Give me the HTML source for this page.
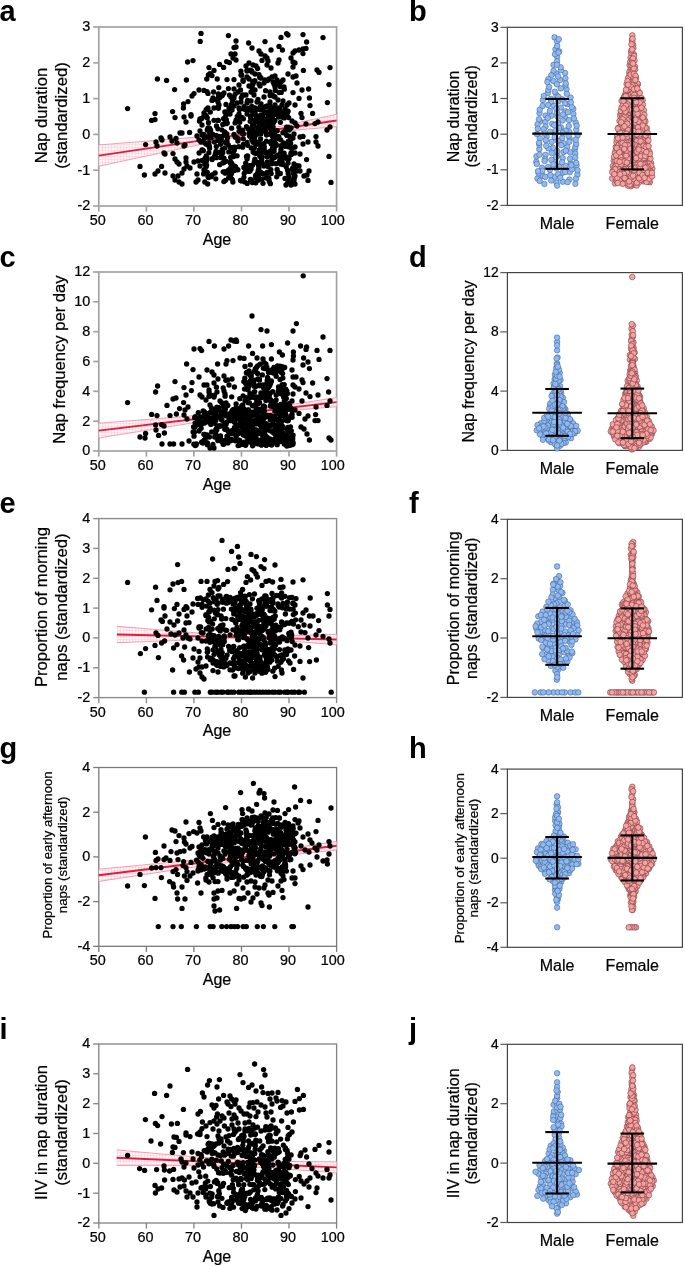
<!DOCTYPE html>
<html><head><meta charset="utf-8"><title>Nap figure</title><style>
html,body{margin:0;padding:0;background:#fff;overflow:hidden}
svg{display:block;will-change:transform}
text{font-family:"Liberation Sans",sans-serif;fill:#000;stroke:#000;stroke-width:.22px}
.lt{stroke:none}
.tk{font-size:14.4px}
.tk2{font-size:13.8px}
.ax{font-size:16px}
.tt{font-size:16.65px}
.tt2{font-size:16px}
.tts{font-size:13.2px}
.tts2{font-size:13.45px}
.lt{font-size:29px;font-weight:bold}
.k circle{r:2.65px;fill:#000}
.m circle{r:2.8px;fill:#8dbaf6;stroke:#3f5878;stroke-width:.5px}
.f circle{r:2.8px;fill:#f7a1a1;stroke:#703535;stroke-width:.55px}
.eb line{stroke:#000;stroke-width:2.1px}
.be{fill:none;stroke:#f27a93;stroke-width:.9px;opacity:.8}
.rl{stroke:#e8183c;stroke-width:1.9px}
</style></head><body>
<svg width="685" height="1266" viewBox="0 0 685 1266">
<defs><pattern id="hatch" width="3" height="3" patternUnits="userSpaceOnUse">
<rect width="3" height="3" fill="#fff5f7"/><path d="M0 0.5H3M0.5 0V3" stroke="#fbd0d9" stroke-width="0.6"/></pattern></defs>
<rect width="685" height="1266" fill="#fff"/>
<rect x="98.8" y="27.0" width="237.8" height="179.0" fill="none" stroke="#a3a3a3" stroke-width="1.7"/>
<line x1="93.2" y1="206.0" x2="98.8" y2="206.0" stroke="#a3a3a3" stroke-width="1.7"/>
<text x="90.2" y="210.4" text-anchor="end" class="tk">-2</text>
<line x1="93.2" y1="170.2" x2="98.8" y2="170.2" stroke="#a3a3a3" stroke-width="1.7"/>
<text x="90.2" y="174.6" text-anchor="end" class="tk">-1</text>
<line x1="93.2" y1="134.4" x2="98.8" y2="134.4" stroke="#a3a3a3" stroke-width="1.7"/>
<text x="90.2" y="138.8" text-anchor="end" class="tk">0</text>
<line x1="93.2" y1="98.6" x2="98.8" y2="98.6" stroke="#a3a3a3" stroke-width="1.7"/>
<text x="90.2" y="103.0" text-anchor="end" class="tk">1</text>
<line x1="93.2" y1="62.8" x2="98.8" y2="62.8" stroke="#a3a3a3" stroke-width="1.7"/>
<text x="90.2" y="67.2" text-anchor="end" class="tk">2</text>
<line x1="93.2" y1="27.0" x2="98.8" y2="27.0" stroke="#a3a3a3" stroke-width="1.7"/>
<text x="90.2" y="31.4" text-anchor="end" class="tk">3</text>
<line x1="98.8" y1="206.0" x2="98.8" y2="211.6" stroke="#a3a3a3" stroke-width="1.7"/>
<text x="97.8" y="224.9" text-anchor="middle" class="tk">50</text>
<line x1="146.4" y1="206.0" x2="146.4" y2="211.6" stroke="#a3a3a3" stroke-width="1.7"/>
<text x="145.4" y="224.9" text-anchor="middle" class="tk">60</text>
<line x1="193.9" y1="206.0" x2="193.9" y2="211.6" stroke="#a3a3a3" stroke-width="1.7"/>
<text x="192.9" y="224.9" text-anchor="middle" class="tk">70</text>
<line x1="241.5" y1="206.0" x2="241.5" y2="211.6" stroke="#a3a3a3" stroke-width="1.7"/>
<text x="240.5" y="224.9" text-anchor="middle" class="tk">80</text>
<line x1="289.0" y1="206.0" x2="289.0" y2="211.6" stroke="#a3a3a3" stroke-width="1.7"/>
<text x="288.0" y="224.9" text-anchor="middle" class="tk">90</text>
<line x1="336.6" y1="206.0" x2="336.6" y2="211.6" stroke="#a3a3a3" stroke-width="1.7"/>
<text x="332.7" y="224.9" text-anchor="middle" class="tk">100</text>
<text x="217" y="244.7" text-anchor="middle" class="ax">Age</text>
<polygon points="98.8,144.9 108.7,144.2 118.6,143.4 128.5,142.6 138.4,141.8 148.3,141.0 158.2,140.2 168.2,139.4 178.1,138.6 188.0,137.8 197.9,136.9 207.8,136.1 217.7,135.2 227.6,134.3 237.5,133.2 247.4,132.0 257.3,130.5 267.2,128.7 277.2,126.8 287.1,124.8 297.0,122.8 306.9,120.7 316.8,118.6 326.7,116.5 336.6,114.3 336.6,126.7 326.7,127.5 316.8,128.3 306.9,129.1 297.0,129.9 287.1,130.8 277.2,131.7 267.2,132.8 257.3,133.9 247.4,135.4 237.5,137.0 227.6,138.9 217.7,140.9 207.8,142.9 197.9,145.0 188.0,147.1 178.1,149.2 168.2,151.3 158.2,153.5 148.3,155.6 138.4,157.7 128.5,159.8 118.6,162.0 108.7,164.1 98.8,166.2" fill="url(#hatch)" stroke="none"/>
<polyline points="98.8,144.9 108.7,144.2 118.6,143.4 128.5,142.6 138.4,141.8 148.3,141.0 158.2,140.2 168.2,139.4 178.1,138.6 188.0,137.8 197.9,136.9 207.8,136.1 217.7,135.2 227.6,134.3 237.5,133.2 247.4,132.0 257.3,130.5 267.2,128.7 277.2,126.8 287.1,124.8 297.0,122.8 306.9,120.7 316.8,118.6 326.7,116.5 336.6,114.3" class="be"/>
<polyline points="98.8,166.2 108.7,164.1 118.6,162.0 128.5,159.8 138.4,157.7 148.3,155.6 158.2,153.5 168.2,151.3 178.1,149.2 188.0,147.1 197.9,145.0 207.8,142.9 217.7,140.9 227.6,138.9 237.5,137.0 247.4,135.4 257.3,133.9 267.2,132.8 277.2,131.7 287.1,130.8 297.0,129.9 306.9,129.1 316.8,128.3 326.7,127.5 336.6,126.7" class="be"/>
<line x1="98.8" y1="155.6" x2="336.6" y2="120.5" class="rl"/>
<g class="k">
<circle cx="255.9" cy="119.2" r="2.65"/>
<circle cx="264.3" cy="147" r="2.65"/>
<circle cx="259.7" cy="77.2" r="2.65"/>
<circle cx="255" cy="114" r="2.65"/>
<circle cx="276.8" cy="108.4" r="2.65"/>
<circle cx="302" cy="117.6" r="2.65"/>
<circle cx="288.3" cy="177.8" r="2.65"/>
<circle cx="219" cy="136.5" r="2.65"/>
<circle cx="217.8" cy="120.3" r="2.65"/>
<circle cx="207" cy="158" r="2.65"/>
<circle cx="216" cy="99.6" r="2.65"/>
<circle cx="280.9" cy="149.6" r="2.65"/>
<circle cx="202.4" cy="150.2" r="2.65"/>
<circle cx="226.6" cy="61.6" r="2.65"/>
<circle cx="262" cy="60.4" r="2.65"/>
<circle cx="261.4" cy="119.5" r="2.65"/>
<circle cx="221.8" cy="154.2" r="2.65"/>
<circle cx="270" cy="102" r="2.65"/>
<circle cx="209.6" cy="148.3" r="2.65"/>
<circle cx="178" cy="176" r="2.65"/>
<circle cx="316" cy="142" r="2.65"/>
<circle cx="222.8" cy="152.4" r="2.65"/>
<circle cx="249" cy="86" r="2.65"/>
<circle cx="262" cy="151.4" r="2.65"/>
<circle cx="312.6" cy="113.4" r="2.65"/>
<circle cx="207.8" cy="137.2" r="2.65"/>
<circle cx="206.6" cy="160.5" r="2.65"/>
<circle cx="252.9" cy="112.5" r="2.65"/>
<circle cx="207.1" cy="143.6" r="2.65"/>
<circle cx="247" cy="71" r="2.65"/>
<circle cx="279.3" cy="162" r="2.65"/>
<circle cx="190" cy="168" r="2.65"/>
<circle cx="236" cy="41" r="2.65"/>
<circle cx="225" cy="132.7" r="2.65"/>
<circle cx="255.8" cy="175.2" r="2.65"/>
<circle cx="186" cy="162" r="2.65"/>
<circle cx="289.1" cy="147.1" r="2.65"/>
<circle cx="282" cy="105" r="2.65"/>
<circle cx="304" cy="176" r="2.65"/>
<circle cx="230.6" cy="161.8" r="2.65"/>
<circle cx="286.8" cy="135.4" r="2.65"/>
<circle cx="244.2" cy="173.5" r="2.65"/>
<circle cx="256.6" cy="178.1" r="2.65"/>
<circle cx="140" cy="166.4" r="2.65"/>
<circle cx="189.6" cy="132.4" r="2.65"/>
<circle cx="242.8" cy="133.8" r="2.65"/>
<circle cx="278.2" cy="174" r="2.65"/>
<circle cx="245.5" cy="170.5" r="2.65"/>
<circle cx="203.6" cy="173.9" r="2.65"/>
<circle cx="199.5" cy="121.2" r="2.65"/>
<circle cx="248.6" cy="43" r="2.65"/>
<circle cx="271" cy="68" r="2.65"/>
<circle cx="262.5" cy="118" r="2.65"/>
<circle cx="222.9" cy="162.8" r="2.65"/>
<circle cx="294" cy="180" r="2.65"/>
<circle cx="318" cy="122" r="2.65"/>
<circle cx="210" cy="73.6" r="2.65"/>
<circle cx="203" cy="141.1" r="2.65"/>
<circle cx="221.1" cy="140.3" r="2.65"/>
<circle cx="261" cy="110" r="2.65"/>
<circle cx="267.1" cy="112.6" r="2.65"/>
<circle cx="216.3" cy="146.6" r="2.65"/>
<circle cx="225.3" cy="173.2" r="2.65"/>
<circle cx="214" cy="70.4" r="2.65"/>
<circle cx="270.2" cy="151.2" r="2.65"/>
<circle cx="276.3" cy="139.1" r="2.65"/>
<circle cx="272.1" cy="144.3" r="2.65"/>
<circle cx="180" cy="133" r="2.65"/>
<circle cx="267.6" cy="121.5" r="2.65"/>
<circle cx="303" cy="49" r="2.65"/>
<circle cx="228.8" cy="151.9" r="2.65"/>
<circle cx="211" cy="138" r="2.65"/>
<circle cx="270.1" cy="134" r="2.65"/>
<circle cx="271.7" cy="163.8" r="2.65"/>
<circle cx="230.2" cy="174.6" r="2.65"/>
<circle cx="209.6" cy="132.5" r="2.65"/>
<circle cx="231.4" cy="173.8" r="2.65"/>
<circle cx="234.3" cy="150.2" r="2.65"/>
<circle cx="250.8" cy="129.5" r="2.65"/>
<circle cx="261.1" cy="172.4" r="2.65"/>
<circle cx="252.3" cy="182.5" r="2.65"/>
<circle cx="252.5" cy="121.4" r="2.65"/>
<circle cx="214.7" cy="156.5" r="2.65"/>
<circle cx="252.4" cy="88.5" r="2.65"/>
<circle cx="206.6" cy="165.1" r="2.65"/>
<circle cx="271.1" cy="119.3" r="2.65"/>
<circle cx="278.8" cy="136.6" r="2.65"/>
<circle cx="250.2" cy="121.3" r="2.65"/>
<circle cx="234.6" cy="166.6" r="2.65"/>
<circle cx="209.5" cy="128.1" r="2.65"/>
<circle cx="255.2" cy="131.9" r="2.65"/>
<circle cx="127.6" cy="108.6" r="2.65"/>
<circle cx="200" cy="131" r="2.65"/>
<circle cx="252.4" cy="165.2" r="2.65"/>
<circle cx="306.6" cy="42" r="2.65"/>
<circle cx="280.4" cy="122.3" r="2.65"/>
<circle cx="274" cy="131.4" r="2.65"/>
<circle cx="299" cy="98.4" r="2.65"/>
<circle cx="231" cy="97" r="2.65"/>
<circle cx="316" cy="136.6" r="2.65"/>
<circle cx="291.9" cy="184" r="2.65"/>
<circle cx="291" cy="185" r="2.65"/>
<circle cx="271.5" cy="126.7" r="2.65"/>
<circle cx="233.1" cy="152.4" r="2.65"/>
<circle cx="272.1" cy="152" r="2.65"/>
<circle cx="182" cy="184" r="2.65"/>
<circle cx="212" cy="100.4" r="2.65"/>
<circle cx="252.4" cy="125.6" r="2.65"/>
<circle cx="293" cy="53" r="2.65"/>
<circle cx="258.9" cy="152.3" r="2.65"/>
<circle cx="212.1" cy="159.5" r="2.65"/>
<circle cx="204.5" cy="137.4" r="2.65"/>
<circle cx="227.3" cy="123.1" r="2.65"/>
<circle cx="275" cy="105" r="2.65"/>
<circle cx="306" cy="124" r="2.65"/>
<circle cx="267" cy="173.2" r="2.65"/>
<circle cx="216" cy="151.3" r="2.65"/>
<circle cx="247.1" cy="159" r="2.65"/>
<circle cx="287.6" cy="183" r="2.65"/>
<circle cx="277" cy="80" r="2.65"/>
<circle cx="289" cy="182" r="2.65"/>
<circle cx="260.2" cy="125.5" r="2.65"/>
<circle cx="200" cy="166" r="2.65"/>
<circle cx="238" cy="92" r="2.65"/>
<circle cx="233.7" cy="169" r="2.65"/>
<circle cx="223.9" cy="181.6" r="2.65"/>
<circle cx="165" cy="154" r="2.65"/>
<circle cx="199" cy="90" r="2.65"/>
<circle cx="219.9" cy="97.6" r="2.65"/>
<circle cx="249.7" cy="136.2" r="2.65"/>
<circle cx="263.9" cy="143.7" r="2.65"/>
<circle cx="234" cy="106" r="2.65"/>
<circle cx="259.8" cy="109.5" r="2.65"/>
<circle cx="223.6" cy="118.7" r="2.65"/>
<circle cx="184" cy="169" r="2.65"/>
<circle cx="308" cy="180.4" r="2.65"/>
<circle cx="225" cy="147.8" r="2.65"/>
<circle cx="268.9" cy="178.5" r="2.65"/>
<circle cx="224" cy="93" r="2.65"/>
<circle cx="299" cy="166" r="2.65"/>
<circle cx="234.9" cy="155.8" r="2.65"/>
<circle cx="225.7" cy="115.9" r="2.65"/>
<circle cx="290.7" cy="138.7" r="2.65"/>
<circle cx="241.8" cy="180.9" r="2.65"/>
<circle cx="259.7" cy="155.7" r="2.65"/>
<circle cx="288.7" cy="158.7" r="2.65"/>
<circle cx="327.4" cy="102.6" r="2.65"/>
<circle cx="285" cy="109" r="2.65"/>
<circle cx="267.5" cy="80.5" r="2.65"/>
<circle cx="257.9" cy="127.4" r="2.65"/>
<circle cx="208" cy="128" r="2.65"/>
<circle cx="249.3" cy="133.2" r="2.65"/>
<circle cx="239" cy="85" r="2.65"/>
<circle cx="288.3" cy="127.3" r="2.65"/>
<circle cx="241" cy="102" r="2.65"/>
<circle cx="263" cy="183.3" r="2.65"/>
<circle cx="232.5" cy="100.5" r="2.65"/>
<circle cx="259.2" cy="142" r="2.65"/>
<circle cx="246" cy="66" r="2.65"/>
<circle cx="263.9" cy="129.3" r="2.65"/>
<circle cx="263.9" cy="166.1" r="2.65"/>
<circle cx="182" cy="173" r="2.65"/>
<circle cx="251.8" cy="139.4" r="2.65"/>
<circle cx="157" cy="146" r="2.65"/>
<circle cx="225.5" cy="180.3" r="2.65"/>
<circle cx="212.6" cy="134.1" r="2.65"/>
<circle cx="300" cy="171" r="2.65"/>
<circle cx="234" cy="89" r="2.65"/>
<circle cx="288.3" cy="157.5" r="2.65"/>
<circle cx="302" cy="90" r="2.65"/>
<circle cx="295" cy="176" r="2.65"/>
<circle cx="218" cy="102" r="2.65"/>
<circle cx="288.2" cy="173.5" r="2.65"/>
<circle cx="246.5" cy="156.4" r="2.65"/>
<circle cx="252.8" cy="125.1" r="2.65"/>
<circle cx="265" cy="80" r="2.65"/>
<circle cx="242.6" cy="147.2" r="2.65"/>
<circle cx="259.1" cy="124.1" r="2.65"/>
<circle cx="233.1" cy="147.4" r="2.65"/>
<circle cx="227" cy="112" r="2.65"/>
<circle cx="290.6" cy="143.2" r="2.65"/>
<circle cx="308.6" cy="89" r="2.65"/>
<circle cx="185" cy="145" r="2.65"/>
<circle cx="247.6" cy="100.3" r="2.65"/>
<circle cx="300" cy="154" r="2.65"/>
<circle cx="243.9" cy="167.4" r="2.65"/>
<circle cx="191" cy="114.6" r="2.65"/>
<circle cx="243" cy="80" r="2.65"/>
<circle cx="177" cy="162" r="2.65"/>
<circle cx="247" cy="142.4" r="2.65"/>
<circle cx="248.7" cy="171.4" r="2.65"/>
<circle cx="255" cy="108" r="2.65"/>
<circle cx="201" cy="142" r="2.65"/>
<circle cx="257.5" cy="163" r="2.65"/>
<circle cx="252.8" cy="110.7" r="2.65"/>
<circle cx="252.7" cy="135.6" r="2.65"/>
<circle cx="292.8" cy="168" r="2.65"/>
<circle cx="246.5" cy="126.6" r="2.65"/>
<circle cx="329" cy="156.4" r="2.65"/>
<circle cx="256" cy="66" r="2.65"/>
<circle cx="164" cy="153" r="2.65"/>
<circle cx="242.5" cy="94.8" r="2.65"/>
<circle cx="261.7" cy="159.5" r="2.65"/>
<circle cx="204.8" cy="164.2" r="2.65"/>
<circle cx="205.7" cy="159.1" r="2.65"/>
<circle cx="276.7" cy="112.1" r="2.65"/>
<circle cx="222.6" cy="136.1" r="2.65"/>
<circle cx="265.8" cy="119.1" r="2.65"/>
<circle cx="282.4" cy="50" r="2.65"/>
<circle cx="229.4" cy="111.3" r="2.65"/>
<circle cx="254.9" cy="136.6" r="2.65"/>
<circle cx="279.9" cy="112.3" r="2.65"/>
<circle cx="275.3" cy="90.4" r="2.65"/>
<circle cx="268.9" cy="123.8" r="2.65"/>
<circle cx="261" cy="54" r="2.65"/>
<circle cx="223.7" cy="162.6" r="2.65"/>
<circle cx="232.2" cy="179.3" r="2.65"/>
<circle cx="272.5" cy="148.5" r="2.65"/>
<circle cx="261" cy="78" r="2.65"/>
<circle cx="288.1" cy="142.5" r="2.65"/>
<circle cx="292.9" cy="183.2" r="2.65"/>
<circle cx="239" cy="114" r="2.65"/>
<circle cx="237.3" cy="116.4" r="2.65"/>
<circle cx="258.7" cy="180.1" r="2.65"/>
<circle cx="291.4" cy="154.1" r="2.65"/>
<circle cx="254.6" cy="153" r="2.65"/>
<circle cx="246" cy="95" r="2.65"/>
<circle cx="162" cy="140" r="2.65"/>
<circle cx="264" cy="83" r="2.65"/>
<circle cx="274.9" cy="120.4" r="2.65"/>
<circle cx="250" cy="171" r="2.65"/>
<circle cx="243.9" cy="177.3" r="2.65"/>
<circle cx="253.9" cy="125.9" r="2.65"/>
<circle cx="182" cy="133" r="2.65"/>
<circle cx="261" cy="104" r="2.65"/>
<circle cx="230" cy="114" r="2.65"/>
<circle cx="259" cy="166.5" r="2.65"/>
<circle cx="286.6" cy="33.6" r="2.65"/>
<circle cx="214" cy="120.3" r="2.65"/>
<circle cx="270" cy="92" r="2.65"/>
<circle cx="192" cy="96" r="2.65"/>
<circle cx="275.9" cy="163.7" r="2.65"/>
<circle cx="236" cy="60" r="2.65"/>
<circle cx="207.3" cy="118" r="2.65"/>
<circle cx="227" cy="79.6" r="2.65"/>
<circle cx="183.4" cy="108" r="2.65"/>
<circle cx="271.2" cy="173.6" r="2.65"/>
<circle cx="297" cy="126" r="2.65"/>
<circle cx="251.2" cy="86.5" r="2.65"/>
<circle cx="231.3" cy="172.2" r="2.65"/>
<circle cx="265.7" cy="152" r="2.65"/>
<circle cx="170" cy="137" r="2.65"/>
<circle cx="277.6" cy="136.3" r="2.65"/>
<circle cx="207.3" cy="130" r="2.65"/>
<circle cx="291.9" cy="148.4" r="2.65"/>
<circle cx="267.8" cy="152.9" r="2.65"/>
<circle cx="290" cy="146" r="2.65"/>
<circle cx="274.2" cy="114.7" r="2.65"/>
<circle cx="218.4" cy="108.3" r="2.65"/>
<circle cx="197" cy="174" r="2.65"/>
<circle cx="286.2" cy="166.8" r="2.65"/>
<circle cx="188" cy="101.6" r="2.65"/>
<circle cx="220.7" cy="157.5" r="2.65"/>
<circle cx="283" cy="112" r="2.65"/>
<circle cx="161" cy="138" r="2.65"/>
<circle cx="244" cy="109" r="2.65"/>
<circle cx="309" cy="171" r="2.65"/>
<circle cx="264" cy="149.4" r="2.65"/>
<circle cx="253.3" cy="138.1" r="2.65"/>
<circle cx="271.1" cy="129.1" r="2.65"/>
<circle cx="237.9" cy="169.8" r="2.65"/>
<circle cx="203.3" cy="150.7" r="2.65"/>
<circle cx="275.6" cy="131" r="2.65"/>
<circle cx="219.7" cy="164.7" r="2.65"/>
<circle cx="291" cy="153" r="2.65"/>
<circle cx="177" cy="143" r="2.65"/>
<circle cx="203.8" cy="134.4" r="2.65"/>
<circle cx="288.1" cy="111.2" r="2.65"/>
<circle cx="279.7" cy="155.5" r="2.65"/>
<circle cx="251.8" cy="85.6" r="2.65"/>
<circle cx="289" cy="103" r="2.65"/>
<circle cx="210.3" cy="112.1" r="2.65"/>
<circle cx="229.4" cy="62.6" r="2.65"/>
<circle cx="198" cy="161" r="2.65"/>
<circle cx="285.2" cy="130.9" r="2.65"/>
<circle cx="191" cy="116" r="2.65"/>
<circle cx="273.6" cy="122.5" r="2.65"/>
<circle cx="208.9" cy="152.7" r="2.65"/>
<circle cx="204.3" cy="135.5" r="2.65"/>
<circle cx="275.4" cy="111.2" r="2.65"/>
<circle cx="277.2" cy="130.7" r="2.65"/>
<circle cx="222.6" cy="94.4" r="2.65"/>
<circle cx="288.7" cy="142.1" r="2.65"/>
<circle cx="255" cy="90" r="2.65"/>
<circle cx="289.2" cy="130.1" r="2.65"/>
<circle cx="231.1" cy="168.8" r="2.65"/>
<circle cx="234" cy="47.6" r="2.65"/>
<circle cx="261.4" cy="120.1" r="2.65"/>
<circle cx="212.1" cy="174.8" r="2.65"/>
<circle cx="273.3" cy="139.3" r="2.65"/>
<circle cx="288.6" cy="117.6" r="2.65"/>
<circle cx="260.8" cy="133.9" r="2.65"/>
<circle cx="275" cy="76" r="2.65"/>
<circle cx="234.9" cy="166.3" r="2.65"/>
<circle cx="218" cy="140.5" r="2.65"/>
<circle cx="218.4" cy="152.3" r="2.65"/>
<circle cx="262.3" cy="173.6" r="2.65"/>
<circle cx="274.1" cy="133.4" r="2.65"/>
<circle cx="199" cy="140" r="2.65"/>
<circle cx="227.5" cy="137.7" r="2.65"/>
<circle cx="239.7" cy="122.3" r="2.65"/>
<circle cx="268.7" cy="124.8" r="2.65"/>
<circle cx="284.3" cy="89.2" r="2.65"/>
<circle cx="204.7" cy="142.8" r="2.65"/>
<circle cx="229.8" cy="174.2" r="2.65"/>
<circle cx="288.8" cy="128.6" r="2.65"/>
<circle cx="202.2" cy="160.5" r="2.65"/>
<circle cx="234" cy="98" r="2.65"/>
<circle cx="265.6" cy="132" r="2.65"/>
<circle cx="292.1" cy="182.6" r="2.65"/>
<circle cx="271" cy="155.9" r="2.65"/>
<circle cx="295" cy="147" r="2.65"/>
<circle cx="281.6" cy="157.4" r="2.65"/>
<circle cx="172.6" cy="111.6" r="2.65"/>
<circle cx="323" cy="37.6" r="2.65"/>
<circle cx="296" cy="76" r="2.65"/>
<circle cx="221.8" cy="129.8" r="2.65"/>
<circle cx="295" cy="184" r="2.65"/>
<circle cx="327" cy="130" r="2.65"/>
<circle cx="278" cy="63" r="2.65"/>
<circle cx="212.2" cy="134.8" r="2.65"/>
<circle cx="246.4" cy="109.8" r="2.65"/>
<circle cx="306" cy="48.4" r="2.65"/>
<circle cx="269.3" cy="181.5" r="2.65"/>
<circle cx="267.2" cy="156.7" r="2.65"/>
<circle cx="204.8" cy="169.9" r="2.65"/>
<circle cx="218.3" cy="120.4" r="2.65"/>
<circle cx="295.3" cy="169.5" r="2.65"/>
<circle cx="251" cy="101" r="2.65"/>
<circle cx="210.6" cy="129.9" r="2.65"/>
<circle cx="243.4" cy="133.9" r="2.65"/>
<circle cx="239" cy="108" r="2.65"/>
<circle cx="220.7" cy="153.6" r="2.65"/>
<circle cx="247.2" cy="183.4" r="2.65"/>
<circle cx="155" cy="174" r="2.65"/>
<circle cx="266.6" cy="135.1" r="2.65"/>
<circle cx="217.9" cy="128.8" r="2.65"/>
<circle cx="260.4" cy="125.1" r="2.65"/>
<circle cx="200.2" cy="41.4" r="2.65"/>
<circle cx="207" cy="91.6" r="2.65"/>
<circle cx="218.8" cy="87.6" r="2.65"/>
<circle cx="260.5" cy="139" r="2.65"/>
<circle cx="268.4" cy="115" r="2.65"/>
<circle cx="274" cy="84" r="2.65"/>
<circle cx="225.4" cy="142.5" r="2.65"/>
<circle cx="306.6" cy="159.6" r="2.65"/>
<circle cx="242.9" cy="130.1" r="2.65"/>
<circle cx="175" cy="117.6" r="2.65"/>
<circle cx="280.1" cy="158.7" r="2.65"/>
<circle cx="247" cy="114" r="2.65"/>
<circle cx="212" cy="75.6" r="2.65"/>
<circle cx="256.3" cy="108.9" r="2.65"/>
<circle cx="273.2" cy="96" r="2.65"/>
<circle cx="243.8" cy="95.1" r="2.65"/>
<circle cx="278" cy="84" r="2.65"/>
<circle cx="286.6" cy="127.1" r="2.65"/>
<circle cx="293" cy="67" r="2.65"/>
<circle cx="294.3" cy="177.7" r="2.65"/>
<circle cx="268.1" cy="178" r="2.65"/>
<circle cx="240.5" cy="89.9" r="2.65"/>
<circle cx="274.4" cy="141" r="2.65"/>
<circle cx="253.9" cy="134.6" r="2.65"/>
<circle cx="297" cy="83" r="2.65"/>
<circle cx="253" cy="121.7" r="2.65"/>
<circle cx="221" cy="138.5" r="2.65"/>
<circle cx="293" cy="77" r="2.65"/>
<circle cx="161.6" cy="166.4" r="2.65"/>
<circle cx="287" cy="105" r="2.65"/>
<circle cx="258.6" cy="165.6" r="2.65"/>
<circle cx="252.6" cy="110.4" r="2.65"/>
<circle cx="288.9" cy="143.3" r="2.65"/>
<circle cx="214" cy="108" r="2.65"/>
<circle cx="253.1" cy="142.3" r="2.65"/>
<circle cx="256.2" cy="153.4" r="2.65"/>
<circle cx="266.1" cy="165.1" r="2.65"/>
<circle cx="235.6" cy="166.9" r="2.65"/>
<circle cx="252.8" cy="140.9" r="2.65"/>
<circle cx="329" cy="84.6" r="2.65"/>
<circle cx="289" cy="176.6" r="2.65"/>
<circle cx="319" cy="72.4" r="2.65"/>
<circle cx="267" cy="65" r="2.65"/>
<circle cx="226" cy="104.4" r="2.65"/>
<circle cx="218.3" cy="138.2" r="2.65"/>
<circle cx="270.4" cy="183.7" r="2.65"/>
<circle cx="274.5" cy="157.6" r="2.65"/>
<circle cx="279.2" cy="92.5" r="2.65"/>
<circle cx="270.8" cy="169.7" r="2.65"/>
<circle cx="245.7" cy="163.2" r="2.65"/>
<circle cx="256.6" cy="131.9" r="2.65"/>
<circle cx="274" cy="108.3" r="2.65"/>
<circle cx="277" cy="114" r="2.65"/>
<circle cx="229.5" cy="95.1" r="2.65"/>
<circle cx="283" cy="101" r="2.65"/>
<circle cx="246.2" cy="108.7" r="2.65"/>
<circle cx="254" cy="81.7" r="2.65"/>
<circle cx="155" cy="113.6" r="2.65"/>
<circle cx="259" cy="84" r="2.65"/>
<circle cx="280.7" cy="139.8" r="2.65"/>
<circle cx="215.1" cy="173" r="2.65"/>
<circle cx="270" cy="109.6" r="2.65"/>
<circle cx="253.8" cy="110.2" r="2.65"/>
<circle cx="259" cy="74.6" r="2.65"/>
<circle cx="249" cy="110" r="2.65"/>
<circle cx="303.4" cy="70.4" r="2.65"/>
<circle cx="303" cy="53.6" r="2.65"/>
<circle cx="194" cy="93.6" r="2.65"/>
<circle cx="206.5" cy="160.7" r="2.65"/>
<circle cx="251.8" cy="106.3" r="2.65"/>
<circle cx="235.3" cy="136.6" r="2.65"/>
<circle cx="265.5" cy="127.4" r="2.65"/>
<circle cx="274.2" cy="148.5" r="2.65"/>
<circle cx="249" cy="108.4" r="2.65"/>
<circle cx="261.3" cy="118" r="2.65"/>
<circle cx="229.2" cy="172.4" r="2.65"/>
<circle cx="281.4" cy="116.2" r="2.65"/>
<circle cx="187.6" cy="62" r="2.65"/>
<circle cx="287.5" cy="170.1" r="2.65"/>
<circle cx="230.4" cy="176.3" r="2.65"/>
<circle cx="257.3" cy="179.8" r="2.65"/>
<circle cx="259" cy="143.9" r="2.65"/>
<circle cx="280.3" cy="173.5" r="2.65"/>
<circle cx="175" cy="180" r="2.65"/>
<circle cx="202" cy="125" r="2.65"/>
<circle cx="283" cy="80" r="2.65"/>
<circle cx="268.5" cy="115.3" r="2.65"/>
<circle cx="211.1" cy="176.7" r="2.65"/>
<circle cx="240.5" cy="180.5" r="2.65"/>
<circle cx="172" cy="141" r="2.65"/>
<circle cx="252.5" cy="120.7" r="2.65"/>
<circle cx="184" cy="146" r="2.65"/>
<circle cx="202" cy="135" r="2.65"/>
<circle cx="272.1" cy="130.2" r="2.65"/>
<circle cx="280.4" cy="159.2" r="2.65"/>
<circle cx="206.2" cy="156" r="2.65"/>
<circle cx="175" cy="159" r="2.65"/>
<circle cx="234" cy="79.6" r="2.65"/>
<circle cx="232.9" cy="106.1" r="2.65"/>
<circle cx="210" cy="135" r="2.65"/>
<circle cx="292" cy="121" r="2.65"/>
<circle cx="267.1" cy="172.4" r="2.65"/>
<circle cx="251.4" cy="128.9" r="2.65"/>
<circle cx="202" cy="150" r="2.65"/>
<circle cx="174.6" cy="89.6" r="2.65"/>
<circle cx="224" cy="158.1" r="2.65"/>
<circle cx="260" cy="85.9" r="2.65"/>
<circle cx="273.9" cy="108.4" r="2.65"/>
<circle cx="222.8" cy="124.4" r="2.65"/>
<circle cx="207.3" cy="172.3" r="2.65"/>
<circle cx="218.4" cy="94" r="2.65"/>
<circle cx="286.2" cy="110.9" r="2.65"/>
<circle cx="224.6" cy="132" r="2.65"/>
<circle cx="243.4" cy="118.8" r="2.65"/>
<circle cx="234" cy="134.4" r="2.65"/>
<circle cx="254.9" cy="80.7" r="2.65"/>
<circle cx="208.5" cy="122.7" r="2.65"/>
<circle cx="157.4" cy="79" r="2.65"/>
<circle cx="237" cy="103" r="2.65"/>
<circle cx="274" cy="151.3" r="2.65"/>
<circle cx="158" cy="171" r="2.65"/>
<circle cx="243.9" cy="106.7" r="2.65"/>
<circle cx="272.5" cy="113.1" r="2.65"/>
<circle cx="289" cy="158" r="2.65"/>
<circle cx="251" cy="92" r="2.65"/>
<circle cx="293" cy="138" r="2.65"/>
<circle cx="250.2" cy="70.1" r="2.65"/>
<circle cx="204" cy="113" r="2.65"/>
<circle cx="226.8" cy="134" r="2.65"/>
<circle cx="268" cy="61" r="2.65"/>
<circle cx="259.2" cy="149.8" r="2.65"/>
<circle cx="204" cy="170" r="2.65"/>
<circle cx="254.3" cy="147.8" r="2.65"/>
<circle cx="252" cy="48" r="2.65"/>
<circle cx="303" cy="144" r="2.65"/>
<circle cx="291" cy="58" r="2.65"/>
<circle cx="282.9" cy="132.7" r="2.65"/>
<circle cx="237.5" cy="119" r="2.65"/>
<circle cx="219.6" cy="64.4" r="2.65"/>
<circle cx="271.9" cy="123.5" r="2.65"/>
<circle cx="247.9" cy="166.2" r="2.65"/>
<circle cx="270.6" cy="133.6" r="2.65"/>
<circle cx="241.9" cy="117.3" r="2.65"/>
<circle cx="206.2" cy="166.5" r="2.65"/>
<circle cx="282.1" cy="161.9" r="2.65"/>
<circle cx="293" cy="169" r="2.65"/>
<circle cx="252.5" cy="110.2" r="2.65"/>
<circle cx="278" cy="100" r="2.65"/>
<circle cx="231.8" cy="163.5" r="2.65"/>
<circle cx="330" cy="127" r="2.65"/>
<circle cx="201.8" cy="118.5" r="2.65"/>
<circle cx="288" cy="74" r="2.65"/>
<circle cx="280.6" cy="164" r="2.65"/>
<circle cx="268.3" cy="127.3" r="2.65"/>
<circle cx="255.8" cy="144.6" r="2.65"/>
<circle cx="280.7" cy="152.7" r="2.65"/>
<circle cx="222.2" cy="149.5" r="2.65"/>
<circle cx="247" cy="103" r="2.65"/>
<circle cx="252.7" cy="81.3" r="2.65"/>
<circle cx="239.1" cy="131.3" r="2.65"/>
<circle cx="296.8" cy="165.6" r="2.65"/>
<circle cx="288" cy="163" r="2.65"/>
<circle cx="209.4" cy="146.4" r="2.65"/>
<circle cx="280.1" cy="86.5" r="2.65"/>
<circle cx="295" cy="123" r="2.65"/>
<circle cx="232" cy="110" r="2.65"/>
<circle cx="243.3" cy="144.3" r="2.65"/>
<circle cx="253.1" cy="152.1" r="2.65"/>
<circle cx="277.5" cy="155.2" r="2.65"/>
<circle cx="307" cy="175" r="2.65"/>
<circle cx="226.2" cy="161.3" r="2.65"/>
<circle cx="289.4" cy="136.1" r="2.65"/>
<circle cx="251.2" cy="147.9" r="2.65"/>
<circle cx="200" cy="119" r="2.65"/>
<circle cx="279" cy="46.4" r="2.65"/>
<circle cx="266.4" cy="141.2" r="2.65"/>
<circle cx="257.6" cy="68.5" r="2.65"/>
<circle cx="267" cy="112" r="2.65"/>
<circle cx="284.1" cy="153.1" r="2.65"/>
<circle cx="248.4" cy="129" r="2.65"/>
<circle cx="251.6" cy="70.9" r="2.65"/>
<circle cx="259.9" cy="143.8" r="2.65"/>
<circle cx="261" cy="146.7" r="2.65"/>
<circle cx="236.1" cy="120.1" r="2.65"/>
<circle cx="245.8" cy="109.5" r="2.65"/>
<circle cx="310" cy="105.6" r="2.65"/>
<circle cx="276.2" cy="144.5" r="2.65"/>
<circle cx="250.6" cy="117.4" r="2.65"/>
<circle cx="206.1" cy="109.7" r="2.65"/>
<circle cx="206.8" cy="79" r="2.65"/>
<circle cx="187" cy="166" r="2.65"/>
<circle cx="317" cy="70" r="2.65"/>
<circle cx="270.1" cy="95.5" r="2.65"/>
<circle cx="222.1" cy="95.7" r="2.65"/>
<circle cx="285.6" cy="156.7" r="2.65"/>
<circle cx="166.6" cy="80.4" r="2.65"/>
<circle cx="303" cy="136.4" r="2.65"/>
<circle cx="295" cy="63" r="2.65"/>
<circle cx="277.1" cy="169.5" r="2.65"/>
<circle cx="309.4" cy="98" r="2.65"/>
<circle cx="269.1" cy="121" r="2.65"/>
<circle cx="212.2" cy="158.7" r="2.65"/>
<circle cx="280.4" cy="116.6" r="2.65"/>
<circle cx="241.3" cy="97.7" r="2.65"/>
<circle cx="226.2" cy="123.7" r="2.65"/>
<circle cx="318" cy="146" r="2.65"/>
<circle cx="223.4" cy="162.6" r="2.65"/>
<circle cx="259.3" cy="120.6" r="2.65"/>
<circle cx="288.4" cy="141.1" r="2.65"/>
<circle cx="255.9" cy="162" r="2.65"/>
<circle cx="264.2" cy="152.2" r="2.65"/>
<circle cx="224.9" cy="112" r="2.65"/>
<circle cx="247.7" cy="145.3" r="2.65"/>
<circle cx="303" cy="34.6" r="2.65"/>
<circle cx="276.2" cy="145.3" r="2.65"/>
<circle cx="206" cy="144" r="2.65"/>
<circle cx="260" cy="115.6" r="2.65"/>
<circle cx="205" cy="158.5" r="2.65"/>
<circle cx="151.6" cy="120.4" r="2.65"/>
<circle cx="165" cy="173" r="2.65"/>
<circle cx="216.5" cy="125.9" r="2.65"/>
<circle cx="265.3" cy="106.7" r="2.65"/>
<circle cx="209" cy="67.6" r="2.65"/>
<circle cx="235.3" cy="137.2" r="2.65"/>
<circle cx="293.6" cy="173.5" r="2.65"/>
<circle cx="197" cy="136" r="2.65"/>
<circle cx="271.8" cy="113" r="2.65"/>
<circle cx="272.4" cy="116.2" r="2.65"/>
<circle cx="243.2" cy="81.3" r="2.65"/>
<circle cx="228.4" cy="88.6" r="2.65"/>
<circle cx="186" cy="158" r="2.65"/>
<circle cx="271.1" cy="141.6" r="2.65"/>
<circle cx="275.5" cy="156.6" r="2.65"/>
<circle cx="232.9" cy="182" r="2.65"/>
<circle cx="279" cy="108" r="2.65"/>
<circle cx="145.6" cy="144.6" r="2.65"/>
<circle cx="183.6" cy="104" r="2.65"/>
<circle cx="271.8" cy="160.2" r="2.65"/>
<circle cx="269" cy="79" r="2.65"/>
<circle cx="301" cy="113.4" r="2.65"/>
<circle cx="215.4" cy="153.8" r="2.65"/>
<circle cx="272" cy="95" r="2.65"/>
<circle cx="233.8" cy="165.8" r="2.65"/>
<circle cx="258.8" cy="131.8" r="2.65"/>
<circle cx="258.2" cy="170.4" r="2.65"/>
<circle cx="217.2" cy="79" r="2.65"/>
<circle cx="265" cy="41.6" r="2.65"/>
<circle cx="257" cy="102" r="2.65"/>
<circle cx="176" cy="138.4" r="2.65"/>
<circle cx="230.3" cy="168.5" r="2.65"/>
<circle cx="281" cy="37.4" r="2.65"/>
<circle cx="227" cy="141.2" r="2.65"/>
<circle cx="295" cy="105" r="2.65"/>
<circle cx="243.3" cy="138.8" r="2.65"/>
<circle cx="235.1" cy="94.3" r="2.65"/>
<circle cx="262.9" cy="108.4" r="2.65"/>
<circle cx="258" cy="99.4" r="2.65"/>
<circle cx="284.2" cy="117.9" r="2.65"/>
<circle cx="179" cy="164" r="2.65"/>
<circle cx="204" cy="116" r="2.65"/>
<circle cx="273" cy="111" r="2.65"/>
<circle cx="287.5" cy="111.8" r="2.65"/>
<circle cx="258.4" cy="176.4" r="2.65"/>
<circle cx="234.8" cy="147.2" r="2.65"/>
<circle cx="235.1" cy="122.9" r="2.65"/>
<circle cx="255.8" cy="182.8" r="2.65"/>
<circle cx="295" cy="153" r="2.65"/>
<circle cx="254.3" cy="161.8" r="2.65"/>
<circle cx="264" cy="97" r="2.65"/>
<circle cx="260.4" cy="77.7" r="2.65"/>
<circle cx="236.5" cy="120.3" r="2.65"/>
<circle cx="228.7" cy="177.8" r="2.65"/>
<circle cx="225.1" cy="171.7" r="2.65"/>
<circle cx="206.2" cy="115.7" r="2.65"/>
<circle cx="263.2" cy="122.4" r="2.65"/>
<circle cx="273.1" cy="126.8" r="2.65"/>
<circle cx="238.8" cy="146.7" r="2.65"/>
<circle cx="247.6" cy="155.9" r="2.65"/>
<circle cx="230.6" cy="147.7" r="2.65"/>
<circle cx="247.2" cy="70.2" r="2.65"/>
<circle cx="279.1" cy="112.7" r="2.65"/>
<circle cx="241.7" cy="74.9" r="2.65"/>
<circle cx="265" cy="125.9" r="2.65"/>
<circle cx="213.6" cy="92" r="2.65"/>
<circle cx="291" cy="128" r="2.65"/>
<circle cx="271.8" cy="115" r="2.65"/>
<circle cx="198" cy="180" r="2.65"/>
<circle cx="293" cy="92.6" r="2.65"/>
<circle cx="265.9" cy="152.7" r="2.65"/>
<circle cx="300" cy="137" r="2.65"/>
<circle cx="260.9" cy="157.4" r="2.65"/>
<circle cx="231.6" cy="128.2" r="2.65"/>
<circle cx="258.3" cy="116.5" r="2.65"/>
<circle cx="207.7" cy="184" r="2.65"/>
<circle cx="265.6" cy="90.7" r="2.65"/>
<circle cx="291.2" cy="154.4" r="2.65"/>
<circle cx="251.4" cy="131.5" r="2.65"/>
<circle cx="173" cy="176" r="2.65"/>
<circle cx="199.1" cy="153" r="2.65"/>
<circle cx="285" cy="178.4" r="2.65"/>
<circle cx="155" cy="119.6" r="2.65"/>
<circle cx="230.6" cy="157.4" r="2.65"/>
<circle cx="260.1" cy="106.9" r="2.65"/>
<circle cx="241" cy="75" r="2.65"/>
<circle cx="196" cy="182" r="2.65"/>
<circle cx="294" cy="164" r="2.65"/>
<circle cx="270.7" cy="134.1" r="2.65"/>
<circle cx="267" cy="58" r="2.65"/>
<circle cx="247" cy="77" r="2.65"/>
<circle cx="274.7" cy="134.9" r="2.65"/>
<circle cx="255.3" cy="110.8" r="2.65"/>
<circle cx="237.2" cy="169.5" r="2.65"/>
<circle cx="238.9" cy="127.3" r="2.65"/>
<circle cx="231" cy="54" r="2.65"/>
<circle cx="293.1" cy="179.3" r="2.65"/>
<circle cx="228.4" cy="35.6" r="2.65"/>
<circle cx="233" cy="58" r="2.65"/>
<circle cx="292.1" cy="169.4" r="2.65"/>
<circle cx="253" cy="65" r="2.65"/>
<circle cx="173" cy="153.6" r="2.65"/>
<circle cx="261.6" cy="162.8" r="2.65"/>
<circle cx="237.9" cy="141" r="2.65"/>
<circle cx="207.9" cy="107.9" r="2.65"/>
<circle cx="208.4" cy="75" r="2.65"/>
<circle cx="186" cy="122" r="2.65"/>
<circle cx="218.6" cy="96.8" r="2.65"/>
<circle cx="267.9" cy="166.6" r="2.65"/>
<circle cx="208" cy="93.4" r="2.65"/>
<circle cx="255" cy="74" r="2.65"/>
<circle cx="262.3" cy="163.1" r="2.65"/>
<circle cx="256.6" cy="178.6" r="2.65"/>
<circle cx="250.4" cy="179.4" r="2.65"/>
<circle cx="214.9" cy="156.3" r="2.65"/>
<circle cx="233" cy="156" r="2.65"/>
<circle cx="267" cy="106" r="2.65"/>
<circle cx="254.9" cy="162.6" r="2.65"/>
<circle cx="267.3" cy="162" r="2.65"/>
<circle cx="208.5" cy="177.6" r="2.65"/>
<circle cx="275" cy="97" r="2.65"/>
<circle cx="204.8" cy="182" r="2.65"/>
<circle cx="252" cy="72" r="2.65"/>
<circle cx="279" cy="60" r="2.65"/>
<circle cx="208.6" cy="145.5" r="2.65"/>
<circle cx="263.5" cy="174" r="2.65"/>
<circle cx="251.5" cy="179.9" r="2.65"/>
<circle cx="144.4" cy="175" r="2.65"/>
<circle cx="295" cy="51" r="2.65"/>
<circle cx="262.2" cy="156.8" r="2.65"/>
<circle cx="226.4" cy="120" r="2.65"/>
<circle cx="193" cy="60.6" r="2.65"/>
<circle cx="213" cy="98" r="2.65"/>
<circle cx="265" cy="56" r="2.65"/>
<circle cx="280.9" cy="146" r="2.65"/>
<circle cx="290.3" cy="143.2" r="2.65"/>
<circle cx="253.9" cy="136.6" r="2.65"/>
<circle cx="273.1" cy="82" r="2.65"/>
<circle cx="216.1" cy="135.5" r="2.65"/>
<circle cx="179" cy="182" r="2.65"/>
<circle cx="238.2" cy="138.7" r="2.65"/>
<circle cx="249" cy="63" r="2.65"/>
<circle cx="201" cy="33.4" r="2.65"/>
<circle cx="296.6" cy="171" r="2.65"/>
<circle cx="237.1" cy="155.8" r="2.65"/>
<circle cx="272.5" cy="136.4" r="2.65"/>
<circle cx="208.9" cy="142.6" r="2.65"/>
<circle cx="214.4" cy="142.1" r="2.65"/>
<circle cx="285.7" cy="130.4" r="2.65"/>
<circle cx="260.5" cy="129.1" r="2.65"/>
<circle cx="216.6" cy="157.7" r="2.65"/>
<circle cx="279.7" cy="109.1" r="2.65"/>
<circle cx="215.8" cy="178.8" r="2.65"/>
<circle cx="255.8" cy="121.8" r="2.65"/>
<circle cx="229" cy="108" r="2.65"/>
<circle cx="240.9" cy="71.1" r="2.65"/>
<circle cx="281.2" cy="146" r="2.65"/>
<circle cx="271.4" cy="143.9" r="2.65"/>
<circle cx="286" cy="185" r="2.65"/>
<circle cx="244.5" cy="181.8" r="2.65"/>
<circle cx="281" cy="82" r="2.65"/>
<circle cx="284" cy="87" r="2.65"/>
<circle cx="228.4" cy="170.2" r="2.65"/>
<circle cx="271" cy="50" r="2.65"/>
<circle cx="208" cy="176.5" r="2.65"/>
<circle cx="330" cy="67.6" r="2.65"/>
<circle cx="269.9" cy="142.1" r="2.65"/>
<circle cx="209" cy="145.6" r="2.65"/>
<circle cx="231.4" cy="104.4" r="2.65"/>
<circle cx="258.7" cy="162.6" r="2.65"/>
<circle cx="254.9" cy="159.2" r="2.65"/>
<circle cx="219" cy="105" r="2.65"/>
<circle cx="251.1" cy="115.8" r="2.65"/>
<circle cx="276.7" cy="176.8" r="2.65"/>
<circle cx="232.9" cy="156.7" r="2.65"/>
<circle cx="272" cy="77" r="2.65"/>
<circle cx="270.1" cy="105.9" r="2.65"/>
<circle cx="281.2" cy="92.4" r="2.65"/>
<circle cx="284.7" cy="114.8" r="2.65"/>
<circle cx="287" cy="114.2" r="2.65"/>
<circle cx="194" cy="162" r="2.65"/>
<circle cx="278.4" cy="137.1" r="2.65"/>
<circle cx="223.6" cy="67.4" r="2.65"/>
<circle cx="223.2" cy="171.8" r="2.65"/>
<circle cx="253.8" cy="108.6" r="2.65"/>
<circle cx="249" cy="79" r="2.65"/>
<circle cx="186.4" cy="80" r="2.65"/>
<circle cx="275" cy="87" r="2.65"/>
<circle cx="277.9" cy="172.3" r="2.65"/>
<circle cx="293" cy="62" r="2.65"/>
<circle cx="262.5" cy="145.5" r="2.65"/>
<circle cx="263" cy="150.8" r="2.65"/>
<circle cx="253.1" cy="128.5" r="2.65"/>
<circle cx="249.8" cy="165.6" r="2.65"/>
<circle cx="331" cy="182.4" r="2.65"/>
<circle cx="259" cy="51" r="2.65"/>
<circle cx="264.9" cy="112.2" r="2.65"/>
<circle cx="308" cy="142" r="2.65"/>
<circle cx="184" cy="117" r="2.65"/>
<circle cx="250.9" cy="180.6" r="2.65"/>
<circle cx="255.2" cy="114.4" r="2.65"/>
<circle cx="285" cy="133" r="2.65"/>
<circle cx="288" cy="35" r="2.65"/>
<circle cx="239.5" cy="109.6" r="2.65"/>
<circle cx="238.3" cy="120.2" r="2.65"/>
<circle cx="280.5" cy="157.6" r="2.65"/>
<circle cx="251.1" cy="168.9" r="2.65"/>
<circle cx="254" cy="95" r="2.65"/>
<circle cx="275.8" cy="145" r="2.65"/>
<circle cx="247.6" cy="167" r="2.65"/>
<circle cx="283.2" cy="157.3" r="2.65"/>
<circle cx="254.8" cy="140.3" r="2.65"/>
<circle cx="283.6" cy="142.8" r="2.65"/>
<circle cx="263" cy="115" r="2.65"/>
<circle cx="236" cy="47" r="2.65"/>
<circle cx="253" cy="84" r="2.65"/>
<circle cx="235" cy="54" r="2.65"/>
<circle cx="254" cy="138.3" r="2.65"/>
<circle cx="262.1" cy="179.1" r="2.65"/>
<circle cx="204" cy="90.4" r="2.65"/>
<circle cx="225.4" cy="120.5" r="2.65"/>
<circle cx="257.3" cy="134.2" r="2.65"/>
<circle cx="218" cy="107" r="2.65"/>
<circle cx="283.1" cy="164.6" r="2.65"/>
<circle cx="258.9" cy="168.8" r="2.65"/>
<circle cx="234.4" cy="170.6" r="2.65"/>
<circle cx="207.6" cy="109" r="2.65"/>
<circle cx="299" cy="50" r="2.65"/>
<circle cx="286" cy="158.3" r="2.65"/>
<circle cx="255.6" cy="176.2" r="2.65"/>
<circle cx="220.6" cy="144.3" r="2.65"/>
<circle cx="278.6" cy="117.1" r="2.65"/>
<circle cx="156" cy="142" r="2.65"/>
<circle cx="262.1" cy="130.9" r="2.65"/>
<circle cx="271.9" cy="126.6" r="2.65"/>
<circle cx="292.2" cy="183.6" r="2.65"/>
<circle cx="228.3" cy="144.8" r="2.65"/>
<circle cx="209.6" cy="129.5" r="2.65"/>
<circle cx="282.1" cy="117.1" r="2.65"/>
<circle cx="285.2" cy="146.4" r="2.65"/>
<circle cx="315" cy="123.6" r="2.65"/>
<circle cx="257.5" cy="173.4" r="2.65"/>
<circle cx="230.6" cy="163.4" r="2.65"/>
<circle cx="266.4" cy="178" r="2.65"/>
<circle cx="294" cy="134" r="2.65"/>
</g>
<rect x="507.4" y="27.3" width="175.0" height="178.1" fill="none" stroke="#444" stroke-width="1.2"/>
<line x1="500.4" y1="205.4" x2="507.4" y2="205.4" stroke="#5a5a5a" stroke-width="1.2"/>
<text x="498.7" y="209.8" text-anchor="end" class="tk2">-2</text>
<line x1="500.4" y1="169.8" x2="507.4" y2="169.8" stroke="#5a5a5a" stroke-width="1.2"/>
<text x="498.7" y="174.2" text-anchor="end" class="tk2">-1</text>
<line x1="500.4" y1="134.2" x2="507.4" y2="134.2" stroke="#5a5a5a" stroke-width="1.2"/>
<text x="498.7" y="138.6" text-anchor="end" class="tk2">0</text>
<line x1="500.4" y1="98.5" x2="507.4" y2="98.5" stroke="#5a5a5a" stroke-width="1.2"/>
<text x="498.7" y="102.9" text-anchor="end" class="tk2">1</text>
<line x1="500.4" y1="62.9" x2="507.4" y2="62.9" stroke="#5a5a5a" stroke-width="1.2"/>
<text x="498.7" y="67.3" text-anchor="end" class="tk2">2</text>
<line x1="500.4" y1="27.3" x2="507.4" y2="27.3" stroke="#5a5a5a" stroke-width="1.2"/>
<text x="498.7" y="31.7" text-anchor="end" class="tk2">3</text>
<text x="557.1" y="228.6" text-anchor="middle" class="ax">Male</text>
<text x="632.3" y="228.6" text-anchor="middle" class="ax">Female</text>
<g class="m">
<circle cx="539.3" cy="149.2" r="2.8"/>
<circle cx="562.2" cy="137.9" r="2.8"/>
<circle cx="540.1" cy="121.4" r="2.8"/>
<circle cx="553.5" cy="81.1" r="2.8"/>
<circle cx="577.6" cy="135.5" r="2.8"/>
<circle cx="577.4" cy="174.6" r="2.8"/>
<circle cx="536.3" cy="161.7" r="2.8"/>
<circle cx="569.4" cy="179.5" r="2.8"/>
<circle cx="553" cy="147.8" r="2.8"/>
<circle cx="547.8" cy="93.1" r="2.8"/>
<circle cx="560" cy="80" r="2.8"/>
<circle cx="569.7" cy="172.3" r="2.8"/>
<circle cx="565.4" cy="111.2" r="2.8"/>
<circle cx="545.7" cy="115.6" r="2.8"/>
<circle cx="565.5" cy="166" r="2.8"/>
<circle cx="562.9" cy="181.7" r="2.8"/>
<circle cx="554.6" cy="37.4" r="2.8"/>
<circle cx="555.5" cy="49.3" r="2.8"/>
<circle cx="556.4" cy="168.5" r="2.8"/>
<circle cx="570.6" cy="97.6" r="2.8"/>
<circle cx="556.2" cy="73.5" r="2.8"/>
<circle cx="554.9" cy="134.8" r="2.8"/>
<circle cx="546.6" cy="136.7" r="2.8"/>
<circle cx="551.7" cy="153.1" r="2.8"/>
<circle cx="567.2" cy="104.1" r="2.8"/>
<circle cx="545.5" cy="154.8" r="2.8"/>
<circle cx="566.5" cy="89.3" r="2.8"/>
<circle cx="562.5" cy="172.8" r="2.8"/>
<circle cx="545.8" cy="140.2" r="2.8"/>
<circle cx="565.5" cy="85.3" r="2.8"/>
<circle cx="545.4" cy="121.9" r="2.8"/>
<circle cx="548.4" cy="148.3" r="2.8"/>
<circle cx="565" cy="117.5" r="2.8"/>
<circle cx="539.5" cy="113.2" r="2.8"/>
<circle cx="567.6" cy="182.1" r="2.8"/>
<circle cx="573.4" cy="114" r="2.8"/>
<circle cx="537.6" cy="124.4" r="2.8"/>
<circle cx="553.5" cy="70.8" r="2.8"/>
<circle cx="567.3" cy="146.8" r="2.8"/>
<circle cx="565.1" cy="73" r="2.8"/>
<circle cx="576.5" cy="165.3" r="2.8"/>
<circle cx="576.3" cy="129.8" r="2.8"/>
<circle cx="551.2" cy="180.5" r="2.8"/>
<circle cx="556.3" cy="95.1" r="2.8"/>
<circle cx="549.9" cy="169.7" r="2.8"/>
<circle cx="557.4" cy="155.6" r="2.8"/>
<circle cx="553.9" cy="160.2" r="2.8"/>
<circle cx="557.6" cy="116.8" r="2.8"/>
<circle cx="563.4" cy="152.1" r="2.8"/>
<circle cx="557.1" cy="41.6" r="2.8"/>
<circle cx="536.8" cy="164" r="2.8"/>
<circle cx="561" cy="70.3" r="2.8"/>
<circle cx="554.7" cy="137.2" r="2.8"/>
<circle cx="548.3" cy="89.9" r="2.8"/>
<circle cx="539.7" cy="109.6" r="2.8"/>
<circle cx="544.9" cy="159.1" r="2.8"/>
<circle cx="544.6" cy="161" r="2.8"/>
<circle cx="565.1" cy="103.1" r="2.8"/>
<circle cx="555" cy="176.7" r="2.8"/>
<circle cx="537.9" cy="128.7" r="2.8"/>
<circle cx="545.5" cy="126.7" r="2.8"/>
<circle cx="558.4" cy="96.8" r="2.8"/>
<circle cx="550.8" cy="98.9" r="2.8"/>
<circle cx="536.5" cy="156.3" r="2.8"/>
<circle cx="548.1" cy="167.1" r="2.8"/>
<circle cx="551.4" cy="159.9" r="2.8"/>
<circle cx="559.1" cy="166.6" r="2.8"/>
<circle cx="551.3" cy="101.8" r="2.8"/>
<circle cx="557.1" cy="56.7" r="2.8"/>
<circle cx="569.4" cy="132" r="2.8"/>
<circle cx="574.7" cy="149.9" r="2.8"/>
<circle cx="555" cy="54.2" r="2.8"/>
<circle cx="565.4" cy="78.3" r="2.8"/>
<circle cx="542.9" cy="175.9" r="2.8"/>
<circle cx="539.5" cy="154.7" r="2.8"/>
<circle cx="569.7" cy="138.8" r="2.8"/>
<circle cx="557.1" cy="46.1" r="2.8"/>
<circle cx="539.8" cy="138.2" r="2.8"/>
<circle cx="575.4" cy="146.9" r="2.8"/>
<circle cx="572" cy="169.2" r="2.8"/>
<circle cx="562.7" cy="158.1" r="2.8"/>
<circle cx="563.7" cy="143.3" r="2.8"/>
<circle cx="554.8" cy="91.8" r="2.8"/>
<circle cx="556.5" cy="182.6" r="2.8"/>
<circle cx="560.7" cy="88.4" r="2.8"/>
<circle cx="551.6" cy="115.7" r="2.8"/>
<circle cx="567.9" cy="112.2" r="2.8"/>
<circle cx="568.6" cy="135.8" r="2.8"/>
<circle cx="557.8" cy="140.8" r="2.8"/>
<circle cx="573.3" cy="108.9" r="2.8"/>
<circle cx="552.2" cy="123.8" r="2.8"/>
<circle cx="555.5" cy="131" r="2.8"/>
<circle cx="575.6" cy="122.5" r="2.8"/>
<circle cx="550.2" cy="131.8" r="2.8"/>
<circle cx="570.6" cy="163.3" r="2.8"/>
<circle cx="571.4" cy="165.2" r="2.8"/>
<circle cx="565.7" cy="83.4" r="2.8"/>
<circle cx="539.3" cy="144.6" r="2.8"/>
<circle cx="537.5" cy="178.6" r="2.8"/>
<circle cx="548" cy="104.9" r="2.8"/>
<circle cx="576.7" cy="125.7" r="2.8"/>
<circle cx="560.8" cy="127.3" r="2.8"/>
<circle cx="576.2" cy="162.9" r="2.8"/>
<circle cx="558.8" cy="39.2" r="2.8"/>
<circle cx="553.6" cy="64.9" r="2.8"/>
<circle cx="559.1" cy="51.4" r="2.8"/>
<circle cx="569.1" cy="120.1" r="2.8"/>
<circle cx="557" cy="112.7" r="2.8"/>
<circle cx="575.9" cy="178.8" r="2.8"/>
<circle cx="557.9" cy="123" r="2.8"/>
<circle cx="570" cy="158.8" r="2.8"/>
<circle cx="556.9" cy="84.3" r="2.8"/>
<circle cx="560.7" cy="107.7" r="2.8"/>
<circle cx="576.2" cy="143.9" r="2.8"/>
<circle cx="559" cy="128" r="2.8"/>
<circle cx="566.8" cy="93.8" r="2.8"/>
<circle cx="558.2" cy="174.3" r="2.8"/>
<circle cx="557.1" cy="61.3" r="2.8"/>
<circle cx="560.6" cy="67.2" r="2.8"/>
<circle cx="539" cy="142.8" r="2.8"/>
<circle cx="558.3" cy="101.3" r="2.8"/>
<circle cx="575.7" cy="139.7" r="2.8"/>
<circle cx="542.9" cy="100.1" r="2.8"/>
<circle cx="549.9" cy="110.9" r="2.8"/>
<circle cx="545.3" cy="176.9" r="2.8"/>
<circle cx="543.6" cy="129.3" r="2.8"/>
<circle cx="557.2" cy="151" r="2.8"/>
<circle cx="551.6" cy="141.9" r="2.8"/>
<circle cx="538.6" cy="173.3" r="2.8"/>
<circle cx="561.3" cy="145.2" r="2.8"/>
<circle cx="575.2" cy="153.6" r="2.8"/>
<circle cx="551.3" cy="75.2" r="2.8"/>
<circle cx="537" cy="134.1" r="2.8"/>
<circle cx="571.7" cy="107" r="2.8"/>
<circle cx="544.4" cy="184" r="2.8"/>
<circle cx="570.8" cy="102.3" r="2.8"/>
<circle cx="575.2" cy="157.4" r="2.8"/>
<circle cx="547.8" cy="117.9" r="2.8"/>
<circle cx="554.1" cy="105.9" r="2.8"/>
<circle cx="557" cy="64.8" r="2.8"/>
<circle cx="554.2" cy="125.2" r="2.8"/>
<circle cx="565.1" cy="171.9" r="2.8"/>
<circle cx="538.9" cy="119.2" r="2.8"/>
<circle cx="549.1" cy="86.9" r="2.8"/>
<circle cx="570.2" cy="152.4" r="2.8"/>
<circle cx="573.9" cy="118.5" r="2.8"/>
<circle cx="575.4" cy="183.7" r="2.8"/>
<circle cx="565.8" cy="150.7" r="2.8"/>
<circle cx="569.4" cy="141.7" r="2.8"/>
<circle cx="546.2" cy="145.8" r="2.8"/>
<circle cx="542.1" cy="167.9" r="2.8"/>
<circle cx="565.6" cy="130.6" r="2.8"/>
<circle cx="543.8" cy="96" r="2.8"/>
<circle cx="560.3" cy="177.8" r="2.8"/>
<circle cx="542.3" cy="170.7" r="2.8"/>
<circle cx="562.6" cy="133.1" r="2.8"/>
<circle cx="562.3" cy="99.4" r="2.8"/>
<circle cx="556.3" cy="108.5" r="2.8"/>
<circle cx="544.7" cy="133.5" r="2.8"/>
<circle cx="562.7" cy="120.5" r="2.8"/>
<circle cx="562" cy="162.3" r="2.8"/>
<circle cx="558.6" cy="52.5" r="2.8"/>
<circle cx="568.8" cy="126" r="2.8"/>
<circle cx="550.4" cy="175.1" r="2.8"/>
<circle cx="577.5" cy="170.3" r="2.8"/>
<circle cx="557.1" cy="185.6" r="2.8"/>
<circle cx="548.3" cy="79.2" r="2.8"/>
<circle cx="538" cy="171.2" r="2.8"/>
<circle cx="542.6" cy="105.9" r="2.8"/>
<circle cx="547.4" cy="82" r="2.8"/>
<circle cx="539.7" cy="180.9" r="2.8"/>
<circle cx="553.4" cy="164.4" r="2.8"/>
<circle cx="563" cy="114.5" r="2.8"/>
<circle cx="556.3" cy="157.1" r="2.8"/>
<circle cx="558" cy="76.4" r="2.8"/>
</g>
<g class="eb"><line x1="532.3000000000001" y1="133.6" x2="581.9" y2="133.6"/><line x1="557.1" y1="98.9" x2="557.1" y2="168.8"/><line x1="545.3000000000001" y1="98.9" x2="568.9" y2="98.9"/><line x1="545.3000000000001" y1="168.8" x2="568.9" y2="168.8"/></g>
<g class="f">
<circle cx="615.5" cy="176" r="2.8"/>
<circle cx="627.3" cy="99.3" r="2.8"/>
<circle cx="630.1" cy="162" r="2.8"/>
<circle cx="637.8" cy="157.5" r="2.8"/>
<circle cx="640.2" cy="149.6" r="2.8"/>
<circle cx="640" cy="180" r="2.8"/>
<circle cx="633.2" cy="45" r="2.8"/>
<circle cx="636.1" cy="162.9" r="2.8"/>
<circle cx="649.7" cy="165.8" r="2.8"/>
<circle cx="633.9" cy="124.3" r="2.8"/>
<circle cx="629.6" cy="65.3" r="2.8"/>
<circle cx="649.1" cy="156.8" r="2.8"/>
<circle cx="630.3" cy="70" r="2.8"/>
<circle cx="632.3" cy="35.4" r="2.8"/>
<circle cx="635" cy="66.6" r="2.8"/>
<circle cx="629.7" cy="77" r="2.8"/>
<circle cx="632.1" cy="54.4" r="2.8"/>
<circle cx="622.6" cy="154.2" r="2.8"/>
<circle cx="632.4" cy="126.7" r="2.8"/>
<circle cx="622.7" cy="167.5" r="2.8"/>
<circle cx="631.3" cy="163.6" r="2.8"/>
<circle cx="638.8" cy="97.7" r="2.8"/>
<circle cx="634.9" cy="176.5" r="2.8"/>
<circle cx="638.2" cy="133.8" r="2.8"/>
<circle cx="639.1" cy="162.4" r="2.8"/>
<circle cx="636.8" cy="98.4" r="2.8"/>
<circle cx="630.9" cy="123.3" r="2.8"/>
<circle cx="646.8" cy="128.3" r="2.8"/>
<circle cx="612.9" cy="166" r="2.8"/>
<circle cx="615.8" cy="147" r="2.8"/>
<circle cx="619.1" cy="157" r="2.8"/>
<circle cx="632.2" cy="137.9" r="2.8"/>
<circle cx="651.1" cy="163.1" r="2.8"/>
<circle cx="621.6" cy="175.8" r="2.8"/>
<circle cx="615.1" cy="183.4" r="2.8"/>
<circle cx="631.4" cy="117.8" r="2.8"/>
<circle cx="622.9" cy="99.1" r="2.8"/>
<circle cx="645.3" cy="131.5" r="2.8"/>
<circle cx="624.6" cy="167.3" r="2.8"/>
<circle cx="632" cy="39.7" r="2.8"/>
<circle cx="637.8" cy="174.1" r="2.8"/>
<circle cx="640.8" cy="111.9" r="2.8"/>
<circle cx="641.5" cy="172" r="2.8"/>
<circle cx="649.9" cy="182.2" r="2.8"/>
<circle cx="644.4" cy="171.1" r="2.8"/>
<circle cx="623.7" cy="157.4" r="2.8"/>
<circle cx="641.3" cy="136.9" r="2.8"/>
<circle cx="622.8" cy="162.1" r="2.8"/>
<circle cx="641.5" cy="133.5" r="2.8"/>
<circle cx="622.2" cy="111.6" r="2.8"/>
<circle cx="643.1" cy="152.7" r="2.8"/>
<circle cx="644.4" cy="119.6" r="2.8"/>
<circle cx="629.7" cy="144.2" r="2.8"/>
<circle cx="632.3" cy="105.9" r="2.8"/>
<circle cx="646" cy="171.3" r="2.8"/>
<circle cx="635.2" cy="180.7" r="2.8"/>
<circle cx="613.8" cy="176.7" r="2.8"/>
<circle cx="634.9" cy="184.7" r="2.8"/>
<circle cx="624.7" cy="95.5" r="2.8"/>
<circle cx="636.8" cy="139.9" r="2.8"/>
<circle cx="638.5" cy="91.7" r="2.8"/>
<circle cx="627.2" cy="159.7" r="2.8"/>
<circle cx="633.9" cy="54.2" r="2.8"/>
<circle cx="636" cy="78" r="2.8"/>
<circle cx="647.5" cy="157.6" r="2.8"/>
<circle cx="640.5" cy="154.7" r="2.8"/>
<circle cx="642.2" cy="158.9" r="2.8"/>
<circle cx="641.4" cy="173.1" r="2.8"/>
<circle cx="621.3" cy="150.7" r="2.8"/>
<circle cx="626.6" cy="84.1" r="2.8"/>
<circle cx="620.6" cy="145.9" r="2.8"/>
<circle cx="629.4" cy="139.3" r="2.8"/>
<circle cx="635.3" cy="131.1" r="2.8"/>
<circle cx="621.5" cy="154.7" r="2.8"/>
<circle cx="631.8" cy="115" r="2.8"/>
<circle cx="620.4" cy="114.2" r="2.8"/>
<circle cx="629.3" cy="164.5" r="2.8"/>
<circle cx="636.1" cy="172.4" r="2.8"/>
<circle cx="639.7" cy="115.8" r="2.8"/>
<circle cx="627.1" cy="112.7" r="2.8"/>
<circle cx="630.7" cy="186.3" r="2.8"/>
<circle cx="645.9" cy="177.2" r="2.8"/>
<circle cx="631.4" cy="102.8" r="2.8"/>
<circle cx="617.1" cy="136" r="2.8"/>
<circle cx="633.3" cy="67.7" r="2.8"/>
<circle cx="629.4" cy="129.1" r="2.8"/>
<circle cx="642" cy="108.5" r="2.8"/>
<circle cx="614.5" cy="167.7" r="2.8"/>
<circle cx="640.8" cy="147.8" r="2.8"/>
<circle cx="628.1" cy="179.9" r="2.8"/>
<circle cx="635.2" cy="138.2" r="2.8"/>
<circle cx="638.7" cy="94" r="2.8"/>
<circle cx="634.2" cy="152.6" r="2.8"/>
<circle cx="620.3" cy="116.1" r="2.8"/>
<circle cx="635.5" cy="106.3" r="2.8"/>
<circle cx="632.5" cy="171.9" r="2.8"/>
<circle cx="638.5" cy="107" r="2.8"/>
<circle cx="635.2" cy="126" r="2.8"/>
<circle cx="647.4" cy="150.3" r="2.8"/>
<circle cx="627.5" cy="124.6" r="2.8"/>
<circle cx="632.5" cy="120.8" r="2.8"/>
<circle cx="643.2" cy="128.4" r="2.8"/>
<circle cx="620.1" cy="169.7" r="2.8"/>
<circle cx="641.6" cy="125.2" r="2.8"/>
<circle cx="618.9" cy="175.5" r="2.8"/>
<circle cx="615.4" cy="151.2" r="2.8"/>
<circle cx="638" cy="84.3" r="2.8"/>
<circle cx="634.9" cy="159.1" r="2.8"/>
<circle cx="640.5" cy="99.8" r="2.8"/>
<circle cx="649" cy="173.5" r="2.8"/>
<circle cx="627.3" cy="165.1" r="2.8"/>
<circle cx="624.1" cy="155.2" r="2.8"/>
<circle cx="630.4" cy="136.6" r="2.8"/>
<circle cx="622.4" cy="115.6" r="2.8"/>
<circle cx="632.5" cy="72.9" r="2.8"/>
<circle cx="631" cy="153.1" r="2.8"/>
<circle cx="625.2" cy="103.7" r="2.8"/>
<circle cx="624.2" cy="180.2" r="2.8"/>
<circle cx="626.9" cy="101.6" r="2.8"/>
<circle cx="633.4" cy="184.4" r="2.8"/>
<circle cx="629.1" cy="98.7" r="2.8"/>
<circle cx="626.1" cy="181" r="2.8"/>
<circle cx="629.3" cy="72" r="2.8"/>
<circle cx="633.8" cy="133" r="2.8"/>
<circle cx="630.1" cy="116.6" r="2.8"/>
<circle cx="613.7" cy="160.6" r="2.8"/>
<circle cx="632" cy="165.4" r="2.8"/>
<circle cx="637.1" cy="171.8" r="2.8"/>
<circle cx="635.6" cy="88.4" r="2.8"/>
<circle cx="639.8" cy="125.8" r="2.8"/>
<circle cx="646.1" cy="149" r="2.8"/>
<circle cx="633.8" cy="141.8" r="2.8"/>
<circle cx="632.5" cy="180.6" r="2.8"/>
<circle cx="618.8" cy="179.4" r="2.8"/>
<circle cx="630.7" cy="82.1" r="2.8"/>
<circle cx="647.9" cy="136.7" r="2.8"/>
<circle cx="626.9" cy="176.1" r="2.8"/>
<circle cx="646.2" cy="162.2" r="2.8"/>
<circle cx="631.3" cy="174" r="2.8"/>
<circle cx="634.2" cy="165.8" r="2.8"/>
<circle cx="647.7" cy="163.1" r="2.8"/>
<circle cx="620.1" cy="136.1" r="2.8"/>
<circle cx="637.2" cy="94.8" r="2.8"/>
<circle cx="613.8" cy="170.7" r="2.8"/>
<circle cx="629.4" cy="75.1" r="2.8"/>
<circle cx="618.4" cy="127.8" r="2.8"/>
<circle cx="647.2" cy="179.6" r="2.8"/>
<circle cx="612.1" cy="178.5" r="2.8"/>
<circle cx="641.3" cy="149.3" r="2.8"/>
<circle cx="630.6" cy="140.1" r="2.8"/>
<circle cx="642" cy="180.9" r="2.8"/>
<circle cx="635.6" cy="99.7" r="2.8"/>
<circle cx="633.3" cy="48" r="2.8"/>
<circle cx="628.6" cy="173.4" r="2.8"/>
<circle cx="635.7" cy="151" r="2.8"/>
<circle cx="624.8" cy="132.1" r="2.8"/>
<circle cx="637.6" cy="103.5" r="2.8"/>
<circle cx="626.1" cy="166.4" r="2.8"/>
<circle cx="630.2" cy="176.2" r="2.8"/>
<circle cx="638.1" cy="144.9" r="2.8"/>
<circle cx="629.7" cy="113.1" r="2.8"/>
<circle cx="616.9" cy="168.6" r="2.8"/>
<circle cx="630.6" cy="97" r="2.8"/>
<circle cx="619" cy="170.1" r="2.8"/>
<circle cx="617.5" cy="146.5" r="2.8"/>
<circle cx="634.6" cy="117.3" r="2.8"/>
<circle cx="617.8" cy="143.4" r="2.8"/>
<circle cx="644.3" cy="124.9" r="2.8"/>
<circle cx="612.9" cy="170.8" r="2.8"/>
<circle cx="627.7" cy="168.1" r="2.8"/>
<circle cx="632" cy="184.2" r="2.8"/>
<circle cx="639" cy="119.2" r="2.8"/>
<circle cx="619.3" cy="130.5" r="2.8"/>
<circle cx="633.8" cy="138.7" r="2.8"/>
<circle cx="627.5" cy="92.1" r="2.8"/>
<circle cx="637.6" cy="162.7" r="2.8"/>
<circle cx="638.4" cy="138.9" r="2.8"/>
<circle cx="631.7" cy="79.4" r="2.8"/>
<circle cx="624.6" cy="129.2" r="2.8"/>
<circle cx="630.5" cy="130.2" r="2.8"/>
<circle cx="627.9" cy="185.6" r="2.8"/>
<circle cx="615.6" cy="177.6" r="2.8"/>
<circle cx="649.3" cy="163.6" r="2.8"/>
<circle cx="637" cy="129.6" r="2.8"/>
<circle cx="626.3" cy="128.8" r="2.8"/>
<circle cx="616.1" cy="159.5" r="2.8"/>
<circle cx="623.9" cy="114.2" r="2.8"/>
<circle cx="629" cy="171" r="2.8"/>
<circle cx="619.3" cy="166.9" r="2.8"/>
<circle cx="652.3" cy="168.7" r="2.8"/>
<circle cx="648.4" cy="181.6" r="2.8"/>
<circle cx="637.4" cy="83.5" r="2.8"/>
<circle cx="631.6" cy="71" r="2.8"/>
<circle cx="635.2" cy="171.6" r="2.8"/>
<circle cx="628.6" cy="103.1" r="2.8"/>
<circle cx="631" cy="127.5" r="2.8"/>
<circle cx="648.4" cy="155.7" r="2.8"/>
<circle cx="633.4" cy="103.3" r="2.8"/>
<circle cx="640.1" cy="116.8" r="2.8"/>
<circle cx="645.4" cy="121.3" r="2.8"/>
<circle cx="622.5" cy="130.6" r="2.8"/>
<circle cx="620.4" cy="126.4" r="2.8"/>
<circle cx="646.9" cy="142.1" r="2.8"/>
<circle cx="622.5" cy="122.5" r="2.8"/>
<circle cx="622.9" cy="169.5" r="2.8"/>
<circle cx="634.1" cy="104.9" r="2.8"/>
<circle cx="625.1" cy="173.7" r="2.8"/>
<circle cx="632.6" cy="131.3" r="2.8"/>
<circle cx="650.6" cy="176.9" r="2.8"/>
<circle cx="631.2" cy="159.1" r="2.8"/>
<circle cx="621.5" cy="118.7" r="2.8"/>
<circle cx="621.1" cy="181.2" r="2.8"/>
<circle cx="628" cy="78.2" r="2.8"/>
<circle cx="632.5" cy="83.2" r="2.8"/>
<circle cx="621.4" cy="126.9" r="2.8"/>
<circle cx="628.2" cy="112.9" r="2.8"/>
<circle cx="620.9" cy="130" r="2.8"/>
<circle cx="621.7" cy="132.3" r="2.8"/>
<circle cx="637.9" cy="110.7" r="2.8"/>
<circle cx="628.9" cy="91.1" r="2.8"/>
<circle cx="620" cy="179" r="2.8"/>
<circle cx="636.6" cy="185.5" r="2.8"/>
<circle cx="626.9" cy="147.6" r="2.8"/>
<circle cx="629.9" cy="95.4" r="2.8"/>
<circle cx="623.2" cy="148.2" r="2.8"/>
<circle cx="627.7" cy="135.3" r="2.8"/>
<circle cx="628.5" cy="108" r="2.8"/>
<circle cx="634.5" cy="114.7" r="2.8"/>
<circle cx="627.6" cy="144" r="2.8"/>
<circle cx="646.4" cy="139.9" r="2.8"/>
<circle cx="650.4" cy="158.6" r="2.8"/>
<circle cx="634.9" cy="79.2" r="2.8"/>
<circle cx="643.6" cy="160" r="2.8"/>
<circle cx="629.6" cy="174.6" r="2.8"/>
<circle cx="650.8" cy="171.4" r="2.8"/>
<circle cx="644.6" cy="137.1" r="2.8"/>
<circle cx="632.2" cy="148.4" r="2.8"/>
<circle cx="626.5" cy="168.9" r="2.8"/>
<circle cx="630.2" cy="159.9" r="2.8"/>
<circle cx="628.4" cy="161.3" r="2.8"/>
<circle cx="644.6" cy="175.1" r="2.8"/>
<circle cx="634.8" cy="163.4" r="2.8"/>
<circle cx="632.7" cy="108.9" r="2.8"/>
<circle cx="626.1" cy="124.2" r="2.8"/>
<circle cx="632.3" cy="90.7" r="2.8"/>
<circle cx="635" cy="134.7" r="2.8"/>
<circle cx="632.8" cy="157.8" r="2.8"/>
<circle cx="643.3" cy="181.3" r="2.8"/>
<circle cx="630.6" cy="57.7" r="2.8"/>
<circle cx="636.2" cy="144.1" r="2.8"/>
<circle cx="643" cy="137.5" r="2.8"/>
<circle cx="629" cy="135.6" r="2.8"/>
<circle cx="625.9" cy="92.3" r="2.8"/>
<circle cx="637.3" cy="165" r="2.8"/>
<circle cx="642.2" cy="120.6" r="2.8"/>
<circle cx="633.7" cy="148.5" r="2.8"/>
<circle cx="624.5" cy="96.7" r="2.8"/>
<circle cx="635.6" cy="153.3" r="2.8"/>
<circle cx="636" cy="179.3" r="2.8"/>
<circle cx="631.4" cy="111.2" r="2.8"/>
<circle cx="634.2" cy="182.4" r="2.8"/>
<circle cx="633.6" cy="81.4" r="2.8"/>
<circle cx="624.6" cy="169.6" r="2.8"/>
<circle cx="638.1" cy="168.3" r="2.8"/>
<circle cx="627.7" cy="129.5" r="2.8"/>
<circle cx="645.3" cy="180.4" r="2.8"/>
<circle cx="638.9" cy="182.6" r="2.8"/>
<circle cx="615.4" cy="160.9" r="2.8"/>
<circle cx="630.5" cy="106.6" r="2.8"/>
<circle cx="641.6" cy="119" r="2.8"/>
<circle cx="623.1" cy="127.4" r="2.8"/>
<circle cx="639.8" cy="138.6" r="2.8"/>
<circle cx="637.2" cy="154" r="2.8"/>
<circle cx="616.2" cy="165.3" r="2.8"/>
<circle cx="621.6" cy="101" r="2.8"/>
<circle cx="646.6" cy="182" r="2.8"/>
<circle cx="636.7" cy="125.4" r="2.8"/>
<circle cx="626" cy="139.7" r="2.8"/>
<circle cx="639.3" cy="109.7" r="2.8"/>
<circle cx="638.4" cy="142.6" r="2.8"/>
<circle cx="633" cy="147.6" r="2.8"/>
<circle cx="628.7" cy="118.2" r="2.8"/>
<circle cx="632.3" cy="41.2" r="2.8"/>
<circle cx="642.2" cy="145.3" r="2.8"/>
<circle cx="630.6" cy="134.9" r="2.8"/>
<circle cx="632.3" cy="155" r="2.8"/>
<circle cx="629.1" cy="124.8" r="2.8"/>
<circle cx="623.5" cy="133.4" r="2.8"/>
<circle cx="629" cy="142.5" r="2.8"/>
<circle cx="636.5" cy="87.4" r="2.8"/>
<circle cx="629.2" cy="150.1" r="2.8"/>
<circle cx="641.9" cy="161.1" r="2.8"/>
<circle cx="649.1" cy="169.8" r="2.8"/>
<circle cx="629" cy="95.9" r="2.8"/>
<circle cx="629.2" cy="152.5" r="2.8"/>
<circle cx="618.2" cy="154.3" r="2.8"/>
<circle cx="640.8" cy="112.1" r="2.8"/>
<circle cx="615.3" cy="169.2" r="2.8"/>
<circle cx="612.3" cy="172.2" r="2.8"/>
<circle cx="631.2" cy="52.8" r="2.8"/>
<circle cx="644.9" cy="164" r="2.8"/>
<circle cx="643.9" cy="110.3" r="2.8"/>
<circle cx="637.2" cy="107.6" r="2.8"/>
<circle cx="635.7" cy="140.7" r="2.8"/>
<circle cx="620.7" cy="110.8" r="2.8"/>
<circle cx="645" cy="140.8" r="2.8"/>
<circle cx="621.9" cy="170.5" r="2.8"/>
<circle cx="631.5" cy="44.4" r="2.8"/>
<circle cx="642" cy="164.7" r="2.8"/>
<circle cx="614.9" cy="153.4" r="2.8"/>
<circle cx="642.3" cy="113.6" r="2.8"/>
<circle cx="637" cy="123.4" r="2.8"/>
<circle cx="634.1" cy="56" r="2.8"/>
<circle cx="617.7" cy="164.1" r="2.8"/>
<circle cx="636.1" cy="93.6" r="2.8"/>
<circle cx="621.4" cy="137.4" r="2.8"/>
<circle cx="635.2" cy="69.3" r="2.8"/>
<circle cx="624.1" cy="123.6" r="2.8"/>
<circle cx="620.1" cy="151.8" r="2.8"/>
<circle cx="646" cy="173.2" r="2.8"/>
<circle cx="631.4" cy="94.4" r="2.8"/>
<circle cx="642.9" cy="170.2" r="2.8"/>
<circle cx="623.4" cy="176.9" r="2.8"/>
<circle cx="635" cy="174.7" r="2.8"/>
<circle cx="638.1" cy="178.1" r="2.8"/>
<circle cx="651.2" cy="165.5" r="2.8"/>
<circle cx="626" cy="116.3" r="2.8"/>
<circle cx="633.4" cy="179.1" r="2.8"/>
<circle cx="614.1" cy="156.8" r="2.8"/>
<circle cx="650.8" cy="174.9" r="2.8"/>
<circle cx="616.5" cy="142.3" r="2.8"/>
<circle cx="630.7" cy="89.4" r="2.8"/>
<circle cx="635.4" cy="86" r="2.8"/>
<circle cx="627.3" cy="90.3" r="2.8"/>
<circle cx="643.2" cy="140.3" r="2.8"/>
<circle cx="634.6" cy="60.6" r="2.8"/>
<circle cx="633.5" cy="87.6" r="2.8"/>
<circle cx="625.7" cy="96.2" r="2.8"/>
<circle cx="645.6" cy="127.9" r="2.8"/>
<circle cx="647.4" cy="147.2" r="2.8"/>
<circle cx="644.5" cy="151.3" r="2.8"/>
<circle cx="642.1" cy="129.9" r="2.8"/>
<circle cx="625.6" cy="161.5" r="2.8"/>
<circle cx="641.4" cy="98.1" r="2.8"/>
<circle cx="642.6" cy="178.8" r="2.8"/>
<circle cx="634" cy="170.4" r="2.8"/>
<circle cx="644.4" cy="114.8" r="2.8"/>
<circle cx="622.2" cy="177.5" r="2.8"/>
<circle cx="619.1" cy="132.5" r="2.8"/>
<circle cx="634.7" cy="109.2" r="2.8"/>
<circle cx="647.7" cy="169.3" r="2.8"/>
<circle cx="629.7" cy="86.4" r="2.8"/>
<circle cx="631.3" cy="177.3" r="2.8"/>
<circle cx="631.3" cy="64.9" r="2.8"/>
<circle cx="622.2" cy="159.3" r="2.8"/>
<circle cx="624.7" cy="105.4" r="2.8"/>
<circle cx="642.5" cy="134" r="2.8"/>
<circle cx="633" cy="76.7" r="2.8"/>
<circle cx="633.1" cy="160.1" r="2.8"/>
<circle cx="629.3" cy="121.8" r="2.8"/>
<circle cx="636.8" cy="141.1" r="2.8"/>
<circle cx="626.9" cy="172.3" r="2.8"/>
<circle cx="642.2" cy="141.7" r="2.8"/>
<circle cx="619.5" cy="121" r="2.8"/>
<circle cx="633" cy="118" r="2.8"/>
<circle cx="634.2" cy="120.2" r="2.8"/>
<circle cx="644.4" cy="135" r="2.8"/>
<circle cx="645.4" cy="157.3" r="2.8"/>
<circle cx="639.8" cy="104.1" r="2.8"/>
<circle cx="635.6" cy="122.7" r="2.8"/>
<circle cx="632.9" cy="70.8" r="2.8"/>
<circle cx="629.1" cy="106.6" r="2.8"/>
<circle cx="617.2" cy="175.3" r="2.8"/>
<circle cx="619.8" cy="143.5" r="2.8"/>
<circle cx="630.9" cy="166.2" r="2.8"/>
<circle cx="629.7" cy="109.7" r="2.8"/>
<circle cx="643.9" cy="121.4" r="2.8"/>
<circle cx="618.1" cy="160.5" r="2.8"/>
<circle cx="634.5" cy="144.6" r="2.8"/>
<circle cx="633" cy="93.2" r="2.8"/>
<circle cx="627.3" cy="120" r="2.8"/>
<circle cx="631.3" cy="50.6" r="2.8"/>
<circle cx="644" cy="158.1" r="2.8"/>
<circle cx="633.7" cy="131" r="2.8"/>
<circle cx="647.6" cy="172.8" r="2.8"/>
<circle cx="642.7" cy="100.1" r="2.8"/>
<circle cx="628.8" cy="82.3" r="2.8"/>
<circle cx="636.9" cy="182.6" r="2.8"/>
<circle cx="630.7" cy="74.6" r="2.8"/>
<circle cx="625.2" cy="156.3" r="2.8"/>
<circle cx="637.1" cy="118.4" r="2.8"/>
<circle cx="626" cy="141.4" r="2.8"/>
<circle cx="616.8" cy="181.7" r="2.8"/>
<circle cx="617.2" cy="156.3" r="2.8"/>
<circle cx="635.2" cy="167.9" r="2.8"/>
<circle cx="630.9" cy="183.5" r="2.8"/>
<circle cx="621.4" cy="164.3" r="2.8"/>
<circle cx="624.4" cy="116.9" r="2.8"/>
<circle cx="633" cy="175.7" r="2.8"/>
<circle cx="629.5" cy="101.4" r="2.8"/>
<circle cx="640.9" cy="179.7" r="2.8"/>
<circle cx="630.2" cy="61.9" r="2.8"/>
<circle cx="623.5" cy="144.4" r="2.8"/>
<circle cx="618.8" cy="144.9" r="2.8"/>
<circle cx="639.5" cy="134.5" r="2.8"/>
<circle cx="632.6" cy="38.7" r="2.8"/>
<circle cx="634.7" cy="101.8" r="2.8"/>
<circle cx="640.4" cy="166.7" r="2.8"/>
<circle cx="642.9" cy="104.7" r="2.8"/>
<circle cx="625.5" cy="122.2" r="2.8"/>
<circle cx="620.2" cy="132.8" r="2.8"/>
<circle cx="639.1" cy="158.3" r="2.8"/>
<circle cx="639.2" cy="178.3" r="2.8"/>
<circle cx="640.6" cy="141.3" r="2.8"/>
<circle cx="623.7" cy="173.8" r="2.8"/>
<circle cx="620.3" cy="156.5" r="2.8"/>
<circle cx="626.8" cy="110.1" r="2.8"/>
<circle cx="631" cy="168.8" r="2.8"/>
<circle cx="645.8" cy="135.4" r="2.8"/>
<circle cx="619.4" cy="180.3" r="2.8"/>
<circle cx="616.8" cy="139.4" r="2.8"/>
<circle cx="640.9" cy="100.6" r="2.8"/>
<circle cx="618.1" cy="138.2" r="2.8"/>
<circle cx="641.4" cy="107.7" r="2.8"/>
<circle cx="649.4" cy="151.6" r="2.8"/>
<circle cx="649.9" cy="153.8" r="2.8"/>
<circle cx="639.3" cy="147.4" r="2.8"/>
<circle cx="631.4" cy="146.5" r="2.8"/>
<circle cx="638.3" cy="154.5" r="2.8"/>
<circle cx="625.3" cy="112.4" r="2.8"/>
<circle cx="633.8" cy="68.4" r="2.8"/>
<circle cx="631.9" cy="59.6" r="2.8"/>
<circle cx="632.4" cy="85.3" r="2.8"/>
<circle cx="624.7" cy="178.1" r="2.8"/>
<circle cx="621.6" cy="107.2" r="2.8"/>
<circle cx="628.1" cy="158.4" r="2.8"/>
<circle cx="636.4" cy="115.4" r="2.8"/>
<circle cx="627.5" cy="81" r="2.8"/>
<circle cx="632.1" cy="49.5" r="2.8"/>
<circle cx="638.9" cy="166.4" r="2.8"/>
<circle cx="633" cy="58.5" r="2.8"/>
<circle cx="649.4" cy="178.7" r="2.8"/>
<circle cx="632.3" cy="143.7" r="2.8"/>
<circle cx="624.6" cy="139.1" r="2.8"/>
<circle cx="631.9" cy="62.9" r="2.8"/>
<circle cx="627.5" cy="150.8" r="2.8"/>
<circle cx="633.9" cy="73.9" r="2.8"/>
<circle cx="632.3" cy="97.2" r="2.8"/>
<circle cx="622.6" cy="119.3" r="2.8"/>
<circle cx="633.4" cy="113.4" r="2.8"/>
<circle cx="623.3" cy="105" r="2.8"/>
<circle cx="617.8" cy="128.6" r="2.8"/>
<circle cx="627.6" cy="104.4" r="2.8"/>
<circle cx="621.4" cy="160.3" r="2.8"/>
<circle cx="633" cy="63.5" r="2.8"/>
<circle cx="627.7" cy="136.5" r="2.8"/>
<circle cx="617.2" cy="177.9" r="2.8"/>
<circle cx="631" cy="86.9" r="2.8"/>
<circle cx="625.3" cy="111.4" r="2.8"/>
<circle cx="628.1" cy="84.8" r="2.8"/>
<circle cx="642.1" cy="153" r="2.8"/>
<circle cx="625.9" cy="105.7" r="2.8"/>
<circle cx="652.1" cy="176.3" r="2.8"/>
<circle cx="634.3" cy="94.9" r="2.8"/>
<circle cx="637.1" cy="151.8" r="2.8"/>
<circle cx="627.4" cy="153.6" r="2.8"/>
<circle cx="622.4" cy="146.3" r="2.8"/>
<circle cx="651.9" cy="172.9" r="2.8"/>
<circle cx="639.6" cy="102.5" r="2.8"/>
<circle cx="625.9" cy="89.8" r="2.8"/>
<circle cx="637.6" cy="113.8" r="2.8"/>
<circle cx="618.7" cy="149.9" r="2.8"/>
<circle cx="640.6" cy="122.9" r="2.8"/>
<circle cx="643.1" cy="149.8" r="2.8"/>
<circle cx="636.1" cy="158.1" r="2.8"/>
<circle cx="643.7" cy="145.7" r="2.8"/>
<circle cx="621.2" cy="142.8" r="2.8"/>
<circle cx="638.5" cy="121.6" r="2.8"/>
<circle cx="614.3" cy="174.2" r="2.8"/>
<circle cx="627.4" cy="183.1" r="2.8"/>
<circle cx="645.9" cy="146.7" r="2.8"/>
<circle cx="640.5" cy="131.8" r="2.8"/>
<circle cx="622.7" cy="137.7" r="2.8"/>
<circle cx="641" cy="156.1" r="2.8"/>
<circle cx="616.7" cy="148" r="2.8"/>
<circle cx="639.8" cy="92.9" r="2.8"/>
<circle cx="639.5" cy="172.6" r="2.8"/>
<circle cx="648.6" cy="146.1" r="2.8"/>
<circle cx="629.7" cy="184.8" r="2.8"/>
<circle cx="616.8" cy="160.8" r="2.8"/>
<circle cx="626.1" cy="155.5" r="2.8"/>
<circle cx="622.6" cy="183.9" r="2.8"/>
<circle cx="627.3" cy="123.8" r="2.8"/>
<circle cx="643.6" cy="164.8" r="2.8"/>
<circle cx="624.4" cy="142.9" r="2.8"/>
<circle cx="636.8" cy="134.3" r="2.8"/>
<circle cx="628.2" cy="145.5" r="2.8"/>
<circle cx="633.9" cy="89.2" r="2.8"/>
<circle cx="638.1" cy="127.2" r="2.8"/>
<circle cx="638.7" cy="149.5" r="2.8"/>
<circle cx="642.9" cy="117.5" r="2.8"/>
<circle cx="626.4" cy="133.7" r="2.8"/>
<circle cx="637.3" cy="88.5" r="2.8"/>
<circle cx="635.6" cy="75.9" r="2.8"/>
<circle cx="648.1" cy="166.9" r="2.8"/>
<circle cx="622.5" cy="143.1" r="2.8"/>
<circle cx="629.1" cy="181.4" r="2.8"/>
<circle cx="635.3" cy="80" r="2.8"/>
<circle cx="635.6" cy="119.8" r="2.8"/>
<circle cx="624.2" cy="161.5" r="2.8"/>
<circle cx="619.6" cy="161.8" r="2.8"/>
<circle cx="642.5" cy="175.1" r="2.8"/>
<circle cx="636.1" cy="102.2" r="2.8"/>
<circle cx="636.3" cy="109.2" r="2.8"/>
<circle cx="616.2" cy="155.3" r="2.8"/>
<circle cx="647.6" cy="132.8" r="2.8"/>
<circle cx="640" cy="168" r="2.8"/>
<circle cx="648.4" cy="140.5" r="2.8"/>
<circle cx="624.9" cy="145.1" r="2.8"/>
<circle cx="626.4" cy="150.5" r="2.8"/>
<circle cx="621.2" cy="122.3" r="2.8"/>
<circle cx="623.4" cy="100.8" r="2.8"/>
<circle cx="626.8" cy="162.6" r="2.8"/>
<circle cx="645.1" cy="155.9" r="2.8"/>
<circle cx="623.8" cy="108.4" r="2.8"/>
<circle cx="624.5" cy="126.3" r="2.8"/>
<circle cx="619.4" cy="152.3" r="2.8"/>
<circle cx="642.8" cy="125.5" r="2.8"/>
<circle cx="630.4" cy="148.7" r="2.8"/>
<circle cx="638.6" cy="131.6" r="2.8"/>
<circle cx="646.6" cy="167.1" r="2.8"/>
<circle cx="634" cy="97.9" r="2.8"/>
<circle cx="645.3" cy="167.7" r="2.8"/>
<circle cx="644.5" cy="177.8" r="2.8"/>
<circle cx="617.7" cy="183" r="2.8"/>
<circle cx="632" cy="135.9" r="2.8"/>
<circle cx="646.3" cy="152.1" r="2.8"/>
<circle cx="640.4" cy="163.9" r="2.8"/>
<circle cx="620.1" cy="174.4" r="2.8"/>
<circle cx="624.3" cy="149" r="2.8"/>
</g>
<g class="eb"><line x1="607.5" y1="134.0" x2="657.0999999999999" y2="134.0"/><line x1="632.3" y1="98.3" x2="632.3" y2="169.4"/><line x1="620.5" y1="98.3" x2="644.0999999999999" y2="98.3"/><line x1="620.5" y1="169.4" x2="644.0999999999999" y2="169.4"/></g>
<text transform="translate(47.4,115.5) rotate(-90)" text-anchor="middle" class="tt">Nap duration</text>
<text transform="translate(66.9,115.5) rotate(-90)" text-anchor="middle" class="tt">(standardized)</text>
<text transform="translate(459.1,116.4) rotate(-90)" text-anchor="middle" class="tt2">Nap duration</text>
<text transform="translate(476.9,116.4) rotate(-90)" text-anchor="middle" class="tt2">(standardized)</text>
<text x="-0.5" y="21.0" class="lt">a</text>
<text x="409" y="21.0" class="lt">b</text>
<rect x="98.8" y="272.0" width="237.8" height="179.0" fill="none" stroke="#a3a3a3" stroke-width="1.7"/>
<line x1="93.2" y1="451.0" x2="98.8" y2="451.0" stroke="#a3a3a3" stroke-width="1.7"/>
<text x="90.2" y="455.4" text-anchor="end" class="tk">0</text>
<line x1="93.2" y1="421.2" x2="98.8" y2="421.2" stroke="#a3a3a3" stroke-width="1.7"/>
<text x="90.2" y="425.6" text-anchor="end" class="tk">2</text>
<line x1="93.2" y1="391.3" x2="98.8" y2="391.3" stroke="#a3a3a3" stroke-width="1.7"/>
<text x="90.2" y="395.7" text-anchor="end" class="tk">4</text>
<line x1="93.2" y1="361.5" x2="98.8" y2="361.5" stroke="#a3a3a3" stroke-width="1.7"/>
<text x="90.2" y="365.9" text-anchor="end" class="tk">6</text>
<line x1="93.2" y1="331.7" x2="98.8" y2="331.7" stroke="#a3a3a3" stroke-width="1.7"/>
<text x="90.2" y="336.1" text-anchor="end" class="tk">8</text>
<line x1="93.2" y1="301.8" x2="98.8" y2="301.8" stroke="#a3a3a3" stroke-width="1.7"/>
<text x="90.2" y="306.2" text-anchor="end" class="tk">10</text>
<line x1="93.2" y1="272.0" x2="98.8" y2="272.0" stroke="#a3a3a3" stroke-width="1.7"/>
<text x="90.2" y="276.4" text-anchor="end" class="tk">12</text>
<line x1="98.8" y1="451.0" x2="98.8" y2="456.6" stroke="#a3a3a3" stroke-width="1.7"/>
<text x="97.8" y="469.9" text-anchor="middle" class="tk">50</text>
<line x1="146.4" y1="451.0" x2="146.4" y2="456.6" stroke="#a3a3a3" stroke-width="1.7"/>
<text x="145.4" y="469.9" text-anchor="middle" class="tk">60</text>
<line x1="193.9" y1="451.0" x2="193.9" y2="456.6" stroke="#a3a3a3" stroke-width="1.7"/>
<text x="192.9" y="469.9" text-anchor="middle" class="tk">70</text>
<line x1="241.5" y1="451.0" x2="241.5" y2="456.6" stroke="#a3a3a3" stroke-width="1.7"/>
<text x="240.5" y="469.9" text-anchor="middle" class="tk">80</text>
<line x1="289.0" y1="451.0" x2="289.0" y2="456.6" stroke="#a3a3a3" stroke-width="1.7"/>
<text x="288.0" y="469.9" text-anchor="middle" class="tk">90</text>
<line x1="336.6" y1="451.0" x2="336.6" y2="456.6" stroke="#a3a3a3" stroke-width="1.7"/>
<text x="332.7" y="469.9" text-anchor="middle" class="tk">100</text>
<text x="217" y="489.7" text-anchor="middle" class="ax">Age</text>
<polygon points="98.8,423.2 108.7,422.4 118.6,421.7 128.5,420.9 138.4,420.1 148.3,419.4 158.2,418.6 168.2,417.8 178.1,417.0 188.0,416.2 197.9,415.3 207.8,414.4 217.7,413.5 227.6,412.6 237.5,411.5 247.4,410.4 257.3,409.2 267.2,407.9 277.2,406.6 287.1,405.1 297.0,403.7 306.9,402.2 316.8,400.6 326.7,399.1 336.6,397.5 336.6,406.7 326.7,407.5 316.8,408.3 306.9,409.2 297.0,410.0 287.1,410.9 277.2,411.9 267.2,412.9 257.3,414.0 247.4,415.2 237.5,416.4 227.6,417.8 217.7,419.2 207.8,420.6 197.9,422.1 188.0,423.7 178.1,425.2 168.2,426.8 158.2,428.4 148.3,430.0 138.4,431.6 128.5,433.2 118.6,434.8 108.7,436.4 98.8,438.0" fill="url(#hatch)" stroke="none"/>
<polyline points="98.8,423.2 108.7,422.4 118.6,421.7 128.5,420.9 138.4,420.1 148.3,419.4 158.2,418.6 168.2,417.8 178.1,417.0 188.0,416.2 197.9,415.3 207.8,414.4 217.7,413.5 227.6,412.6 237.5,411.5 247.4,410.4 257.3,409.2 267.2,407.9 277.2,406.6 287.1,405.1 297.0,403.7 306.9,402.2 316.8,400.6 326.7,399.1 336.6,397.5" class="be"/>
<polyline points="98.8,438.0 108.7,436.4 118.6,434.8 128.5,433.2 138.4,431.6 148.3,430.0 158.2,428.4 168.2,426.8 178.1,425.2 188.0,423.7 197.9,422.1 207.8,420.6 217.7,419.2 227.6,417.8 237.5,416.4 247.4,415.2 257.3,414.0 267.2,412.9 277.2,411.9 287.1,410.9 297.0,410.0 306.9,409.2 316.8,408.3 326.7,407.5 336.6,406.7" class="be"/>
<line x1="98.8" y1="430.6" x2="336.6" y2="402.1" class="rl"/>
<g class="k">
<circle cx="194.7" cy="417.8" r="2.65"/>
<circle cx="276.1" cy="400" r="2.65"/>
<circle cx="250.9" cy="422.4" r="2.65"/>
<circle cx="254.3" cy="397.4" r="2.65"/>
<circle cx="255.9" cy="368.6" r="2.65"/>
<circle cx="272" cy="443.6" r="2.65"/>
<circle cx="207" cy="370" r="2.65"/>
<circle cx="236.6" cy="341.4" r="2.65"/>
<circle cx="231.9" cy="430.7" r="2.65"/>
<circle cx="246.1" cy="434.8" r="2.65"/>
<circle cx="227.8" cy="405.4" r="2.65"/>
<circle cx="191.4" cy="390.6" r="2.65"/>
<circle cx="268.4" cy="387.4" r="2.65"/>
<circle cx="240.8" cy="443.7" r="2.65"/>
<circle cx="270.3" cy="430.8" r="2.65"/>
<circle cx="238.4" cy="431.2" r="2.65"/>
<circle cx="257.1" cy="373.1" r="2.65"/>
<circle cx="293" cy="385" r="2.65"/>
<circle cx="249.2" cy="414.3" r="2.65"/>
<circle cx="223.2" cy="444.3" r="2.65"/>
<circle cx="252" cy="442.6" r="2.65"/>
<circle cx="281" cy="427.1" r="2.65"/>
<circle cx="259.4" cy="379.1" r="2.65"/>
<circle cx="200" cy="395" r="2.65"/>
<circle cx="256.6" cy="408.5" r="2.65"/>
<circle cx="194.8" cy="427.3" r="2.65"/>
<circle cx="250.3" cy="397.5" r="2.65"/>
<circle cx="274.1" cy="433.3" r="2.65"/>
<circle cx="327" cy="378.6" r="2.65"/>
<circle cx="270.8" cy="443.9" r="2.65"/>
<circle cx="291.8" cy="410.5" r="2.65"/>
<circle cx="243.8" cy="381.6" r="2.65"/>
<circle cx="255.7" cy="386.4" r="2.65"/>
<circle cx="278.5" cy="434.8" r="2.65"/>
<circle cx="270.7" cy="382.9" r="2.65"/>
<circle cx="278.2" cy="439" r="2.65"/>
<circle cx="299" cy="389" r="2.65"/>
<circle cx="262.9" cy="386.2" r="2.65"/>
<circle cx="258.3" cy="399.5" r="2.65"/>
<circle cx="254.2" cy="386.2" r="2.65"/>
<circle cx="270.5" cy="405.9" r="2.65"/>
<circle cx="186.6" cy="364" r="2.65"/>
<circle cx="282.3" cy="438.1" r="2.65"/>
<circle cx="194" cy="349" r="2.65"/>
<circle cx="193" cy="369.6" r="2.65"/>
<circle cx="230.7" cy="420.7" r="2.65"/>
<circle cx="210.3" cy="412.5" r="2.65"/>
<circle cx="291.1" cy="416.8" r="2.65"/>
<circle cx="215.7" cy="431.8" r="2.65"/>
<circle cx="278.3" cy="413.8" r="2.65"/>
<circle cx="303" cy="382.6" r="2.65"/>
<circle cx="220.2" cy="437.8" r="2.65"/>
<circle cx="249.7" cy="438.8" r="2.65"/>
<circle cx="253.9" cy="392.3" r="2.65"/>
<circle cx="253.7" cy="443.3" r="2.65"/>
<circle cx="184" cy="387.6" r="2.65"/>
<circle cx="198.3" cy="412.7" r="2.65"/>
<circle cx="291" cy="435.9" r="2.65"/>
<circle cx="244.2" cy="442.1" r="2.65"/>
<circle cx="312.6" cy="383" r="2.65"/>
<circle cx="237.5" cy="418.5" r="2.65"/>
<circle cx="251.9" cy="414.4" r="2.65"/>
<circle cx="253.9" cy="438.8" r="2.65"/>
<circle cx="286.2" cy="440.7" r="2.65"/>
<circle cx="161.6" cy="424.6" r="2.65"/>
<circle cx="263.1" cy="432.1" r="2.65"/>
<circle cx="176.4" cy="414" r="2.65"/>
<circle cx="286.8" cy="390.8" r="2.65"/>
<circle cx="242.2" cy="431.4" r="2.65"/>
<circle cx="246.9" cy="400.9" r="2.65"/>
<circle cx="202.8" cy="443.1" r="2.65"/>
<circle cx="157" cy="415.6" r="2.65"/>
<circle cx="263.4" cy="410.6" r="2.65"/>
<circle cx="189" cy="441" r="2.65"/>
<circle cx="223.2" cy="387.8" r="2.65"/>
<circle cx="224" cy="376" r="2.65"/>
<circle cx="238.1" cy="445.6" r="2.65"/>
<circle cx="264.8" cy="432.6" r="2.65"/>
<circle cx="262.8" cy="384.8" r="2.65"/>
<circle cx="288.4" cy="443.8" r="2.65"/>
<circle cx="207.3" cy="444.8" r="2.65"/>
<circle cx="291" cy="409" r="2.65"/>
<circle cx="259.5" cy="402.4" r="2.65"/>
<circle cx="236.1" cy="403.9" r="2.65"/>
<circle cx="223.9" cy="444" r="2.65"/>
<circle cx="242.5" cy="418.8" r="2.65"/>
<circle cx="252.6" cy="353.4" r="2.65"/>
<circle cx="199.8" cy="421.4" r="2.65"/>
<circle cx="308" cy="416" r="2.65"/>
<circle cx="233.4" cy="411.9" r="2.65"/>
<circle cx="275.5" cy="438.4" r="2.65"/>
<circle cx="266.2" cy="423.6" r="2.65"/>
<circle cx="267.2" cy="415.6" r="2.65"/>
<circle cx="268.6" cy="372.4" r="2.65"/>
<circle cx="236" cy="436.5" r="2.65"/>
<circle cx="271.8" cy="441.9" r="2.65"/>
<circle cx="249.5" cy="402.8" r="2.65"/>
<circle cx="167" cy="405.4" r="2.65"/>
<circle cx="242.7" cy="412.3" r="2.65"/>
<circle cx="226" cy="403" r="2.65"/>
<circle cx="221.1" cy="412.5" r="2.65"/>
<circle cx="270" cy="416" r="2.65"/>
<circle cx="305" cy="419" r="2.65"/>
<circle cx="223.7" cy="405.4" r="2.65"/>
<circle cx="249.9" cy="375.1" r="2.65"/>
<circle cx="279.9" cy="435.9" r="2.65"/>
<circle cx="193.1" cy="432" r="2.65"/>
<circle cx="257.7" cy="365.8" r="2.65"/>
<circle cx="281.1" cy="440.4" r="2.65"/>
<circle cx="196.5" cy="443.8" r="2.65"/>
<circle cx="216.8" cy="407.1" r="2.65"/>
<circle cx="263.4" cy="441.8" r="2.65"/>
<circle cx="201.1" cy="428.3" r="2.65"/>
<circle cx="217.2" cy="436.4" r="2.65"/>
<circle cx="214" cy="375" r="2.65"/>
<circle cx="232.3" cy="417.6" r="2.65"/>
<circle cx="295" cy="387" r="2.65"/>
<circle cx="254.7" cy="391.6" r="2.65"/>
<circle cx="250.3" cy="364.8" r="2.65"/>
<circle cx="224.1" cy="423.6" r="2.65"/>
<circle cx="253.4" cy="381.4" r="2.65"/>
<circle cx="253.1" cy="421.6" r="2.65"/>
<circle cx="231.1" cy="439.2" r="2.65"/>
<circle cx="307" cy="434" r="2.65"/>
<circle cx="226" cy="415.7" r="2.65"/>
<circle cx="270.8" cy="425.7" r="2.65"/>
<circle cx="277.6" cy="429" r="2.65"/>
<circle cx="220.9" cy="411.9" r="2.65"/>
<circle cx="170" cy="444" r="2.65"/>
<circle cx="281.9" cy="390.5" r="2.65"/>
<circle cx="252.3" cy="414.2" r="2.65"/>
<circle cx="299" cy="413.4" r="2.65"/>
<circle cx="282.8" cy="437.8" r="2.65"/>
<circle cx="224.9" cy="411.4" r="2.65"/>
<circle cx="241.7" cy="406" r="2.65"/>
<circle cx="213" cy="419.9" r="2.65"/>
<circle cx="256.1" cy="396.8" r="2.65"/>
<circle cx="211.7" cy="395.4" r="2.65"/>
<circle cx="276.9" cy="407.1" r="2.65"/>
<circle cx="248.5" cy="437" r="2.65"/>
<circle cx="238.2" cy="439.8" r="2.65"/>
<circle cx="243.5" cy="423.5" r="2.65"/>
<circle cx="247.2" cy="430.1" r="2.65"/>
<circle cx="261.5" cy="444.7" r="2.65"/>
<circle cx="252.9" cy="429.3" r="2.65"/>
<circle cx="274.9" cy="411.3" r="2.65"/>
<circle cx="329" cy="438" r="2.65"/>
<circle cx="226.9" cy="414.3" r="2.65"/>
<circle cx="205.9" cy="417.1" r="2.65"/>
<circle cx="264.1" cy="394.5" r="2.65"/>
<circle cx="262.6" cy="433.6" r="2.65"/>
<circle cx="237.8" cy="425.6" r="2.65"/>
<circle cx="287.4" cy="393.6" r="2.65"/>
<circle cx="264" cy="430.3" r="2.65"/>
<circle cx="288.2" cy="420.4" r="2.65"/>
<circle cx="258.1" cy="443.9" r="2.65"/>
<circle cx="207.3" cy="434.8" r="2.65"/>
<circle cx="204.3" cy="440.4" r="2.65"/>
<circle cx="249.2" cy="426.4" r="2.65"/>
<circle cx="269.8" cy="438.9" r="2.65"/>
<circle cx="278.5" cy="387" r="2.65"/>
<circle cx="287.3" cy="429.8" r="2.65"/>
<circle cx="242.8" cy="426.9" r="2.65"/>
<circle cx="240.2" cy="412.7" r="2.65"/>
<circle cx="270" cy="425.6" r="2.65"/>
<circle cx="271.1" cy="406" r="2.65"/>
<circle cx="281.8" cy="410.7" r="2.65"/>
<circle cx="241.1" cy="426.5" r="2.65"/>
<circle cx="214" cy="397" r="2.65"/>
<circle cx="274" cy="367.4" r="2.65"/>
<circle cx="290.6" cy="435.2" r="2.65"/>
<circle cx="281.8" cy="425.5" r="2.65"/>
<circle cx="251.2" cy="373.8" r="2.65"/>
<circle cx="219" cy="409" r="2.65"/>
<circle cx="211.4" cy="422.2" r="2.65"/>
<circle cx="238.2" cy="431.2" r="2.65"/>
<circle cx="245.7" cy="382.2" r="2.65"/>
<circle cx="217.6" cy="364" r="2.65"/>
<circle cx="235.2" cy="413.8" r="2.65"/>
<circle cx="292" cy="401" r="2.65"/>
<circle cx="278.3" cy="430.9" r="2.65"/>
<circle cx="241.1" cy="420.3" r="2.65"/>
<circle cx="279.5" cy="422.8" r="2.65"/>
<circle cx="235.3" cy="440.8" r="2.65"/>
<circle cx="271.4" cy="344.6" r="2.65"/>
<circle cx="328.6" cy="392" r="2.65"/>
<circle cx="258.4" cy="419.4" r="2.65"/>
<circle cx="245.5" cy="429.7" r="2.65"/>
<circle cx="256.9" cy="401.1" r="2.65"/>
<circle cx="229" cy="418.6" r="2.65"/>
<circle cx="271.4" cy="380.9" r="2.65"/>
<circle cx="219.7" cy="426.2" r="2.65"/>
<circle cx="283.4" cy="433.5" r="2.65"/>
<circle cx="210" cy="448" r="2.65"/>
<circle cx="254.3" cy="371.3" r="2.65"/>
<circle cx="227" cy="429.4" r="2.65"/>
<circle cx="281.2" cy="432.9" r="2.65"/>
<circle cx="214.4" cy="346" r="2.65"/>
<circle cx="256.1" cy="398.3" r="2.65"/>
<circle cx="296.4" cy="323.6" r="2.65"/>
<circle cx="233.8" cy="412.3" r="2.65"/>
<circle cx="259.8" cy="422.5" r="2.65"/>
<circle cx="265.3" cy="368.7" r="2.65"/>
<circle cx="277.1" cy="411.1" r="2.65"/>
<circle cx="281.2" cy="387.4" r="2.65"/>
<circle cx="236" cy="340" r="2.65"/>
<circle cx="218.4" cy="439" r="2.65"/>
<circle cx="247.3" cy="424.3" r="2.65"/>
<circle cx="217.8" cy="440.6" r="2.65"/>
<circle cx="233" cy="360.6" r="2.65"/>
<circle cx="284.7" cy="417.1" r="2.65"/>
<circle cx="256.4" cy="429.9" r="2.65"/>
<circle cx="221.8" cy="419.5" r="2.65"/>
<circle cx="272.6" cy="370.1" r="2.65"/>
<circle cx="284.6" cy="394.1" r="2.65"/>
<circle cx="199.1" cy="431" r="2.65"/>
<circle cx="269.8" cy="385.4" r="2.65"/>
<circle cx="281.7" cy="427.9" r="2.65"/>
<circle cx="162" cy="444" r="2.65"/>
<circle cx="231.8" cy="440" r="2.65"/>
<circle cx="284.3" cy="401" r="2.65"/>
<circle cx="271.1" cy="415.6" r="2.65"/>
<circle cx="263.9" cy="418.1" r="2.65"/>
<circle cx="264" cy="362.7" r="2.65"/>
<circle cx="260.3" cy="409.2" r="2.65"/>
<circle cx="264" cy="443.5" r="2.65"/>
<circle cx="221.4" cy="441.3" r="2.65"/>
<circle cx="200" cy="348.6" r="2.65"/>
<circle cx="267.7" cy="394" r="2.65"/>
<circle cx="211.7" cy="431.9" r="2.65"/>
<circle cx="288.9" cy="432.1" r="2.65"/>
<circle cx="291.7" cy="409" r="2.65"/>
<circle cx="195.2" cy="416.7" r="2.65"/>
<circle cx="306" cy="349.4" r="2.65"/>
<circle cx="266.4" cy="445.1" r="2.65"/>
<circle cx="282.9" cy="427" r="2.65"/>
<circle cx="250.4" cy="396" r="2.65"/>
<circle cx="258.2" cy="413.4" r="2.65"/>
<circle cx="278.9" cy="431.5" r="2.65"/>
<circle cx="158.6" cy="435.4" r="2.65"/>
<circle cx="236.4" cy="427.1" r="2.65"/>
<circle cx="282.2" cy="384.6" r="2.65"/>
<circle cx="256.4" cy="438.9" r="2.65"/>
<circle cx="308" cy="362" r="2.65"/>
<circle cx="257.7" cy="373.5" r="2.65"/>
<circle cx="286.4" cy="420.4" r="2.65"/>
<circle cx="233.3" cy="409.6" r="2.65"/>
<circle cx="250.4" cy="381.5" r="2.65"/>
<circle cx="204.2" cy="412" r="2.65"/>
<circle cx="293" cy="331" r="2.65"/>
<circle cx="266.9" cy="367.1" r="2.65"/>
<circle cx="278.2" cy="391.1" r="2.65"/>
<circle cx="261.2" cy="444.8" r="2.65"/>
<circle cx="263.8" cy="418.5" r="2.65"/>
<circle cx="277.6" cy="409.2" r="2.65"/>
<circle cx="155.6" cy="392" r="2.65"/>
<circle cx="280.1" cy="366.2" r="2.65"/>
<circle cx="200.3" cy="417" r="2.65"/>
<circle cx="255.6" cy="404.4" r="2.65"/>
<circle cx="201.7" cy="422.1" r="2.65"/>
<circle cx="215.6" cy="418.6" r="2.65"/>
<circle cx="293.1" cy="435.1" r="2.65"/>
<circle cx="257" cy="358" r="2.65"/>
<circle cx="287" cy="429.1" r="2.65"/>
<circle cx="252.5" cy="436.1" r="2.65"/>
<circle cx="285.3" cy="413.8" r="2.65"/>
<circle cx="219.2" cy="407.6" r="2.65"/>
<circle cx="254.6" cy="414.3" r="2.65"/>
<circle cx="282.9" cy="436.7" r="2.65"/>
<circle cx="249" cy="433.4" r="2.65"/>
<circle cx="272.9" cy="432.2" r="2.65"/>
<circle cx="293" cy="377" r="2.65"/>
<circle cx="246.1" cy="436.3" r="2.65"/>
<circle cx="220" cy="401" r="2.65"/>
<circle cx="251.3" cy="413.5" r="2.65"/>
<circle cx="259.3" cy="423.5" r="2.65"/>
<circle cx="266.7" cy="383.7" r="2.65"/>
<circle cx="260.9" cy="392.9" r="2.65"/>
<circle cx="227.7" cy="379.9" r="2.65"/>
<circle cx="271.4" cy="359" r="2.65"/>
<circle cx="271.1" cy="371.8" r="2.65"/>
<circle cx="281.6" cy="413.1" r="2.65"/>
<circle cx="244.8" cy="378.2" r="2.65"/>
<circle cx="272.5" cy="401.5" r="2.65"/>
<circle cx="254.8" cy="420.4" r="2.65"/>
<circle cx="233" cy="409.9" r="2.65"/>
<circle cx="280.6" cy="393.8" r="2.65"/>
<circle cx="296" cy="377" r="2.65"/>
<circle cx="292" cy="441.8" r="2.65"/>
<circle cx="293" cy="444" r="2.65"/>
<circle cx="184" cy="415" r="2.65"/>
<circle cx="287.9" cy="427.5" r="2.65"/>
<circle cx="249.9" cy="383.6" r="2.65"/>
<circle cx="248.6" cy="422.5" r="2.65"/>
<circle cx="201.6" cy="350.6" r="2.65"/>
<circle cx="220.2" cy="425.9" r="2.65"/>
<circle cx="206" cy="414.8" r="2.65"/>
<circle cx="283.7" cy="392" r="2.65"/>
<circle cx="285.7" cy="389.2" r="2.65"/>
<circle cx="276.2" cy="376.3" r="2.65"/>
<circle cx="260" cy="431.9" r="2.65"/>
<circle cx="156" cy="430" r="2.65"/>
<circle cx="272.1" cy="430.8" r="2.65"/>
<circle cx="249.5" cy="437.4" r="2.65"/>
<circle cx="245.9" cy="444.6" r="2.65"/>
<circle cx="214.5" cy="410.8" r="2.65"/>
<circle cx="187" cy="419" r="2.65"/>
<circle cx="199" cy="377" r="2.65"/>
<circle cx="214.5" cy="413.5" r="2.65"/>
<circle cx="242.9" cy="425.7" r="2.65"/>
<circle cx="216.8" cy="429.8" r="2.65"/>
<circle cx="256.1" cy="409.4" r="2.65"/>
<circle cx="264.2" cy="393" r="2.65"/>
<circle cx="216.1" cy="416.2" r="2.65"/>
<circle cx="292.7" cy="437.9" r="2.65"/>
<circle cx="289.1" cy="435" r="2.65"/>
<circle cx="213.8" cy="413.4" r="2.65"/>
<circle cx="276.2" cy="395" r="2.65"/>
<circle cx="207.4" cy="443" r="2.65"/>
<circle cx="199.1" cy="420.3" r="2.65"/>
<circle cx="224.8" cy="413.5" r="2.65"/>
<circle cx="246.8" cy="372.5" r="2.65"/>
<circle cx="234" cy="412.2" r="2.65"/>
<circle cx="276.8" cy="432.5" r="2.65"/>
<circle cx="287" cy="409" r="2.65"/>
<circle cx="225.8" cy="380.3" r="2.65"/>
<circle cx="274.7" cy="430.1" r="2.65"/>
<circle cx="204.1" cy="412" r="2.65"/>
<circle cx="186" cy="395" r="2.65"/>
<circle cx="252.2" cy="426.5" r="2.65"/>
<circle cx="244.1" cy="417.9" r="2.65"/>
<circle cx="266.7" cy="392.2" r="2.65"/>
<circle cx="179.6" cy="408.6" r="2.65"/>
<circle cx="285.9" cy="410.4" r="2.65"/>
<circle cx="260" cy="440.7" r="2.65"/>
<circle cx="203.9" cy="434.3" r="2.65"/>
<circle cx="127.6" cy="402.6" r="2.65"/>
<circle cx="248.5" cy="441.7" r="2.65"/>
<circle cx="224" cy="349" r="2.65"/>
<circle cx="318" cy="395" r="2.65"/>
<circle cx="281.4" cy="405" r="2.65"/>
<circle cx="327" cy="405.4" r="2.65"/>
<circle cx="197.2" cy="424.8" r="2.65"/>
<circle cx="263" cy="421" r="2.65"/>
<circle cx="254.9" cy="421.8" r="2.65"/>
<circle cx="291.9" cy="444.7" r="2.65"/>
<circle cx="204" cy="385" r="2.65"/>
<circle cx="277.2" cy="419.8" r="2.65"/>
<circle cx="259.4" cy="380.2" r="2.65"/>
<circle cx="292" cy="370" r="2.65"/>
<circle cx="198.2" cy="421.6" r="2.65"/>
<circle cx="257.8" cy="378.8" r="2.65"/>
<circle cx="197.8" cy="423.8" r="2.65"/>
<circle cx="254.5" cy="405.1" r="2.65"/>
<circle cx="273.2" cy="423.2" r="2.65"/>
<circle cx="268.6" cy="392.9" r="2.65"/>
<circle cx="271" cy="402.3" r="2.65"/>
<circle cx="267.8" cy="429.6" r="2.65"/>
<circle cx="248.5" cy="410.1" r="2.65"/>
<circle cx="236.5" cy="417.1" r="2.65"/>
<circle cx="293" cy="442.4" r="2.65"/>
<circle cx="232.4" cy="418.2" r="2.65"/>
<circle cx="242.6" cy="412.7" r="2.65"/>
<circle cx="243.5" cy="421.9" r="2.65"/>
<circle cx="317" cy="350.4" r="2.65"/>
<circle cx="246.3" cy="417.2" r="2.65"/>
<circle cx="306.6" cy="347" r="2.65"/>
<circle cx="234.4" cy="387" r="2.65"/>
<circle cx="277.2" cy="444.7" r="2.65"/>
<circle cx="209" cy="396.2" r="2.65"/>
<circle cx="258.6" cy="403.5" r="2.65"/>
<circle cx="196" cy="445" r="2.65"/>
<circle cx="164" cy="426" r="2.65"/>
<circle cx="292.1" cy="417.3" r="2.65"/>
<circle cx="232" cy="410.8" r="2.65"/>
<circle cx="210.8" cy="424.4" r="2.65"/>
<circle cx="193.6" cy="427" r="2.65"/>
<circle cx="247.3" cy="416.9" r="2.65"/>
<circle cx="248.3" cy="402.7" r="2.65"/>
<circle cx="284" cy="390.8" r="2.65"/>
<circle cx="282.6" cy="373.6" r="2.65"/>
<circle cx="239.5" cy="409.1" r="2.65"/>
<circle cx="279.8" cy="429.2" r="2.65"/>
<circle cx="281.5" cy="409.5" r="2.65"/>
<circle cx="284.3" cy="437.3" r="2.65"/>
<circle cx="236.3" cy="413.1" r="2.65"/>
<circle cx="204.4" cy="417.7" r="2.65"/>
<circle cx="237.3" cy="434.1" r="2.65"/>
<circle cx="285.7" cy="419.3" r="2.65"/>
<circle cx="227.5" cy="436.6" r="2.65"/>
<circle cx="231.7" cy="396.8" r="2.65"/>
<circle cx="188" cy="407" r="2.65"/>
<circle cx="265.6" cy="437.2" r="2.65"/>
<circle cx="267.8" cy="381.2" r="2.65"/>
<circle cx="254.3" cy="380.2" r="2.65"/>
<circle cx="290.3" cy="431.8" r="2.65"/>
<circle cx="281.6" cy="366.6" r="2.65"/>
<circle cx="234" cy="341" r="2.65"/>
<circle cx="323" cy="337" r="2.65"/>
<circle cx="275.9" cy="436" r="2.65"/>
<circle cx="261.8" cy="397.6" r="2.65"/>
<circle cx="268.6" cy="371" r="2.65"/>
<circle cx="260.5" cy="385.7" r="2.65"/>
<circle cx="279.4" cy="440.3" r="2.65"/>
<circle cx="270.4" cy="399.6" r="2.65"/>
<circle cx="222" cy="415" r="2.65"/>
<circle cx="304" cy="429" r="2.65"/>
<circle cx="252.6" cy="445.8" r="2.65"/>
<circle cx="270.3" cy="420.1" r="2.65"/>
<circle cx="264.5" cy="442" r="2.65"/>
<circle cx="331" cy="440" r="2.65"/>
<circle cx="214.5" cy="395.1" r="2.65"/>
<circle cx="280.7" cy="404.3" r="2.65"/>
<circle cx="225.1" cy="396.2" r="2.65"/>
<circle cx="204.7" cy="434.5" r="2.65"/>
<circle cx="281.6" cy="421.2" r="2.65"/>
<circle cx="173" cy="399" r="2.65"/>
<circle cx="252" cy="423.4" r="2.65"/>
<circle cx="251.4" cy="425.1" r="2.65"/>
<circle cx="271.5" cy="417.2" r="2.65"/>
<circle cx="282" cy="429.3" r="2.65"/>
<circle cx="225.7" cy="440" r="2.65"/>
<circle cx="256.5" cy="419" r="2.65"/>
<circle cx="244" cy="409" r="2.65"/>
<circle cx="248.1" cy="410" r="2.65"/>
<circle cx="230.5" cy="440.8" r="2.65"/>
<circle cx="249" cy="370.8" r="2.65"/>
<circle cx="157.6" cy="386" r="2.65"/>
<circle cx="274.3" cy="419.6" r="2.65"/>
<circle cx="214" cy="448" r="2.65"/>
<circle cx="293.4" cy="352" r="2.65"/>
<circle cx="242.8" cy="419.4" r="2.65"/>
<circle cx="240.7" cy="411.8" r="2.65"/>
<circle cx="268.5" cy="444.2" r="2.65"/>
<circle cx="266.4" cy="428.7" r="2.65"/>
<circle cx="270.8" cy="439.4" r="2.65"/>
<circle cx="280.8" cy="372.1" r="2.65"/>
<circle cx="262.6" cy="346" r="2.65"/>
<circle cx="280.5" cy="416" r="2.65"/>
<circle cx="248.6" cy="346" r="2.65"/>
<circle cx="279.7" cy="410.8" r="2.65"/>
<circle cx="235.1" cy="429.6" r="2.65"/>
<circle cx="217.8" cy="408.2" r="2.65"/>
<circle cx="208.5" cy="417.3" r="2.65"/>
<circle cx="215.6" cy="412.7" r="2.65"/>
<circle cx="207" cy="385" r="2.65"/>
<circle cx="209.9" cy="421.4" r="2.65"/>
<circle cx="264.9" cy="391.2" r="2.65"/>
<circle cx="266" cy="392.5" r="2.65"/>
<circle cx="249.5" cy="432.6" r="2.65"/>
<circle cx="288.2" cy="437.9" r="2.65"/>
<circle cx="244" cy="358.4" r="2.65"/>
<circle cx="241.2" cy="411.7" r="2.65"/>
<circle cx="293.4" cy="356" r="2.65"/>
<circle cx="198.6" cy="419.5" r="2.65"/>
<circle cx="211.4" cy="407.8" r="2.65"/>
<circle cx="273.4" cy="417.6" r="2.65"/>
<circle cx="229" cy="385" r="2.65"/>
<circle cx="226" cy="424.6" r="2.65"/>
<circle cx="240.5" cy="416.3" r="2.65"/>
<circle cx="285.5" cy="444" r="2.65"/>
<circle cx="204.6" cy="414.2" r="2.65"/>
<circle cx="281.7" cy="438" r="2.65"/>
<circle cx="264.4" cy="411" r="2.65"/>
<circle cx="269.4" cy="399" r="2.65"/>
<circle cx="275.7" cy="373.5" r="2.65"/>
<circle cx="145.6" cy="433.4" r="2.65"/>
<circle cx="255.3" cy="437.1" r="2.65"/>
<circle cx="261" cy="329.6" r="2.65"/>
<circle cx="173.6" cy="444" r="2.65"/>
<circle cx="245" cy="400.5" r="2.65"/>
<circle cx="151.6" cy="414.4" r="2.65"/>
<circle cx="245" cy="366.5" r="2.65"/>
<circle cx="183.6" cy="402.6" r="2.65"/>
<circle cx="258.1" cy="423.1" r="2.65"/>
<circle cx="206.3" cy="413.5" r="2.65"/>
<circle cx="203.1" cy="410.8" r="2.65"/>
<circle cx="268.1" cy="442.7" r="2.65"/>
<circle cx="204.6" cy="422.9" r="2.65"/>
<circle cx="176" cy="398" r="2.65"/>
<circle cx="257.1" cy="401.1" r="2.65"/>
<circle cx="220.9" cy="415.2" r="2.65"/>
<circle cx="223.8" cy="425.9" r="2.65"/>
<circle cx="194" cy="436.2" r="2.65"/>
<circle cx="234.5" cy="422.3" r="2.65"/>
<circle cx="260.9" cy="442.6" r="2.65"/>
<circle cx="276.4" cy="443.3" r="2.65"/>
<circle cx="247" cy="424.2" r="2.65"/>
<circle cx="252.8" cy="428" r="2.65"/>
<circle cx="260.9" cy="431" r="2.65"/>
<circle cx="330" cy="401" r="2.65"/>
<circle cx="287.6" cy="343" r="2.65"/>
<circle cx="261.2" cy="416.9" r="2.65"/>
<circle cx="286.1" cy="415.1" r="2.65"/>
<circle cx="250" cy="412" r="2.65"/>
<circle cx="243.1" cy="395.8" r="2.65"/>
<circle cx="175" cy="381.6" r="2.65"/>
<circle cx="278.5" cy="431.5" r="2.65"/>
<circle cx="284.2" cy="384.6" r="2.65"/>
<circle cx="251.8" cy="416.1" r="2.65"/>
<circle cx="197.8" cy="419.1" r="2.65"/>
<circle cx="239.8" cy="398.7" r="2.65"/>
<circle cx="242.7" cy="414.6" r="2.65"/>
<circle cx="221.6" cy="402.6" r="2.65"/>
<circle cx="246.1" cy="415.4" r="2.65"/>
<circle cx="212.6" cy="418.3" r="2.65"/>
<circle cx="274.7" cy="416.3" r="2.65"/>
<circle cx="302" cy="380" r="2.65"/>
<circle cx="237.8" cy="415.8" r="2.65"/>
<circle cx="263.6" cy="406" r="2.65"/>
<circle cx="209" cy="390" r="2.65"/>
<circle cx="265.1" cy="435.7" r="2.65"/>
<circle cx="220.6" cy="417.8" r="2.65"/>
<circle cx="245.7" cy="383.4" r="2.65"/>
<circle cx="257.8" cy="432.5" r="2.65"/>
<circle cx="227" cy="436.1" r="2.65"/>
<circle cx="309.4" cy="440" r="2.65"/>
<circle cx="245.3" cy="432.9" r="2.65"/>
<circle cx="269.3" cy="439.5" r="2.65"/>
<circle cx="300.6" cy="346" r="2.65"/>
<circle cx="273.7" cy="439.9" r="2.65"/>
<circle cx="209.1" cy="392.3" r="2.65"/>
<circle cx="290.5" cy="426.8" r="2.65"/>
<circle cx="279" cy="418.9" r="2.65"/>
<circle cx="247.2" cy="431" r="2.65"/>
<circle cx="261.4" cy="440" r="2.65"/>
<circle cx="248.7" cy="412.6" r="2.65"/>
<circle cx="242" cy="420.1" r="2.65"/>
<circle cx="224.8" cy="429" r="2.65"/>
<circle cx="246.2" cy="412.6" r="2.65"/>
<circle cx="230.2" cy="416.8" r="2.65"/>
<circle cx="262.5" cy="411.5" r="2.65"/>
<circle cx="244.8" cy="432.1" r="2.65"/>
<circle cx="248.6" cy="432.5" r="2.65"/>
<circle cx="295" cy="410" r="2.65"/>
<circle cx="254.1" cy="412.4" r="2.65"/>
<circle cx="185" cy="410" r="2.65"/>
<circle cx="218.1" cy="438.4" r="2.65"/>
<circle cx="291.6" cy="435.5" r="2.65"/>
<circle cx="279.9" cy="441.2" r="2.65"/>
<circle cx="293" cy="394" r="2.65"/>
<circle cx="318" cy="420.6" r="2.65"/>
<circle cx="230.5" cy="413.1" r="2.65"/>
<circle cx="281.9" cy="366.7" r="2.65"/>
<circle cx="277.7" cy="433.4" r="2.65"/>
<circle cx="291" cy="436.9" r="2.65"/>
<circle cx="212.3" cy="413.2" r="2.65"/>
<circle cx="214.3" cy="418.6" r="2.65"/>
<circle cx="250.8" cy="442.3" r="2.65"/>
<circle cx="246.4" cy="418.3" r="2.65"/>
<circle cx="232.5" cy="433.5" r="2.65"/>
<circle cx="284.2" cy="444" r="2.65"/>
<circle cx="248" cy="389.8" r="2.65"/>
<circle cx="226" cy="364" r="2.65"/>
<circle cx="279" cy="434.5" r="2.65"/>
<circle cx="250.7" cy="380.4" r="2.65"/>
<circle cx="227.9" cy="442.9" r="2.65"/>
<circle cx="286.8" cy="446" r="2.65"/>
<circle cx="216.9" cy="435.9" r="2.65"/>
<circle cx="264.7" cy="406.7" r="2.65"/>
<circle cx="225.1" cy="429.2" r="2.65"/>
<circle cx="263.6" cy="413.6" r="2.65"/>
<circle cx="252.4" cy="405.8" r="2.65"/>
<circle cx="288.6" cy="439" r="2.65"/>
<circle cx="266.9" cy="399.2" r="2.65"/>
<circle cx="275.7" cy="426.9" r="2.65"/>
<circle cx="259" cy="385.5" r="2.65"/>
<circle cx="220.3" cy="416.1" r="2.65"/>
<circle cx="251.1" cy="414.3" r="2.65"/>
<circle cx="271.6" cy="445.1" r="2.65"/>
<circle cx="262.6" cy="424.8" r="2.65"/>
<circle cx="217" cy="392" r="2.65"/>
<circle cx="225" cy="393.8" r="2.65"/>
<circle cx="214" cy="383" r="2.65"/>
<circle cx="242.8" cy="405" r="2.65"/>
<circle cx="215.1" cy="423.4" r="2.65"/>
<circle cx="306" cy="393" r="2.65"/>
<circle cx="246.4" cy="372.8" r="2.65"/>
<circle cx="240" cy="358" r="2.65"/>
<circle cx="278.4" cy="427.6" r="2.65"/>
<circle cx="280.1" cy="441.5" r="2.65"/>
<circle cx="232" cy="379" r="2.65"/>
<circle cx="279.5" cy="425.7" r="2.65"/>
<circle cx="254.1" cy="384.3" r="2.65"/>
<circle cx="266.4" cy="436.7" r="2.65"/>
<circle cx="286.3" cy="398.4" r="2.65"/>
<circle cx="243.3" cy="435.1" r="2.65"/>
<circle cx="225.5" cy="408.4" r="2.65"/>
<circle cx="279.4" cy="352" r="2.65"/>
<circle cx="195.1" cy="423.1" r="2.65"/>
<circle cx="288.4" cy="433.7" r="2.65"/>
<circle cx="201.2" cy="424.3" r="2.65"/>
<circle cx="221.7" cy="420.1" r="2.65"/>
<circle cx="251.2" cy="395.3" r="2.65"/>
<circle cx="266.1" cy="445.3" r="2.65"/>
<circle cx="267" cy="331" r="2.65"/>
<circle cx="203.8" cy="440.6" r="2.65"/>
<circle cx="226.6" cy="405.3" r="2.65"/>
<circle cx="315" cy="420.6" r="2.65"/>
<circle cx="288.8" cy="445.6" r="2.65"/>
<circle cx="254.5" cy="397.6" r="2.65"/>
<circle cx="223.8" cy="441.7" r="2.65"/>
<circle cx="246.8" cy="428.3" r="2.65"/>
<circle cx="316" cy="407" r="2.65"/>
<circle cx="266.4" cy="399.4" r="2.65"/>
<circle cx="267.9" cy="378.9" r="2.65"/>
<circle cx="239.4" cy="445.2" r="2.65"/>
<circle cx="234.5" cy="427.3" r="2.65"/>
<circle cx="209.4" cy="437" r="2.65"/>
<circle cx="244.5" cy="389.1" r="2.65"/>
<circle cx="224.2" cy="411.6" r="2.65"/>
<circle cx="289.6" cy="444.8" r="2.65"/>
<circle cx="216.4" cy="428.3" r="2.65"/>
<circle cx="227" cy="360.6" r="2.65"/>
<circle cx="252" cy="316" r="2.65"/>
<circle cx="218.9" cy="425.8" r="2.65"/>
<circle cx="235" cy="410.5" r="2.65"/>
<circle cx="240.4" cy="412.3" r="2.65"/>
<circle cx="267.5" cy="437.6" r="2.65"/>
<circle cx="275.4" cy="439.6" r="2.65"/>
<circle cx="266.4" cy="425.4" r="2.65"/>
<circle cx="263.5" cy="440.7" r="2.65"/>
<circle cx="249.3" cy="385.2" r="2.65"/>
<circle cx="242.3" cy="424.4" r="2.65"/>
<circle cx="258.2" cy="419.1" r="2.65"/>
<circle cx="228.6" cy="346" r="2.65"/>
<circle cx="267" cy="416.7" r="2.65"/>
<circle cx="248.3" cy="385.5" r="2.65"/>
<circle cx="203.7" cy="422.8" r="2.65"/>
<circle cx="319" cy="359.4" r="2.65"/>
<circle cx="263.8" cy="434.8" r="2.65"/>
<circle cx="247.3" cy="373" r="2.65"/>
<circle cx="228.1" cy="431.3" r="2.65"/>
<circle cx="202" cy="397" r="2.65"/>
<circle cx="292.1" cy="414.3" r="2.65"/>
<circle cx="262" cy="422.1" r="2.65"/>
<circle cx="282.4" cy="355" r="2.65"/>
<circle cx="229.8" cy="433.5" r="2.65"/>
<circle cx="288.1" cy="436.8" r="2.65"/>
<circle cx="240.3" cy="425.7" r="2.65"/>
<circle cx="310" cy="396.6" r="2.65"/>
<circle cx="272.1" cy="372.2" r="2.65"/>
<circle cx="145" cy="438" r="2.65"/>
<circle cx="267.7" cy="415.5" r="2.65"/>
<circle cx="236.2" cy="426.7" r="2.65"/>
<circle cx="216.4" cy="387.2" r="2.65"/>
<circle cx="164.4" cy="433" r="2.65"/>
<circle cx="287.5" cy="420.8" r="2.65"/>
<circle cx="241.8" cy="426.4" r="2.65"/>
<circle cx="281.7" cy="407.1" r="2.65"/>
<circle cx="140" cy="437" r="2.65"/>
<circle cx="284.3" cy="415" r="2.65"/>
<circle cx="281.9" cy="369.7" r="2.65"/>
<circle cx="261.5" cy="427.5" r="2.65"/>
<circle cx="222.6" cy="440.5" r="2.65"/>
<circle cx="274.8" cy="418.4" r="2.65"/>
<circle cx="291.2" cy="415.8" r="2.65"/>
<circle cx="249.2" cy="414.9" r="2.65"/>
<circle cx="253.3" cy="444.7" r="2.65"/>
<circle cx="247.9" cy="431" r="2.65"/>
<circle cx="215.5" cy="433.3" r="2.65"/>
<circle cx="194.4" cy="432.2" r="2.65"/>
<circle cx="210" cy="405" r="2.65"/>
<circle cx="287.8" cy="409.2" r="2.65"/>
<circle cx="247.4" cy="430.5" r="2.65"/>
<circle cx="170" cy="415.6" r="2.65"/>
<circle cx="256.5" cy="423.8" r="2.65"/>
<circle cx="267.2" cy="380.5" r="2.65"/>
<circle cx="315.6" cy="414.6" r="2.65"/>
<circle cx="280.3" cy="437.3" r="2.65"/>
<circle cx="239.9" cy="422.5" r="2.65"/>
<circle cx="257.1" cy="419.4" r="2.65"/>
<circle cx="250.2" cy="420" r="2.65"/>
<circle cx="244.6" cy="434.9" r="2.65"/>
<circle cx="270.1" cy="393.3" r="2.65"/>
<circle cx="214.7" cy="437" r="2.65"/>
<circle cx="330" cy="350.4" r="2.65"/>
<circle cx="288.7" cy="403.6" r="2.65"/>
<circle cx="273.2" cy="373" r="2.65"/>
<circle cx="264.8" cy="396.8" r="2.65"/>
<circle cx="293" cy="360" r="2.65"/>
<circle cx="303.2" cy="275.8" r="2.65"/>
<circle cx="272.7" cy="391.7" r="2.65"/>
<circle cx="239.6" cy="443" r="2.65"/>
<circle cx="265.9" cy="400.6" r="2.65"/>
<circle cx="192" cy="382.6" r="2.65"/>
<circle cx="260.2" cy="364.1" r="2.65"/>
<circle cx="282.9" cy="378.1" r="2.65"/>
<circle cx="216" cy="420" r="2.65"/>
<circle cx="257" cy="398.5" r="2.65"/>
<circle cx="255.3" cy="368.8" r="2.65"/>
<circle cx="277.5" cy="365.9" r="2.65"/>
<circle cx="195.2" cy="445.5" r="2.65"/>
<circle cx="206" cy="400" r="2.65"/>
<circle cx="259.3" cy="397" r="2.65"/>
<circle cx="209" cy="341.4" r="2.65"/>
<circle cx="239.9" cy="408.7" r="2.65"/>
<circle cx="281.1" cy="438.4" r="2.65"/>
<circle cx="251.2" cy="376.2" r="2.65"/>
<circle cx="216" cy="429.3" r="2.65"/>
<circle cx="288.5" cy="419" r="2.65"/>
<circle cx="246.5" cy="397.7" r="2.65"/>
<circle cx="263.6" cy="433.7" r="2.65"/>
<circle cx="249.9" cy="393.7" r="2.65"/>
<circle cx="236.1" cy="407.7" r="2.65"/>
<circle cx="255.8" cy="441.9" r="2.65"/>
<circle cx="220.5" cy="435.9" r="2.65"/>
<circle cx="258.3" cy="433.7" r="2.65"/>
<circle cx="205.8" cy="418" r="2.65"/>
<circle cx="239" cy="433.3" r="2.65"/>
<circle cx="262.3" cy="374.9" r="2.65"/>
<circle cx="273.5" cy="368.8" r="2.65"/>
<circle cx="231" cy="340" r="2.65"/>
<circle cx="283.5" cy="435.7" r="2.65"/>
<circle cx="281.1" cy="412.9" r="2.65"/>
<circle cx="256.6" cy="423.5" r="2.65"/>
<circle cx="280.2" cy="424.7" r="2.65"/>
<circle cx="256.7" cy="367.1" r="2.65"/>
<circle cx="247.6" cy="440.7" r="2.65"/>
<circle cx="246.9" cy="387.5" r="2.65"/>
<circle cx="264.2" cy="433.9" r="2.65"/>
<circle cx="275.5" cy="425.6" r="2.65"/>
<circle cx="202" cy="424.1" r="2.65"/>
<circle cx="262.7" cy="435.9" r="2.65"/>
<circle cx="289.3" cy="438.8" r="2.65"/>
<circle cx="281.9" cy="408.9" r="2.65"/>
<circle cx="212.9" cy="444.4" r="2.65"/>
<circle cx="284.7" cy="367.5" r="2.65"/>
<circle cx="303" cy="365" r="2.65"/>
<circle cx="205.2" cy="439.1" r="2.65"/>
<circle cx="215.3" cy="409.7" r="2.65"/>
<circle cx="309.4" cy="368.6" r="2.65"/>
<circle cx="269.3" cy="395.4" r="2.65"/>
<circle cx="226.7" cy="422.2" r="2.65"/>
<circle cx="206.8" cy="421.9" r="2.65"/>
<circle cx="241.7" cy="419.4" r="2.65"/>
<circle cx="261.1" cy="429.2" r="2.65"/>
<circle cx="155.6" cy="425" r="2.65"/>
<circle cx="246.4" cy="435.4" r="2.65"/>
<circle cx="193.9" cy="444.2" r="2.65"/>
<circle cx="280.2" cy="436.3" r="2.65"/>
<circle cx="275.8" cy="442.5" r="2.65"/>
<circle cx="285.5" cy="442.2" r="2.65"/>
<circle cx="285.5" cy="405.5" r="2.65"/>
<circle cx="252.9" cy="427.6" r="2.65"/>
<circle cx="263.4" cy="368.2" r="2.65"/>
<circle cx="224" cy="391" r="2.65"/>
<circle cx="281.2" cy="439.9" r="2.65"/>
<circle cx="257.3" cy="415.2" r="2.65"/>
<circle cx="244.4" cy="410.4" r="2.65"/>
<circle cx="301" cy="427" r="2.65"/>
<circle cx="259.2" cy="442" r="2.65"/>
<circle cx="264" cy="430" r="2.65"/>
<circle cx="275.7" cy="404.4" r="2.65"/>
<circle cx="263" cy="359" r="2.65"/>
<circle cx="263.8" cy="388.3" r="2.65"/>
<circle cx="218" cy="379" r="2.65"/>
<circle cx="239.8" cy="440.3" r="2.65"/>
<circle cx="260.1" cy="425.1" r="2.65"/>
<circle cx="273.6" cy="405.6" r="2.65"/>
<circle cx="209.7" cy="396.1" r="2.65"/>
<circle cx="281.4" cy="426.7" r="2.65"/>
<circle cx="265.2" cy="428" r="2.65"/>
<circle cx="257.7" cy="432.3" r="2.65"/>
<circle cx="287.1" cy="405.1" r="2.65"/>
<circle cx="302" cy="401" r="2.65"/>
<circle cx="252.5" cy="412.3" r="2.65"/>
<circle cx="303.6" cy="358" r="2.65"/>
<circle cx="235.9" cy="410.1" r="2.65"/>
<circle cx="278.4" cy="423.9" r="2.65"/>
<circle cx="278.9" cy="441.4" r="2.65"/>
<circle cx="212" cy="372" r="2.65"/>
<circle cx="242.9" cy="444.4" r="2.65"/>
<circle cx="277.8" cy="370.2" r="2.65"/>
<circle cx="182" cy="444" r="2.65"/>
<circle cx="265.9" cy="363.9" r="2.65"/>
<circle cx="289.9" cy="445.2" r="2.65"/>
<circle cx="248.1" cy="388.1" r="2.65"/>
<circle cx="256.6" cy="434.2" r="2.65"/>
<circle cx="271.2" cy="370.1" r="2.65"/>
<circle cx="289.6" cy="405.5" r="2.65"/>
<circle cx="244.1" cy="430.7" r="2.65"/>
<circle cx="224" cy="407.4" r="2.65"/>
<circle cx="244.2" cy="411.1" r="2.65"/>
<circle cx="215" cy="418.3" r="2.65"/>
<circle cx="280.1" cy="379.5" r="2.65"/>
<circle cx="291.3" cy="430.8" r="2.65"/>
<circle cx="273.3" cy="406.8" r="2.65"/>
<circle cx="245.5" cy="445.3" r="2.65"/>
<circle cx="292.6" cy="439.8" r="2.65"/>
<circle cx="201.6" cy="442.2" r="2.65"/>
<circle cx="267.5" cy="377.3" r="2.65"/>
<circle cx="246.9" cy="417" r="2.65"/>
<circle cx="259.5" cy="442.4" r="2.65"/>
<circle cx="259.3" cy="440.5" r="2.65"/>
<circle cx="283.6" cy="397" r="2.65"/>
<circle cx="267.4" cy="393.1" r="2.65"/>
<circle cx="252.9" cy="432.8" r="2.65"/>
<circle cx="261.4" cy="444.9" r="2.65"/>
</g>
<rect x="507.4" y="272.6" width="175.0" height="177.8" fill="none" stroke="#444" stroke-width="1.2"/>
<line x1="500.4" y1="450.4" x2="507.4" y2="450.4" stroke="#5a5a5a" stroke-width="1.2"/>
<text x="498.7" y="454.8" text-anchor="end" class="tk2">0</text>
<line x1="500.4" y1="391.1" x2="507.4" y2="391.1" stroke="#5a5a5a" stroke-width="1.2"/>
<text x="498.7" y="395.5" text-anchor="end" class="tk2">4</text>
<line x1="500.4" y1="331.9" x2="507.4" y2="331.9" stroke="#5a5a5a" stroke-width="1.2"/>
<text x="498.7" y="336.3" text-anchor="end" class="tk2">8</text>
<line x1="500.4" y1="272.6" x2="507.4" y2="272.6" stroke="#5a5a5a" stroke-width="1.2"/>
<text x="498.7" y="277.0" text-anchor="end" class="tk2">12</text>
<text x="557.1" y="473.6" text-anchor="middle" class="ax">Male</text>
<text x="632.3" y="473.6" text-anchor="middle" class="ax">Female</text>
<g class="m">
<circle cx="548.8" cy="430.6" r="2.8"/>
<circle cx="550.1" cy="404.9" r="2.8"/>
<circle cx="553.1" cy="417.3" r="2.8"/>
<circle cx="552.6" cy="394" r="2.8"/>
<circle cx="561.7" cy="403" r="2.8"/>
<circle cx="570.6" cy="420.4" r="2.8"/>
<circle cx="562.2" cy="437.6" r="2.8"/>
<circle cx="567.9" cy="414" r="2.8"/>
<circle cx="554.9" cy="374.6" r="2.8"/>
<circle cx="555.9" cy="432.9" r="2.8"/>
<circle cx="565.4" cy="409.4" r="2.8"/>
<circle cx="556.8" cy="436.6" r="2.8"/>
<circle cx="562.6" cy="412.7" r="2.8"/>
<circle cx="558.4" cy="376.9" r="2.8"/>
<circle cx="561.1" cy="393.1" r="2.8"/>
<circle cx="560.7" cy="390.7" r="2.8"/>
<circle cx="559.2" cy="392.1" r="2.8"/>
<circle cx="557.1" cy="370.8" r="2.8"/>
<circle cx="562.9" cy="397.8" r="2.8"/>
<circle cx="562.7" cy="422.7" r="2.8"/>
<circle cx="555.4" cy="400.7" r="2.8"/>
<circle cx="561" cy="418.5" r="2.8"/>
<circle cx="555.2" cy="397.4" r="2.8"/>
<circle cx="560.1" cy="386.1" r="2.8"/>
<circle cx="574.7" cy="433.2" r="2.8"/>
<circle cx="551.3" cy="425.7" r="2.8"/>
<circle cx="562.8" cy="432.4" r="2.8"/>
<circle cx="544.4" cy="432.1" r="2.8"/>
<circle cx="557.1" cy="341.9" r="2.8"/>
<circle cx="554.6" cy="441" r="2.8"/>
<circle cx="560.8" cy="396.6" r="2.8"/>
<circle cx="549.2" cy="408.8" r="2.8"/>
<circle cx="545.9" cy="437.2" r="2.8"/>
<circle cx="556.2" cy="367.8" r="2.8"/>
<circle cx="558" cy="424.6" r="2.8"/>
<circle cx="549.1" cy="423.6" r="2.8"/>
<circle cx="563.3" cy="416.4" r="2.8"/>
<circle cx="547.2" cy="428.1" r="2.8"/>
<circle cx="557.3" cy="429.6" r="2.8"/>
<circle cx="541" cy="423.2" r="2.8"/>
<circle cx="554.7" cy="379.2" r="2.8"/>
<circle cx="559.5" cy="428.7" r="2.8"/>
<circle cx="557.1" cy="441.7" r="2.8"/>
<circle cx="564.2" cy="407.9" r="2.8"/>
<circle cx="569.9" cy="431.5" r="2.8"/>
<circle cx="546.9" cy="421.3" r="2.8"/>
<circle cx="557" cy="382.4" r="2.8"/>
<circle cx="551.2" cy="442.2" r="2.8"/>
<circle cx="560.4" cy="438.9" r="2.8"/>
<circle cx="565.3" cy="421.5" r="2.8"/>
<circle cx="543.6" cy="429.2" r="2.8"/>
<circle cx="556.2" cy="426.8" r="2.8"/>
<circle cx="551.4" cy="422.5" r="2.8"/>
<circle cx="557.9" cy="387.7" r="2.8"/>
<circle cx="565.8" cy="442.4" r="2.8"/>
<circle cx="555.6" cy="411.7" r="2.8"/>
<circle cx="564" cy="402.1" r="2.8"/>
<circle cx="553.6" cy="383.4" r="2.8"/>
<circle cx="553.5" cy="399.2" r="2.8"/>
<circle cx="562.8" cy="429.4" r="2.8"/>
<circle cx="560.7" cy="435.1" r="2.8"/>
<circle cx="557.1" cy="350.3" r="2.8"/>
<circle cx="559.9" cy="407.3" r="2.8"/>
<circle cx="542.4" cy="435.6" r="2.8"/>
<circle cx="559.6" cy="372.7" r="2.8"/>
<circle cx="559" cy="369.7" r="2.8"/>
<circle cx="574.2" cy="427.9" r="2.8"/>
<circle cx="564.8" cy="438.4" r="2.8"/>
<circle cx="552.1" cy="436.3" r="2.8"/>
<circle cx="566.2" cy="427.2" r="2.8"/>
<circle cx="551.5" cy="414.1" r="2.8"/>
<circle cx="572.8" cy="431.1" r="2.8"/>
<circle cx="547.7" cy="425.5" r="2.8"/>
<circle cx="542.9" cy="439.7" r="2.8"/>
<circle cx="577.7" cy="430.7" r="2.8"/>
<circle cx="567.4" cy="434.5" r="2.8"/>
<circle cx="550.4" cy="403.4" r="2.8"/>
<circle cx="554.1" cy="411.2" r="2.8"/>
<circle cx="554" cy="387.1" r="2.8"/>
<circle cx="548.8" cy="440.5" r="2.8"/>
<circle cx="575" cy="431.3" r="2.8"/>
<circle cx="553.7" cy="388.2" r="2.8"/>
<circle cx="557.1" cy="363.4" r="2.8"/>
<circle cx="556.6" cy="405.8" r="2.8"/>
<circle cx="539.9" cy="434.3" r="2.8"/>
<circle cx="556.3" cy="384.6" r="2.8"/>
<circle cx="560.5" cy="380.1" r="2.8"/>
<circle cx="558.7" cy="380.9" r="2.8"/>
<circle cx="549.3" cy="434.8" r="2.8"/>
<circle cx="556" cy="378.8" r="2.8"/>
<circle cx="573" cy="423.4" r="2.8"/>
<circle cx="556.7" cy="420.9" r="2.8"/>
<circle cx="565.3" cy="412.9" r="2.8"/>
<circle cx="537.6" cy="425" r="2.8"/>
<circle cx="549.4" cy="415.4" r="2.8"/>
<circle cx="557" cy="419.9" r="2.8"/>
<circle cx="536.7" cy="430.3" r="2.8"/>
<circle cx="554.9" cy="414.6" r="2.8"/>
<circle cx="569" cy="424.5" r="2.8"/>
<circle cx="546.4" cy="419.8" r="2.8"/>
<circle cx="570.9" cy="438.2" r="2.8"/>
<circle cx="554.8" cy="394.4" r="2.8"/>
<circle cx="552.8" cy="406.5" r="2.8"/>
<circle cx="557.6" cy="357.5" r="2.8"/>
<circle cx="572.3" cy="433.9" r="2.8"/>
<circle cx="563.4" cy="443" r="2.8"/>
<circle cx="565" cy="429" r="2.8"/>
<circle cx="551.1" cy="416" r="2.8"/>
<circle cx="576.1" cy="425.9" r="2.8"/>
<circle cx="563.1" cy="408.3" r="2.8"/>
<circle cx="559.1" cy="419.4" r="2.8"/>
<circle cx="556.7" cy="398.6" r="2.8"/>
<circle cx="556.6" cy="358.4" r="2.8"/>
<circle cx="568.3" cy="418.7" r="2.8"/>
<circle cx="551.6" cy="396.1" r="2.8"/>
<circle cx="556.3" cy="391.2" r="2.8"/>
<circle cx="545.4" cy="427.4" r="2.8"/>
<circle cx="561.3" cy="425.2" r="2.8"/>
<circle cx="541.1" cy="426.7" r="2.8"/>
<circle cx="560.2" cy="445.6" r="2.8"/>
<circle cx="541.5" cy="428.2" r="2.8"/>
<circle cx="555" cy="444.2" r="2.8"/>
<circle cx="553.9" cy="435.7" r="2.8"/>
<circle cx="567.8" cy="431.7" r="2.8"/>
<circle cx="551" cy="432.4" r="2.8"/>
<circle cx="557" cy="375.5" r="2.8"/>
<circle cx="555.8" cy="371.9" r="2.8"/>
<circle cx="557.9" cy="432.9" r="2.8"/>
<circle cx="561.2" cy="443.9" r="2.8"/>
<circle cx="556.9" cy="364.8" r="2.8"/>
<circle cx="548.9" cy="439.4" r="2.8"/>
<circle cx="544.3" cy="420.8" r="2.8"/>
<circle cx="544.3" cy="417.8" r="2.8"/>
<circle cx="562.3" cy="406.2" r="2.8"/>
<circle cx="570.9" cy="426.1" r="2.8"/>
<circle cx="560.2" cy="409.9" r="2.8"/>
<circle cx="559.4" cy="401.6" r="2.8"/>
<circle cx="554.4" cy="438" r="2.8"/>
<circle cx="553" cy="440.1" r="2.8"/>
<circle cx="557.1" cy="337.6" r="2.8"/>
<circle cx="554.8" cy="430.2" r="2.8"/>
<circle cx="552.4" cy="429.8" r="2.8"/>
<circle cx="557.1" cy="448.5" r="2.8"/>
<circle cx="559.2" cy="399.8" r="2.8"/>
<circle cx="559.4" cy="440.7" r="2.8"/>
<circle cx="557.3" cy="395.1" r="2.8"/>
<circle cx="552.5" cy="400.7" r="2.8"/>
<circle cx="555.3" cy="383.9" r="2.8"/>
<circle cx="557.9" cy="366.6" r="2.8"/>
<circle cx="554.9" cy="404.6" r="2.8"/>
<circle cx="554.9" cy="417.2" r="2.8"/>
<circle cx="569.9" cy="419.1" r="2.8"/>
<circle cx="553.5" cy="424.1" r="2.8"/>
<circle cx="551.8" cy="410.7" r="2.8"/>
<circle cx="557.5" cy="403.9" r="2.8"/>
<circle cx="558.5" cy="410.2" r="2.8"/>
<circle cx="543.5" cy="426.5" r="2.8"/>
<circle cx="547" cy="415.1" r="2.8"/>
<circle cx="557.2" cy="445.5" r="2.8"/>
<circle cx="557.1" cy="345.4" r="2.8"/>
<circle cx="556.9" cy="412.4" r="2.8"/>
<circle cx="548.1" cy="416.7" r="2.8"/>
<circle cx="539" cy="428.4" r="2.8"/>
<circle cx="563.1" cy="427.6" r="2.8"/>
<circle cx="568.1" cy="436.9" r="2.8"/>
<circle cx="567.3" cy="423.8" r="2.8"/>
<circle cx="565.5" cy="418" r="2.8"/>
<circle cx="570.1" cy="433.9" r="2.8"/>
<circle cx="559.7" cy="376.7" r="2.8"/>
<circle cx="559.4" cy="422.3" r="2.8"/>
<circle cx="558.6" cy="389.3" r="2.8"/>
<circle cx="559.4" cy="413.4" r="2.8"/>
<circle cx="554" cy="422" r="2.8"/>
<circle cx="546.3" cy="433.5" r="2.8"/>
<circle cx="565" cy="436" r="2.8"/>
</g>
<g class="eb"><line x1="532.3000000000001" y1="412.7" x2="581.9" y2="412.7"/><line x1="557.1" y1="389.0" x2="557.1" y2="435.8"/><line x1="545.3000000000001" y1="389.0" x2="568.9" y2="389.0"/><line x1="545.3000000000001" y1="435.8" x2="568.9" y2="435.8"/></g>
<g class="f">
<circle cx="620.9" cy="440.9" r="2.8"/>
<circle cx="632.4" cy="357.6" r="2.8"/>
<circle cx="638.2" cy="435.3" r="2.8"/>
<circle cx="633.6" cy="369" r="2.8"/>
<circle cx="631.3" cy="409.2" r="2.8"/>
<circle cx="628.6" cy="422.2" r="2.8"/>
<circle cx="639" cy="446.8" r="2.8"/>
<circle cx="620.3" cy="425.4" r="2.8"/>
<circle cx="625.2" cy="393.7" r="2.8"/>
<circle cx="632.5" cy="415.1" r="2.8"/>
<circle cx="628.9" cy="384.2" r="2.8"/>
<circle cx="644.7" cy="429.2" r="2.8"/>
<circle cx="637.6" cy="411.2" r="2.8"/>
<circle cx="631.9" cy="366.5" r="2.8"/>
<circle cx="639.2" cy="430.8" r="2.8"/>
<circle cx="619.1" cy="431" r="2.8"/>
<circle cx="628.9" cy="439.1" r="2.8"/>
<circle cx="623.8" cy="416.1" r="2.8"/>
<circle cx="630.4" cy="415.2" r="2.8"/>
<circle cx="634.9" cy="358.9" r="2.8"/>
<circle cx="652" cy="433.8" r="2.8"/>
<circle cx="636.3" cy="403.1" r="2.8"/>
<circle cx="639.8" cy="415.6" r="2.8"/>
<circle cx="629.7" cy="384.7" r="2.8"/>
<circle cx="628" cy="401.2" r="2.8"/>
<circle cx="634.8" cy="393.4" r="2.8"/>
<circle cx="633.5" cy="342.3" r="2.8"/>
<circle cx="638.4" cy="397" r="2.8"/>
<circle cx="626.4" cy="433.6" r="2.8"/>
<circle cx="624.9" cy="407.6" r="2.8"/>
<circle cx="645.1" cy="427.5" r="2.8"/>
<circle cx="630.6" cy="399.8" r="2.8"/>
<circle cx="637.7" cy="386.7" r="2.8"/>
<circle cx="636.9" cy="412.3" r="2.8"/>
<circle cx="637.2" cy="416.6" r="2.8"/>
<circle cx="626.7" cy="404.1" r="2.8"/>
<circle cx="641" cy="436.1" r="2.8"/>
<circle cx="635" cy="425.7" r="2.8"/>
<circle cx="635.3" cy="447.1" r="2.8"/>
<circle cx="630.1" cy="402.1" r="2.8"/>
<circle cx="623.5" cy="428.1" r="2.8"/>
<circle cx="635.7" cy="443.9" r="2.8"/>
<circle cx="622.3" cy="427.8" r="2.8"/>
<circle cx="615.7" cy="426.3" r="2.8"/>
<circle cx="626.5" cy="430.8" r="2.8"/>
<circle cx="627.4" cy="445.3" r="2.8"/>
<circle cx="645.7" cy="441.7" r="2.8"/>
<circle cx="645.3" cy="423.3" r="2.8"/>
<circle cx="632.8" cy="447.7" r="2.8"/>
<circle cx="633.3" cy="376.8" r="2.8"/>
<circle cx="645.9" cy="437.4" r="2.8"/>
<circle cx="636.3" cy="419.2" r="2.8"/>
<circle cx="651.7" cy="432" r="2.8"/>
<circle cx="621.7" cy="410.3" r="2.8"/>
<circle cx="621.4" cy="427.7" r="2.8"/>
<circle cx="639.3" cy="436.2" r="2.8"/>
<circle cx="625" cy="446.2" r="2.8"/>
<circle cx="633.5" cy="405.8" r="2.8"/>
<circle cx="627.3" cy="431.9" r="2.8"/>
<circle cx="628.1" cy="432.7" r="2.8"/>
<circle cx="635.1" cy="372.7" r="2.8"/>
<circle cx="634.5" cy="375.1" r="2.8"/>
<circle cx="634.3" cy="424.6" r="2.8"/>
<circle cx="633.9" cy="408" r="2.8"/>
<circle cx="631.5" cy="328.7" r="2.8"/>
<circle cx="635.5" cy="430.1" r="2.8"/>
<circle cx="642.7" cy="415.6" r="2.8"/>
<circle cx="640.5" cy="427.1" r="2.8"/>
<circle cx="631.1" cy="355" r="2.8"/>
<circle cx="640.2" cy="410.1" r="2.8"/>
<circle cx="644" cy="434.6" r="2.8"/>
<circle cx="644.1" cy="419.8" r="2.8"/>
<circle cx="636" cy="412.1" r="2.8"/>
<circle cx="632.7" cy="336.9" r="2.8"/>
<circle cx="625.3" cy="435.4" r="2.8"/>
<circle cx="626.1" cy="402.8" r="2.8"/>
<circle cx="632.9" cy="442.1" r="2.8"/>
<circle cx="611.9" cy="428.6" r="2.8"/>
<circle cx="635.1" cy="382.3" r="2.8"/>
<circle cx="631.8" cy="449.4" r="2.8"/>
<circle cx="641.5" cy="420" r="2.8"/>
<circle cx="645.5" cy="431.7" r="2.8"/>
<circle cx="626.8" cy="390.3" r="2.8"/>
<circle cx="633.3" cy="410" r="2.8"/>
<circle cx="632.1" cy="361.5" r="2.8"/>
<circle cx="631.4" cy="379" r="2.8"/>
<circle cx="631.1" cy="348.8" r="2.8"/>
<circle cx="634.2" cy="383" r="2.8"/>
<circle cx="650.8" cy="426" r="2.8"/>
<circle cx="625.1" cy="411.8" r="2.8"/>
<circle cx="641.5" cy="421.7" r="2.8"/>
<circle cx="632.4" cy="378.4" r="2.8"/>
<circle cx="635.8" cy="389.4" r="2.8"/>
<circle cx="623.8" cy="423.1" r="2.8"/>
<circle cx="628.7" cy="379.6" r="2.8"/>
<circle cx="612.6" cy="433.1" r="2.8"/>
<circle cx="630.3" cy="370.2" r="2.8"/>
<circle cx="629.1" cy="392.8" r="2.8"/>
<circle cx="631.5" cy="371.9" r="2.8"/>
<circle cx="620.8" cy="434.6" r="2.8"/>
<circle cx="629.3" cy="429.4" r="2.8"/>
<circle cx="651.3" cy="432.2" r="2.8"/>
<circle cx="633.1" cy="368.3" r="2.8"/>
<circle cx="626.3" cy="392" r="2.8"/>
<circle cx="617.8" cy="418.1" r="2.8"/>
<circle cx="616.3" cy="436" r="2.8"/>
<circle cx="614.7" cy="426.8" r="2.8"/>
<circle cx="638.9" cy="414.8" r="2.8"/>
<circle cx="644.9" cy="434" r="2.8"/>
<circle cx="643.8" cy="408.5" r="2.8"/>
<circle cx="633" cy="325.6" r="2.8"/>
<circle cx="633.6" cy="446" r="2.8"/>
<circle cx="637.9" cy="419.5" r="2.8"/>
<circle cx="647.5" cy="431.5" r="2.8"/>
<circle cx="634.7" cy="438.7" r="2.8"/>
<circle cx="641.6" cy="426.9" r="2.8"/>
<circle cx="633.8" cy="440.8" r="2.8"/>
<circle cx="637.1" cy="427.2" r="2.8"/>
<circle cx="634" cy="399.9" r="2.8"/>
<circle cx="620.9" cy="430.4" r="2.8"/>
<circle cx="627.9" cy="409.3" r="2.8"/>
<circle cx="631.7" cy="382.6" r="2.8"/>
<circle cx="640.1" cy="443.1" r="2.8"/>
<circle cx="638.1" cy="401.5" r="2.8"/>
<circle cx="631" cy="371.2" r="2.8"/>
<circle cx="636.5" cy="436.5" r="2.8"/>
<circle cx="631.5" cy="425" r="2.8"/>
<circle cx="641" cy="428.1" r="2.8"/>
<circle cx="633.4" cy="414.6" r="2.8"/>
<circle cx="633.6" cy="367" r="2.8"/>
<circle cx="630" cy="359.7" r="2.8"/>
<circle cx="638.1" cy="428.3" r="2.8"/>
<circle cx="632.9" cy="395.4" r="2.8"/>
<circle cx="630.7" cy="377.1" r="2.8"/>
<circle cx="623.2" cy="420.3" r="2.8"/>
<circle cx="615.3" cy="434.7" r="2.8"/>
<circle cx="643.5" cy="428.4" r="2.8"/>
<circle cx="646.2" cy="421.9" r="2.8"/>
<circle cx="622.8" cy="417.7" r="2.8"/>
<circle cx="640.1" cy="431.4" r="2.8"/>
<circle cx="629.2" cy="443.4" r="2.8"/>
<circle cx="617.8" cy="436.8" r="2.8"/>
<circle cx="634.5" cy="402.3" r="2.8"/>
<circle cx="643.4" cy="414.2" r="2.8"/>
<circle cx="624.7" cy="416.3" r="2.8"/>
<circle cx="648.9" cy="427.4" r="2.8"/>
<circle cx="635.5" cy="400.6" r="2.8"/>
<circle cx="627.3" cy="437.7" r="2.8"/>
<circle cx="632.6" cy="416.6" r="2.8"/>
<circle cx="631.4" cy="422.3" r="2.8"/>
<circle cx="646.1" cy="419.6" r="2.8"/>
<circle cx="642.8" cy="431.8" r="2.8"/>
<circle cx="631.4" cy="367.7" r="2.8"/>
<circle cx="626.8" cy="425.6" r="2.8"/>
<circle cx="627.9" cy="386" r="2.8"/>
<circle cx="630.3" cy="381" r="2.8"/>
<circle cx="648.5" cy="437.9" r="2.8"/>
<circle cx="615.6" cy="429.7" r="2.8"/>
<circle cx="635.1" cy="388.9" r="2.8"/>
<circle cx="642.1" cy="437.3" r="2.8"/>
<circle cx="629.7" cy="399.1" r="2.8"/>
<circle cx="624.3" cy="411.5" r="2.8"/>
<circle cx="625.7" cy="444.8" r="2.8"/>
<circle cx="633.1" cy="364.9" r="2.8"/>
<circle cx="633.1" cy="384.6" r="2.8"/>
<circle cx="623.4" cy="435.8" r="2.8"/>
<circle cx="648.9" cy="430.6" r="2.8"/>
<circle cx="635.5" cy="394.9" r="2.8"/>
<circle cx="624.5" cy="429.2" r="2.8"/>
<circle cx="643" cy="438.3" r="2.8"/>
<circle cx="639.9" cy="400.4" r="2.8"/>
<circle cx="638.5" cy="408.3" r="2.8"/>
<circle cx="636.4" cy="428.8" r="2.8"/>
<circle cx="618.4" cy="424.2" r="2.8"/>
<circle cx="616.6" cy="423.7" r="2.8"/>
<circle cx="620.4" cy="417.4" r="2.8"/>
<circle cx="622.5" cy="432.8" r="2.8"/>
<circle cx="646.2" cy="425" r="2.8"/>
<circle cx="625.6" cy="429.9" r="2.8"/>
<circle cx="622.9" cy="427" r="2.8"/>
<circle cx="641.1" cy="440.2" r="2.8"/>
<circle cx="633.6" cy="347.8" r="2.8"/>
<circle cx="618.9" cy="433.8" r="2.8"/>
<circle cx="623.6" cy="409.8" r="2.8"/>
<circle cx="637.3" cy="428.5" r="2.8"/>
<circle cx="628.6" cy="383.1" r="2.8"/>
<circle cx="638" cy="413" r="2.8"/>
<circle cx="618.8" cy="440" r="2.8"/>
<circle cx="639.5" cy="409.5" r="2.8"/>
<circle cx="631.7" cy="324.1" r="2.8"/>
<circle cx="637.8" cy="444.2" r="2.8"/>
<circle cx="626.2" cy="393.1" r="2.8"/>
<circle cx="624.9" cy="421.5" r="2.8"/>
<circle cx="635.8" cy="376.2" r="2.8"/>
<circle cx="631.8" cy="404.8" r="2.8"/>
<circle cx="634" cy="415.8" r="2.8"/>
<circle cx="625.7" cy="425.4" r="2.8"/>
<circle cx="632.4" cy="397.3" r="2.8"/>
<circle cx="646.8" cy="416.5" r="2.8"/>
<circle cx="627.8" cy="390.6" r="2.8"/>
<circle cx="629.8" cy="355.1" r="2.8"/>
<circle cx="619.2" cy="443.3" r="2.8"/>
<circle cx="641.4" cy="404.3" r="2.8"/>
<circle cx="641.9" cy="431.3" r="2.8"/>
<circle cx="643.2" cy="417.2" r="2.8"/>
<circle cx="633.9" cy="392.5" r="2.8"/>
<circle cx="627.2" cy="396.1" r="2.8"/>
<circle cx="632" cy="428.7" r="2.8"/>
<circle cx="627.5" cy="443.1" r="2.8"/>
<circle cx="629.4" cy="445.5" r="2.8"/>
<circle cx="624.7" cy="441.4" r="2.8"/>
<circle cx="622.2" cy="419" r="2.8"/>
<circle cx="638.6" cy="426.1" r="2.8"/>
<circle cx="629.9" cy="404.8" r="2.8"/>
<circle cx="635.4" cy="407.4" r="2.8"/>
<circle cx="637.8" cy="424.1" r="2.8"/>
<circle cx="633" cy="422.2" r="2.8"/>
<circle cx="622.3" cy="415.4" r="2.8"/>
<circle cx="635.6" cy="432.2" r="2.8"/>
<circle cx="629.9" cy="441.2" r="2.8"/>
<circle cx="634.7" cy="352.6" r="2.8"/>
<circle cx="630.4" cy="420.7" r="2.8"/>
<circle cx="640.2" cy="435.7" r="2.8"/>
<circle cx="636.4" cy="394.3" r="2.8"/>
<circle cx="626.5" cy="446.1" r="2.8"/>
<circle cx="627.6" cy="419.9" r="2.8"/>
<circle cx="623.4" cy="436.4" r="2.8"/>
<circle cx="613.6" cy="428" r="2.8"/>
<circle cx="626" cy="408.7" r="2.8"/>
<circle cx="631.6" cy="339.3" r="2.8"/>
<circle cx="628.8" cy="425.9" r="2.8"/>
<circle cx="630.2" cy="444.5" r="2.8"/>
<circle cx="649.1" cy="432.4" r="2.8"/>
<circle cx="629.7" cy="411.4" r="2.8"/>
<circle cx="647.9" cy="420.8" r="2.8"/>
<circle cx="646.3" cy="441.5" r="2.8"/>
<circle cx="614.2" cy="436.7" r="2.8"/>
<circle cx="628.2" cy="445.1" r="2.8"/>
<circle cx="631.6" cy="398.1" r="2.8"/>
<circle cx="627" cy="392.3" r="2.8"/>
<circle cx="618.3" cy="428.9" r="2.8"/>
<circle cx="632.2" cy="346.5" r="2.8"/>
<circle cx="638.2" cy="440.4" r="2.8"/>
<circle cx="620" cy="430.2" r="2.8"/>
<circle cx="640.5" cy="444.1" r="2.8"/>
<circle cx="652.6" cy="429.7" r="2.8"/>
<circle cx="632.7" cy="364.1" r="2.8"/>
<circle cx="625.4" cy="398.9" r="2.8"/>
<circle cx="632.2" cy="352.1" r="2.8"/>
<circle cx="631.9" cy="446.5" r="2.8"/>
<circle cx="633.6" cy="350.4" r="2.8"/>
<circle cx="627" cy="386.3" r="2.8"/>
<circle cx="637.5" cy="391.7" r="2.8"/>
<circle cx="650.1" cy="428.3" r="2.8"/>
<circle cx="624.3" cy="438.5" r="2.8"/>
<circle cx="634.3" cy="404.5" r="2.8"/>
<circle cx="619.5" cy="423.1" r="2.8"/>
<circle cx="634.8" cy="428.2" r="2.8"/>
<circle cx="642.7" cy="426.2" r="2.8"/>
<circle cx="643.7" cy="440.1" r="2.8"/>
<circle cx="631.8" cy="442" r="2.8"/>
<circle cx="644.1" cy="421.3" r="2.8"/>
<circle cx="628.2" cy="394.4" r="2.8"/>
<circle cx="640" cy="396.8" r="2.8"/>
<circle cx="623.6" cy="442.3" r="2.8"/>
<circle cx="634.3" cy="421" r="2.8"/>
<circle cx="632.7" cy="434.3" r="2.8"/>
<circle cx="622.3" cy="420.2" r="2.8"/>
<circle cx="631.4" cy="385.8" r="2.8"/>
<circle cx="622.3" cy="438.1" r="2.8"/>
<circle cx="647.9" cy="425.1" r="2.8"/>
<circle cx="631" cy="389.9" r="2.8"/>
<circle cx="627.3" cy="406.2" r="2.8"/>
<circle cx="625.6" cy="414.4" r="2.8"/>
<circle cx="613.5" cy="432.7" r="2.8"/>
<circle cx="627.1" cy="433.3" r="2.8"/>
<circle cx="629.3" cy="407.2" r="2.8"/>
<circle cx="650.2" cy="434.4" r="2.8"/>
<circle cx="637.3" cy="403.3" r="2.8"/>
<circle cx="643.5" cy="425.5" r="2.8"/>
<circle cx="624" cy="425.8" r="2.8"/>
<circle cx="630.5" cy="424.4" r="2.8"/>
<circle cx="626" cy="421.2" r="2.8"/>
<circle cx="628.2" cy="408" r="2.8"/>
<circle cx="638.6" cy="437.1" r="2.8"/>
<circle cx="634.5" cy="369.5" r="2.8"/>
<circle cx="634.5" cy="443.5" r="2.8"/>
<circle cx="633.4" cy="391.1" r="2.8"/>
<circle cx="637.4" cy="440.8" r="2.8"/>
<circle cx="651.6" cy="426.4" r="2.8"/>
<circle cx="621.1" cy="415.9" r="2.8"/>
<circle cx="633.5" cy="429.5" r="2.8"/>
<circle cx="621.2" cy="418" r="2.8"/>
<circle cx="632.3" cy="360.7" r="2.8"/>
<circle cx="625.5" cy="400.7" r="2.8"/>
<circle cx="619.9" cy="436.6" r="2.8"/>
<circle cx="638.9" cy="421.8" r="2.8"/>
<circle cx="633" cy="448.7" r="2.8"/>
<circle cx="636.3" cy="406.8" r="2.8"/>
<circle cx="627.7" cy="380.7" r="2.8"/>
<circle cx="619.4" cy="426.4" r="2.8"/>
<circle cx="621.5" cy="432.1" r="2.8"/>
<circle cx="646.4" cy="429.9" r="2.8"/>
<circle cx="617.5" cy="424.8" r="2.8"/>
<circle cx="629.5" cy="388.6" r="2.8"/>
<circle cx="633.8" cy="402" r="2.8"/>
<circle cx="632.7" cy="429.8" r="2.8"/>
<circle cx="632.5" cy="350.1" r="2.8"/>
<circle cx="640.9" cy="434.8" r="2.8"/>
<circle cx="639.2" cy="395.6" r="2.8"/>
<circle cx="633.5" cy="357.7" r="2.8"/>
<circle cx="624" cy="445" r="2.8"/>
<circle cx="635.6" cy="399.3" r="2.8"/>
<circle cx="625.7" cy="418.5" r="2.8"/>
<circle cx="632.2" cy="408.8" r="2.8"/>
<circle cx="629.5" cy="380" r="2.8"/>
<circle cx="620.3" cy="422.7" r="2.8"/>
<circle cx="641.4" cy="413.1" r="2.8"/>
<circle cx="629.6" cy="413.8" r="2.8"/>
<circle cx="624.6" cy="433.2" r="2.8"/>
<circle cx="631.1" cy="447.2" r="2.8"/>
<circle cx="620.4" cy="436.8" r="2.8"/>
<circle cx="634.8" cy="410.3" r="2.8"/>
<circle cx="640" cy="417.1" r="2.8"/>
<circle cx="632.7" cy="403.9" r="2.8"/>
<circle cx="616.3" cy="429.5" r="2.8"/>
<circle cx="637.9" cy="422.9" r="2.8"/>
<circle cx="644.8" cy="438.9" r="2.8"/>
<circle cx="621.9" cy="430.4" r="2.8"/>
<circle cx="640.7" cy="422" r="2.8"/>
<circle cx="623" cy="405.2" r="2.8"/>
<circle cx="631" cy="402.6" r="2.8"/>
<circle cx="627.5" cy="423.6" r="2.8"/>
<circle cx="634.1" cy="387.6" r="2.8"/>
<circle cx="623" cy="412.5" r="2.8"/>
<circle cx="630.8" cy="418.7" r="2.8"/>
<circle cx="646.9" cy="439.3" r="2.8"/>
<circle cx="635.7" cy="438.6" r="2.8"/>
<circle cx="626.4" cy="438.2" r="2.8"/>
<circle cx="627.1" cy="402.8" r="2.8"/>
<circle cx="636.2" cy="441.7" r="2.8"/>
<circle cx="614.4" cy="435.2" r="2.8"/>
<circle cx="638.3" cy="395" r="2.8"/>
<circle cx="637.4" cy="438.4" r="2.8"/>
<circle cx="624.8" cy="426.7" r="2.8"/>
<circle cx="636.8" cy="380.5" r="2.8"/>
<circle cx="631" cy="381.7" r="2.8"/>
<circle cx="632.8" cy="405.5" r="2.8"/>
<circle cx="621.9" cy="442.7" r="2.8"/>
<circle cx="621" cy="411.1" r="2.8"/>
<circle cx="631.9" cy="389" r="2.8"/>
<circle cx="613.8" cy="429" r="2.8"/>
<circle cx="649.5" cy="439" r="2.8"/>
<circle cx="632.7" cy="389.8" r="2.8"/>
<circle cx="630.1" cy="431.2" r="2.8"/>
<circle cx="615.9" cy="437.1" r="2.8"/>
<circle cx="637.2" cy="405.9" r="2.8"/>
<circle cx="616.7" cy="439.6" r="2.8"/>
<circle cx="639.8" cy="426.6" r="2.8"/>
<circle cx="631.1" cy="365.8" r="2.8"/>
<circle cx="615.2" cy="439.3" r="2.8"/>
<circle cx="644.3" cy="414" r="2.8"/>
<circle cx="631.7" cy="403.5" r="2.8"/>
<circle cx="643.3" cy="422.6" r="2.8"/>
<circle cx="635.1" cy="421.6" r="2.8"/>
<circle cx="630" cy="439.9" r="2.8"/>
<circle cx="644.7" cy="441.8" r="2.8"/>
<circle cx="647.6" cy="437.8" r="2.8"/>
<circle cx="637.9" cy="407.3" r="2.8"/>
<circle cx="632.4" cy="361.6" r="2.8"/>
<circle cx="630.7" cy="394.6" r="2.8"/>
<circle cx="627.6" cy="414.3" r="2.8"/>
<circle cx="639.8" cy="407.8" r="2.8"/>
<circle cx="639.4" cy="401.8" r="2.8"/>
<circle cx="636.4" cy="444.3" r="2.8"/>
<circle cx="636.8" cy="387.8" r="2.8"/>
<circle cx="624.9" cy="413.6" r="2.8"/>
<circle cx="618.2" cy="433.4" r="2.8"/>
<circle cx="636.6" cy="397.6" r="2.8"/>
<circle cx="633.4" cy="373.8" r="2.8"/>
<circle cx="627.8" cy="425.2" r="2.8"/>
<circle cx="624.7" cy="401.4" r="2.8"/>
<circle cx="641.8" cy="440.6" r="2.8"/>
<circle cx="641.8" cy="434" r="2.8"/>
<circle cx="628.2" cy="439.4" r="2.8"/>
<circle cx="633.7" cy="353.3" r="2.8"/>
<circle cx="631" cy="431" r="2.8"/>
<circle cx="628.1" cy="429" r="2.8"/>
<circle cx="632" cy="362.7" r="2.8"/>
<circle cx="625.1" cy="437.3" r="2.8"/>
<circle cx="645.1" cy="412.7" r="2.8"/>
<circle cx="612.8" cy="424.3" r="2.8"/>
<circle cx="630.1" cy="393.2" r="2.8"/>
<circle cx="626.9" cy="409.7" r="2.8"/>
<circle cx="630.8" cy="406.6" r="2.8"/>
<circle cx="632.6" cy="363.2" r="2.8"/>
<circle cx="621.7" cy="436.3" r="2.8"/>
<circle cx="631.1" cy="341" r="2.8"/>
<circle cx="614.6" cy="430.3" r="2.8"/>
<circle cx="642.3" cy="423.4" r="2.8"/>
<circle cx="636" cy="409" r="2.8"/>
<circle cx="635.9" cy="384" r="2.8"/>
<circle cx="626.9" cy="423.4" r="2.8"/>
<circle cx="642.7" cy="442.7" r="2.8"/>
<circle cx="631" cy="433.6" r="2.8"/>
<circle cx="630.9" cy="438.1" r="2.8"/>
<circle cx="626.6" cy="416.9" r="2.8"/>
<circle cx="626.4" cy="396.4" r="2.8"/>
<circle cx="632.3" cy="277" r="2.8"/>
<circle cx="634.8" cy="385.3" r="2.8"/>
<circle cx="620" cy="441.1" r="2.8"/>
<circle cx="625.5" cy="440.5" r="2.8"/>
<circle cx="629.5" cy="378.2" r="2.8"/>
<circle cx="629.1" cy="396.2" r="2.8"/>
<circle cx="633.7" cy="432.5" r="2.8"/>
<circle cx="624.2" cy="406.2" r="2.8"/>
<circle cx="629.1" cy="401" r="2.8"/>
<circle cx="621.3" cy="420.5" r="2.8"/>
<circle cx="631.8" cy="437.7" r="2.8"/>
<circle cx="636" cy="422.5" r="2.8"/>
<circle cx="630.2" cy="433" r="2.8"/>
<circle cx="632.4" cy="365.1" r="2.8"/>
<circle cx="632.4" cy="344" r="2.8"/>
<circle cx="619.9" cy="435.9" r="2.8"/>
<circle cx="629.7" cy="422.9" r="2.8"/>
<circle cx="636.9" cy="445.8" r="2.8"/>
<circle cx="636.9" cy="388.3" r="2.8"/>
<circle cx="633.5" cy="438.8" r="2.8"/>
<circle cx="631.4" cy="412.4" r="2.8"/>
<circle cx="635.8" cy="385.2" r="2.8"/>
<circle cx="632.1" cy="387.2" r="2.8"/>
<circle cx="615.9" cy="420.1" r="2.8"/>
<circle cx="626.6" cy="440" r="2.8"/>
<circle cx="643.8" cy="439.7" r="2.8"/>
<circle cx="628.4" cy="443.8" r="2.8"/>
<circle cx="630.2" cy="375.4" r="2.8"/>
<circle cx="640.3" cy="439.5" r="2.8"/>
<circle cx="632" cy="434.2" r="2.8"/>
<circle cx="631.7" cy="334.7" r="2.8"/>
<circle cx="626.6" cy="415" r="2.8"/>
<circle cx="618.5" cy="423.9" r="2.8"/>
<circle cx="639.4" cy="434.2" r="2.8"/>
<circle cx="634.6" cy="417.8" r="2.8"/>
<circle cx="623.4" cy="400.1" r="2.8"/>
<circle cx="624.5" cy="397.9" r="2.8"/>
<circle cx="631" cy="356.1" r="2.8"/>
<circle cx="641.3" cy="411.8" r="2.8"/>
<circle cx="632.4" cy="422.8" r="2.8"/>
<circle cx="640.7" cy="417.5" r="2.8"/>
<circle cx="633" cy="398.7" r="2.8"/>
<circle cx="630.6" cy="386.8" r="2.8"/>
<circle cx="647.2" cy="427.6" r="2.8"/>
<circle cx="622.7" cy="431.7" r="2.8"/>
<circle cx="635.4" cy="419.4" r="2.8"/>
<circle cx="650.7" cy="437.5" r="2.8"/>
<circle cx="634.3" cy="391.6" r="2.8"/>
<circle cx="639.8" cy="444.6" r="2.8"/>
<circle cx="633.2" cy="427" r="2.8"/>
<circle cx="617.5" cy="423.8" r="2.8"/>
<circle cx="610.8" cy="431.4" r="2.8"/>
<circle cx="632.2" cy="371.6" r="2.8"/>
<circle cx="630.1" cy="391" r="2.8"/>
<circle cx="632.7" cy="374.5" r="2.8"/>
<circle cx="639.5" cy="420.9" r="2.8"/>
<circle cx="645.7" cy="435.3" r="2.8"/>
<circle cx="629.2" cy="432.9" r="2.8"/>
<circle cx="648.9" cy="421.3" r="2.8"/>
<circle cx="635.3" cy="414.1" r="2.8"/>
<circle cx="631.9" cy="418.8" r="2.8"/>
<circle cx="625.9" cy="405.1" r="2.8"/>
<circle cx="637.3" cy="394.1" r="2.8"/>
<circle cx="633.5" cy="381.3" r="2.8"/>
<circle cx="638.5" cy="390.4" r="2.8"/>
<circle cx="637.6" cy="399.5" r="2.8"/>
<circle cx="636.4" cy="432.4" r="2.8"/>
<circle cx="618.3" cy="442.4" r="2.8"/>
<circle cx="634.7" cy="434.9" r="2.8"/>
<circle cx="628.2" cy="419.1" r="2.8"/>
<circle cx="617.4" cy="430.9" r="2.8"/>
<circle cx="629" cy="416.1" r="2.8"/>
<circle cx="637.3" cy="434.9" r="2.8"/>
<circle cx="630.7" cy="412" r="2.8"/>
<circle cx="636.8" cy="423.9" r="2.8"/>
<circle cx="644.6" cy="424.9" r="2.8"/>
<circle cx="636.1" cy="424.6" r="2.8"/>
<circle cx="620.2" cy="413.6" r="2.8"/>
<circle cx="631.1" cy="345.6" r="2.8"/>
<circle cx="645.2" cy="417.2" r="2.8"/>
<circle cx="634.9" cy="397.2" r="2.8"/>
<circle cx="624" cy="413.4" r="2.8"/>
<circle cx="632.4" cy="427.9" r="2.8"/>
<circle cx="647.2" cy="420.6" r="2.8"/>
<circle cx="640.5" cy="406.9" r="2.8"/>
<circle cx="629.6" cy="374.3" r="2.8"/>
<circle cx="642.9" cy="410.7" r="2.8"/>
<circle cx="630.9" cy="375.9" r="2.8"/>
<circle cx="648.4" cy="433.1" r="2.8"/>
<circle cx="617.3" cy="435.7" r="2.8"/>
<circle cx="630.3" cy="418.4" r="2.8"/>
<circle cx="622.9" cy="442.5" r="2.8"/>
<circle cx="648.2" cy="429.3" r="2.8"/>
<circle cx="632.8" cy="331.3" r="2.8"/>
<circle cx="628.5" cy="412.9" r="2.8"/>
<circle cx="619.3" cy="419.3" r="2.8"/>
<circle cx="632.8" cy="383.4" r="2.8"/>
<circle cx="631.7" cy="395.8" r="2.8"/>
<circle cx="636.7" cy="408.3" r="2.8"/>
<circle cx="629.4" cy="426.6" r="2.8"/>
<circle cx="642" cy="410.5" r="2.8"/>
<circle cx="635.2" cy="377.8" r="2.8"/>
<circle cx="650" cy="424.3" r="2.8"/>
<circle cx="647.4" cy="435.6" r="2.8"/>
<circle cx="633.1" cy="335.2" r="2.8"/>
<circle cx="628.8" cy="410.9" r="2.8"/>
<circle cx="634.3" cy="379.3" r="2.8"/>
<circle cx="646.5" cy="433.7" r="2.8"/>
<circle cx="639.1" cy="398.4" r="2.8"/>
<circle cx="633.7" cy="417.9" r="2.8"/>
<circle cx="616.5" cy="427.4" r="2.8"/>
<circle cx="622.7" cy="411.2" r="2.8"/>
<circle cx="653.5" cy="430.5" r="2.8"/>
<circle cx="638.9" cy="406.5" r="2.8"/>
<circle cx="640.8" cy="413.2" r="2.8"/>
<circle cx="640.9" cy="403.5" r="2.8"/>
<circle cx="631.8" cy="373.2" r="2.8"/>
<circle cx="642.2" cy="405.4" r="2.8"/>
<circle cx="631.1" cy="441.3" r="2.8"/>
<circle cx="618.4" cy="418.3" r="2.8"/>
<circle cx="622.1" cy="404" r="2.8"/>
<circle cx="634.5" cy="448" r="2.8"/>
<circle cx="638.9" cy="418.6" r="2.8"/>
<circle cx="650.7" cy="430.1" r="2.8"/>
<circle cx="639" cy="442.8" r="2.8"/>
<circle cx="632.8" cy="437" r="2.8"/>
<circle cx="628.1" cy="398.1" r="2.8"/>
<circle cx="642.5" cy="416.8" r="2.8"/>
<circle cx="628.7" cy="388.1" r="2.8"/>
<circle cx="612.7" cy="431.6" r="2.8"/>
<circle cx="619.2" cy="414.8" r="2.8"/>
<circle cx="642.7" cy="435" r="2.8"/>
</g>
<g class="eb"><line x1="607.5" y1="413.3" x2="657.0999999999999" y2="413.3"/><line x1="632.3" y1="388.6" x2="632.3" y2="438.2"/><line x1="620.5" y1="388.6" x2="644.0999999999999" y2="388.6"/><line x1="620.5" y1="438.2" x2="644.0999999999999" y2="438.2"/></g>
<text transform="translate(65.3,359.5) rotate(-90)" text-anchor="middle" class="tt">Nap frequency per day</text>
<text transform="translate(474,361.5) rotate(-90)" text-anchor="middle" class="tt2">Nap frequency per day</text>
<text x="-0.5" y="266.8" class="lt">c</text>
<text x="409" y="266.8" class="lt">d</text>
<rect x="98.8" y="518.6" width="237.8" height="179.0" fill="none" stroke="#8c8c8c" stroke-width="1.4"/>
<line x1="93.2" y1="697.6" x2="98.8" y2="697.6" stroke="#8c8c8c" stroke-width="1.4"/>
<text x="90.2" y="702.0" text-anchor="end" class="tk">-2</text>
<line x1="93.2" y1="667.8" x2="98.8" y2="667.8" stroke="#8c8c8c" stroke-width="1.4"/>
<text x="90.2" y="672.2" text-anchor="end" class="tk">-1</text>
<line x1="93.2" y1="637.9" x2="98.8" y2="637.9" stroke="#8c8c8c" stroke-width="1.4"/>
<text x="90.2" y="642.3" text-anchor="end" class="tk">0</text>
<line x1="93.2" y1="608.1" x2="98.8" y2="608.1" stroke="#8c8c8c" stroke-width="1.4"/>
<text x="90.2" y="612.5" text-anchor="end" class="tk">1</text>
<line x1="93.2" y1="578.3" x2="98.8" y2="578.3" stroke="#8c8c8c" stroke-width="1.4"/>
<text x="90.2" y="582.7" text-anchor="end" class="tk">2</text>
<line x1="93.2" y1="548.4" x2="98.8" y2="548.4" stroke="#8c8c8c" stroke-width="1.4"/>
<text x="90.2" y="552.8" text-anchor="end" class="tk">3</text>
<line x1="93.2" y1="518.6" x2="98.8" y2="518.6" stroke="#8c8c8c" stroke-width="1.4"/>
<text x="90.2" y="523.0" text-anchor="end" class="tk">4</text>
<line x1="98.8" y1="697.6" x2="98.8" y2="703.2" stroke="#8c8c8c" stroke-width="1.4"/>
<text x="97.8" y="716.5" text-anchor="middle" class="tk">50</text>
<line x1="146.4" y1="697.6" x2="146.4" y2="703.2" stroke="#8c8c8c" stroke-width="1.4"/>
<text x="145.4" y="716.5" text-anchor="middle" class="tk">60</text>
<line x1="193.9" y1="697.6" x2="193.9" y2="703.2" stroke="#8c8c8c" stroke-width="1.4"/>
<text x="192.9" y="716.5" text-anchor="middle" class="tk">70</text>
<line x1="241.5" y1="697.6" x2="241.5" y2="703.2" stroke="#8c8c8c" stroke-width="1.4"/>
<text x="240.5" y="716.5" text-anchor="middle" class="tk">80</text>
<line x1="289.0" y1="697.6" x2="289.0" y2="703.2" stroke="#8c8c8c" stroke-width="1.4"/>
<text x="288.0" y="716.5" text-anchor="middle" class="tk">90</text>
<line x1="336.6" y1="697.6" x2="336.6" y2="703.2" stroke="#8c8c8c" stroke-width="1.4"/>
<text x="332.7" y="716.5" text-anchor="middle" class="tk">100</text>
<text x="217" y="736.3" text-anchor="middle" class="ax">Age</text>
<polygon points="116.9,626.3 126.1,627.1 135.2,627.8 144.4,628.6 153.5,629.3 162.7,630.1 171.8,630.8 181.0,631.6 190.1,632.3 199.3,633.1 208.4,633.8 217.6,634.5 226.8,635.2 235.9,635.8 245.1,636.3 254.2,636.5 263.4,636.5 272.5,636.4 281.7,636.1 290.8,635.8 300.0,635.5 309.1,635.2 318.3,634.9 327.4,634.5 336.6,634.2 336.6,644.8 327.4,644.0 318.3,643.3 309.1,642.6 300.0,641.8 290.8,641.1 281.7,640.4 272.5,639.7 263.4,639.1 254.2,638.7 245.1,638.5 235.9,638.6 226.8,638.8 217.6,639.1 208.4,639.4 199.3,639.7 190.1,640.0 181.0,640.3 171.8,640.7 162.7,641.0 153.5,641.3 144.4,641.7 135.2,642.0 126.1,642.4 116.9,642.7" fill="url(#hatch)" stroke="none"/>
<polyline points="116.9,626.3 126.1,627.1 135.2,627.8 144.4,628.6 153.5,629.3 162.7,630.1 171.8,630.8 181.0,631.6 190.1,632.3 199.3,633.1 208.4,633.8 217.6,634.5 226.8,635.2 235.9,635.8 245.1,636.3 254.2,636.5 263.4,636.5 272.5,636.4 281.7,636.1 290.8,635.8 300.0,635.5 309.1,635.2 318.3,634.9 327.4,634.5 336.6,634.2" class="be"/>
<polyline points="116.9,642.7 126.1,642.4 135.2,642.0 144.4,641.7 153.5,641.3 162.7,641.0 171.8,640.7 181.0,640.3 190.1,640.0 199.3,639.7 208.4,639.4 217.6,639.1 226.8,638.8 235.9,638.6 245.1,638.5 254.2,638.7 263.4,639.1 272.5,639.7 281.7,640.4 290.8,641.1 300.0,641.8 309.1,642.6 318.3,643.3 327.4,644.0 336.6,644.8" class="be"/>
<line x1="116.9" y1="634.5" x2="336.6" y2="639.5" class="rl"/>
<g class="k">
<circle cx="244.8" cy="668.9" r="2.65"/>
<circle cx="252.3" cy="657.5" r="2.65"/>
<circle cx="259.9" cy="659.8" r="2.65"/>
<circle cx="279.5" cy="649.6" r="2.65"/>
<circle cx="171" cy="634" r="2.65"/>
<circle cx="252" cy="640.7" r="2.65"/>
<circle cx="206.1" cy="615.4" r="2.65"/>
<circle cx="281.6" cy="621.9" r="2.65"/>
<circle cx="162.4" cy="621.4" r="2.65"/>
<circle cx="127.6" cy="582.4" r="2.65"/>
<circle cx="236.1" cy="631.6" r="2.65"/>
<circle cx="244.8" cy="654" r="2.65"/>
<circle cx="275.3" cy="615.9" r="2.65"/>
<circle cx="264" cy="616.9" r="2.65"/>
<circle cx="247.4" cy="611.6" r="2.65"/>
<circle cx="219" cy="629.4" r="2.65"/>
<circle cx="208.6" cy="627.4" r="2.65"/>
<circle cx="207.3" cy="648.8" r="2.65"/>
<circle cx="300" cy="646" r="2.65"/>
<circle cx="330" cy="643" r="2.65"/>
<circle cx="263.9" cy="665.7" r="2.65"/>
<circle cx="268.9" cy="622.9" r="2.65"/>
<circle cx="214.1" cy="654.3" r="2.65"/>
<circle cx="221" cy="615.8" r="2.65"/>
<circle cx="206" cy="666" r="2.65"/>
<circle cx="233.8" cy="613.9" r="2.65"/>
<circle cx="213.2" cy="641.8" r="2.65"/>
<circle cx="198" cy="662" r="2.65"/>
<circle cx="233.7" cy="610.8" r="2.65"/>
<circle cx="226.6" cy="596.4" r="2.65"/>
<circle cx="178" cy="582.6" r="2.65"/>
<circle cx="234.7" cy="620.7" r="2.65"/>
<circle cx="329" cy="639" r="2.65"/>
<circle cx="254" cy="571" r="2.65"/>
<circle cx="316.4" cy="660" r="2.65"/>
<circle cx="272.5" cy="620" r="2.65"/>
<circle cx="244.7" cy="617.1" r="2.65"/>
<circle cx="272.5" cy="635.3" r="2.65"/>
<circle cx="269.8" cy="631.1" r="2.65"/>
<circle cx="272.4" cy="610.7" r="2.65"/>
<circle cx="271.4" cy="639.2" r="2.65"/>
<circle cx="300" cy="661.4" r="2.65"/>
<circle cx="243.4" cy="637.5" r="2.65"/>
<circle cx="304" cy="625" r="2.65"/>
<circle cx="264.2" cy="628.4" r="2.65"/>
<circle cx="254.3" cy="616.9" r="2.65"/>
<circle cx="167" cy="629" r="2.65"/>
<circle cx="309.6" cy="661.6" r="2.65"/>
<circle cx="261.3" cy="662.5" r="2.65"/>
<circle cx="200" cy="673" r="2.65"/>
<circle cx="221.5" cy="625.6" r="2.65"/>
<circle cx="264.9" cy="654.6" r="2.65"/>
<circle cx="177.6" cy="621" r="2.65"/>
<circle cx="301" cy="632" r="2.65"/>
<circle cx="240.3" cy="618.3" r="2.65"/>
<circle cx="222.4" cy="599.5" r="2.65"/>
<circle cx="274.6" cy="636.1" r="2.65"/>
<circle cx="215" cy="581.4" r="2.65"/>
<circle cx="253.5" cy="615.2" r="2.65"/>
<circle cx="268.5" cy="599.7" r="2.65"/>
<circle cx="303" cy="613" r="2.65"/>
<circle cx="244.1" cy="629.7" r="2.65"/>
<circle cx="276.9" cy="657.2" r="2.65"/>
<circle cx="251" cy="618.9" r="2.65"/>
<circle cx="271" cy="639.6" r="2.65"/>
<circle cx="212.3" cy="639" r="2.65"/>
<circle cx="329" cy="616" r="2.65"/>
<circle cx="237.4" cy="546.4" r="2.65"/>
<circle cx="239.6" cy="612.2" r="2.65"/>
<circle cx="224.3" cy="641.6" r="2.65"/>
<circle cx="222" cy="540.4" r="2.65"/>
<circle cx="270.4" cy="657.5" r="2.65"/>
<circle cx="261" cy="668.6" r="2.65"/>
<circle cx="220.4" cy="625.9" r="2.65"/>
<circle cx="199" cy="651.4" r="2.65"/>
<circle cx="212.6" cy="624.1" r="2.65"/>
<circle cx="288.2" cy="651.1" r="2.65"/>
<circle cx="207.3" cy="652.3" r="2.65"/>
<circle cx="257.1" cy="615.1" r="2.65"/>
<circle cx="233.7" cy="646.4" r="2.65"/>
<circle cx="308" cy="638" r="2.65"/>
<circle cx="209.2" cy="612.1" r="2.65"/>
<circle cx="252.4" cy="636.5" r="2.65"/>
<circle cx="295" cy="645" r="2.65"/>
<circle cx="247.4" cy="639.6" r="2.65"/>
<circle cx="257.1" cy="646.6" r="2.65"/>
<circle cx="192" cy="612" r="2.65"/>
<circle cx="257.4" cy="577" r="2.65"/>
<circle cx="218.9" cy="662.3" r="2.65"/>
<circle cx="217.9" cy="665.4" r="2.65"/>
<circle cx="262.8" cy="669.6" r="2.65"/>
<circle cx="225.9" cy="658.3" r="2.65"/>
<circle cx="170" cy="589.8" r="2.65"/>
<circle cx="260.1" cy="634.3" r="2.65"/>
<circle cx="251.6" cy="616.8" r="2.65"/>
<circle cx="284.9" cy="654" r="2.65"/>
<circle cx="183" cy="638" r="2.65"/>
<circle cx="200.4" cy="598" r="2.65"/>
<circle cx="255.1" cy="634.5" r="2.65"/>
<circle cx="261.8" cy="606.8" r="2.65"/>
<circle cx="270.6" cy="619.1" r="2.65"/>
<circle cx="301" cy="620" r="2.65"/>
<circle cx="221.3" cy="626.7" r="2.65"/>
<circle cx="237.7" cy="639.4" r="2.65"/>
<circle cx="272.9" cy="627.2" r="2.65"/>
<circle cx="207.5" cy="657.1" r="2.65"/>
<circle cx="224.5" cy="663.8" r="2.65"/>
<circle cx="232.4" cy="651.3" r="2.65"/>
<circle cx="261.4" cy="630.8" r="2.65"/>
<circle cx="246.6" cy="638.6" r="2.65"/>
<circle cx="239.1" cy="658.7" r="2.65"/>
<circle cx="250.8" cy="630.3" r="2.65"/>
<circle cx="277.7" cy="627.2" r="2.65"/>
<circle cx="249" cy="666.3" r="2.65"/>
<circle cx="288.3" cy="623.2" r="2.65"/>
<circle cx="214.6" cy="601" r="2.65"/>
<circle cx="260" cy="657.2" r="2.65"/>
<circle cx="293" cy="603.7" r="2.65"/>
<circle cx="230.1" cy="634.8" r="2.65"/>
<circle cx="263.5" cy="669.8" r="2.65"/>
<circle cx="272.9" cy="671.2" r="2.65"/>
<circle cx="247.4" cy="611.1" r="2.65"/>
<circle cx="199" cy="626.8" r="2.65"/>
<circle cx="265.4" cy="642.6" r="2.65"/>
<circle cx="265.2" cy="616.3" r="2.65"/>
<circle cx="240.6" cy="592.6" r="2.65"/>
<circle cx="275.4" cy="631" r="2.65"/>
<circle cx="256.4" cy="661" r="2.65"/>
<circle cx="264.6" cy="559.6" r="2.65"/>
<circle cx="256.9" cy="639" r="2.65"/>
<circle cx="218" cy="609.6" r="2.65"/>
<circle cx="268.9" cy="657.4" r="2.65"/>
<circle cx="265.4" cy="664.4" r="2.65"/>
<circle cx="255.8" cy="614" r="2.65"/>
<circle cx="199" cy="667" r="2.65"/>
<circle cx="259.4" cy="603.1" r="2.65"/>
<circle cx="193" cy="658" r="2.65"/>
<circle cx="245.5" cy="653.4" r="2.65"/>
<circle cx="219" cy="587.4" r="2.65"/>
<circle cx="164" cy="608" r="2.65"/>
<circle cx="287" cy="640.7" r="2.65"/>
<circle cx="236.8" cy="652.8" r="2.65"/>
<circle cx="282.7" cy="623.9" r="2.65"/>
<circle cx="291.8" cy="621.3" r="2.65"/>
<circle cx="208.1" cy="601.1" r="2.65"/>
<circle cx="250.9" cy="609.1" r="2.65"/>
<circle cx="266.7" cy="655.9" r="2.65"/>
<circle cx="259" cy="601" r="2.65"/>
<circle cx="272.9" cy="617.5" r="2.65"/>
<circle cx="212.2" cy="629.1" r="2.65"/>
<circle cx="228" cy="602.6" r="2.65"/>
<circle cx="227.1" cy="655.1" r="2.65"/>
<circle cx="224.4" cy="636.8" r="2.65"/>
<circle cx="303" cy="678" r="2.65"/>
<circle cx="256" cy="574" r="2.65"/>
<circle cx="239.4" cy="608.7" r="2.65"/>
<circle cx="237.4" cy="597.5" r="2.65"/>
<circle cx="327.4" cy="605" r="2.65"/>
<circle cx="140.4" cy="653.6" r="2.65"/>
<circle cx="235.5" cy="608.9" r="2.65"/>
<circle cx="256.6" cy="658.2" r="2.65"/>
<circle cx="279.1" cy="607.1" r="2.65"/>
<circle cx="214.9" cy="646.5" r="2.65"/>
<circle cx="214.3" cy="618.8" r="2.65"/>
<circle cx="313" cy="616" r="2.65"/>
<circle cx="251.4" cy="640.8" r="2.65"/>
<circle cx="156" cy="633" r="2.65"/>
<circle cx="280" cy="587.4" r="2.65"/>
<circle cx="234.7" cy="656.5" r="2.65"/>
<circle cx="250.7" cy="640.7" r="2.65"/>
<circle cx="260" cy="606" r="2.65"/>
<circle cx="231.4" cy="609.1" r="2.65"/>
<circle cx="254.8" cy="639.4" r="2.65"/>
<circle cx="266" cy="624.2" r="2.65"/>
<circle cx="257" cy="629.3" r="2.65"/>
<circle cx="274.3" cy="654.6" r="2.65"/>
<circle cx="267" cy="606" r="2.65"/>
<circle cx="250.7" cy="632.7" r="2.65"/>
<circle cx="266.6" cy="658.6" r="2.65"/>
<circle cx="264.5" cy="654.6" r="2.65"/>
<circle cx="293.1" cy="609.2" r="2.65"/>
<circle cx="184" cy="589.4" r="2.65"/>
<circle cx="272.6" cy="640.9" r="2.65"/>
<circle cx="244" cy="626" r="2.65"/>
<circle cx="161.6" cy="643" r="2.65"/>
<circle cx="201.3" cy="632.6" r="2.65"/>
<circle cx="230" cy="669.8" r="2.65"/>
<circle cx="259.2" cy="600.5" r="2.65"/>
<circle cx="251.6" cy="657.7" r="2.65"/>
<circle cx="257.9" cy="639" r="2.65"/>
<circle cx="244.3" cy="633.1" r="2.65"/>
<circle cx="257.9" cy="625.7" r="2.65"/>
<circle cx="242.4" cy="655.7" r="2.65"/>
<circle cx="224" cy="638.5" r="2.65"/>
<circle cx="271.4" cy="607.2" r="2.65"/>
<circle cx="210.1" cy="607.8" r="2.65"/>
<circle cx="289.6" cy="635.9" r="2.65"/>
<circle cx="186" cy="606.6" r="2.65"/>
<circle cx="217.9" cy="614.7" r="2.65"/>
<circle cx="264" cy="568.6" r="2.65"/>
<circle cx="282" cy="673" r="2.65"/>
<circle cx="270" cy="610.5" r="2.65"/>
<circle cx="268.2" cy="649.7" r="2.65"/>
<circle cx="265" cy="650" r="2.65"/>
<circle cx="252.6" cy="678" r="2.65"/>
<circle cx="275.7" cy="644.7" r="2.65"/>
<circle cx="261.8" cy="645.8" r="2.65"/>
<circle cx="283" cy="603.4" r="2.65"/>
<circle cx="265.7" cy="606.2" r="2.65"/>
<circle cx="266.3" cy="665.4" r="2.65"/>
<circle cx="262.6" cy="645.6" r="2.65"/>
<circle cx="221.8" cy="618" r="2.65"/>
<circle cx="330" cy="609.4" r="2.65"/>
<circle cx="262.3" cy="630.3" r="2.65"/>
<circle cx="210" cy="589.4" r="2.65"/>
<circle cx="232.6" cy="670.1" r="2.65"/>
<circle cx="177.6" cy="564.6" r="2.65"/>
<circle cx="253.2" cy="648.7" r="2.65"/>
<circle cx="202" cy="667" r="2.65"/>
<circle cx="251" cy="654.5" r="2.65"/>
<circle cx="244.4" cy="617" r="2.65"/>
<circle cx="246.2" cy="621.3" r="2.65"/>
<circle cx="213" cy="659.7" r="2.65"/>
<circle cx="203" cy="633" r="2.65"/>
<circle cx="281.4" cy="670" r="2.65"/>
<circle cx="238.8" cy="619.6" r="2.65"/>
<circle cx="230.1" cy="597.4" r="2.65"/>
<circle cx="244" cy="621.9" r="2.65"/>
<circle cx="243.5" cy="653.3" r="2.65"/>
<circle cx="262" cy="585.4" r="2.65"/>
<circle cx="265.9" cy="626.3" r="2.65"/>
<circle cx="214.1" cy="610.2" r="2.65"/>
<circle cx="282.9" cy="638.9" r="2.65"/>
<circle cx="250.7" cy="645.6" r="2.65"/>
<circle cx="265.5" cy="672.2" r="2.65"/>
<circle cx="262.8" cy="615.4" r="2.65"/>
<circle cx="236.1" cy="635.3" r="2.65"/>
<circle cx="235.1" cy="662.7" r="2.65"/>
<circle cx="259.9" cy="610.5" r="2.65"/>
<circle cx="272.9" cy="598.4" r="2.65"/>
<circle cx="238.3" cy="668.5" r="2.65"/>
<circle cx="240.8" cy="631.7" r="2.65"/>
<circle cx="224.1" cy="659.2" r="2.65"/>
<circle cx="229.6" cy="650.5" r="2.65"/>
<circle cx="289.8" cy="623.1" r="2.65"/>
<circle cx="170" cy="622" r="2.65"/>
<circle cx="179" cy="633" r="2.65"/>
<circle cx="256.3" cy="666.7" r="2.65"/>
<circle cx="243" cy="622.8" r="2.65"/>
<circle cx="262.3" cy="649.9" r="2.65"/>
<circle cx="258.4" cy="670.8" r="2.65"/>
<circle cx="199" cy="628" r="2.65"/>
<circle cx="310.2" cy="598" r="2.65"/>
<circle cx="327.4" cy="593.6" r="2.65"/>
<circle cx="269" cy="580.6" r="2.65"/>
<circle cx="196" cy="669" r="2.65"/>
<circle cx="223.6" cy="584.4" r="2.65"/>
<circle cx="247.7" cy="618.6" r="2.65"/>
<circle cx="266" cy="581.4" r="2.65"/>
<circle cx="288.6" cy="661" r="2.65"/>
<circle cx="231.6" cy="551.4" r="2.65"/>
<circle cx="290" cy="609.1" r="2.65"/>
<circle cx="246.8" cy="658.5" r="2.65"/>
<circle cx="216.7" cy="664.7" r="2.65"/>
<circle cx="239.7" cy="596.6" r="2.65"/>
<circle cx="220.5" cy="644.9" r="2.65"/>
<circle cx="226" cy="596.9" r="2.65"/>
<circle cx="269.7" cy="660.4" r="2.65"/>
<circle cx="217.8" cy="664.2" r="2.65"/>
<circle cx="287.6" cy="608.8" r="2.65"/>
<circle cx="246.2" cy="646.1" r="2.65"/>
<circle cx="207.8" cy="620.6" r="2.65"/>
<circle cx="227" cy="665" r="2.65"/>
<circle cx="221.3" cy="638.2" r="2.65"/>
<circle cx="271.8" cy="660.1" r="2.65"/>
<circle cx="272.7" cy="601.6" r="2.65"/>
<circle cx="274.7" cy="668.1" r="2.65"/>
<circle cx="218.7" cy="636.5" r="2.65"/>
<circle cx="248" cy="646.5" r="2.65"/>
<circle cx="189.4" cy="672" r="2.65"/>
<circle cx="233" cy="604" r="2.65"/>
<circle cx="285" cy="596.3" r="2.65"/>
<circle cx="164.6" cy="641" r="2.65"/>
<circle cx="284.5" cy="624.5" r="2.65"/>
<circle cx="251.6" cy="642" r="2.65"/>
<circle cx="253.5" cy="651.6" r="2.65"/>
<circle cx="235" cy="568.6" r="2.65"/>
<circle cx="249.9" cy="671.4" r="2.65"/>
<circle cx="198" cy="638" r="2.65"/>
<circle cx="242.7" cy="610.8" r="2.65"/>
<circle cx="207" cy="581.4" r="2.65"/>
<circle cx="286.5" cy="622.8" r="2.65"/>
<circle cx="280.1" cy="595.1" r="2.65"/>
<circle cx="292.2" cy="641.6" r="2.65"/>
<circle cx="211.2" cy="638.9" r="2.65"/>
<circle cx="222.7" cy="644.7" r="2.65"/>
<circle cx="190" cy="639" r="2.65"/>
<circle cx="278" cy="604" r="2.65"/>
<circle cx="189" cy="622.6" r="2.65"/>
<circle cx="273" cy="603" r="2.65"/>
<circle cx="239" cy="663.2" r="2.65"/>
<circle cx="226.7" cy="630.3" r="2.65"/>
<circle cx="243.2" cy="617.5" r="2.65"/>
<circle cx="279.7" cy="638.4" r="2.65"/>
<circle cx="220.9" cy="649.2" r="2.65"/>
<circle cx="221" cy="666.4" r="2.65"/>
<circle cx="239.5" cy="605.5" r="2.65"/>
<circle cx="200.6" cy="626.9" r="2.65"/>
<circle cx="216" cy="599.3" r="2.65"/>
<circle cx="258.4" cy="642.8" r="2.65"/>
<circle cx="237" cy="627.5" r="2.65"/>
<circle cx="241" cy="604" r="2.65"/>
<circle cx="210.6" cy="621.4" r="2.65"/>
<circle cx="247.4" cy="576.6" r="2.65"/>
<circle cx="217" cy="665" r="2.65"/>
<circle cx="231.6" cy="600.6" r="2.65"/>
<circle cx="280.9" cy="626.8" r="2.65"/>
<circle cx="237.1" cy="650.6" r="2.65"/>
<circle cx="247.9" cy="618.8" r="2.65"/>
<circle cx="262.2" cy="671.3" r="2.65"/>
<circle cx="265.7" cy="656.4" r="2.65"/>
<circle cx="262.3" cy="609.7" r="2.65"/>
<circle cx="242" cy="661" r="2.65"/>
<circle cx="257.1" cy="653.4" r="2.65"/>
<circle cx="214.5" cy="661.6" r="2.65"/>
<circle cx="155" cy="645.4" r="2.65"/>
<circle cx="254.9" cy="644.2" r="2.65"/>
<circle cx="252.4" cy="598.8" r="2.65"/>
<circle cx="227.7" cy="599.6" r="2.65"/>
<circle cx="235" cy="603" r="2.65"/>
<circle cx="225.8" cy="618.6" r="2.65"/>
<circle cx="214" cy="586" r="2.65"/>
<circle cx="244.4" cy="611.5" r="2.65"/>
<circle cx="242.9" cy="625.7" r="2.65"/>
<circle cx="269.7" cy="649.4" r="2.65"/>
<circle cx="218" cy="642" r="2.65"/>
<circle cx="204" cy="679" r="2.65"/>
<circle cx="255.1" cy="622.2" r="2.65"/>
<circle cx="188" cy="638" r="2.65"/>
<circle cx="276.6" cy="595.5" r="2.65"/>
<circle cx="253.2" cy="614.7" r="2.65"/>
<circle cx="249.1" cy="652.2" r="2.65"/>
<circle cx="267.6" cy="602.1" r="2.65"/>
<circle cx="278.3" cy="605.3" r="2.65"/>
<circle cx="257.1" cy="639.1" r="2.65"/>
<circle cx="273.1" cy="643.4" r="2.65"/>
<circle cx="244" cy="600" r="2.65"/>
<circle cx="242.6" cy="620.1" r="2.65"/>
<circle cx="234.6" cy="667.2" r="2.65"/>
<circle cx="237" cy="599" r="2.65"/>
<circle cx="213.2" cy="597.7" r="2.65"/>
<circle cx="187" cy="608" r="2.65"/>
<circle cx="309.4" cy="616" r="2.65"/>
<circle cx="318.6" cy="620.6" r="2.65"/>
<circle cx="245.2" cy="668.9" r="2.65"/>
<circle cx="173" cy="584" r="2.65"/>
<circle cx="220" cy="666" r="2.65"/>
<circle cx="151.6" cy="609.8" r="2.65"/>
<circle cx="235" cy="676" r="2.65"/>
<circle cx="255.7" cy="615.4" r="2.65"/>
<circle cx="303" cy="579.8" r="2.65"/>
<circle cx="223.7" cy="660.8" r="2.65"/>
<circle cx="247.8" cy="657.2" r="2.65"/>
<circle cx="210" cy="603" r="2.65"/>
<circle cx="235.8" cy="622.9" r="2.65"/>
<circle cx="270.3" cy="643" r="2.65"/>
<circle cx="245.1" cy="664.5" r="2.65"/>
<circle cx="263.5" cy="620.9" r="2.65"/>
<circle cx="269.3" cy="622.3" r="2.65"/>
<circle cx="250.9" cy="614.1" r="2.65"/>
<circle cx="275" cy="676.6" r="2.65"/>
<circle cx="286.5" cy="654.6" r="2.65"/>
<circle cx="262.7" cy="619.1" r="2.65"/>
<circle cx="254.2" cy="669.6" r="2.65"/>
<circle cx="264.9" cy="621.4" r="2.65"/>
<circle cx="281" cy="579.4" r="2.65"/>
<circle cx="246.5" cy="607.3" r="2.65"/>
<circle cx="219.5" cy="639.6" r="2.65"/>
<circle cx="271.6" cy="607.1" r="2.65"/>
<circle cx="272.1" cy="654.6" r="2.65"/>
<circle cx="273.4" cy="609.5" r="2.65"/>
<circle cx="247.9" cy="658.1" r="2.65"/>
<circle cx="261.8" cy="636.3" r="2.65"/>
<circle cx="208.7" cy="628.9" r="2.65"/>
<circle cx="183.6" cy="660" r="2.65"/>
<circle cx="252.9" cy="651.2" r="2.65"/>
<circle cx="247.4" cy="626.5" r="2.65"/>
<circle cx="248.2" cy="644.9" r="2.65"/>
<circle cx="272.6" cy="629.7" r="2.65"/>
<circle cx="240.8" cy="618.2" r="2.65"/>
<circle cx="158" cy="635.4" r="2.65"/>
<circle cx="193" cy="604" r="2.65"/>
<circle cx="287.9" cy="649" r="2.65"/>
<circle cx="250.1" cy="621.2" r="2.65"/>
<circle cx="257.4" cy="649.5" r="2.65"/>
<circle cx="281.8" cy="654.8" r="2.65"/>
<circle cx="278.6" cy="641.5" r="2.65"/>
<circle cx="316" cy="635" r="2.65"/>
<circle cx="263.5" cy="664.6" r="2.65"/>
<circle cx="218.7" cy="651.9" r="2.65"/>
<circle cx="218" cy="603" r="2.65"/>
<circle cx="286.1" cy="608.8" r="2.65"/>
<circle cx="187" cy="616" r="2.65"/>
<circle cx="287" cy="605" r="2.65"/>
<circle cx="257.9" cy="613.2" r="2.65"/>
<circle cx="267.6" cy="618.8" r="2.65"/>
<circle cx="255.4" cy="649" r="2.65"/>
<circle cx="209.1" cy="622.1" r="2.65"/>
<circle cx="280" cy="655.7" r="2.65"/>
<circle cx="208.9" cy="611.6" r="2.65"/>
<circle cx="291" cy="632.2" r="2.65"/>
<circle cx="240.8" cy="653.3" r="2.65"/>
<circle cx="249.1" cy="608.8" r="2.65"/>
<circle cx="257.2" cy="669.7" r="2.65"/>
<circle cx="216.8" cy="661.6" r="2.65"/>
<circle cx="223.4" cy="609.2" r="2.65"/>
<circle cx="221.8" cy="661.3" r="2.65"/>
<circle cx="256.2" cy="641" r="2.65"/>
<circle cx="186" cy="623" r="2.65"/>
<circle cx="222.3" cy="628.7" r="2.65"/>
<circle cx="206" cy="641" r="2.65"/>
<circle cx="254.5" cy="663.5" r="2.65"/>
<circle cx="241.3" cy="608.9" r="2.65"/>
<circle cx="244.7" cy="650.5" r="2.65"/>
<circle cx="245.8" cy="668.6" r="2.65"/>
<circle cx="250" cy="646.5" r="2.65"/>
<circle cx="145.6" cy="648.6" r="2.65"/>
<circle cx="222.2" cy="652.6" r="2.65"/>
<circle cx="277.5" cy="627.9" r="2.65"/>
<circle cx="245.8" cy="622.4" r="2.65"/>
<circle cx="243.8" cy="661.3" r="2.65"/>
<circle cx="173.6" cy="648" r="2.65"/>
<circle cx="232.9" cy="629.8" r="2.65"/>
<circle cx="217.2" cy="614.5" r="2.65"/>
<circle cx="281.6" cy="598" r="2.65"/>
<circle cx="225.7" cy="630.2" r="2.65"/>
<circle cx="275.1" cy="637.7" r="2.65"/>
<circle cx="264.1" cy="617.4" r="2.65"/>
<circle cx="217.7" cy="628.6" r="2.65"/>
<circle cx="209.7" cy="611" r="2.65"/>
<circle cx="230" cy="663" r="2.65"/>
<circle cx="210.4" cy="659.7" r="2.65"/>
<circle cx="239.7" cy="647.6" r="2.65"/>
<circle cx="236.7" cy="610.2" r="2.65"/>
<circle cx="254.4" cy="594" r="2.65"/>
<circle cx="243.7" cy="653" r="2.65"/>
<circle cx="275.4" cy="639.1" r="2.65"/>
<circle cx="254.4" cy="670.3" r="2.65"/>
<circle cx="157" cy="600.4" r="2.65"/>
<circle cx="258.6" cy="628.6" r="2.65"/>
<circle cx="290" cy="663" r="2.65"/>
<circle cx="274.8" cy="611.2" r="2.65"/>
<circle cx="224.2" cy="635.8" r="2.65"/>
<circle cx="213" cy="670.6" r="2.65"/>
<circle cx="256.4" cy="556.6" r="2.65"/>
<circle cx="257.4" cy="644.9" r="2.65"/>
<circle cx="238.6" cy="639.8" r="2.65"/>
<circle cx="214.3" cy="601.7" r="2.65"/>
<circle cx="296" cy="598.6" r="2.65"/>
<circle cx="181.6" cy="656" r="2.65"/>
<circle cx="242.2" cy="633.1" r="2.65"/>
<circle cx="268.5" cy="660.2" r="2.65"/>
<circle cx="210.9" cy="658.1" r="2.65"/>
<circle cx="267.1" cy="666.5" r="2.65"/>
<circle cx="207.8" cy="651.1" r="2.65"/>
<circle cx="214" cy="635.6" r="2.65"/>
<circle cx="214.6" cy="639.6" r="2.65"/>
<circle cx="218" cy="672" r="2.65"/>
<circle cx="253.3" cy="667.2" r="2.65"/>
<circle cx="253.7" cy="633.4" r="2.65"/>
<circle cx="233.5" cy="658.6" r="2.65"/>
<circle cx="253.8" cy="626.2" r="2.65"/>
<circle cx="246.4" cy="653.4" r="2.65"/>
<circle cx="279.8" cy="629.8" r="2.65"/>
<circle cx="197.6" cy="598.4" r="2.65"/>
<circle cx="213" cy="663" r="2.65"/>
<circle cx="224.8" cy="657.9" r="2.65"/>
<circle cx="267.4" cy="668.9" r="2.65"/>
<circle cx="261" cy="566.6" r="2.65"/>
<circle cx="244.7" cy="656.4" r="2.65"/>
<circle cx="247" cy="605" r="2.65"/>
<circle cx="256.7" cy="632.3" r="2.65"/>
<circle cx="259.8" cy="603.5" r="2.65"/>
<circle cx="198" cy="604.4" r="2.65"/>
<circle cx="256.7" cy="640.9" r="2.65"/>
<circle cx="255.1" cy="654.1" r="2.65"/>
<circle cx="271.1" cy="621" r="2.65"/>
<circle cx="232.4" cy="650.9" r="2.65"/>
<circle cx="177" cy="644.6" r="2.65"/>
<circle cx="257" cy="608.3" r="2.65"/>
<circle cx="177" cy="604.4" r="2.65"/>
<circle cx="260.2" cy="614.3" r="2.65"/>
<circle cx="232.1" cy="663.4" r="2.65"/>
<circle cx="248.5" cy="623" r="2.65"/>
<circle cx="184.6" cy="647" r="2.65"/>
<circle cx="218" cy="589" r="2.65"/>
<circle cx="263.2" cy="637.1" r="2.65"/>
<circle cx="244.1" cy="646.2" r="2.65"/>
<circle cx="201" cy="581.4" r="2.65"/>
<circle cx="272.7" cy="652.1" r="2.65"/>
<circle cx="250.6" cy="580" r="2.65"/>
<circle cx="244.3" cy="635.9" r="2.65"/>
<circle cx="184" cy="609.4" r="2.65"/>
<circle cx="242.4" cy="635.6" r="2.65"/>
<circle cx="241.8" cy="616.2" r="2.65"/>
<circle cx="254.7" cy="632.7" r="2.65"/>
<circle cx="220.5" cy="663.7" r="2.65"/>
<circle cx="235.6" cy="607.6" r="2.65"/>
<circle cx="305" cy="632.6" r="2.65"/>
<circle cx="234" cy="599" r="2.65"/>
<circle cx="295.4" cy="613.1" r="2.65"/>
<circle cx="249.4" cy="594.6" r="2.65"/>
<circle cx="293" cy="603" r="2.65"/>
<circle cx="217.6" cy="580.6" r="2.65"/>
<circle cx="251.8" cy="646" r="2.65"/>
<circle cx="248.7" cy="651.8" r="2.65"/>
<circle cx="202" cy="641" r="2.65"/>
<circle cx="260.8" cy="638.6" r="2.65"/>
<circle cx="245.8" cy="603.7" r="2.65"/>
<circle cx="241.9" cy="625.4" r="2.65"/>
<circle cx="158.4" cy="657.6" r="2.65"/>
<circle cx="285.4" cy="614" r="2.65"/>
<circle cx="259.5" cy="671.3" r="2.65"/>
<circle cx="202" cy="677" r="2.65"/>
<circle cx="267.9" cy="669.4" r="2.65"/>
<circle cx="237.5" cy="635.5" r="2.65"/>
<circle cx="275.9" cy="625.2" r="2.65"/>
<circle cx="264.5" cy="654.5" r="2.65"/>
<circle cx="233.6" cy="646.6" r="2.65"/>
<circle cx="212.6" cy="559" r="2.65"/>
<circle cx="276.2" cy="628.3" r="2.65"/>
<circle cx="242.4" cy="669" r="2.65"/>
<circle cx="208.5" cy="639.7" r="2.65"/>
<circle cx="267.5" cy="660.5" r="2.65"/>
<circle cx="206.2" cy="615.8" r="2.65"/>
<circle cx="263.6" cy="625" r="2.65"/>
<circle cx="161" cy="620" r="2.65"/>
<circle cx="221.8" cy="656.5" r="2.65"/>
<circle cx="221" cy="657.4" r="2.65"/>
<circle cx="293.6" cy="669.4" r="2.65"/>
<circle cx="165" cy="616" r="2.65"/>
<circle cx="217.4" cy="651.8" r="2.65"/>
<circle cx="246.5" cy="616.8" r="2.65"/>
<circle cx="280.8" cy="662.3" r="2.65"/>
<circle cx="288.8" cy="633.5" r="2.65"/>
<circle cx="186" cy="635" r="2.65"/>
<circle cx="217.2" cy="604.3" r="2.65"/>
<circle cx="284.8" cy="649.9" r="2.65"/>
<circle cx="241.6" cy="596" r="2.65"/>
<circle cx="245.9" cy="632.3" r="2.65"/>
<circle cx="175" cy="635" r="2.65"/>
<circle cx="262.7" cy="614.6" r="2.65"/>
<circle cx="255.8" cy="647.7" r="2.65"/>
<circle cx="209.2" cy="634.6" r="2.65"/>
<circle cx="265.1" cy="625.5" r="2.65"/>
<circle cx="224.1" cy="665.7" r="2.65"/>
<circle cx="194" cy="649" r="2.65"/>
<circle cx="250.9" cy="610.9" r="2.65"/>
<circle cx="235.3" cy="598.1" r="2.65"/>
<circle cx="213.1" cy="649.8" r="2.65"/>
<circle cx="212" cy="592.6" r="2.65"/>
<circle cx="220.8" cy="665.1" r="2.65"/>
<circle cx="295.6" cy="619.8" r="2.65"/>
<circle cx="295" cy="605" r="2.65"/>
<circle cx="247.9" cy="659.4" r="2.65"/>
<circle cx="251" cy="554.4" r="2.65"/>
<circle cx="261.9" cy="673.2" r="2.65"/>
<circle cx="210.8" cy="634.6" r="2.65"/>
<circle cx="243.7" cy="662.7" r="2.65"/>
<circle cx="250.6" cy="646.4" r="2.65"/>
<circle cx="260.9" cy="644.6" r="2.65"/>
<circle cx="264.2" cy="620.5" r="2.65"/>
<circle cx="274.5" cy="654.9" r="2.65"/>
<circle cx="250.2" cy="646.6" r="2.65"/>
<circle cx="248.2" cy="628.3" r="2.65"/>
<circle cx="306" cy="610" r="2.65"/>
<circle cx="244.2" cy="628.6" r="2.65"/>
<circle cx="275.7" cy="655.9" r="2.65"/>
<circle cx="203.3" cy="599.8" r="2.65"/>
<circle cx="283.5" cy="658.8" r="2.65"/>
<circle cx="250" cy="604" r="2.65"/>
<circle cx="266.4" cy="600.4" r="2.65"/>
<circle cx="220" cy="596" r="2.65"/>
<circle cx="279.6" cy="642" r="2.65"/>
<circle cx="234" cy="568.6" r="2.65"/>
<circle cx="278.2" cy="666.3" r="2.65"/>
<circle cx="246" cy="582.4" r="2.65"/>
<circle cx="254.9" cy="673.1" r="2.65"/>
<circle cx="174.4" cy="608.6" r="2.65"/>
<circle cx="164" cy="606.6" r="2.65"/>
<circle cx="248.4" cy="616.4" r="2.65"/>
<circle cx="271.7" cy="624.3" r="2.65"/>
<circle cx="274.6" cy="648.8" r="2.65"/>
<circle cx="263.7" cy="614.2" r="2.65"/>
<circle cx="291" cy="650" r="2.65"/>
<circle cx="221.7" cy="656.3" r="2.65"/>
<circle cx="264.8" cy="596" r="2.65"/>
<circle cx="270.8" cy="633.6" r="2.65"/>
<circle cx="234" cy="665.1" r="2.65"/>
<circle cx="240.7" cy="599.4" r="2.65"/>
<circle cx="248.4" cy="612.7" r="2.65"/>
<circle cx="245.4" cy="677" r="2.65"/>
<circle cx="210" cy="629.6" r="2.65"/>
<circle cx="251.4" cy="616.8" r="2.65"/>
<circle cx="252" cy="569.6" r="2.65"/>
<circle cx="269.2" cy="632" r="2.65"/>
<circle cx="218" cy="596" r="2.65"/>
<circle cx="226.4" cy="603.2" r="2.65"/>
<circle cx="269.2" cy="637.7" r="2.65"/>
<circle cx="319" cy="630.6" r="2.65"/>
<circle cx="263.8" cy="640" r="2.65"/>
<circle cx="234" cy="676" r="2.65"/>
<circle cx="206" cy="599" r="2.65"/>
<circle cx="223" cy="624.8" r="2.65"/>
<circle cx="257.5" cy="664.6" r="2.65"/>
<circle cx="248.6" cy="660.1" r="2.65"/>
<circle cx="248.1" cy="619.8" r="2.65"/>
<circle cx="155.6" cy="587.2" r="2.65"/>
<circle cx="255.3" cy="621.9" r="2.65"/>
<circle cx="252.6" cy="643.5" r="2.65"/>
<circle cx="179" cy="614" r="2.65"/>
<circle cx="250.1" cy="666.2" r="2.65"/>
<circle cx="243.7" cy="646.5" r="2.65"/>
<circle cx="254.5" cy="632.2" r="2.65"/>
<circle cx="208.4" cy="635.9" r="2.65"/>
<circle cx="251.4" cy="627.3" r="2.65"/>
<circle cx="220.2" cy="630.9" r="2.65"/>
<circle cx="245.2" cy="651.4" r="2.65"/>
<circle cx="202" cy="604.4" r="2.65"/>
<circle cx="184" cy="630" r="2.65"/>
<circle cx="293.3" cy="614.6" r="2.65"/>
<circle cx="283" cy="587" r="2.65"/>
<circle cx="266.1" cy="671" r="2.65"/>
<circle cx="234" cy="663.6" r="2.65"/>
<circle cx="271.4" cy="609.4" r="2.65"/>
<circle cx="264.3" cy="615" r="2.65"/>
<circle cx="206.5" cy="606.1" r="2.65"/>
<circle cx="238.6" cy="557" r="2.65"/>
<circle cx="245.8" cy="665.5" r="2.65"/>
<circle cx="247.5" cy="631.5" r="2.65"/>
<circle cx="272" cy="602.3" r="2.65"/>
<circle cx="258.5" cy="607.3" r="2.65"/>
<circle cx="250.9" cy="661.9" r="2.65"/>
<circle cx="174" cy="625" r="2.65"/>
<circle cx="282.4" cy="607.8" r="2.65"/>
<circle cx="231.9" cy="651.5" r="2.65"/>
<circle cx="258" cy="613.8" r="2.65"/>
<circle cx="248.6" cy="640.8" r="2.65"/>
<circle cx="267.1" cy="652.2" r="2.65"/>
<circle cx="216" cy="650" r="2.65"/>
<circle cx="298.3" cy="626.7" r="2.65"/>
<circle cx="227.6" cy="581.6" r="2.65"/>
<circle cx="267.4" cy="667.2" r="2.65"/>
<circle cx="294.6" cy="656" r="2.65"/>
<circle cx="262.9" cy="669.1" r="2.65"/>
<circle cx="258.3" cy="664.7" r="2.65"/>
<circle cx="257.2" cy="665.8" r="2.65"/>
<circle cx="269.1" cy="633.9" r="2.65"/>
<circle cx="202.1" cy="607.3" r="2.65"/>
<circle cx="262" cy="599" r="2.65"/>
<circle cx="267.9" cy="600.9" r="2.65"/>
<circle cx="200" cy="658" r="2.65"/>
<circle cx="220" cy="665.1" r="2.65"/>
<circle cx="270.8" cy="650.3" r="2.65"/>
<circle cx="272.4" cy="632.9" r="2.65"/>
<circle cx="208.7" cy="617.4" r="2.65"/>
<circle cx="209.9" cy="642.3" r="2.65"/>
<circle cx="231.8" cy="619.3" r="2.65"/>
<circle cx="240" cy="630.4" r="2.65"/>
<circle cx="223.7" cy="666.9" r="2.65"/>
<circle cx="281.9" cy="622.7" r="2.65"/>
<circle cx="262.9" cy="638.1" r="2.65"/>
<circle cx="281.6" cy="593" r="2.65"/>
<circle cx="310" cy="626" r="2.65"/>
<circle cx="265.1" cy="670.1" r="2.65"/>
<circle cx="219.9" cy="627.2" r="2.65"/>
<circle cx="268.6" cy="618.3" r="2.65"/>
<circle cx="266.4" cy="667.8" r="2.65"/>
<circle cx="241.3" cy="664.9" r="2.65"/>
<circle cx="287.5" cy="601.9" r="2.65"/>
<circle cx="245.2" cy="596.7" r="2.65"/>
<circle cx="279.2" cy="595.8" r="2.65"/>
<circle cx="293.5" cy="624.1" r="2.65"/>
<circle cx="254" cy="665.9" r="2.65"/>
<circle cx="258.8" cy="620.3" r="2.65"/>
<circle cx="221.8" cy="628.3" r="2.65"/>
<circle cx="243.1" cy="668.2" r="2.65"/>
<circle cx="272.4" cy="598.6" r="2.65"/>
<circle cx="261.3" cy="668.1" r="2.65"/>
<circle cx="323" cy="636.4" r="2.65"/>
<circle cx="211.9" cy="636" r="2.65"/>
<circle cx="235.2" cy="667.9" r="2.65"/>
<circle cx="228" cy="569.4" r="2.65"/>
<circle cx="277.4" cy="661.2" r="2.65"/>
<circle cx="275" cy="565" r="2.65"/>
<circle cx="206" cy="614.6" r="2.65"/>
<circle cx="261.7" cy="668.4" r="2.65"/>
<circle cx="211.8" cy="637.3" r="2.65"/>
<circle cx="272.2" cy="648.2" r="2.65"/>
<circle cx="257.1" cy="655.7" r="2.65"/>
<circle cx="291.4" cy="638" r="2.65"/>
<circle cx="248.9" cy="657.2" r="2.65"/>
<circle cx="215.4" cy="613.1" r="2.65"/>
<circle cx="264.6" cy="622.7" r="2.65"/>
<circle cx="244.3" cy="633.6" r="2.65"/>
<circle cx="266.9" cy="652" r="2.65"/>
<circle cx="267.3" cy="601.6" r="2.65"/>
<circle cx="245.9" cy="601.7" r="2.65"/>
<circle cx="242.7" cy="673.2" r="2.65"/>
<circle cx="272.6" cy="582" r="2.65"/>
<circle cx="254.9" cy="665.3" r="2.65"/>
<circle cx="229.4" cy="601.2" r="2.65"/>
<circle cx="226" cy="664" r="2.65"/>
<circle cx="270.7" cy="638.8" r="2.65"/>
<circle cx="282.1" cy="659.9" r="2.65"/>
<circle cx="266.4" cy="660.3" r="2.65"/>
<circle cx="292" cy="597.4" r="2.65"/>
<circle cx="240" cy="563.4" r="2.65"/>
<circle cx="274.8" cy="644.5" r="2.65"/>
<circle cx="172.6" cy="670" r="2.65"/>
<circle cx="206.2" cy="628.9" r="2.65"/>
<circle cx="269.8" cy="662.2" r="2.65"/>
<circle cx="237.6" cy="616.2" r="2.65"/>
<circle cx="259" cy="600.7" r="2.65"/>
<circle cx="258.8" cy="626.1" r="2.65"/>
<circle cx="284.6" cy="638.3" r="2.65"/>
<circle cx="308.6" cy="647.6" r="2.65"/>
<circle cx="266.1" cy="596.1" r="2.65"/>
<circle cx="221.6" cy="641.4" r="2.65"/>
<circle cx="181.6" cy="581.4" r="2.65"/>
<circle cx="265" cy="672" r="2.65"/>
<circle cx="265.1" cy="624.8" r="2.65"/>
<circle cx="216" cy="645.6" r="2.65"/>
<circle cx="289.6" cy="597.6" r="2.65"/>
<circle cx="270.4" cy="654.4" r="2.65"/>
<circle cx="271.5" cy="641.1" r="2.65"/>
<circle cx="274.2" cy="618.9" r="2.65"/>
<circle cx="282.3" cy="636.9" r="2.65"/>
<circle cx="261.7" cy="663.8" r="2.65"/>
<circle cx="208.4" cy="595" r="2.65"/>
<circle cx="238.4" cy="656.4" r="2.65"/>
<circle cx="248" cy="673" r="2.65"/>
<circle cx="228.6" cy="646.4" r="2.65"/>
<circle cx="234.2" cy="612.8" r="2.65"/>
<circle cx="226.6" cy="665.6" r="2.65"/>
<circle cx="221.6" cy="619" r="2.65"/>
<circle cx="263.9" cy="627.4" r="2.65"/>
<circle cx="272" cy="593.4" r="2.65"/>
<circle cx="251.8" cy="644.3" r="2.65"/>
<circle cx="293" cy="582" r="2.65"/>
<circle cx="219.3" cy="655" r="2.65"/>
<circle cx="262.4" cy="630" r="2.65"/>
<circle cx="265.4" cy="645.4" r="2.65"/>
<circle cx="222.7" cy="602.3" r="2.65"/>
<circle cx="246.2" cy="601.5" r="2.65"/>
<circle cx="253.9" cy="667.8" r="2.65"/>
<circle cx="253.6" cy="623.8" r="2.65"/>
<circle cx="265" cy="603" r="2.65"/>
<circle cx="244.9" cy="596.1" r="2.65"/>
<circle cx="291.7" cy="634.9" r="2.65"/>
<circle cx="268" cy="631.7" r="2.65"/>
<circle cx="242.6" cy="589.4" r="2.65"/>
<circle cx="144.4" cy="692.2" r="2.65"/>
<circle cx="173.6" cy="692.2" r="2.65"/>
<circle cx="181.8" cy="692.2" r="2.65"/>
<circle cx="184.4" cy="692.2" r="2.65"/>
<circle cx="194.9" cy="692.2" r="2.65"/>
<circle cx="198.4" cy="692.2" r="2.65"/>
<circle cx="331.2" cy="692.2" r="2.65"/>
<circle cx="210.3" cy="692.2" r="2.65"/>
<circle cx="212" cy="692.2" r="2.65"/>
<circle cx="215.6" cy="692.2" r="2.65"/>
<circle cx="217.5" cy="692.2" r="2.65"/>
<circle cx="221" cy="692.2" r="2.65"/>
<circle cx="223" cy="692.2" r="2.65"/>
<circle cx="227.3" cy="692.2" r="2.65"/>
<circle cx="228.6" cy="692.2" r="2.65"/>
<circle cx="231.3" cy="692.2" r="2.65"/>
<circle cx="234" cy="692.2" r="2.65"/>
<circle cx="238.8" cy="692.2" r="2.65"/>
<circle cx="241.3" cy="692.2" r="2.65"/>
<circle cx="244.1" cy="692.2" r="2.65"/>
<circle cx="247.5" cy="692.2" r="2.65"/>
<circle cx="249.9" cy="692.2" r="2.65"/>
<circle cx="251.1" cy="692.2" r="2.65"/>
<circle cx="254" cy="692.2" r="2.65"/>
<circle cx="256.9" cy="692.2" r="2.65"/>
<circle cx="259.8" cy="692.2" r="2.65"/>
<circle cx="262.7" cy="692.2" r="2.65"/>
<circle cx="265.9" cy="692.2" r="2.65"/>
<circle cx="268.9" cy="692.2" r="2.65"/>
<circle cx="272.3" cy="692.2" r="2.65"/>
<circle cx="274.9" cy="692.2" r="2.65"/>
<circle cx="278.4" cy="692.2" r="2.65"/>
<circle cx="280.5" cy="692.2" r="2.65"/>
<circle cx="284.7" cy="692.2" r="2.65"/>
<circle cx="286.9" cy="692.2" r="2.65"/>
<circle cx="288.1" cy="692.2" r="2.65"/>
<circle cx="291.9" cy="692.2" r="2.65"/>
<circle cx="294.5" cy="692.2" r="2.65"/>
<circle cx="298.5" cy="692.2" r="2.65"/>
<circle cx="299.6" cy="692.2" r="2.65"/>
<circle cx="304.4" cy="692.2" r="2.65"/>
</g>
<rect x="507.4" y="519.3" width="175.0" height="178.1" fill="none" stroke="#444" stroke-width="1.2"/>
<line x1="500.4" y1="697.4" x2="507.4" y2="697.4" stroke="#5a5a5a" stroke-width="1.2"/>
<text x="498.7" y="701.8" text-anchor="end" class="tk2">-2</text>
<line x1="500.4" y1="638.0" x2="507.4" y2="638.0" stroke="#5a5a5a" stroke-width="1.2"/>
<text x="498.7" y="642.4" text-anchor="end" class="tk2">0</text>
<line x1="500.4" y1="578.7" x2="507.4" y2="578.7" stroke="#5a5a5a" stroke-width="1.2"/>
<text x="498.7" y="583.1" text-anchor="end" class="tk2">2</text>
<line x1="500.4" y1="519.3" x2="507.4" y2="519.3" stroke="#5a5a5a" stroke-width="1.2"/>
<text x="498.7" y="523.7" text-anchor="end" class="tk2">4</text>
<text x="557.1" y="720.6" text-anchor="middle" class="ax">Male</text>
<text x="632.3" y="720.6" text-anchor="middle" class="ax">Female</text>
<g class="m">
<circle cx="560.1" cy="586" r="2.8"/>
<circle cx="557.1" cy="566.4" r="2.8"/>
<circle cx="545.4" cy="633.7" r="2.8"/>
<circle cx="538.3" cy="616.3" r="2.8"/>
<circle cx="557.9" cy="637.6" r="2.8"/>
<circle cx="536.5" cy="629" r="2.8"/>
<circle cx="557.8" cy="644.4" r="2.8"/>
<circle cx="540.6" cy="692.4" r="2.8"/>
<circle cx="547.4" cy="647.1" r="2.8"/>
<circle cx="555.4" cy="588.5" r="2.8"/>
<circle cx="564.8" cy="621.4" r="2.8"/>
<circle cx="558.8" cy="655.2" r="2.8"/>
<circle cx="562.4" cy="592.9" r="2.8"/>
<circle cx="555.5" cy="598.6" r="2.8"/>
<circle cx="577.4" cy="635.3" r="2.8"/>
<circle cx="545.8" cy="654.7" r="2.8"/>
<circle cx="565.6" cy="624.6" r="2.8"/>
<circle cx="542" cy="632.1" r="2.8"/>
<circle cx="557.6" cy="613.7" r="2.8"/>
<circle cx="556.7" cy="623.3" r="2.8"/>
<circle cx="551.7" cy="645.6" r="2.8"/>
<circle cx="564.9" cy="692.4" r="2.8"/>
<circle cx="552.2" cy="627.6" r="2.8"/>
<circle cx="550.4" cy="653.8" r="2.8"/>
<circle cx="570.6" cy="692.4" r="2.8"/>
<circle cx="558" cy="629.7" r="2.8"/>
<circle cx="563.2" cy="667.7" r="2.8"/>
<circle cx="570.5" cy="610.2" r="2.8"/>
<circle cx="562" cy="663.1" r="2.8"/>
<circle cx="561.3" cy="633" r="2.8"/>
<circle cx="561.3" cy="626" r="2.8"/>
<circle cx="565" cy="601.1" r="2.8"/>
<circle cx="553.6" cy="603.6" r="2.8"/>
<circle cx="558.9" cy="590.4" r="2.8"/>
<circle cx="553.5" cy="692.4" r="2.8"/>
<circle cx="542.6" cy="611.6" r="2.8"/>
<circle cx="557.3" cy="642.8" r="2.8"/>
<circle cx="570.7" cy="618" r="2.8"/>
<circle cx="561.1" cy="592" r="2.8"/>
<circle cx="566.1" cy="616.9" r="2.8"/>
<circle cx="569.4" cy="641.5" r="2.8"/>
<circle cx="538.7" cy="638.6" r="2.8"/>
<circle cx="553.2" cy="643.5" r="2.8"/>
<circle cx="565.2" cy="631.6" r="2.8"/>
<circle cx="564.3" cy="606.1" r="2.8"/>
<circle cx="568.5" cy="656" r="2.8"/>
<circle cx="559.1" cy="608.2" r="2.8"/>
<circle cx="561.2" cy="628.6" r="2.8"/>
<circle cx="552.8" cy="589.8" r="2.8"/>
<circle cx="556.8" cy="679.7" r="2.8"/>
<circle cx="563" cy="611.2" r="2.8"/>
<circle cx="571.4" cy="644.9" r="2.8"/>
<circle cx="557.5" cy="602.7" r="2.8"/>
<circle cx="553.7" cy="614.5" r="2.8"/>
<circle cx="567.7" cy="604.6" r="2.8"/>
<circle cx="573" cy="622.8" r="2.8"/>
<circle cx="548.6" cy="692.4" r="2.8"/>
<circle cx="557.9" cy="662.2" r="2.8"/>
<circle cx="558.1" cy="669.7" r="2.8"/>
<circle cx="548.2" cy="660.4" r="2.8"/>
<circle cx="569.3" cy="620.8" r="2.8"/>
<circle cx="553.6" cy="629.3" r="2.8"/>
<circle cx="572.3" cy="653.1" r="2.8"/>
<circle cx="543.4" cy="692.4" r="2.8"/>
<circle cx="551.9" cy="609.3" r="2.8"/>
<circle cx="567.3" cy="661.7" r="2.8"/>
<circle cx="554.9" cy="652.5" r="2.8"/>
<circle cx="543.2" cy="637.3" r="2.8"/>
<circle cx="549" cy="618.2" r="2.8"/>
<circle cx="569.4" cy="625" r="2.8"/>
<circle cx="545.7" cy="620.1" r="2.8"/>
<circle cx="565.6" cy="612.5" r="2.8"/>
<circle cx="554" cy="604.4" r="2.8"/>
<circle cx="559.1" cy="576.1" r="2.8"/>
<circle cx="550.7" cy="605.2" r="2.8"/>
<circle cx="551.7" cy="651" r="2.8"/>
<circle cx="562.1" cy="636.6" r="2.8"/>
<circle cx="576.8" cy="622.1" r="2.8"/>
<circle cx="557" cy="580.6" r="2.8"/>
<circle cx="569" cy="635" r="2.8"/>
<circle cx="573.3" cy="626.9" r="2.8"/>
<circle cx="574.6" cy="618.7" r="2.8"/>
<circle cx="549" cy="634.3" r="2.8"/>
<circle cx="575.4" cy="639.4" r="2.8"/>
<circle cx="560.6" cy="600.6" r="2.8"/>
<circle cx="550.8" cy="666" r="2.8"/>
<circle cx="555.8" cy="650.4" r="2.8"/>
<circle cx="564.1" cy="652.2" r="2.8"/>
<circle cx="572.5" cy="614.2" r="2.8"/>
<circle cx="557.6" cy="586.6" r="2.8"/>
<circle cx="540.4" cy="631.4" r="2.8"/>
<circle cx="557.5" cy="657.8" r="2.8"/>
<circle cx="541.3" cy="640.1" r="2.8"/>
<circle cx="569.5" cy="657.5" r="2.8"/>
<circle cx="541.1" cy="622" r="2.8"/>
<circle cx="556.1" cy="579.1" r="2.8"/>
<circle cx="559.2" cy="649.9" r="2.8"/>
<circle cx="564.3" cy="635.4" r="2.8"/>
<circle cx="549.7" cy="613.3" r="2.8"/>
<circle cx="567.1" cy="650.9" r="2.8"/>
<circle cx="557" cy="633.3" r="2.8"/>
<circle cx="575.3" cy="692.4" r="2.8"/>
<circle cx="552.4" cy="620.4" r="2.8"/>
<circle cx="553.6" cy="583.8" r="2.8"/>
<circle cx="563.8" cy="599.8" r="2.8"/>
<circle cx="555.2" cy="608.7" r="2.8"/>
<circle cx="552.9" cy="639.6" r="2.8"/>
<circle cx="541" cy="615.1" r="2.8"/>
<circle cx="560.9" cy="642.1" r="2.8"/>
<circle cx="577.3" cy="625.5" r="2.8"/>
<circle cx="572.2" cy="641.2" r="2.8"/>
<circle cx="543.2" cy="648.2" r="2.8"/>
<circle cx="565.5" cy="647.8" r="2.8"/>
<circle cx="544.5" cy="659.2" r="2.8"/>
<circle cx="552.8" cy="594.6" r="2.8"/>
<circle cx="555.4" cy="670.7" r="2.8"/>
<circle cx="545.8" cy="642.6" r="2.8"/>
<circle cx="571.1" cy="636.6" r="2.8"/>
<circle cx="545.2" cy="630.1" r="2.8"/>
<circle cx="545.7" cy="615.1" r="2.8"/>
<circle cx="548.7" cy="623.1" r="2.8"/>
<circle cx="557.1" cy="674.1" r="2.8"/>
<circle cx="565.9" cy="658.6" r="2.8"/>
<circle cx="561.9" cy="615.8" r="2.8"/>
<circle cx="561.3" cy="646.3" r="2.8"/>
<circle cx="573.5" cy="628.2" r="2.8"/>
<circle cx="559.9" cy="607.4" r="2.8"/>
<circle cx="552.8" cy="617.5" r="2.8"/>
<circle cx="546.4" cy="606.8" r="2.8"/>
<circle cx="542.4" cy="646.7" r="2.8"/>
<circle cx="557.5" cy="667" r="2.8"/>
<circle cx="548.5" cy="624" r="2.8"/>
<circle cx="537.5" cy="632.5" r="2.8"/>
<circle cx="569.3" cy="612.1" r="2.8"/>
<circle cx="552.2" cy="656.6" r="2.8"/>
<circle cx="570.8" cy="630.5" r="2.8"/>
<circle cx="547.2" cy="649.4" r="2.8"/>
<circle cx="548.2" cy="631.1" r="2.8"/>
<circle cx="557" cy="619" r="2.8"/>
<circle cx="571.9" cy="651.5" r="2.8"/>
<circle cx="534.8" cy="692.4" r="2.8"/>
<circle cx="544.2" cy="619.7" r="2.8"/>
<circle cx="557.8" cy="692.4" r="2.8"/>
<circle cx="551.4" cy="597.4" r="2.8"/>
<circle cx="578.3" cy="692.4" r="2.8"/>
<circle cx="541.2" cy="627.3" r="2.8"/>
<circle cx="553" cy="661.2" r="2.8"/>
<circle cx="560.4" cy="582.2" r="2.8"/>
<circle cx="548.7" cy="656.4" r="2.8"/>
<circle cx="554.7" cy="664.8" r="2.8"/>
<circle cx="550" cy="643.8" r="2.8"/>
<circle cx="556.5" cy="627" r="2.8"/>
<circle cx="561.8" cy="621.1" r="2.8"/>
<circle cx="578.6" cy="630.2" r="2.8"/>
<circle cx="544.6" cy="625.4" r="2.8"/>
<circle cx="563.1" cy="648.5" r="2.8"/>
<circle cx="559.1" cy="596.9" r="2.8"/>
<circle cx="566.4" cy="639" r="2.8"/>
<circle cx="560.5" cy="659.5" r="2.8"/>
<circle cx="567.3" cy="610.7" r="2.8"/>
<circle cx="542.2" cy="654.2" r="2.8"/>
<circle cx="561.3" cy="616.6" r="2.8"/>
<circle cx="553" cy="635.9" r="2.8"/>
<circle cx="553.2" cy="584.5" r="2.8"/>
<circle cx="537.1" cy="623.6" r="2.8"/>
<circle cx="547.6" cy="638" r="2.8"/>
<circle cx="560.2" cy="664.2" r="2.8"/>
<circle cx="565.1" cy="640.8" r="2.8"/>
<circle cx="548.4" cy="601.7" r="2.8"/>
<circle cx="573.1" cy="634" r="2.8"/>
<circle cx="557.3" cy="677.3" r="2.8"/>
<circle cx="547.3" cy="609.4" r="2.8"/>
<circle cx="561.9" cy="692.4" r="2.8"/>
<circle cx="557.7" cy="595.6" r="2.8"/>
<circle cx="535.6" cy="626.2" r="2.8"/>
</g>
<g class="eb"><line x1="532.3000000000001" y1="636.2" x2="581.9" y2="636.2"/><line x1="557.1" y1="608.0" x2="557.1" y2="664.8"/><line x1="545.3000000000001" y1="608.0" x2="568.9" y2="608.0"/><line x1="545.3000000000001" y1="664.8" x2="568.9" y2="664.8"/></g>
<g class="f">
<circle cx="640.1" cy="601.4" r="2.8"/>
<circle cx="635.9" cy="668.9" r="2.8"/>
<circle cx="630.9" cy="597.6" r="2.8"/>
<circle cx="630.9" cy="554.9" r="2.8"/>
<circle cx="632.4" cy="567.5" r="2.8"/>
<circle cx="630" cy="666.4" r="2.8"/>
<circle cx="640.2" cy="628.8" r="2.8"/>
<circle cx="638.9" cy="630.7" r="2.8"/>
<circle cx="634.5" cy="652.7" r="2.8"/>
<circle cx="634.9" cy="674.7" r="2.8"/>
<circle cx="628.8" cy="614.4" r="2.8"/>
<circle cx="636.3" cy="663.8" r="2.8"/>
<circle cx="617.5" cy="692.4" r="2.8"/>
<circle cx="627.7" cy="601.1" r="2.8"/>
<circle cx="623" cy="624" r="2.8"/>
<circle cx="626.7" cy="635.9" r="2.8"/>
<circle cx="629" cy="649.4" r="2.8"/>
<circle cx="636" cy="598.4" r="2.8"/>
<circle cx="631" cy="669.6" r="2.8"/>
<circle cx="641.8" cy="658.8" r="2.8"/>
<circle cx="626.4" cy="650.6" r="2.8"/>
<circle cx="645.7" cy="639" r="2.8"/>
<circle cx="629.2" cy="659" r="2.8"/>
<circle cx="631.1" cy="590.7" r="2.8"/>
<circle cx="620.8" cy="648.2" r="2.8"/>
<circle cx="648.4" cy="628" r="2.8"/>
<circle cx="637.8" cy="614.2" r="2.8"/>
<circle cx="640.7" cy="653.3" r="2.8"/>
<circle cx="623.3" cy="651.2" r="2.8"/>
<circle cx="623.2" cy="642.7" r="2.8"/>
<circle cx="631.2" cy="579.4" r="2.8"/>
<circle cx="633.1" cy="542" r="2.8"/>
<circle cx="631.4" cy="618" r="2.8"/>
<circle cx="640.8" cy="632.9" r="2.8"/>
<circle cx="634.3" cy="665.7" r="2.8"/>
<circle cx="621.5" cy="632.5" r="2.8"/>
<circle cx="634.7" cy="600.6" r="2.8"/>
<circle cx="629.8" cy="673.9" r="2.8"/>
<circle cx="631.7" cy="620.3" r="2.8"/>
<circle cx="622.1" cy="615.1" r="2.8"/>
<circle cx="634.6" cy="595.2" r="2.8"/>
<circle cx="639.9" cy="633.1" r="2.8"/>
<circle cx="619.7" cy="617.9" r="2.8"/>
<circle cx="645.9" cy="612.2" r="2.8"/>
<circle cx="631" cy="631.6" r="2.8"/>
<circle cx="630" cy="632.1" r="2.8"/>
<circle cx="635" cy="647.1" r="2.8"/>
<circle cx="638.5" cy="658.4" r="2.8"/>
<circle cx="634" cy="600.7" r="2.8"/>
<circle cx="645.3" cy="624.1" r="2.8"/>
<circle cx="639" cy="637.8" r="2.8"/>
<circle cx="639.6" cy="617.1" r="2.8"/>
<circle cx="643.3" cy="629" r="2.8"/>
<circle cx="643.7" cy="612.5" r="2.8"/>
<circle cx="631" cy="594" r="2.8"/>
<circle cx="637.9" cy="630.5" r="2.8"/>
<circle cx="625" cy="653.9" r="2.8"/>
<circle cx="629.3" cy="604.2" r="2.8"/>
<circle cx="622.9" cy="616.1" r="2.8"/>
<circle cx="632.4" cy="595.6" r="2.8"/>
<circle cx="619.8" cy="649.8" r="2.8"/>
<circle cx="632.8" cy="620.4" r="2.8"/>
<circle cx="629.7" cy="625.1" r="2.8"/>
<circle cx="620.9" cy="620.7" r="2.8"/>
<circle cx="636.9" cy="599.8" r="2.8"/>
<circle cx="621.8" cy="604.4" r="2.8"/>
<circle cx="642.3" cy="649" r="2.8"/>
<circle cx="638.5" cy="605.9" r="2.8"/>
<circle cx="610.2" cy="692.4" r="2.8"/>
<circle cx="640.3" cy="644.7" r="2.8"/>
<circle cx="628.2" cy="666.9" r="2.8"/>
<circle cx="646.6" cy="628.3" r="2.8"/>
<circle cx="625.9" cy="692.4" r="2.8"/>
<circle cx="633.6" cy="637.6" r="2.8"/>
<circle cx="620.3" cy="633.5" r="2.8"/>
<circle cx="632.5" cy="568.2" r="2.8"/>
<circle cx="630.6" cy="672.3" r="2.8"/>
<circle cx="635.5" cy="652" r="2.8"/>
<circle cx="638.3" cy="645.9" r="2.8"/>
<circle cx="640.4" cy="613.5" r="2.8"/>
<circle cx="630.6" cy="605" r="2.8"/>
<circle cx="633.7" cy="583.7" r="2.8"/>
<circle cx="618.9" cy="692.4" r="2.8"/>
<circle cx="644.8" cy="639.7" r="2.8"/>
<circle cx="628.2" cy="653" r="2.8"/>
<circle cx="631.1" cy="634.4" r="2.8"/>
<circle cx="621.5" cy="654.3" r="2.8"/>
<circle cx="642" cy="654.8" r="2.8"/>
<circle cx="628" cy="618.6" r="2.8"/>
<circle cx="636.7" cy="657.4" r="2.8"/>
<circle cx="627.7" cy="649" r="2.8"/>
<circle cx="630.6" cy="645.7" r="2.8"/>
<circle cx="629.4" cy="611.7" r="2.8"/>
<circle cx="632.5" cy="550.8" r="2.8"/>
<circle cx="641.3" cy="642.3" r="2.8"/>
<circle cx="638.8" cy="596.4" r="2.8"/>
<circle cx="636.2" cy="610" r="2.8"/>
<circle cx="635.5" cy="637.5" r="2.8"/>
<circle cx="615.7" cy="631.1" r="2.8"/>
<circle cx="636.5" cy="635.6" r="2.8"/>
<circle cx="617" cy="624.3" r="2.8"/>
<circle cx="623.9" cy="627.6" r="2.8"/>
<circle cx="622.2" cy="644.3" r="2.8"/>
<circle cx="619.9" cy="623.9" r="2.8"/>
<circle cx="630.5" cy="660.7" r="2.8"/>
<circle cx="648" cy="637.2" r="2.8"/>
<circle cx="633.5" cy="613.4" r="2.8"/>
<circle cx="637.1" cy="623" r="2.8"/>
<circle cx="637.3" cy="592.4" r="2.8"/>
<circle cx="645" cy="692.4" r="2.8"/>
<circle cx="626.6" cy="610.4" r="2.8"/>
<circle cx="633" cy="660.9" r="2.8"/>
<circle cx="626.8" cy="597.1" r="2.8"/>
<circle cx="623.1" cy="605.5" r="2.8"/>
<circle cx="632.3" cy="560.5" r="2.8"/>
<circle cx="642.4" cy="615" r="2.8"/>
<circle cx="616" cy="692.4" r="2.8"/>
<circle cx="617.1" cy="634.4" r="2.8"/>
<circle cx="637.5" cy="655.3" r="2.8"/>
<circle cx="642.9" cy="617.7" r="2.8"/>
<circle cx="627.8" cy="632.8" r="2.8"/>
<circle cx="616.5" cy="637.1" r="2.8"/>
<circle cx="632.3" cy="562.5" r="2.8"/>
<circle cx="629.6" cy="598.2" r="2.8"/>
<circle cx="629.2" cy="631.8" r="2.8"/>
<circle cx="628.7" cy="600.2" r="2.8"/>
<circle cx="625.4" cy="621.4" r="2.8"/>
<circle cx="641" cy="628.5" r="2.8"/>
<circle cx="631.7" cy="600.1" r="2.8"/>
<circle cx="625.5" cy="650" r="2.8"/>
<circle cx="624.1" cy="648.6" r="2.8"/>
<circle cx="623.3" cy="611.7" r="2.8"/>
<circle cx="628.8" cy="598.6" r="2.8"/>
<circle cx="635.8" cy="601.2" r="2.8"/>
<circle cx="635.3" cy="661.8" r="2.8"/>
<circle cx="636.7" cy="615.3" r="2.8"/>
<circle cx="629" cy="652.3" r="2.8"/>
<circle cx="641.8" cy="635.4" r="2.8"/>
<circle cx="634.8" cy="692.4" r="2.8"/>
<circle cx="630.7" cy="601.8" r="2.8"/>
<circle cx="623.4" cy="602.1" r="2.8"/>
<circle cx="634.5" cy="650.4" r="2.8"/>
<circle cx="632.5" cy="653.5" r="2.8"/>
<circle cx="632.1" cy="634.7" r="2.8"/>
<circle cx="621.1" cy="629" r="2.8"/>
<circle cx="620.1" cy="613" r="2.8"/>
<circle cx="629.7" cy="603.3" r="2.8"/>
<circle cx="618.8" cy="615.9" r="2.8"/>
<circle cx="632.3" cy="680.7" r="2.8"/>
<circle cx="644.3" cy="640.6" r="2.8"/>
<circle cx="623.5" cy="628" r="2.8"/>
<circle cx="634.1" cy="621.6" r="2.8"/>
<circle cx="624.7" cy="633.6" r="2.8"/>
<circle cx="633.9" cy="670.5" r="2.8"/>
<circle cx="629.8" cy="623.5" r="2.8"/>
<circle cx="622.9" cy="644.5" r="2.8"/>
<circle cx="630.6" cy="627.8" r="2.8"/>
<circle cx="636.3" cy="625.8" r="2.8"/>
<circle cx="627.7" cy="609.9" r="2.8"/>
<circle cx="625.4" cy="636.3" r="2.8"/>
<circle cx="628.7" cy="593.6" r="2.8"/>
<circle cx="629.8" cy="692.4" r="2.8"/>
<circle cx="644.6" cy="615.4" r="2.8"/>
<circle cx="632.1" cy="630.4" r="2.8"/>
<circle cx="632.6" cy="672.8" r="2.8"/>
<circle cx="639.2" cy="640.4" r="2.8"/>
<circle cx="629.1" cy="636.2" r="2.8"/>
<circle cx="622.2" cy="638" r="2.8"/>
<circle cx="643.5" cy="622.6" r="2.8"/>
<circle cx="632.2" cy="565.3" r="2.8"/>
<circle cx="633.1" cy="545.4" r="2.8"/>
<circle cx="642.6" cy="660" r="2.8"/>
<circle cx="636.9" cy="631.4" r="2.8"/>
<circle cx="623.8" cy="656.6" r="2.8"/>
<circle cx="633" cy="624.6" r="2.8"/>
<circle cx="624.2" cy="692.4" r="2.8"/>
<circle cx="618.3" cy="641" r="2.8"/>
<circle cx="632.5" cy="555.5" r="2.8"/>
<circle cx="636.3" cy="667.5" r="2.8"/>
<circle cx="627.5" cy="626.6" r="2.8"/>
<circle cx="643.6" cy="692.4" r="2.8"/>
<circle cx="631.6" cy="543.9" r="2.8"/>
<circle cx="637.5" cy="633.7" r="2.8"/>
<circle cx="630.8" cy="587.4" r="2.8"/>
<circle cx="632.7" cy="578.8" r="2.8"/>
<circle cx="633.3" cy="676.5" r="2.8"/>
<circle cx="615.9" cy="626.4" r="2.8"/>
<circle cx="642.2" cy="630.8" r="2.8"/>
<circle cx="626.4" cy="646.9" r="2.8"/>
<circle cx="647.3" cy="692.4" r="2.8"/>
<circle cx="638.3" cy="626.1" r="2.8"/>
<circle cx="626.1" cy="616.8" r="2.8"/>
<circle cx="629" cy="665.8" r="2.8"/>
<circle cx="637.2" cy="606.8" r="2.8"/>
<circle cx="621.9" cy="649.9" r="2.8"/>
<circle cx="627.6" cy="639.3" r="2.8"/>
<circle cx="630" cy="588" r="2.8"/>
<circle cx="646.6" cy="638.8" r="2.8"/>
<circle cx="632.3" cy="561.9" r="2.8"/>
<circle cx="638.2" cy="642" r="2.8"/>
<circle cx="619.1" cy="641.5" r="2.8"/>
<circle cx="627.2" cy="666.3" r="2.8"/>
<circle cx="629.3" cy="617" r="2.8"/>
<circle cx="643.5" cy="642.1" r="2.8"/>
<circle cx="614.3" cy="692.4" r="2.8"/>
<circle cx="632.3" cy="639.3" r="2.8"/>
<circle cx="620.5" cy="655" r="2.8"/>
<circle cx="634.2" cy="656.5" r="2.8"/>
<circle cx="652.6" cy="692.4" r="2.8"/>
<circle cx="622.6" cy="653" r="2.8"/>
<circle cx="648" cy="630.3" r="2.8"/>
<circle cx="633.3" cy="557.2" r="2.8"/>
<circle cx="643.6" cy="647.5" r="2.8"/>
<circle cx="631.3" cy="612.6" r="2.8"/>
<circle cx="617.6" cy="619.2" r="2.8"/>
<circle cx="627.9" cy="671.7" r="2.8"/>
<circle cx="625.4" cy="662.6" r="2.8"/>
<circle cx="634.8" cy="599.3" r="2.8"/>
<circle cx="638.7" cy="616.9" r="2.8"/>
<circle cx="632.2" cy="650.3" r="2.8"/>
<circle cx="627.5" cy="593.4" r="2.8"/>
<circle cx="640.2" cy="692.4" r="2.8"/>
<circle cx="630.1" cy="651.9" r="2.8"/>
<circle cx="633.9" cy="608" r="2.8"/>
<circle cx="624.5" cy="603.8" r="2.8"/>
<circle cx="627.5" cy="663.7" r="2.8"/>
<circle cx="624.1" cy="609.3" r="2.8"/>
<circle cx="640.7" cy="626.2" r="2.8"/>
<circle cx="621.5" cy="640" r="2.8"/>
<circle cx="634.5" cy="613.1" r="2.8"/>
<circle cx="619.4" cy="627.1" r="2.8"/>
<circle cx="647.4" cy="634.6" r="2.8"/>
<circle cx="628.8" cy="635.1" r="2.8"/>
<circle cx="627.6" cy="692.4" r="2.8"/>
<circle cx="625" cy="624.4" r="2.8"/>
<circle cx="633" cy="598.9" r="2.8"/>
<circle cx="635.2" cy="608.9" r="2.8"/>
<circle cx="624" cy="646.2" r="2.8"/>
<circle cx="645.9" cy="623.3" r="2.8"/>
<circle cx="630.1" cy="657.7" r="2.8"/>
<circle cx="636.1" cy="594.7" r="2.8"/>
<circle cx="635.6" cy="659.2" r="2.8"/>
<circle cx="637" cy="644.9" r="2.8"/>
<circle cx="640" cy="637.9" r="2.8"/>
<circle cx="650.3" cy="692.4" r="2.8"/>
<circle cx="624.1" cy="622.9" r="2.8"/>
<circle cx="636.6" cy="669.3" r="2.8"/>
<circle cx="633.6" cy="648.7" r="2.8"/>
<circle cx="639.5" cy="608.8" r="2.8"/>
<circle cx="621.1" cy="611.2" r="2.8"/>
<circle cx="639" cy="649.4" r="2.8"/>
<circle cx="631.2" cy="639.2" r="2.8"/>
<circle cx="638.8" cy="664.9" r="2.8"/>
<circle cx="644.9" cy="620.8" r="2.8"/>
<circle cx="631.5" cy="624.9" r="2.8"/>
<circle cx="631.8" cy="642.8" r="2.8"/>
<circle cx="631.8" cy="597.9" r="2.8"/>
<circle cx="642.7" cy="607.6" r="2.8"/>
<circle cx="642.4" cy="636.5" r="2.8"/>
<circle cx="643.5" cy="650.7" r="2.8"/>
<circle cx="622.5" cy="641.6" r="2.8"/>
<circle cx="635.5" cy="590.1" r="2.8"/>
<circle cx="642.4" cy="646.1" r="2.8"/>
<circle cx="629.4" cy="645.3" r="2.8"/>
<circle cx="636.1" cy="620.9" r="2.8"/>
<circle cx="653.9" cy="692.4" r="2.8"/>
<circle cx="625.6" cy="596.5" r="2.8"/>
<circle cx="631.7" cy="610.1" r="2.8"/>
<circle cx="620.7" cy="618.5" r="2.8"/>
<circle cx="635.5" cy="630" r="2.8"/>
<circle cx="630" cy="592.8" r="2.8"/>
<circle cx="618.4" cy="633.1" r="2.8"/>
<circle cx="630.1" cy="639.5" r="2.8"/>
<circle cx="643.8" cy="619.9" r="2.8"/>
<circle cx="634.1" cy="662.1" r="2.8"/>
<circle cx="632" cy="576.9" r="2.8"/>
<circle cx="642.3" cy="641.1" r="2.8"/>
<circle cx="634" cy="643.7" r="2.8"/>
<circle cx="633.7" cy="611.3" r="2.8"/>
<circle cx="639.8" cy="655.9" r="2.8"/>
<circle cx="637" cy="643.4" r="2.8"/>
<circle cx="639.5" cy="663.4" r="2.8"/>
<circle cx="630.9" cy="580.5" r="2.8"/>
<circle cx="620.9" cy="692.4" r="2.8"/>
<circle cx="625.6" cy="608.6" r="2.8"/>
<circle cx="635.7" cy="614.6" r="2.8"/>
<circle cx="622.8" cy="692.4" r="2.8"/>
<circle cx="633.7" cy="586.8" r="2.8"/>
<circle cx="632.1" cy="571.5" r="2.8"/>
<circle cx="631.9" cy="575.2" r="2.8"/>
<circle cx="640.9" cy="617.6" r="2.8"/>
<circle cx="641.5" cy="638.6" r="2.8"/>
<circle cx="630.9" cy="548.7" r="2.8"/>
<circle cx="648.6" cy="632" r="2.8"/>
<circle cx="632" cy="585.1" r="2.8"/>
<circle cx="639.5" cy="657.9" r="2.8"/>
<circle cx="635.1" cy="607.1" r="2.8"/>
<circle cx="627.5" cy="640.8" r="2.8"/>
<circle cx="643.6" cy="636.7" r="2.8"/>
<circle cx="624.1" cy="661.6" r="2.8"/>
<circle cx="628.5" cy="604.6" r="2.8"/>
<circle cx="633.4" cy="632.4" r="2.8"/>
<circle cx="617.8" cy="622.5" r="2.8"/>
<circle cx="632.9" cy="582.6" r="2.8"/>
<circle cx="626.1" cy="622.5" r="2.8"/>
<circle cx="629.8" cy="668.3" r="2.8"/>
<circle cx="632" cy="581.5" r="2.8"/>
<circle cx="625.9" cy="667.1" r="2.8"/>
<circle cx="633.3" cy="595.1" r="2.8"/>
<circle cx="646.1" cy="632.3" r="2.8"/>
<circle cx="629.8" cy="644" r="2.8"/>
<circle cx="644.6" cy="609.4" r="2.8"/>
<circle cx="619.7" cy="644.8" r="2.8"/>
<circle cx="627.2" cy="653.8" r="2.8"/>
<circle cx="630.1" cy="630.2" r="2.8"/>
<circle cx="619.1" cy="637.4" r="2.8"/>
<circle cx="641.5" cy="648" r="2.8"/>
<circle cx="645.9" cy="649.2" r="2.8"/>
<circle cx="634.6" cy="669.9" r="2.8"/>
<circle cx="635.6" cy="616.4" r="2.8"/>
<circle cx="632.7" cy="589" r="2.8"/>
<circle cx="636.9" cy="610.9" r="2.8"/>
<circle cx="648.2" cy="621.1" r="2.8"/>
<circle cx="626.3" cy="605.8" r="2.8"/>
<circle cx="625.6" cy="640.9" r="2.8"/>
<circle cx="625.3" cy="647.2" r="2.8"/>
<circle cx="634.5" cy="619.4" r="2.8"/>
<circle cx="624.8" cy="657.8" r="2.8"/>
<circle cx="622.8" cy="656.1" r="2.8"/>
<circle cx="638.6" cy="652.5" r="2.8"/>
<circle cx="631.2" cy="692.4" r="2.8"/>
<circle cx="632.9" cy="603" r="2.8"/>
<circle cx="631.2" cy="652.8" r="2.8"/>
<circle cx="612" cy="692.4" r="2.8"/>
<circle cx="637.3" cy="625" r="2.8"/>
<circle cx="643.9" cy="626" r="2.8"/>
<circle cx="618.6" cy="620.1" r="2.8"/>
<circle cx="633" cy="572.7" r="2.8"/>
<circle cx="638.3" cy="661.4" r="2.8"/>
<circle cx="623.7" cy="653.5" r="2.8"/>
<circle cx="647" cy="623.6" r="2.8"/>
<circle cx="624.5" cy="613.7" r="2.8"/>
<circle cx="632.4" cy="664.3" r="2.8"/>
<circle cx="631.5" cy="656.3" r="2.8"/>
<circle cx="636.9" cy="601.9" r="2.8"/>
<circle cx="626.1" cy="654" r="2.8"/>
<circle cx="639.6" cy="625.6" r="2.8"/>
<circle cx="621.1" cy="614" r="2.8"/>
<circle cx="618.8" cy="631.9" r="2.8"/>
<circle cx="620.2" cy="638.1" r="2.8"/>
<circle cx="633.4" cy="591.6" r="2.8"/>
<circle cx="621.8" cy="626.9" r="2.8"/>
<circle cx="623.4" cy="615.6" r="2.8"/>
<circle cx="647.3" cy="627.4" r="2.8"/>
<circle cx="631.3" cy="559" r="2.8"/>
<circle cx="639.2" cy="622" r="2.8"/>
<circle cx="637.7" cy="664.6" r="2.8"/>
<circle cx="627.7" cy="599.6" r="2.8"/>
<circle cx="630.8" cy="643.1" r="2.8"/>
<circle cx="621" cy="637" r="2.8"/>
<circle cx="646.5" cy="625.4" r="2.8"/>
<circle cx="618.6" cy="651.4" r="2.8"/>
<circle cx="632.7" cy="606.2" r="2.8"/>
<circle cx="622.8" cy="627.1" r="2.8"/>
<circle cx="617.6" cy="647" r="2.8"/>
<circle cx="634.5" cy="634.9" r="2.8"/>
<circle cx="639.3" cy="644.3" r="2.8"/>
<circle cx="644.9" cy="619.8" r="2.8"/>
<circle cx="631.7" cy="546.2" r="2.8"/>
<circle cx="629.2" cy="590.8" r="2.8"/>
<circle cx="631.6" cy="679.1" r="2.8"/>
<circle cx="636.7" cy="692.4" r="2.8"/>
<circle cx="625.8" cy="628.7" r="2.8"/>
<circle cx="627.8" cy="628.4" r="2.8"/>
<circle cx="632.2" cy="612.7" r="2.8"/>
<circle cx="632.1" cy="557.6" r="2.8"/>
<circle cx="634" cy="675.9" r="2.8"/>
<circle cx="633.8" cy="624.8" r="2.8"/>
<circle cx="639.3" cy="605.2" r="2.8"/>
<circle cx="640.5" cy="659.3" r="2.8"/>
<circle cx="645.1" cy="633.9" r="2.8"/>
<circle cx="633.3" cy="553.4" r="2.8"/>
<circle cx="633.2" cy="576.1" r="2.8"/>
<circle cx="637" cy="636.8" r="2.8"/>
<circle cx="630" cy="617.3" r="2.8"/>
<circle cx="627.2" cy="646.3" r="2.8"/>
<circle cx="641.5" cy="623.4" r="2.8"/>
<circle cx="628.3" cy="657.2" r="2.8"/>
<circle cx="623.2" cy="638.8" r="2.8"/>
<circle cx="636.2" cy="646.6" r="2.8"/>
<circle cx="631.7" cy="671.6" r="2.8"/>
<circle cx="626" cy="635.5" r="2.8"/>
<circle cx="633.5" cy="628.2" r="2.8"/>
<circle cx="640.6" cy="605.4" r="2.8"/>
<circle cx="619.9" cy="629.3" r="2.8"/>
<circle cx="628.3" cy="663.2" r="2.8"/>
<circle cx="622.2" cy="621.9" r="2.8"/>
<circle cx="630" cy="584.3" r="2.8"/>
<circle cx="645.9" cy="619" r="2.8"/>
<circle cx="617.1" cy="641.8" r="2.8"/>
<circle cx="631.5" cy="662.4" r="2.8"/>
<circle cx="633.7" cy="551.7" r="2.8"/>
<circle cx="646.8" cy="619.7" r="2.8"/>
<circle cx="631.8" cy="673.4" r="2.8"/>
<circle cx="636.6" cy="654.6" r="2.8"/>
<circle cx="627.3" cy="619.1" r="2.8"/>
<circle cx="616.5" cy="622.1" r="2.8"/>
<circle cx="645.8" cy="644.1" r="2.8"/>
<circle cx="642.6" cy="621.8" r="2.8"/>
<circle cx="622.4" cy="629.8" r="2.8"/>
<circle cx="633.4" cy="668" r="2.8"/>
<circle cx="635.8" cy="651" r="2.8"/>
<circle cx="644.6" cy="629.9" r="2.8"/>
<circle cx="645.3" cy="643.1" r="2.8"/>
<circle cx="626.8" cy="629.5" r="2.8"/>
<circle cx="647.5" cy="642.4" r="2.8"/>
<circle cx="635.9" cy="642.5" r="2.8"/>
<circle cx="638.3" cy="692.4" r="2.8"/>
<circle cx="630.7" cy="622.3" r="2.8"/>
<circle cx="643.1" cy="654.3" r="2.8"/>
<circle cx="625" cy="606.9" r="2.8"/>
<circle cx="641.5" cy="692.4" r="2.8"/>
<circle cx="631.9" cy="647.5" r="2.8"/>
<circle cx="637.1" cy="648.4" r="2.8"/>
<circle cx="640.5" cy="662.9" r="2.8"/>
<circle cx="626.7" cy="615.7" r="2.8"/>
<circle cx="638.3" cy="621.5" r="2.8"/>
<circle cx="637.3" cy="616.5" r="2.8"/>
<circle cx="637.7" cy="602.7" r="2.8"/>
<circle cx="629.5" cy="660.4" r="2.8"/>
<circle cx="623.7" cy="618.8" r="2.8"/>
<circle cx="622" cy="617.5" r="2.8"/>
<circle cx="635.1" cy="623.7" r="2.8"/>
<circle cx="620.7" cy="624.7" r="2.8"/>
<circle cx="634.6" cy="589.3" r="2.8"/>
<circle cx="621.9" cy="659.5" r="2.8"/>
<circle cx="631.9" cy="604.8" r="2.8"/>
<circle cx="640.1" cy="640.1" r="2.8"/>
<circle cx="630.3" cy="613.3" r="2.8"/>
<circle cx="644" cy="635.3" r="2.8"/>
<circle cx="638.1" cy="608.5" r="2.8"/>
<circle cx="624.9" cy="618.7" r="2.8"/>
<circle cx="628.8" cy="668.7" r="2.8"/>
<circle cx="637.8" cy="596.1" r="2.8"/>
<circle cx="634.9" cy="643.3" r="2.8"/>
<circle cx="642.1" cy="627.6" r="2.8"/>
<circle cx="628.4" cy="641.3" r="2.8"/>
<circle cx="624.5" cy="640.4" r="2.8"/>
<circle cx="632.8" cy="692.4" r="2.8"/>
<circle cx="635" cy="626.3" r="2.8"/>
<circle cx="645" cy="655.7" r="2.8"/>
<circle cx="645.5" cy="631.2" r="2.8"/>
<circle cx="619.4" cy="632.6" r="2.8"/>
<circle cx="624.2" cy="636.5" r="2.8"/>
<circle cx="633.4" cy="618.1" r="2.8"/>
<circle cx="640.3" cy="608.2" r="2.8"/>
<circle cx="621.1" cy="645.2" r="2.8"/>
<circle cx="649.1" cy="692.4" r="2.8"/>
<circle cx="637.9" cy="636" r="2.8"/>
<circle cx="618.6" cy="647.7" r="2.8"/>
<circle cx="643.9" cy="652.1" r="2.8"/>
<circle cx="634" cy="645.8" r="2.8"/>
<circle cx="640.1" cy="649.7" r="2.8"/>
<circle cx="627.5" cy="620.6" r="2.8"/>
<circle cx="624.1" cy="607.7" r="2.8"/>
<circle cx="628.5" cy="621.2" r="2.8"/>
<circle cx="625.9" cy="658.2" r="2.8"/>
<circle cx="641.5" cy="616.2" r="2.8"/>
<circle cx="638.7" cy="633.8" r="2.8"/>
<circle cx="628.4" cy="647.8" r="2.8"/>
<circle cx="618.2" cy="625.7" r="2.8"/>
<circle cx="616.7" cy="629.4" r="2.8"/>
<circle cx="627.2" cy="607.3" r="2.8"/>
<circle cx="625.8" cy="612.2" r="2.8"/>
<circle cx="634.7" cy="586" r="2.8"/>
<circle cx="617.9" cy="638.4" r="2.8"/>
<circle cx="641.2" cy="602.3" r="2.8"/>
<circle cx="632.3" cy="569.7" r="2.8"/>
<circle cx="645" cy="648.5" r="2.8"/>
<circle cx="648.9" cy="631.5" r="2.8"/>
<circle cx="642.3" cy="610.5" r="2.8"/>
<circle cx="636.5" cy="616" r="2.8"/>
<circle cx="634.8" cy="629.7" r="2.8"/>
<circle cx="634.5" cy="639.9" r="2.8"/>
<circle cx="632.4" cy="657.1" r="2.8"/>
<circle cx="635.3" cy="665.3" r="2.8"/>
<circle cx="632.9" cy="585.5" r="2.8"/>
<circle cx="632.8" cy="643.5" r="2.8"/>
<circle cx="627.3" cy="659.8" r="2.8"/>
<circle cx="632.9" cy="670.8" r="2.8"/>
<circle cx="633.4" cy="655.4" r="2.8"/>
<circle cx="631.3" cy="664.4" r="2.8"/>
<circle cx="632.5" cy="677.2" r="2.8"/>
<circle cx="646.6" cy="640.3" r="2.8"/>
<circle cx="638.8" cy="602.8" r="2.8"/>
<circle cx="632.2" cy="618.4" r="2.8"/>
<circle cx="643.4" cy="609.1" r="2.8"/>
<circle cx="620.5" cy="641.9" r="2.8"/>
<circle cx="630.3" cy="655.6" r="2.8"/>
<circle cx="633.8" cy="596.8" r="2.8"/>
<circle cx="637.4" cy="656.8" r="2.8"/>
<circle cx="643" cy="633.2" r="2.8"/>
<circle cx="624.7" cy="631" r="2.8"/>
<circle cx="636.2" cy="606.3" r="2.8"/>
<circle cx="622.6" cy="634" r="2.8"/>
<circle cx="616" cy="635.8" r="2.8"/>
<circle cx="626.1" cy="626.8" r="2.8"/>
<circle cx="633" cy="611" r="2.8"/>
<circle cx="620.1" cy="611.4" r="2.8"/>
<circle cx="641.1" cy="614.8" r="2.8"/>
<circle cx="633.1" cy="658.7" r="2.8"/>
<circle cx="631" cy="650.9" r="2.8"/>
<circle cx="626.8" cy="638.3" r="2.8"/>
<circle cx="628.4" cy="608" r="2.8"/>
<circle cx="625.6" cy="603.5" r="2.8"/>
<circle cx="632.9" cy="646.7" r="2.8"/>
<circle cx="628.2" cy="627.2" r="2.8"/>
<circle cx="641.6" cy="606.6" r="2.8"/>
<circle cx="632.3" cy="563.7" r="2.8"/>
<circle cx="626.6" cy="643.9" r="2.8"/>
<circle cx="630.7" cy="611.9" r="2.8"/>
<circle cx="623.5" cy="635" r="2.8"/>
<circle cx="639.1" cy="613.9" r="2.8"/>
<circle cx="640.5" cy="623.1" r="2.8"/>
<circle cx="631.7" cy="591.9" r="2.8"/>
<circle cx="617.7" cy="629.2" r="2.8"/>
<circle cx="641.1" cy="610.7" r="2.8"/>
<circle cx="622.3" cy="609.6" r="2.8"/>
<circle cx="637.8" cy="651.4" r="2.8"/>
<circle cx="626.2" cy="660.2" r="2.8"/>
<circle cx="642.9" cy="625.4" r="2.8"/>
<circle cx="644.9" cy="645.5" r="2.8"/>
<circle cx="646.8" cy="645.6" r="2.8"/>
<circle cx="619.8" cy="654.8" r="2.8"/>
<circle cx="627.8" cy="614.3" r="2.8"/>
<circle cx="637.4" cy="661.2" r="2.8"/>
<circle cx="618.5" cy="619.6" r="2.8"/>
<circle cx="635.6" cy="634.1" r="2.8"/>
<circle cx="641.6" cy="651.6" r="2.8"/>
<circle cx="626.5" cy="603.9" r="2.8"/>
</g>
<g class="eb"><line x1="607.5" y1="638.3" x2="657.0999999999999" y2="638.3"/><line x1="632.3" y1="608.4" x2="632.3" y2="668.7"/><line x1="620.5" y1="608.4" x2="644.0999999999999" y2="608.4"/><line x1="620.5" y1="668.7" x2="644.0999999999999" y2="668.7"/></g>
<text transform="translate(47.4,607.1) rotate(-90)" text-anchor="middle" class="tt">Proportion of morning</text>
<text transform="translate(66.9,607.1) rotate(-90)" text-anchor="middle" class="tt">naps (standardized)</text>
<text transform="translate(459.1,608.3) rotate(-90)" text-anchor="middle" class="tt2">Proportion of morning</text>
<text transform="translate(476.9,608.3) rotate(-90)" text-anchor="middle" class="tt2">naps (standardized)</text>
<text x="-0.5" y="512.7" class="lt">e</text>
<text x="409" y="512.7" class="lt">f</text>
<rect x="98.8" y="767.5" width="237.8" height="178.8" fill="none" stroke="#7a7a7a" stroke-width="1.3"/>
<line x1="93.2" y1="946.3" x2="98.8" y2="946.3" stroke="#7a7a7a" stroke-width="1.3"/>
<text x="90.2" y="950.7" text-anchor="end" class="tk">-4</text>
<line x1="93.2" y1="901.6" x2="98.8" y2="901.6" stroke="#7a7a7a" stroke-width="1.3"/>
<text x="90.2" y="906.0" text-anchor="end" class="tk">-2</text>
<line x1="93.2" y1="856.9" x2="98.8" y2="856.9" stroke="#7a7a7a" stroke-width="1.3"/>
<text x="90.2" y="861.3" text-anchor="end" class="tk">0</text>
<line x1="93.2" y1="812.2" x2="98.8" y2="812.2" stroke="#7a7a7a" stroke-width="1.3"/>
<text x="90.2" y="816.6" text-anchor="end" class="tk">2</text>
<line x1="93.2" y1="767.5" x2="98.8" y2="767.5" stroke="#7a7a7a" stroke-width="1.3"/>
<text x="90.2" y="771.9" text-anchor="end" class="tk">4</text>
<line x1="98.8" y1="946.3" x2="98.8" y2="951.9" stroke="#7a7a7a" stroke-width="1.3"/>
<text x="97.8" y="965.2" text-anchor="middle" class="tk">50</text>
<line x1="146.4" y1="946.3" x2="146.4" y2="951.9" stroke="#7a7a7a" stroke-width="1.3"/>
<text x="145.4" y="965.2" text-anchor="middle" class="tk">60</text>
<line x1="193.9" y1="946.3" x2="193.9" y2="951.9" stroke="#7a7a7a" stroke-width="1.3"/>
<text x="192.9" y="965.2" text-anchor="middle" class="tk">70</text>
<line x1="241.5" y1="946.3" x2="241.5" y2="951.9" stroke="#7a7a7a" stroke-width="1.3"/>
<text x="240.5" y="965.2" text-anchor="middle" class="tk">80</text>
<line x1="289.0" y1="946.3" x2="289.0" y2="951.9" stroke="#7a7a7a" stroke-width="1.3"/>
<text x="288.0" y="965.2" text-anchor="middle" class="tk">90</text>
<line x1="336.6" y1="946.3" x2="336.6" y2="951.9" stroke="#7a7a7a" stroke-width="1.3"/>
<text x="332.7" y="965.2" text-anchor="middle" class="tk">100</text>
<text x="217" y="985.0" text-anchor="middle" class="ax">Age</text>
<polygon points="98.8,869.2 108.7,868.3 118.6,867.3 128.5,866.4 138.4,865.4 148.3,864.4 158.2,863.5 168.2,862.5 178.1,861.5 188.0,860.4 197.9,859.4 207.8,858.3 217.7,857.2 227.6,856.1 237.5,854.9 247.4,853.7 257.3,852.5 267.2,851.2 277.2,849.9 287.1,848.6 297.0,847.2 306.9,845.8 316.8,844.4 326.7,843.0 336.6,841.5 336.6,850.1 326.7,851.1 316.8,852.1 306.9,853.2 297.0,854.2 287.1,855.3 277.2,856.4 267.2,857.6 257.3,858.8 247.4,860.0 237.5,861.3 227.6,862.6 217.7,863.9 207.8,865.2 197.9,866.6 188.0,868.0 178.1,869.5 168.2,870.9 158.2,872.4 148.3,873.9 138.4,875.4 128.5,876.9 118.6,878.4 108.7,879.9 98.8,881.4" fill="url(#hatch)" stroke="none"/>
<polyline points="98.8,869.2 108.7,868.3 118.6,867.3 128.5,866.4 138.4,865.4 148.3,864.4 158.2,863.5 168.2,862.5 178.1,861.5 188.0,860.4 197.9,859.4 207.8,858.3 217.7,857.2 227.6,856.1 237.5,854.9 247.4,853.7 257.3,852.5 267.2,851.2 277.2,849.9 287.1,848.6 297.0,847.2 306.9,845.8 316.8,844.4 326.7,843.0 336.6,841.5" class="be"/>
<polyline points="98.8,881.4 108.7,879.9 118.6,878.4 128.5,876.9 138.4,875.4 148.3,873.9 158.2,872.4 168.2,870.9 178.1,869.5 188.0,868.0 197.9,866.6 207.8,865.2 217.7,863.9 227.6,862.6 237.5,861.3 247.4,860.0 257.3,858.8 267.2,857.6 277.2,856.4 287.1,855.3 297.0,854.2 306.9,853.2 316.8,852.1 326.7,851.1 336.6,850.1" class="be"/>
<line x1="98.8" y1="875.3" x2="336.6" y2="845.8" class="rl"/>
<g class="k">
<circle cx="283.1" cy="838.3" r="2.65"/>
<circle cx="272" cy="881" r="2.65"/>
<circle cx="257.9" cy="861" r="2.65"/>
<circle cx="282.1" cy="825.1" r="2.65"/>
<circle cx="219.2" cy="839.2" r="2.65"/>
<circle cx="223.4" cy="866.6" r="2.65"/>
<circle cx="205.2" cy="849.7" r="2.65"/>
<circle cx="268.5" cy="845.2" r="2.65"/>
<circle cx="240.8" cy="833" r="2.65"/>
<circle cx="242.9" cy="819.8" r="2.65"/>
<circle cx="161" cy="867.6" r="2.65"/>
<circle cx="298" cy="823" r="2.65"/>
<circle cx="257.7" cy="867" r="2.65"/>
<circle cx="191" cy="862.4" r="2.65"/>
<circle cx="222" cy="834" r="2.65"/>
<circle cx="273" cy="829.6" r="2.65"/>
<circle cx="245.9" cy="829.8" r="2.65"/>
<circle cx="230.6" cy="849.6" r="2.65"/>
<circle cx="254.9" cy="870.3" r="2.65"/>
<circle cx="262.7" cy="827.2" r="2.65"/>
<circle cx="265.1" cy="867.8" r="2.65"/>
<circle cx="278.6" cy="833.3" r="2.65"/>
<circle cx="242.2" cy="825.6" r="2.65"/>
<circle cx="238.1" cy="849.7" r="2.65"/>
<circle cx="315" cy="848" r="2.65"/>
<circle cx="262" cy="905.6" r="2.65"/>
<circle cx="235.4" cy="853.9" r="2.65"/>
<circle cx="180" cy="851.6" r="2.65"/>
<circle cx="179" cy="835.6" r="2.65"/>
<circle cx="262.5" cy="865.8" r="2.65"/>
<circle cx="248" cy="893" r="2.65"/>
<circle cx="218" cy="881.6" r="2.65"/>
<circle cx="282.6" cy="854.9" r="2.65"/>
<circle cx="226.6" cy="872.5" r="2.65"/>
<circle cx="269" cy="895" r="2.65"/>
<circle cx="238.4" cy="852.3" r="2.65"/>
<circle cx="210.7" cy="872" r="2.65"/>
<circle cx="225.5" cy="873.4" r="2.65"/>
<circle cx="231.6" cy="877.4" r="2.65"/>
<circle cx="178" cy="859.6" r="2.65"/>
<circle cx="237.1" cy="856.1" r="2.65"/>
<circle cx="253.9" cy="840" r="2.65"/>
<circle cx="288.6" cy="809.6" r="2.65"/>
<circle cx="226.1" cy="834.1" r="2.65"/>
<circle cx="227" cy="876" r="2.65"/>
<circle cx="254.4" cy="854" r="2.65"/>
<circle cx="279.3" cy="818.1" r="2.65"/>
<circle cx="288.7" cy="835.4" r="2.65"/>
<circle cx="303" cy="837" r="2.65"/>
<circle cx="221.1" cy="870.5" r="2.65"/>
<circle cx="229.7" cy="868" r="2.65"/>
<circle cx="290.8" cy="829.6" r="2.65"/>
<circle cx="246.2" cy="833.7" r="2.65"/>
<circle cx="267.2" cy="828.9" r="2.65"/>
<circle cx="271.6" cy="840" r="2.65"/>
<circle cx="247.2" cy="837" r="2.65"/>
<circle cx="295" cy="883.6" r="2.65"/>
<circle cx="238.4" cy="841.2" r="2.65"/>
<circle cx="244.1" cy="840.5" r="2.65"/>
<circle cx="265.7" cy="837.2" r="2.65"/>
<circle cx="201.3" cy="865" r="2.65"/>
<circle cx="249.1" cy="823.3" r="2.65"/>
<circle cx="268" cy="880" r="2.65"/>
<circle cx="206" cy="880" r="2.65"/>
<circle cx="235.1" cy="848.7" r="2.65"/>
<circle cx="198" cy="871" r="2.65"/>
<circle cx="201.7" cy="849.9" r="2.65"/>
<circle cx="234.1" cy="840" r="2.65"/>
<circle cx="283.6" cy="844.9" r="2.65"/>
<circle cx="206.5" cy="868.2" r="2.65"/>
<circle cx="216" cy="844.1" r="2.65"/>
<circle cx="278.1" cy="869.1" r="2.65"/>
<circle cx="169.6" cy="881.6" r="2.65"/>
<circle cx="259.4" cy="852.4" r="2.65"/>
<circle cx="127.6" cy="886" r="2.65"/>
<circle cx="223.3" cy="844.2" r="2.65"/>
<circle cx="207.8" cy="861.4" r="2.65"/>
<circle cx="173.6" cy="887" r="2.65"/>
<circle cx="213" cy="877.7" r="2.65"/>
<circle cx="140" cy="874.4" r="2.65"/>
<circle cx="240.7" cy="851.1" r="2.65"/>
<circle cx="323" cy="861" r="2.65"/>
<circle cx="256.9" cy="831" r="2.65"/>
<circle cx="230.4" cy="856.9" r="2.65"/>
<circle cx="259.3" cy="841.2" r="2.65"/>
<circle cx="294.3" cy="848.9" r="2.65"/>
<circle cx="252.5" cy="853.6" r="2.65"/>
<circle cx="295" cy="842" r="2.65"/>
<circle cx="226" cy="846.8" r="2.65"/>
<circle cx="172" cy="830" r="2.65"/>
<circle cx="233.3" cy="873.4" r="2.65"/>
<circle cx="212.7" cy="841.7" r="2.65"/>
<circle cx="268.2" cy="832.2" r="2.65"/>
<circle cx="205.7" cy="840.2" r="2.65"/>
<circle cx="268.2" cy="843.1" r="2.65"/>
<circle cx="185" cy="899" r="2.65"/>
<circle cx="223.2" cy="838.9" r="2.65"/>
<circle cx="267.9" cy="860.3" r="2.65"/>
<circle cx="274.2" cy="848.5" r="2.65"/>
<circle cx="232" cy="840" r="2.65"/>
<circle cx="254.4" cy="817.2" r="2.65"/>
<circle cx="214.8" cy="859.8" r="2.65"/>
<circle cx="285.1" cy="822.4" r="2.65"/>
<circle cx="329" cy="841.6" r="2.65"/>
<circle cx="230" cy="893" r="2.65"/>
<circle cx="230.5" cy="866.6" r="2.65"/>
<circle cx="222.4" cy="867.4" r="2.65"/>
<circle cx="239" cy="898.4" r="2.65"/>
<circle cx="184" cy="851" r="2.65"/>
<circle cx="246.7" cy="875.2" r="2.65"/>
<circle cx="262.4" cy="829.8" r="2.65"/>
<circle cx="210.4" cy="864.1" r="2.65"/>
<circle cx="200.9" cy="869.9" r="2.65"/>
<circle cx="310" cy="840" r="2.65"/>
<circle cx="282.2" cy="867" r="2.65"/>
<circle cx="286" cy="844.9" r="2.65"/>
<circle cx="250.8" cy="862.1" r="2.65"/>
<circle cx="239.7" cy="854.8" r="2.65"/>
<circle cx="189" cy="833.6" r="2.65"/>
<circle cx="186" cy="822" r="2.65"/>
<circle cx="260.4" cy="876.3" r="2.65"/>
<circle cx="291.8" cy="852.7" r="2.65"/>
<circle cx="219.6" cy="910" r="2.65"/>
<circle cx="246.5" cy="860.4" r="2.65"/>
<circle cx="234.8" cy="838.5" r="2.65"/>
<circle cx="250.9" cy="821.7" r="2.65"/>
<circle cx="225.6" cy="807.6" r="2.65"/>
<circle cx="218.2" cy="873.2" r="2.65"/>
<circle cx="263.9" cy="856.2" r="2.65"/>
<circle cx="206.4" cy="852.8" r="2.65"/>
<circle cx="283" cy="897.6" r="2.65"/>
<circle cx="245.4" cy="868.5" r="2.65"/>
<circle cx="242.6" cy="823.2" r="2.65"/>
<circle cx="221.8" cy="866" r="2.65"/>
<circle cx="244.1" cy="825.1" r="2.65"/>
<circle cx="252" cy="811" r="2.65"/>
<circle cx="241.5" cy="855.8" r="2.65"/>
<circle cx="275.6" cy="846.4" r="2.65"/>
<circle cx="200" cy="828" r="2.65"/>
<circle cx="287.5" cy="832.1" r="2.65"/>
<circle cx="263.5" cy="828.1" r="2.65"/>
<circle cx="305" cy="850" r="2.65"/>
<circle cx="290.8" cy="859.4" r="2.65"/>
<circle cx="253.3" cy="856.5" r="2.65"/>
<circle cx="263.7" cy="872.1" r="2.65"/>
<circle cx="237" cy="884" r="2.65"/>
<circle cx="261.7" cy="868.9" r="2.65"/>
<circle cx="264.7" cy="855.4" r="2.65"/>
<circle cx="279.9" cy="836.3" r="2.65"/>
<circle cx="263.4" cy="859.6" r="2.65"/>
<circle cx="251.1" cy="851.3" r="2.65"/>
<circle cx="208.1" cy="874.3" r="2.65"/>
<circle cx="217.1" cy="863.7" r="2.65"/>
<circle cx="226" cy="852" r="2.65"/>
<circle cx="309.4" cy="801.6" r="2.65"/>
<circle cx="268.8" cy="854.4" r="2.65"/>
<circle cx="255" cy="887" r="2.65"/>
<circle cx="286.4" cy="833.5" r="2.65"/>
<circle cx="227" cy="879" r="2.65"/>
<circle cx="275.4" cy="833.8" r="2.65"/>
<circle cx="164" cy="846" r="2.65"/>
<circle cx="274.8" cy="831.8" r="2.65"/>
<circle cx="203" cy="858.3" r="2.65"/>
<circle cx="258.3" cy="873.1" r="2.65"/>
<circle cx="223.1" cy="838.6" r="2.65"/>
<circle cx="210.6" cy="871.6" r="2.65"/>
<circle cx="269.9" cy="854.8" r="2.65"/>
<circle cx="221.4" cy="844.4" r="2.65"/>
<circle cx="155.4" cy="852.4" r="2.65"/>
<circle cx="239.2" cy="835" r="2.65"/>
<circle cx="190" cy="876" r="2.65"/>
<circle cx="254.6" cy="849.5" r="2.65"/>
<circle cx="248.5" cy="850.8" r="2.65"/>
<circle cx="209" cy="882" r="2.65"/>
<circle cx="156" cy="860.4" r="2.65"/>
<circle cx="281" cy="873.2" r="2.65"/>
<circle cx="250" cy="872.5" r="2.65"/>
<circle cx="166" cy="858" r="2.65"/>
<circle cx="220.2" cy="860.2" r="2.65"/>
<circle cx="294.6" cy="834" r="2.65"/>
<circle cx="151.6" cy="868" r="2.65"/>
<circle cx="215.2" cy="839.4" r="2.65"/>
<circle cx="237.6" cy="864.1" r="2.65"/>
<circle cx="212" cy="848.4" r="2.65"/>
<circle cx="268.4" cy="853.1" r="2.65"/>
<circle cx="270.2" cy="851.7" r="2.65"/>
<circle cx="235.4" cy="857" r="2.65"/>
<circle cx="271.9" cy="843.3" r="2.65"/>
<circle cx="263.9" cy="831.1" r="2.65"/>
<circle cx="265" cy="813" r="2.65"/>
<circle cx="247" cy="882" r="2.65"/>
<circle cx="260.8" cy="857.7" r="2.65"/>
<circle cx="279.4" cy="818" r="2.65"/>
<circle cx="271.4" cy="840.9" r="2.65"/>
<circle cx="177.6" cy="874.4" r="2.65"/>
<circle cx="281.8" cy="834.7" r="2.65"/>
<circle cx="248.6" cy="844.7" r="2.65"/>
<circle cx="284.9" cy="852.5" r="2.65"/>
<circle cx="247.9" cy="874.1" r="2.65"/>
<circle cx="214" cy="899" r="2.65"/>
<circle cx="251.2" cy="863.9" r="2.65"/>
<circle cx="276.7" cy="867.6" r="2.65"/>
<circle cx="283" cy="876" r="2.65"/>
<circle cx="223.2" cy="871.5" r="2.65"/>
<circle cx="261.1" cy="845" r="2.65"/>
<circle cx="275.9" cy="824.2" r="2.65"/>
<circle cx="317" cy="857" r="2.65"/>
<circle cx="244.9" cy="842.1" r="2.65"/>
<circle cx="284.5" cy="859.5" r="2.65"/>
<circle cx="283.3" cy="839.8" r="2.65"/>
<circle cx="238.5" cy="848.8" r="2.65"/>
<circle cx="272.8" cy="818" r="2.65"/>
<circle cx="247.6" cy="823.8" r="2.65"/>
<circle cx="192" cy="846.4" r="2.65"/>
<circle cx="285.6" cy="866.9" r="2.65"/>
<circle cx="184" cy="838" r="2.65"/>
<circle cx="331" cy="808" r="2.65"/>
<circle cx="218.9" cy="864.9" r="2.65"/>
<circle cx="239.5" cy="853.1" r="2.65"/>
<circle cx="279.4" cy="843.5" r="2.65"/>
<circle cx="220" cy="843" r="2.65"/>
<circle cx="260.9" cy="851.2" r="2.65"/>
<circle cx="288.9" cy="844.6" r="2.65"/>
<circle cx="279.6" cy="860.3" r="2.65"/>
<circle cx="220.1" cy="856" r="2.65"/>
<circle cx="271.8" cy="862.2" r="2.65"/>
<circle cx="265" cy="885" r="2.65"/>
<circle cx="280.2" cy="868.6" r="2.65"/>
<circle cx="256.1" cy="875.1" r="2.65"/>
<circle cx="225.4" cy="845.9" r="2.65"/>
<circle cx="260.5" cy="834.4" r="2.65"/>
<circle cx="182" cy="887" r="2.65"/>
<circle cx="214" cy="845.6" r="2.65"/>
<circle cx="237.2" cy="832.1" r="2.65"/>
<circle cx="261.3" cy="831.3" r="2.65"/>
<circle cx="260.5" cy="857" r="2.65"/>
<circle cx="295" cy="878" r="2.65"/>
<circle cx="206.5" cy="843.9" r="2.65"/>
<circle cx="144.4" cy="885.6" r="2.65"/>
<circle cx="234.6" cy="861.3" r="2.65"/>
<circle cx="213.7" cy="871.9" r="2.65"/>
<circle cx="215.4" cy="841.9" r="2.65"/>
<circle cx="253.4" cy="865.3" r="2.65"/>
<circle cx="211.6" cy="850" r="2.65"/>
<circle cx="277.9" cy="833" r="2.65"/>
<circle cx="184.4" cy="842" r="2.65"/>
<circle cx="226.3" cy="838.9" r="2.65"/>
<circle cx="280.3" cy="825.2" r="2.65"/>
<circle cx="300.6" cy="800.4" r="2.65"/>
<circle cx="253.5" cy="846.8" r="2.65"/>
<circle cx="273.3" cy="834.2" r="2.65"/>
<circle cx="209.9" cy="871.7" r="2.65"/>
<circle cx="231" cy="835" r="2.65"/>
<circle cx="215.1" cy="866.9" r="2.65"/>
<circle cx="241.5" cy="854.9" r="2.65"/>
<circle cx="318" cy="820.4" r="2.65"/>
<circle cx="252.8" cy="870.5" r="2.65"/>
<circle cx="218" cy="840" r="2.65"/>
<circle cx="280.6" cy="848.6" r="2.65"/>
<circle cx="251" cy="881" r="2.65"/>
<circle cx="236.3" cy="835.9" r="2.65"/>
<circle cx="281.9" cy="841.3" r="2.65"/>
<circle cx="232.3" cy="837.5" r="2.65"/>
<circle cx="230.7" cy="840.4" r="2.65"/>
<circle cx="251.9" cy="823.8" r="2.65"/>
<circle cx="274.8" cy="860.6" r="2.65"/>
<circle cx="251.5" cy="820.4" r="2.65"/>
<circle cx="257" cy="894" r="2.65"/>
<circle cx="155" cy="898.4" r="2.65"/>
<circle cx="201" cy="831" r="2.65"/>
<circle cx="215.5" cy="851.5" r="2.65"/>
<circle cx="161.4" cy="877.6" r="2.65"/>
<circle cx="268.3" cy="830.2" r="2.65"/>
<circle cx="282" cy="890.4" r="2.65"/>
<circle cx="226.4" cy="844.9" r="2.65"/>
<circle cx="193" cy="873" r="2.65"/>
<circle cx="259.4" cy="857.8" r="2.65"/>
<circle cx="254.5" cy="839.5" r="2.65"/>
<circle cx="213.7" cy="856.9" r="2.65"/>
<circle cx="210.4" cy="813.6" r="2.65"/>
<circle cx="266.3" cy="853.2" r="2.65"/>
<circle cx="211.9" cy="839.4" r="2.65"/>
<circle cx="225" cy="854.1" r="2.65"/>
<circle cx="261" cy="903" r="2.65"/>
<circle cx="253.2" cy="835.5" r="2.65"/>
<circle cx="269.5" cy="849.6" r="2.65"/>
<circle cx="273" cy="892.4" r="2.65"/>
<circle cx="217.6" cy="865.9" r="2.65"/>
<circle cx="293" cy="871" r="2.65"/>
<circle cx="281.1" cy="857.2" r="2.65"/>
<circle cx="237.9" cy="850.8" r="2.65"/>
<circle cx="238.8" cy="875.8" r="2.65"/>
<circle cx="226.2" cy="870.3" r="2.65"/>
<circle cx="211" cy="840.8" r="2.65"/>
<circle cx="294.1" cy="846.6" r="2.65"/>
<circle cx="236" cy="876" r="2.65"/>
<circle cx="214.3" cy="861.1" r="2.65"/>
<circle cx="289" cy="832" r="2.65"/>
<circle cx="309" cy="852" r="2.65"/>
<circle cx="214.8" cy="871.8" r="2.65"/>
<circle cx="308" cy="907" r="2.65"/>
<circle cx="251.3" cy="849" r="2.65"/>
<circle cx="281.2" cy="827.2" r="2.65"/>
<circle cx="255.9" cy="862.2" r="2.65"/>
<circle cx="219.5" cy="838.9" r="2.65"/>
<circle cx="255.3" cy="827.9" r="2.65"/>
<circle cx="290.4" cy="843.9" r="2.65"/>
<circle cx="266.2" cy="817.6" r="2.65"/>
<circle cx="258.4" cy="866.8" r="2.65"/>
<circle cx="236.6" cy="908.4" r="2.65"/>
<circle cx="261.2" cy="833.1" r="2.65"/>
<circle cx="212.3" cy="845.5" r="2.65"/>
<circle cx="284" cy="879.6" r="2.65"/>
<circle cx="214" cy="893" r="2.65"/>
<circle cx="267.6" cy="860.3" r="2.65"/>
<circle cx="203" cy="850" r="2.65"/>
<circle cx="278.1" cy="830.6" r="2.65"/>
<circle cx="308" cy="834" r="2.65"/>
<circle cx="211.4" cy="874.8" r="2.65"/>
<circle cx="234" cy="849" r="2.65"/>
<circle cx="223.6" cy="823" r="2.65"/>
<circle cx="295.1" cy="847.9" r="2.65"/>
<circle cx="312" cy="843" r="2.65"/>
<circle cx="209.8" cy="866.7" r="2.65"/>
<circle cx="264.8" cy="841.3" r="2.65"/>
<circle cx="187" cy="880.4" r="2.65"/>
<circle cx="269.5" cy="874.8" r="2.65"/>
<circle cx="274" cy="802" r="2.65"/>
<circle cx="279.7" cy="855.9" r="2.65"/>
<circle cx="218" cy="853" r="2.65"/>
<circle cx="293.9" cy="846.2" r="2.65"/>
<circle cx="231.4" cy="827.3" r="2.65"/>
<circle cx="226" cy="845" r="2.65"/>
<circle cx="199" cy="847" r="2.65"/>
<circle cx="252.3" cy="841.1" r="2.65"/>
<circle cx="250.3" cy="859.7" r="2.65"/>
<circle cx="258.1" cy="826" r="2.65"/>
<circle cx="247.8" cy="869.3" r="2.65"/>
<circle cx="214" cy="872.6" r="2.65"/>
<circle cx="287.3" cy="839.5" r="2.65"/>
<circle cx="277.8" cy="858.3" r="2.65"/>
<circle cx="263.3" cy="830.6" r="2.65"/>
<circle cx="240.6" cy="792.6" r="2.65"/>
<circle cx="240.2" cy="824.6" r="2.65"/>
<circle cx="236.5" cy="875.6" r="2.65"/>
<circle cx="197.6" cy="883" r="2.65"/>
<circle cx="246.9" cy="870.2" r="2.65"/>
<circle cx="278" cy="886" r="2.65"/>
<circle cx="270.5" cy="850.6" r="2.65"/>
<circle cx="274.1" cy="865" r="2.65"/>
<circle cx="171" cy="851.6" r="2.65"/>
<circle cx="272.7" cy="821.5" r="2.65"/>
<circle cx="259.3" cy="830.1" r="2.65"/>
<circle cx="201.1" cy="868.2" r="2.65"/>
<circle cx="216.6" cy="844.8" r="2.65"/>
<circle cx="238.1" cy="830.1" r="2.65"/>
<circle cx="269.4" cy="907" r="2.65"/>
<circle cx="228" cy="825" r="2.65"/>
<circle cx="231.7" cy="850.8" r="2.65"/>
<circle cx="276" cy="837.7" r="2.65"/>
<circle cx="246" cy="839.3" r="2.65"/>
<circle cx="158" cy="859" r="2.65"/>
<circle cx="278.9" cy="848.1" r="2.65"/>
<circle cx="286.4" cy="829.6" r="2.65"/>
<circle cx="231.2" cy="872.5" r="2.65"/>
<circle cx="285.1" cy="862" r="2.65"/>
<circle cx="215.9" cy="867.5" r="2.65"/>
<circle cx="254.1" cy="821.1" r="2.65"/>
<circle cx="275.6" cy="867.5" r="2.65"/>
<circle cx="329" cy="854" r="2.65"/>
<circle cx="270.3" cy="865.2" r="2.65"/>
<circle cx="243.5" cy="866.4" r="2.65"/>
<circle cx="295.6" cy="807" r="2.65"/>
<circle cx="210" cy="841.7" r="2.65"/>
<circle cx="223.1" cy="834.3" r="2.65"/>
<circle cx="233.4" cy="877.2" r="2.65"/>
<circle cx="248.3" cy="822.1" r="2.65"/>
<circle cx="221.2" cy="832.2" r="2.65"/>
<circle cx="280.7" cy="832.7" r="2.65"/>
<circle cx="223.5" cy="843" r="2.65"/>
<circle cx="267.9" cy="852.9" r="2.65"/>
<circle cx="207.1" cy="874.3" r="2.65"/>
<circle cx="232.4" cy="855.6" r="2.65"/>
<circle cx="258.3" cy="833.7" r="2.65"/>
<circle cx="265" cy="835.2" r="2.65"/>
<circle cx="270.5" cy="839.6" r="2.65"/>
<circle cx="264" cy="793.6" r="2.65"/>
<circle cx="252.7" cy="858.1" r="2.65"/>
<circle cx="254.8" cy="830.8" r="2.65"/>
<circle cx="242" cy="819.6" r="2.65"/>
<circle cx="317" cy="850" r="2.65"/>
<circle cx="261.9" cy="876.5" r="2.65"/>
<circle cx="250.2" cy="852.5" r="2.65"/>
<circle cx="310" cy="865" r="2.65"/>
<circle cx="221.1" cy="834.3" r="2.65"/>
<circle cx="244.4" cy="844.6" r="2.65"/>
<circle cx="256.7" cy="861.1" r="2.65"/>
<circle cx="242.8" cy="849.9" r="2.65"/>
<circle cx="245.7" cy="848.2" r="2.65"/>
<circle cx="264.2" cy="821.9" r="2.65"/>
<circle cx="259" cy="888" r="2.65"/>
<circle cx="275.8" cy="817.6" r="2.65"/>
<circle cx="263.4" cy="822.4" r="2.65"/>
<circle cx="209" cy="849.6" r="2.65"/>
<circle cx="282.2" cy="850.5" r="2.65"/>
<circle cx="278.1" cy="840" r="2.65"/>
<circle cx="282.8" cy="857.7" r="2.65"/>
<circle cx="211.1" cy="861.6" r="2.65"/>
<circle cx="202" cy="845" r="2.65"/>
<circle cx="269" cy="824.3" r="2.65"/>
<circle cx="268.9" cy="863.4" r="2.65"/>
<circle cx="262.2" cy="817.6" r="2.65"/>
<circle cx="235.2" cy="873.4" r="2.65"/>
<circle cx="259" cy="793" r="2.65"/>
<circle cx="240.8" cy="839" r="2.65"/>
<circle cx="243" cy="825.1" r="2.65"/>
<circle cx="257.9" cy="867.3" r="2.65"/>
<circle cx="271.1" cy="863.9" r="2.65"/>
<circle cx="176" cy="869.6" r="2.65"/>
<circle cx="249.8" cy="843.2" r="2.65"/>
<circle cx="186" cy="844" r="2.65"/>
<circle cx="260.1" cy="840.3" r="2.65"/>
<circle cx="265.5" cy="868.3" r="2.65"/>
<circle cx="251" cy="825" r="2.65"/>
<circle cx="217.8" cy="866.6" r="2.65"/>
<circle cx="236.7" cy="868.6" r="2.65"/>
<circle cx="212.2" cy="846.7" r="2.65"/>
<circle cx="289.4" cy="842.7" r="2.65"/>
<circle cx="236.5" cy="827.7" r="2.65"/>
<circle cx="177" cy="853" r="2.65"/>
<circle cx="187" cy="871.6" r="2.65"/>
<circle cx="274.7" cy="843.9" r="2.65"/>
<circle cx="327.4" cy="864" r="2.65"/>
<circle cx="214" cy="906" r="2.65"/>
<circle cx="217" cy="898" r="2.65"/>
<circle cx="218" cy="824.4" r="2.65"/>
<circle cx="170" cy="860.4" r="2.65"/>
<circle cx="273.1" cy="866.8" r="2.65"/>
<circle cx="244.6" cy="821.9" r="2.65"/>
<circle cx="289.7" cy="854.7" r="2.65"/>
<circle cx="281" cy="881" r="2.65"/>
<circle cx="249.4" cy="835.5" r="2.65"/>
<circle cx="227" cy="829.2" r="2.65"/>
<circle cx="272.7" cy="823.3" r="2.65"/>
<circle cx="246.5" cy="831.8" r="2.65"/>
<circle cx="253.2" cy="861.2" r="2.65"/>
<circle cx="269.8" cy="861.8" r="2.65"/>
<circle cx="182" cy="908.4" r="2.65"/>
<circle cx="242.6" cy="852.4" r="2.65"/>
<circle cx="241.6" cy="859.7" r="2.65"/>
<circle cx="245" cy="850.2" r="2.65"/>
<circle cx="231.6" cy="856.1" r="2.65"/>
<circle cx="234.2" cy="842.9" r="2.65"/>
<circle cx="213.7" cy="841.4" r="2.65"/>
<circle cx="286" cy="829.8" r="2.65"/>
<circle cx="232.3" cy="874.7" r="2.65"/>
<circle cx="263.5" cy="822.7" r="2.65"/>
<circle cx="264" cy="888" r="2.65"/>
<circle cx="257.4" cy="843.2" r="2.65"/>
<circle cx="222.6" cy="838.3" r="2.65"/>
<circle cx="239" cy="880" r="2.65"/>
<circle cx="253.3" cy="851.2" r="2.65"/>
<circle cx="278.4" cy="843.9" r="2.65"/>
<circle cx="284" cy="836.4" r="2.65"/>
<circle cx="291.5" cy="832.2" r="2.65"/>
<circle cx="261" cy="816" r="2.65"/>
<circle cx="272.7" cy="831.3" r="2.65"/>
<circle cx="273.9" cy="853.8" r="2.65"/>
<circle cx="231.4" cy="854.2" r="2.65"/>
<circle cx="284.4" cy="864.3" r="2.65"/>
<circle cx="234" cy="891" r="2.65"/>
<circle cx="267.6" cy="822.5" r="2.65"/>
<circle cx="266.3" cy="847.1" r="2.65"/>
<circle cx="183" cy="865.6" r="2.65"/>
<circle cx="201.3" cy="851.2" r="2.65"/>
<circle cx="251" cy="902" r="2.65"/>
<circle cx="254.3" cy="842.7" r="2.65"/>
<circle cx="225.6" cy="868.6" r="2.65"/>
<circle cx="252.2" cy="817.4" r="2.65"/>
<circle cx="295.6" cy="852.6" r="2.65"/>
<circle cx="221" cy="829.6" r="2.65"/>
<circle cx="258" cy="854.4" r="2.65"/>
<circle cx="257.1" cy="862.6" r="2.65"/>
<circle cx="278.7" cy="854.1" r="2.65"/>
<circle cx="239.2" cy="841.2" r="2.65"/>
<circle cx="290.4" cy="830.9" r="2.65"/>
<circle cx="292" cy="878" r="2.65"/>
<circle cx="223.4" cy="838.4" r="2.65"/>
<circle cx="265.1" cy="846.3" r="2.65"/>
<circle cx="209" cy="854" r="2.65"/>
<circle cx="252.9" cy="835.8" r="2.65"/>
<circle cx="200.1" cy="856.7" r="2.65"/>
<circle cx="232.5" cy="852.8" r="2.65"/>
<circle cx="228.7" cy="846.9" r="2.65"/>
<circle cx="196.5" cy="860.1" r="2.65"/>
<circle cx="284.9" cy="836.8" r="2.65"/>
<circle cx="241" cy="851.1" r="2.65"/>
<circle cx="277.8" cy="823.4" r="2.65"/>
<circle cx="242.6" cy="813.6" r="2.65"/>
<circle cx="285.6" cy="864.8" r="2.65"/>
<circle cx="235.2" cy="850.5" r="2.65"/>
<circle cx="236.9" cy="861.8" r="2.65"/>
<circle cx="247.5" cy="870.7" r="2.65"/>
<circle cx="253" cy="898" r="2.65"/>
<circle cx="212.1" cy="837.2" r="2.65"/>
<circle cx="177" cy="893" r="2.65"/>
<circle cx="228" cy="836" r="2.65"/>
<circle cx="264.6" cy="798" r="2.65"/>
<circle cx="278.1" cy="862.6" r="2.65"/>
<circle cx="273" cy="865.8" r="2.65"/>
<circle cx="253.5" cy="869.3" r="2.65"/>
<circle cx="248.6" cy="809" r="2.65"/>
<circle cx="184.4" cy="876" r="2.65"/>
<circle cx="269.6" cy="856.2" r="2.65"/>
<circle cx="293.2" cy="828.8" r="2.65"/>
<circle cx="199.1" cy="866.1" r="2.65"/>
<circle cx="164" cy="859.6" r="2.65"/>
<circle cx="280.5" cy="826.8" r="2.65"/>
<circle cx="277.1" cy="840.4" r="2.65"/>
<circle cx="145.4" cy="837" r="2.65"/>
<circle cx="238.2" cy="824.4" r="2.65"/>
<circle cx="273.4" cy="830.8" r="2.65"/>
<circle cx="301" cy="846" r="2.65"/>
<circle cx="237.8" cy="848.2" r="2.65"/>
<circle cx="293.5" cy="839.8" r="2.65"/>
<circle cx="289.9" cy="859.8" r="2.65"/>
<circle cx="235.5" cy="871.6" r="2.65"/>
<circle cx="273.8" cy="841.1" r="2.65"/>
<circle cx="262.4" cy="874.2" r="2.65"/>
<circle cx="183.6" cy="861.6" r="2.65"/>
<circle cx="249.7" cy="872.5" r="2.65"/>
<circle cx="258.2" cy="821.4" r="2.65"/>
<circle cx="207" cy="837" r="2.65"/>
<circle cx="176" cy="841.6" r="2.65"/>
<circle cx="199" cy="822.4" r="2.65"/>
<circle cx="327" cy="860" r="2.65"/>
<circle cx="330" cy="846" r="2.65"/>
<circle cx="198" cy="853" r="2.65"/>
<circle cx="242.7" cy="865.1" r="2.65"/>
<circle cx="197" cy="833" r="2.65"/>
<circle cx="259.9" cy="835" r="2.65"/>
<circle cx="288.2" cy="854.1" r="2.65"/>
<circle cx="284.8" cy="826.1" r="2.65"/>
<circle cx="273.5" cy="846.5" r="2.65"/>
<circle cx="279.8" cy="834" r="2.65"/>
<circle cx="266.6" cy="822.7" r="2.65"/>
<circle cx="244.4" cy="823.9" r="2.65"/>
<circle cx="271.4" cy="864.2" r="2.65"/>
<circle cx="237.9" cy="852" r="2.65"/>
<circle cx="278.4" cy="851.8" r="2.65"/>
<circle cx="271.7" cy="819.7" r="2.65"/>
<circle cx="293" cy="826" r="2.65"/>
<circle cx="260.7" cy="849" r="2.65"/>
<circle cx="218" cy="891" r="2.65"/>
<circle cx="254.9" cy="842.3" r="2.65"/>
<circle cx="205.3" cy="866.8" r="2.65"/>
<circle cx="156" cy="867.6" r="2.65"/>
<circle cx="260.8" cy="817.9" r="2.65"/>
<circle cx="214" cy="827.6" r="2.65"/>
<circle cx="264.1" cy="837.2" r="2.65"/>
<circle cx="253.9" cy="872" r="2.65"/>
<circle cx="258" cy="854.2" r="2.65"/>
<circle cx="282.9" cy="841.8" r="2.65"/>
<circle cx="256.2" cy="834" r="2.65"/>
<circle cx="288.4" cy="856.6" r="2.65"/>
<circle cx="257.9" cy="852.9" r="2.65"/>
<circle cx="175" cy="831" r="2.65"/>
<circle cx="261.3" cy="826.3" r="2.65"/>
<circle cx="261.8" cy="835.5" r="2.65"/>
<circle cx="269.9" cy="870.9" r="2.65"/>
<circle cx="231.4" cy="841.1" r="2.65"/>
<circle cx="229.5" cy="832.1" r="2.65"/>
<circle cx="269" cy="814" r="2.65"/>
<circle cx="236.1" cy="873.8" r="2.65"/>
<circle cx="269.2" cy="864.8" r="2.65"/>
<circle cx="278.6" cy="833.4" r="2.65"/>
<circle cx="247" cy="818" r="2.65"/>
<circle cx="241.3" cy="826.4" r="2.65"/>
<circle cx="201" cy="893" r="2.65"/>
<circle cx="203.6" cy="837" r="2.65"/>
<circle cx="231.5" cy="852.5" r="2.65"/>
<circle cx="234.8" cy="835.6" r="2.65"/>
<circle cx="261.3" cy="840.4" r="2.65"/>
<circle cx="246.8" cy="840.5" r="2.65"/>
<circle cx="231" cy="845.4" r="2.65"/>
<circle cx="286.5" cy="842.7" r="2.65"/>
<circle cx="287" cy="849.3" r="2.65"/>
<circle cx="316" cy="831.6" r="2.65"/>
<circle cx="269.3" cy="848.4" r="2.65"/>
<circle cx="285.8" cy="838.6" r="2.65"/>
<circle cx="250" cy="869.2" r="2.65"/>
<circle cx="243.1" cy="860.9" r="2.65"/>
<circle cx="266.5" cy="837.3" r="2.65"/>
<circle cx="286.4" cy="871.1" r="2.65"/>
<circle cx="230" cy="871.8" r="2.65"/>
<circle cx="173" cy="884" r="2.65"/>
<circle cx="230.4" cy="833.2" r="2.65"/>
<circle cx="265.5" cy="861.5" r="2.65"/>
<circle cx="243" cy="888" r="2.65"/>
<circle cx="285" cy="813.6" r="2.65"/>
<circle cx="213.1" cy="855.8" r="2.65"/>
<circle cx="230.3" cy="852.7" r="2.65"/>
<circle cx="288.5" cy="823.7" r="2.65"/>
<circle cx="292.6" cy="834.8" r="2.65"/>
<circle cx="235.7" cy="831" r="2.65"/>
<circle cx="241" cy="899" r="2.65"/>
<circle cx="198.6" cy="862.4" r="2.65"/>
<circle cx="284.2" cy="824.6" r="2.65"/>
<circle cx="301" cy="866" r="2.65"/>
<circle cx="229.6" cy="845" r="2.65"/>
<circle cx="202" cy="854" r="2.65"/>
<circle cx="204.3" cy="869" r="2.65"/>
<circle cx="225.3" cy="846" r="2.65"/>
<circle cx="237.3" cy="865.3" r="2.65"/>
<circle cx="236.6" cy="832.2" r="2.65"/>
<circle cx="299" cy="821" r="2.65"/>
<circle cx="294.6" cy="787" r="2.65"/>
<circle cx="257.8" cy="834.6" r="2.65"/>
<circle cx="222" cy="890.4" r="2.65"/>
<circle cx="277.2" cy="850.8" r="2.65"/>
<circle cx="215" cy="911" r="2.65"/>
<circle cx="198.3" cy="869.5" r="2.65"/>
<circle cx="243.7" cy="877.2" r="2.65"/>
<circle cx="233" cy="854" r="2.65"/>
<circle cx="319" cy="845" r="2.65"/>
<circle cx="248.5" cy="823.4" r="2.65"/>
<circle cx="214.8" cy="870.7" r="2.65"/>
<circle cx="290" cy="837.8" r="2.65"/>
<circle cx="276.3" cy="829.1" r="2.65"/>
<circle cx="276.1" cy="864.7" r="2.65"/>
<circle cx="274.1" cy="843.2" r="2.65"/>
<circle cx="199.3" cy="868.8" r="2.65"/>
<circle cx="289.1" cy="827.4" r="2.65"/>
<circle cx="248.9" cy="855.5" r="2.65"/>
<circle cx="200.5" cy="851.5" r="2.65"/>
<circle cx="278.8" cy="860" r="2.65"/>
<circle cx="186" cy="867.6" r="2.65"/>
<circle cx="265.3" cy="855.1" r="2.65"/>
<circle cx="205.5" cy="840.7" r="2.65"/>
<circle cx="230.8" cy="854.4" r="2.65"/>
<circle cx="260.7" cy="840.5" r="2.65"/>
<circle cx="256.8" cy="872.5" r="2.65"/>
<circle cx="190" cy="848" r="2.65"/>
<circle cx="256.8" cy="861.6" r="2.65"/>
<circle cx="177.6" cy="899" r="2.65"/>
<circle cx="225" cy="837" r="2.65"/>
<circle cx="270.1" cy="828.2" r="2.65"/>
<circle cx="259" cy="837.3" r="2.65"/>
<circle cx="218" cy="848" r="2.65"/>
<circle cx="244" cy="898" r="2.65"/>
<circle cx="255.6" cy="872.6" r="2.65"/>
<circle cx="215.7" cy="872.5" r="2.65"/>
<circle cx="268" cy="893" r="2.65"/>
<circle cx="261.2" cy="851.7" r="2.65"/>
<circle cx="256.6" cy="804.4" r="2.65"/>
<circle cx="228" cy="841" r="2.65"/>
<circle cx="282.3" cy="874" r="2.65"/>
<circle cx="260" cy="790.4" r="2.65"/>
<circle cx="303" cy="869.6" r="2.65"/>
<circle cx="173" cy="871.6" r="2.65"/>
<circle cx="231.9" cy="861.9" r="2.65"/>
<circle cx="285" cy="835.2" r="2.65"/>
<circle cx="264.9" cy="852" r="2.65"/>
<circle cx="238.1" cy="849.3" r="2.65"/>
<circle cx="229.4" cy="859.3" r="2.65"/>
<circle cx="241.6" cy="843.3" r="2.65"/>
<circle cx="255" cy="882" r="2.65"/>
<circle cx="212.4" cy="820.4" r="2.65"/>
<circle cx="233.9" cy="848.8" r="2.65"/>
<circle cx="278.7" cy="838.1" r="2.65"/>
<circle cx="255.6" cy="838.1" r="2.65"/>
<circle cx="205.9" cy="877.8" r="2.65"/>
<circle cx="230.7" cy="835" r="2.65"/>
<circle cx="233.5" cy="830.3" r="2.65"/>
<circle cx="280.2" cy="855.7" r="2.65"/>
<circle cx="223.9" cy="850.8" r="2.65"/>
<circle cx="267.1" cy="839.2" r="2.65"/>
<circle cx="222.7" cy="858.5" r="2.65"/>
<circle cx="242" cy="809.6" r="2.65"/>
<circle cx="233.5" cy="864.3" r="2.65"/>
<circle cx="255.5" cy="847.8" r="2.65"/>
<circle cx="273" cy="810" r="2.65"/>
<circle cx="282.3" cy="871" r="2.65"/>
<circle cx="265.1" cy="825.4" r="2.65"/>
<circle cx="230" cy="850" r="2.65"/>
<circle cx="199.2" cy="855" r="2.65"/>
<circle cx="292.4" cy="837.9" r="2.65"/>
<circle cx="256.6" cy="818" r="2.65"/>
<circle cx="248.2" cy="841.4" r="2.65"/>
<circle cx="214.2" cy="868.5" r="2.65"/>
<circle cx="217.3" cy="871.9" r="2.65"/>
<circle cx="294.9" cy="853.8" r="2.65"/>
<circle cx="295" cy="819.6" r="2.65"/>
<circle cx="247" cy="836.7" r="2.65"/>
<circle cx="231.2" cy="825.1" r="2.65"/>
<circle cx="300" cy="828" r="2.65"/>
<circle cx="277.4" cy="810.4" r="2.65"/>
<circle cx="251.7" cy="824.3" r="2.65"/>
<circle cx="233" cy="824" r="2.65"/>
<circle cx="268.4" cy="870.4" r="2.65"/>
<circle cx="277.3" cy="870.8" r="2.65"/>
<circle cx="234" cy="842" r="2.65"/>
<circle cx="214.8" cy="853.5" r="2.65"/>
<circle cx="217.9" cy="836.8" r="2.65"/>
<circle cx="296" cy="833.1" r="2.65"/>
<circle cx="265.6" cy="822.3" r="2.65"/>
<circle cx="246.5" cy="868.2" r="2.65"/>
<circle cx="257.5" cy="836.4" r="2.65"/>
<circle cx="256.5" cy="868.5" r="2.65"/>
<circle cx="193.6" cy="831.6" r="2.65"/>
<circle cx="215" cy="881.6" r="2.65"/>
<circle cx="253.4" cy="783.4" r="2.65"/>
<circle cx="214" cy="836" r="2.65"/>
<circle cx="256" cy="833.5" r="2.65"/>
<circle cx="158.3" cy="926.6" r="2.65"/>
<circle cx="173" cy="926.6" r="2.65"/>
<circle cx="181.3" cy="926.6" r="2.65"/>
<circle cx="196.4" cy="926.6" r="2.65"/>
<circle cx="210.2" cy="926.6" r="2.65"/>
<circle cx="213.1" cy="926.6" r="2.65"/>
<circle cx="221.8" cy="926.6" r="2.65"/>
<circle cx="226.6" cy="926.6" r="2.65"/>
<circle cx="231" cy="926.6" r="2.65"/>
<circle cx="234.3" cy="926.6" r="2.65"/>
<circle cx="237.6" cy="926.6" r="2.65"/>
<circle cx="243.1" cy="926.6" r="2.65"/>
<circle cx="246.3" cy="926.6" r="2.65"/>
<circle cx="257.3" cy="926.6" r="2.65"/>
<circle cx="263.4" cy="926.6" r="2.65"/>
<circle cx="274.8" cy="926.6" r="2.65"/>
<circle cx="291.9" cy="926.6" r="2.65"/>
<circle cx="293.4" cy="926.6" r="2.65"/>
</g>
<rect x="507.4" y="769.1" width="175.0" height="178.2" fill="none" stroke="#444" stroke-width="1.2"/>
<line x1="500.4" y1="947.3" x2="507.4" y2="947.3" stroke="#5a5a5a" stroke-width="1.2"/>
<text x="498.7" y="951.7" text-anchor="end" class="tk2">-4</text>
<line x1="500.4" y1="902.8" x2="507.4" y2="902.8" stroke="#5a5a5a" stroke-width="1.2"/>
<text x="498.7" y="907.1" text-anchor="end" class="tk2">-2</text>
<line x1="500.4" y1="858.2" x2="507.4" y2="858.2" stroke="#5a5a5a" stroke-width="1.2"/>
<text x="498.7" y="862.6" text-anchor="end" class="tk2">0</text>
<line x1="500.4" y1="813.6" x2="507.4" y2="813.6" stroke="#5a5a5a" stroke-width="1.2"/>
<text x="498.7" y="818.0" text-anchor="end" class="tk2">2</text>
<line x1="500.4" y1="769.1" x2="507.4" y2="769.1" stroke="#5a5a5a" stroke-width="1.2"/>
<text x="498.7" y="773.5" text-anchor="end" class="tk2">4</text>
<text x="557.1" y="970.5" text-anchor="middle" class="ax">Male</text>
<text x="632.3" y="970.5" text-anchor="middle" class="ax">Female</text>
<g class="m">
<circle cx="546.7" cy="868.3" r="2.8"/>
<circle cx="561.4" cy="881.6" r="2.8"/>
<circle cx="557.3" cy="892.4" r="2.8"/>
<circle cx="554.8" cy="852.9" r="2.8"/>
<circle cx="556.9" cy="854.3" r="2.8"/>
<circle cx="559.8" cy="869.7" r="2.8"/>
<circle cx="549.8" cy="860.2" r="2.8"/>
<circle cx="552.9" cy="881.1" r="2.8"/>
<circle cx="569" cy="873.1" r="2.8"/>
<circle cx="565.2" cy="842.4" r="2.8"/>
<circle cx="546.7" cy="862.5" r="2.8"/>
<circle cx="576.1" cy="863.4" r="2.8"/>
<circle cx="559.4" cy="878.5" r="2.8"/>
<circle cx="538.9" cy="857.6" r="2.8"/>
<circle cx="570.2" cy="850.7" r="2.8"/>
<circle cx="569.7" cy="861" r="2.8"/>
<circle cx="558" cy="898.9" r="2.8"/>
<circle cx="542.1" cy="852.6" r="2.8"/>
<circle cx="567.6" cy="847.4" r="2.8"/>
<circle cx="567.8" cy="842.7" r="2.8"/>
<circle cx="555" cy="889.7" r="2.8"/>
<circle cx="570.2" cy="845.7" r="2.8"/>
<circle cx="552.8" cy="838.5" r="2.8"/>
<circle cx="555.2" cy="820.8" r="2.8"/>
<circle cx="538.4" cy="863.9" r="2.8"/>
<circle cx="551.4" cy="875.7" r="2.8"/>
<circle cx="538.9" cy="865.7" r="2.8"/>
<circle cx="558.9" cy="829.5" r="2.8"/>
<circle cx="570.1" cy="867.4" r="2.8"/>
<circle cx="562.1" cy="871.2" r="2.8"/>
<circle cx="558.6" cy="833.9" r="2.8"/>
<circle cx="578.4" cy="863.8" r="2.8"/>
<circle cx="549" cy="846.8" r="2.8"/>
<circle cx="538" cy="848.4" r="2.8"/>
<circle cx="558" cy="812.6" r="2.8"/>
<circle cx="561.5" cy="848.7" r="2.8"/>
<circle cx="546.5" cy="841.1" r="2.8"/>
<circle cx="558.9" cy="825.8" r="2.8"/>
<circle cx="536.9" cy="852.2" r="2.8"/>
<circle cx="557" cy="819.7" r="2.8"/>
<circle cx="554.7" cy="872.7" r="2.8"/>
<circle cx="556.3" cy="888.2" r="2.8"/>
<circle cx="572.6" cy="862.9" r="2.8"/>
<circle cx="556.4" cy="832.1" r="2.8"/>
<circle cx="555.8" cy="851" r="2.8"/>
<circle cx="549.5" cy="851.6" r="2.8"/>
<circle cx="572.4" cy="864.6" r="2.8"/>
<circle cx="549.7" cy="871.6" r="2.8"/>
<circle cx="559.3" cy="883.9" r="2.8"/>
<circle cx="555.6" cy="825.4" r="2.8"/>
<circle cx="555.9" cy="858" r="2.8"/>
<circle cx="557.1" cy="896.9" r="2.8"/>
<circle cx="560.3" cy="873.5" r="2.8"/>
<circle cx="544.1" cy="870.6" r="2.8"/>
<circle cx="556.8" cy="876.3" r="2.8"/>
<circle cx="559.4" cy="823.6" r="2.8"/>
<circle cx="557.1" cy="927.3" r="2.8"/>
<circle cx="559.2" cy="836.3" r="2.8"/>
<circle cx="574" cy="855.7" r="2.8"/>
<circle cx="547.2" cy="856.7" r="2.8"/>
<circle cx="565.3" cy="847" r="2.8"/>
<circle cx="547.7" cy="864.7" r="2.8"/>
<circle cx="550.9" cy="839.8" r="2.8"/>
<circle cx="572.2" cy="858.5" r="2.8"/>
<circle cx="556.9" cy="845.3" r="2.8"/>
<circle cx="551.3" cy="847.9" r="2.8"/>
<circle cx="544.6" cy="850.4" r="2.8"/>
<circle cx="552.4" cy="856.4" r="2.8"/>
<circle cx="556.7" cy="804.4" r="2.8"/>
<circle cx="555.1" cy="869.4" r="2.8"/>
<circle cx="559.9" cy="845.2" r="2.8"/>
<circle cx="570.2" cy="870.2" r="2.8"/>
<circle cx="569.8" cy="857.1" r="2.8"/>
<circle cx="555.2" cy="817.3" r="2.8"/>
<circle cx="561.8" cy="842.1" r="2.8"/>
<circle cx="561.9" cy="859" r="2.8"/>
<circle cx="555.6" cy="831.2" r="2.8"/>
<circle cx="562.5" cy="846.4" r="2.8"/>
<circle cx="553.2" cy="851.8" r="2.8"/>
<circle cx="552.2" cy="870.7" r="2.8"/>
<circle cx="554" cy="847.6" r="2.8"/>
<circle cx="575" cy="859.6" r="2.8"/>
<circle cx="558" cy="840.7" r="2.8"/>
<circle cx="555.2" cy="893.6" r="2.8"/>
<circle cx="557.1" cy="796.3" r="2.8"/>
<circle cx="557.1" cy="907.6" r="2.8"/>
<circle cx="557.1" cy="802.3" r="2.8"/>
<circle cx="561.1" cy="839.6" r="2.8"/>
<circle cx="546.6" cy="846.1" r="2.8"/>
<circle cx="562.6" cy="874.6" r="2.8"/>
<circle cx="559" cy="895.1" r="2.8"/>
<circle cx="545.6" cy="854" r="2.8"/>
<circle cx="541.2" cy="856" r="2.8"/>
<circle cx="557.1" cy="902" r="2.8"/>
<circle cx="555.2" cy="837.6" r="2.8"/>
<circle cx="542" cy="860.4" r="2.8"/>
<circle cx="536.3" cy="859.2" r="2.8"/>
<circle cx="558.6" cy="863.1" r="2.8"/>
<circle cx="557.5" cy="838.6" r="2.8"/>
<circle cx="564.7" cy="871.8" r="2.8"/>
<circle cx="540.7" cy="849.6" r="2.8"/>
<circle cx="541.5" cy="844.1" r="2.8"/>
<circle cx="554.5" cy="877.1" r="2.8"/>
<circle cx="565.3" cy="874.3" r="2.8"/>
<circle cx="575.6" cy="849.3" r="2.8"/>
<circle cx="540.1" cy="854.9" r="2.8"/>
<circle cx="566.8" cy="858.5" r="2.8"/>
<circle cx="563.7" cy="862.2" r="2.8"/>
<circle cx="557.3" cy="827.8" r="2.8"/>
<circle cx="557.5" cy="880.2" r="2.8"/>
<circle cx="557.1" cy="822.3" r="2.8"/>
<circle cx="553.9" cy="835.6" r="2.8"/>
<circle cx="578.2" cy="859.3" r="2.8"/>
<circle cx="572.9" cy="844.2" r="2.8"/>
<circle cx="557.4" cy="865.2" r="2.8"/>
<circle cx="555" cy="886" r="2.8"/>
<circle cx="560.5" cy="853.8" r="2.8"/>
<circle cx="543.3" cy="844.7" r="2.8"/>
<circle cx="559.4" cy="888.9" r="2.8"/>
<circle cx="557.7" cy="811.7" r="2.8"/>
<circle cx="551.9" cy="876.8" r="2.8"/>
<circle cx="544.7" cy="861.6" r="2.8"/>
<circle cx="558" cy="807.4" r="2.8"/>
<circle cx="572" cy="868.5" r="2.8"/>
<circle cx="556" cy="814.1" r="2.8"/>
<circle cx="561.7" cy="878.8" r="2.8"/>
<circle cx="554.9" cy="843.4" r="2.8"/>
<circle cx="565.6" cy="853.3" r="2.8"/>
<circle cx="564.5" cy="857.4" r="2.8"/>
<circle cx="557" cy="815.8" r="2.8"/>
<circle cx="556.5" cy="808.6" r="2.8"/>
<circle cx="562.7" cy="852.5" r="2.8"/>
<circle cx="544.2" cy="858.1" r="2.8"/>
<circle cx="559.8" cy="885.7" r="2.8"/>
<circle cx="568.8" cy="855.2" r="2.8"/>
<circle cx="550.1" cy="866.4" r="2.8"/>
<circle cx="567.3" cy="851.3" r="2.8"/>
<circle cx="558" cy="857" r="2.8"/>
<circle cx="564.4" cy="877.5" r="2.8"/>
<circle cx="548.5" cy="855.2" r="2.8"/>
<circle cx="564.1" cy="848.9" r="2.8"/>
<circle cx="563.5" cy="865.8" r="2.8"/>
<circle cx="571.9" cy="854.5" r="2.8"/>
<circle cx="572.8" cy="849.8" r="2.8"/>
<circle cx="550.4" cy="859.8" r="2.8"/>
<circle cx="540.8" cy="867" r="2.8"/>
<circle cx="545" cy="873.8" r="2.8"/>
<circle cx="555.4" cy="861.9" r="2.8"/>
<circle cx="552.6" cy="841.7" r="2.8"/>
<circle cx="567.1" cy="866.7" r="2.8"/>
<circle cx="554.3" cy="865.3" r="2.8"/>
<circle cx="558.9" cy="850.1" r="2.8"/>
<circle cx="561.6" cy="862.6" r="2.8"/>
<circle cx="541.2" cy="869" r="2.8"/>
<circle cx="535.9" cy="860.7" r="2.8"/>
<circle cx="563.8" cy="836.5" r="2.8"/>
<circle cx="552.7" cy="861.5" r="2.8"/>
<circle cx="576.6" cy="864.2" r="2.8"/>
<circle cx="551.2" cy="853.4" r="2.8"/>
<circle cx="560.5" cy="832.9" r="2.8"/>
<circle cx="556.2" cy="899.8" r="2.8"/>
<circle cx="549.6" cy="879.3" r="2.8"/>
<circle cx="577.2" cy="855.8" r="2.8"/>
<circle cx="567.4" cy="868" r="2.8"/>
<circle cx="558.9" cy="818.8" r="2.8"/>
<circle cx="549" cy="872.3" r="2.8"/>
<circle cx="548.8" cy="843.7" r="2.8"/>
<circle cx="546.6" cy="848.1" r="2.8"/>
<circle cx="543.9" cy="867.5" r="2.8"/>
<circle cx="554.8" cy="882.6" r="2.8"/>
<circle cx="560.2" cy="866.2" r="2.8"/>
<circle cx="557.6" cy="891" r="2.8"/>
<circle cx="556.9" cy="868.9" r="2.8"/>
<circle cx="566.5" cy="861.2" r="2.8"/>
<circle cx="556.6" cy="875.2" r="2.8"/>
</g>
<g class="eb"><line x1="532.3000000000001" y1="857.0" x2="581.9" y2="857.0"/><line x1="557.1" y1="837.0" x2="557.1" y2="878.5"/><line x1="545.3000000000001" y1="837.0" x2="568.9" y2="837.0"/><line x1="545.3000000000001" y1="878.5" x2="568.9" y2="878.5"/></g>
<g class="f">
<circle cx="639.1" cy="860.7" r="2.8"/>
<circle cx="615.9" cy="858.1" r="2.8"/>
<circle cx="621.3" cy="847.8" r="2.8"/>
<circle cx="632.5" cy="904.3" r="2.8"/>
<circle cx="645.3" cy="873.7" r="2.8"/>
<circle cx="636" cy="927.3" r="2.8"/>
<circle cx="621.8" cy="864.4" r="2.8"/>
<circle cx="634.6" cy="856.9" r="2.8"/>
<circle cx="636.5" cy="829.1" r="2.8"/>
<circle cx="640.8" cy="854.9" r="2.8"/>
<circle cx="633" cy="900.1" r="2.8"/>
<circle cx="619.2" cy="844.7" r="2.8"/>
<circle cx="634.5" cy="927.3" r="2.8"/>
<circle cx="628.9" cy="849.8" r="2.8"/>
<circle cx="618" cy="852.1" r="2.8"/>
<circle cx="615.7" cy="853.4" r="2.8"/>
<circle cx="617.8" cy="841.3" r="2.8"/>
<circle cx="636.9" cy="858" r="2.8"/>
<circle cx="624.7" cy="840" r="2.8"/>
<circle cx="641.3" cy="873.9" r="2.8"/>
<circle cx="640.6" cy="871.9" r="2.8"/>
<circle cx="616.2" cy="862.2" r="2.8"/>
<circle cx="634.8" cy="850.7" r="2.8"/>
<circle cx="628.1" cy="887.1" r="2.8"/>
<circle cx="634.4" cy="873.5" r="2.8"/>
<circle cx="625.4" cy="829.8" r="2.8"/>
<circle cx="632.3" cy="786.8" r="2.8"/>
<circle cx="622.8" cy="858.1" r="2.8"/>
<circle cx="642.2" cy="863.9" r="2.8"/>
<circle cx="626" cy="844.1" r="2.8"/>
<circle cx="647.6" cy="855.6" r="2.8"/>
<circle cx="632.9" cy="842.7" r="2.8"/>
<circle cx="631.2" cy="872" r="2.8"/>
<circle cx="629" cy="844" r="2.8"/>
<circle cx="639.1" cy="874.6" r="2.8"/>
<circle cx="634.7" cy="819.4" r="2.8"/>
<circle cx="631.8" cy="903.4" r="2.8"/>
<circle cx="615.8" cy="870.1" r="2.8"/>
<circle cx="651.1" cy="850.5" r="2.8"/>
<circle cx="620.5" cy="863.7" r="2.8"/>
<circle cx="635.1" cy="884.6" r="2.8"/>
<circle cx="632.7" cy="876.1" r="2.8"/>
<circle cx="650.7" cy="856.5" r="2.8"/>
<circle cx="634.6" cy="825.3" r="2.8"/>
<circle cx="631.7" cy="855.3" r="2.8"/>
<circle cx="618.8" cy="865.3" r="2.8"/>
<circle cx="638.8" cy="849.6" r="2.8"/>
<circle cx="616.7" cy="852.6" r="2.8"/>
<circle cx="636.6" cy="886.9" r="2.8"/>
<circle cx="633.9" cy="877.6" r="2.8"/>
<circle cx="623.8" cy="840.6" r="2.8"/>
<circle cx="639.2" cy="866.2" r="2.8"/>
<circle cx="643.7" cy="840.8" r="2.8"/>
<circle cx="628" cy="879.9" r="2.8"/>
<circle cx="627.7" cy="855.7" r="2.8"/>
<circle cx="636.9" cy="848.5" r="2.8"/>
<circle cx="640.3" cy="847.9" r="2.8"/>
<circle cx="630.1" cy="826.7" r="2.8"/>
<circle cx="635.4" cy="875.9" r="2.8"/>
<circle cx="632.2" cy="803.1" r="2.8"/>
<circle cx="630.2" cy="895.5" r="2.8"/>
<circle cx="632.7" cy="831.2" r="2.8"/>
<circle cx="643.4" cy="860.6" r="2.8"/>
<circle cx="651.8" cy="857.1" r="2.8"/>
<circle cx="617.4" cy="851.9" r="2.8"/>
<circle cx="645.3" cy="847.5" r="2.8"/>
<circle cx="618.6" cy="851.4" r="2.8"/>
<circle cx="643.9" cy="849.7" r="2.8"/>
<circle cx="625.1" cy="838.6" r="2.8"/>
<circle cx="623.3" cy="861.7" r="2.8"/>
<circle cx="645.7" cy="864" r="2.8"/>
<circle cx="649.9" cy="850.2" r="2.8"/>
<circle cx="624.2" cy="879" r="2.8"/>
<circle cx="630" cy="854.2" r="2.8"/>
<circle cx="634.5" cy="833.6" r="2.8"/>
<circle cx="631" cy="893.5" r="2.8"/>
<circle cx="650.5" cy="854.5" r="2.8"/>
<circle cx="632.2" cy="819.8" r="2.8"/>
<circle cx="615.7" cy="865.2" r="2.8"/>
<circle cx="640" cy="851.5" r="2.8"/>
<circle cx="641.9" cy="842.1" r="2.8"/>
<circle cx="630.9" cy="851.7" r="2.8"/>
<circle cx="632.4" cy="865" r="2.8"/>
<circle cx="644.1" cy="873.2" r="2.8"/>
<circle cx="634.4" cy="836.8" r="2.8"/>
<circle cx="632" cy="821.5" r="2.8"/>
<circle cx="623.8" cy="855.4" r="2.8"/>
<circle cx="648.2" cy="846.3" r="2.8"/>
<circle cx="634.1" cy="863.1" r="2.8"/>
<circle cx="633.3" cy="862.1" r="2.8"/>
<circle cx="625.2" cy="862.9" r="2.8"/>
<circle cx="646.2" cy="851.6" r="2.8"/>
<circle cx="640.9" cy="842.5" r="2.8"/>
<circle cx="638.3" cy="835" r="2.8"/>
<circle cx="625.6" cy="882.2" r="2.8"/>
<circle cx="633" cy="816" r="2.8"/>
<circle cx="613.7" cy="858.7" r="2.8"/>
<circle cx="647" cy="842" r="2.8"/>
<circle cx="615.3" cy="863.5" r="2.8"/>
<circle cx="632.3" cy="927.3" r="2.8"/>
<circle cx="638.3" cy="871.6" r="2.8"/>
<circle cx="623.4" cy="864.2" r="2.8"/>
<circle cx="648" cy="848.3" r="2.8"/>
<circle cx="635.8" cy="851.3" r="2.8"/>
<circle cx="632.5" cy="805.3" r="2.8"/>
<circle cx="637.6" cy="879.6" r="2.8"/>
<circle cx="644.9" cy="852.4" r="2.8"/>
<circle cx="633.7" cy="848.2" r="2.8"/>
<circle cx="631" cy="902.4" r="2.8"/>
<circle cx="634.3" cy="822.2" r="2.8"/>
<circle cx="629.2" cy="869.5" r="2.8"/>
<circle cx="617.9" cy="864.5" r="2.8"/>
<circle cx="636.3" cy="860.4" r="2.8"/>
<circle cx="627.7" cy="850" r="2.8"/>
<circle cx="637.9" cy="840.2" r="2.8"/>
<circle cx="647.9" cy="864.3" r="2.8"/>
<circle cx="625.1" cy="879.2" r="2.8"/>
<circle cx="638" cy="872.8" r="2.8"/>
<circle cx="634.7" cy="845.8" r="2.8"/>
<circle cx="623.1" cy="839.2" r="2.8"/>
<circle cx="622.8" cy="849.2" r="2.8"/>
<circle cx="627" cy="877.6" r="2.8"/>
<circle cx="636.5" cy="837.3" r="2.8"/>
<circle cx="626.8" cy="844.5" r="2.8"/>
<circle cx="633" cy="884.4" r="2.8"/>
<circle cx="639.6" cy="855.3" r="2.8"/>
<circle cx="629.7" cy="885" r="2.8"/>
<circle cx="631.7" cy="856.8" r="2.8"/>
<circle cx="641.2" cy="834.1" r="2.8"/>
<circle cx="652.1" cy="863.7" r="2.8"/>
<circle cx="642.3" cy="877.1" r="2.8"/>
<circle cx="630.5" cy="860.1" r="2.8"/>
<circle cx="648.4" cy="862.6" r="2.8"/>
<circle cx="623" cy="845.3" r="2.8"/>
<circle cx="617.2" cy="845.1" r="2.8"/>
<circle cx="638.3" cy="830.8" r="2.8"/>
<circle cx="633" cy="857" r="2.8"/>
<circle cx="630" cy="859.8" r="2.8"/>
<circle cx="626.9" cy="841.7" r="2.8"/>
<circle cx="641.5" cy="869.8" r="2.8"/>
<circle cx="626.5" cy="848.6" r="2.8"/>
<circle cx="632.7" cy="813.7" r="2.8"/>
<circle cx="645.7" cy="843.2" r="2.8"/>
<circle cx="616.6" cy="848.8" r="2.8"/>
<circle cx="635.9" cy="818.8" r="2.8"/>
<circle cx="625.6" cy="849.4" r="2.8"/>
<circle cx="621" cy="836.5" r="2.8"/>
<circle cx="633.5" cy="883.1" r="2.8"/>
<circle cx="612.9" cy="852" r="2.8"/>
<circle cx="618.8" cy="855.2" r="2.8"/>
<circle cx="632.3" cy="898.9" r="2.8"/>
<circle cx="635.6" cy="841.1" r="2.8"/>
<circle cx="621.9" cy="869.2" r="2.8"/>
<circle cx="635.9" cy="847.4" r="2.8"/>
<circle cx="642.8" cy="864.8" r="2.8"/>
<circle cx="638.5" cy="861.8" r="2.8"/>
<circle cx="619.8" cy="856.4" r="2.8"/>
<circle cx="630.3" cy="823.7" r="2.8"/>
<circle cx="620.6" cy="843.4" r="2.8"/>
<circle cx="637.2" cy="836.2" r="2.8"/>
<circle cx="629.4" cy="867.9" r="2.8"/>
<circle cx="637.8" cy="853.2" r="2.8"/>
<circle cx="622.7" cy="867" r="2.8"/>
<circle cx="644.3" cy="861.5" r="2.8"/>
<circle cx="621.5" cy="861" r="2.8"/>
<circle cx="619.7" cy="853.1" r="2.8"/>
<circle cx="616.8" cy="856.3" r="2.8"/>
<circle cx="646.8" cy="854.4" r="2.8"/>
<circle cx="632.6" cy="910" r="2.8"/>
<circle cx="636.5" cy="868.5" r="2.8"/>
<circle cx="636.8" cy="847.6" r="2.8"/>
<circle cx="632.5" cy="860.2" r="2.8"/>
<circle cx="615.5" cy="849.1" r="2.8"/>
<circle cx="633.2" cy="907.2" r="2.8"/>
<circle cx="630.4" cy="927.3" r="2.8"/>
<circle cx="632.3" cy="872.4" r="2.8"/>
<circle cx="635.4" cy="839.6" r="2.8"/>
<circle cx="621.4" cy="875" r="2.8"/>
<circle cx="621.2" cy="876.9" r="2.8"/>
<circle cx="635.4" cy="835.2" r="2.8"/>
<circle cx="637.5" cy="844.9" r="2.8"/>
<circle cx="632.1" cy="869.7" r="2.8"/>
<circle cx="623.1" cy="878.4" r="2.8"/>
<circle cx="635.2" cy="870.4" r="2.8"/>
<circle cx="631.8" cy="892.1" r="2.8"/>
<circle cx="621.9" cy="840.9" r="2.8"/>
<circle cx="641.2" cy="862.4" r="2.8"/>
<circle cx="613.4" cy="848.7" r="2.8"/>
<circle cx="646.4" cy="869.6" r="2.8"/>
<circle cx="631" cy="810.9" r="2.8"/>
<circle cx="649.3" cy="846.5" r="2.8"/>
<circle cx="645.6" cy="859.2" r="2.8"/>
<circle cx="637.4" cy="883.5" r="2.8"/>
<circle cx="627.1" cy="833.6" r="2.8"/>
<circle cx="638.2" cy="880.8" r="2.8"/>
<circle cx="629.6" cy="850.3" r="2.8"/>
<circle cx="640.2" cy="828.4" r="2.8"/>
<circle cx="632.2" cy="808.3" r="2.8"/>
<circle cx="627.2" cy="861.7" r="2.8"/>
<circle cx="624.4" cy="831.9" r="2.8"/>
<circle cx="649.2" cy="863.4" r="2.8"/>
<circle cx="642.4" cy="837.1" r="2.8"/>
<circle cx="630.6" cy="854.1" r="2.8"/>
<circle cx="638.2" cy="839" r="2.8"/>
<circle cx="619.6" cy="873.6" r="2.8"/>
<circle cx="641.9" cy="866.2" r="2.8"/>
<circle cx="631.1" cy="829.9" r="2.8"/>
<circle cx="629.5" cy="838.2" r="2.8"/>
<circle cx="628.6" cy="823.4" r="2.8"/>
<circle cx="620" cy="871" r="2.8"/>
<circle cx="618.5" cy="846.9" r="2.8"/>
<circle cx="642.1" cy="835.4" r="2.8"/>
<circle cx="617.2" cy="870.8" r="2.8"/>
<circle cx="619.9" cy="864.7" r="2.8"/>
<circle cx="636.3" cy="834.5" r="2.8"/>
<circle cx="625.9" cy="857.2" r="2.8"/>
<circle cx="637.1" cy="862.5" r="2.8"/>
<circle cx="633.9" cy="830.4" r="2.8"/>
<circle cx="649.6" cy="852.5" r="2.8"/>
<circle cx="628.6" cy="843.7" r="2.8"/>
<circle cx="626.7" cy="852.7" r="2.8"/>
<circle cx="636.3" cy="883.6" r="2.8"/>
<circle cx="629" cy="889.4" r="2.8"/>
<circle cx="646.1" cy="873.3" r="2.8"/>
<circle cx="627.7" cy="822.5" r="2.8"/>
<circle cx="621.9" cy="857.3" r="2.8"/>
<circle cx="628.4" cy="865.7" r="2.8"/>
<circle cx="649.5" cy="867.2" r="2.8"/>
<circle cx="635.8" cy="884.1" r="2.8"/>
<circle cx="639.6" cy="878" r="2.8"/>
<circle cx="625.6" cy="841.4" r="2.8"/>
<circle cx="631.4" cy="887.8" r="2.8"/>
<circle cx="653.6" cy="859.4" r="2.8"/>
<circle cx="622.4" cy="874.5" r="2.8"/>
<circle cx="622.7" cy="854.6" r="2.8"/>
<circle cx="620.7" cy="857.8" r="2.8"/>
<circle cx="639.6" cy="840.6" r="2.8"/>
<circle cx="631.8" cy="879.5" r="2.8"/>
<circle cx="632.8" cy="844.9" r="2.8"/>
<circle cx="643.7" cy="871.8" r="2.8"/>
<circle cx="625.3" cy="835.9" r="2.8"/>
<circle cx="613.3" cy="860" r="2.8"/>
<circle cx="650.1" cy="862.3" r="2.8"/>
<circle cx="618" cy="858.9" r="2.8"/>
<circle cx="631.4" cy="882.7" r="2.8"/>
<circle cx="613.9" cy="866.6" r="2.8"/>
<circle cx="641.9" cy="851.8" r="2.8"/>
<circle cx="652.7" cy="856.1" r="2.8"/>
<circle cx="631.4" cy="896.2" r="2.8"/>
<circle cx="622.3" cy="878.7" r="2.8"/>
<circle cx="633.3" cy="826.8" r="2.8"/>
<circle cx="636" cy="824" r="2.8"/>
<circle cx="632" cy="910" r="2.8"/>
<circle cx="637.4" cy="827.2" r="2.8"/>
<circle cx="636.5" cy="825.1" r="2.8"/>
<circle cx="624.4" cy="863.8" r="2.8"/>
<circle cx="620.2" cy="839.6" r="2.8"/>
<circle cx="651.6" cy="854" r="2.8"/>
<circle cx="632" cy="828.7" r="2.8"/>
<circle cx="635.3" cy="824.4" r="2.8"/>
<circle cx="627.3" cy="830.6" r="2.8"/>
<circle cx="635.7" cy="891.3" r="2.8"/>
<circle cx="631.4" cy="906.4" r="2.8"/>
<circle cx="644.6" cy="869.2" r="2.8"/>
<circle cx="626.4" cy="869.9" r="2.8"/>
<circle cx="632.7" cy="832.2" r="2.8"/>
<circle cx="623.9" cy="857.7" r="2.8"/>
<circle cx="643.4" cy="839.7" r="2.8"/>
<circle cx="630.5" cy="817.6" r="2.8"/>
<circle cx="635.5" cy="828" r="2.8"/>
<circle cx="632.6" cy="855.1" r="2.8"/>
<circle cx="616.3" cy="846.2" r="2.8"/>
<circle cx="633.8" cy="891" r="2.8"/>
<circle cx="643.8" cy="858.5" r="2.8"/>
<circle cx="623.3" cy="874.5" r="2.8"/>
<circle cx="637.5" cy="885.8" r="2.8"/>
<circle cx="651.2" cy="862.2" r="2.8"/>
<circle cx="640.4" cy="861.9" r="2.8"/>
<circle cx="643.2" cy="875.7" r="2.8"/>
<circle cx="634.4" cy="812.4" r="2.8"/>
<circle cx="637.8" cy="857.3" r="2.8"/>
<circle cx="633.4" cy="901.5" r="2.8"/>
<circle cx="647.7" cy="858.7" r="2.8"/>
<circle cx="644.2" cy="837.9" r="2.8"/>
<circle cx="624.7" cy="865.5" r="2.8"/>
<circle cx="636.8" cy="843.9" r="2.8"/>
<circle cx="643.9" cy="852.8" r="2.8"/>
<circle cx="631.2" cy="865.3" r="2.8"/>
<circle cx="638.8" cy="859" r="2.8"/>
<circle cx="619.4" cy="863.3" r="2.8"/>
<circle cx="611.9" cy="857.9" r="2.8"/>
<circle cx="626.4" cy="881.9" r="2.8"/>
<circle cx="626.5" cy="828.2" r="2.8"/>
<circle cx="633.1" cy="799.3" r="2.8"/>
<circle cx="630.4" cy="866.4" r="2.8"/>
<circle cx="638.3" cy="867.7" r="2.8"/>
<circle cx="626.5" cy="872.8" r="2.8"/>
<circle cx="619.7" cy="850.9" r="2.8"/>
<circle cx="637.1" cy="821.7" r="2.8"/>
<circle cx="631.7" cy="810.2" r="2.8"/>
<circle cx="634.1" cy="896.7" r="2.8"/>
<circle cx="610.8" cy="859.3" r="2.8"/>
<circle cx="630.3" cy="836.3" r="2.8"/>
<circle cx="646.3" cy="846.1" r="2.8"/>
<circle cx="620.7" cy="855.9" r="2.8"/>
<circle cx="637.8" cy="851.2" r="2.8"/>
<circle cx="623.2" cy="870" r="2.8"/>
<circle cx="631.5" cy="789.3" r="2.8"/>
<circle cx="646.9" cy="849.9" r="2.8"/>
<circle cx="625.6" cy="865.4" r="2.8"/>
<circle cx="634.8" cy="843" r="2.8"/>
<circle cx="632.1" cy="827.8" r="2.8"/>
<circle cx="629.3" cy="820.1" r="2.8"/>
<circle cx="626.2" cy="877.4" r="2.8"/>
<circle cx="626.1" cy="837.2" r="2.8"/>
<circle cx="626.3" cy="863" r="2.8"/>
<circle cx="633.9" cy="814.7" r="2.8"/>
<circle cx="648.6" cy="853" r="2.8"/>
<circle cx="630" cy="846.7" r="2.8"/>
<circle cx="629.6" cy="841.1" r="2.8"/>
<circle cx="615.4" cy="848" r="2.8"/>
<circle cx="629.7" cy="818" r="2.8"/>
<circle cx="631.7" cy="836" r="2.8"/>
<circle cx="634.6" cy="831.5" r="2.8"/>
<circle cx="619.7" cy="843.8" r="2.8"/>
<circle cx="614" cy="853.9" r="2.8"/>
<circle cx="629" cy="826.2" r="2.8"/>
<circle cx="630.4" cy="872.2" r="2.8"/>
<circle cx="629" cy="829.5" r="2.8"/>
<circle cx="644.7" cy="867.6" r="2.8"/>
<circle cx="632.9" cy="848.1" r="2.8"/>
<circle cx="624.2" cy="834.6" r="2.8"/>
<circle cx="622" cy="837.5" r="2.8"/>
<circle cx="624.5" cy="874.3" r="2.8"/>
<circle cx="615" cy="852.2" r="2.8"/>
<circle cx="638.8" cy="853.6" r="2.8"/>
<circle cx="628.2" cy="873.1" r="2.8"/>
<circle cx="634.2" cy="868.1" r="2.8"/>
<circle cx="618.3" cy="860.9" r="2.8"/>
<circle cx="627.3" cy="824.6" r="2.8"/>
<circle cx="626.2" cy="835.5" r="2.8"/>
<circle cx="633.2" cy="875.2" r="2.8"/>
<circle cx="620.1" cy="845.2" r="2.8"/>
<circle cx="648.7" cy="859.9" r="2.8"/>
<circle cx="619" cy="842.9" r="2.8"/>
<circle cx="652.6" cy="853.6" r="2.8"/>
<circle cx="644.9" cy="841.6" r="2.8"/>
<circle cx="640.5" cy="838.4" r="2.8"/>
<circle cx="639.5" cy="838.8" r="2.8"/>
<circle cx="634.8" cy="888.2" r="2.8"/>
<circle cx="626.9" cy="858.5" r="2.8"/>
<circle cx="627.4" cy="880.7" r="2.8"/>
<circle cx="635.9" cy="855.8" r="2.8"/>
<circle cx="622.4" cy="834.3" r="2.8"/>
<circle cx="632.4" cy="881.5" r="2.8"/>
<circle cx="618.2" cy="868.9" r="2.8"/>
<circle cx="629" cy="885.3" r="2.8"/>
<circle cx="636.4" cy="876.6" r="2.8"/>
<circle cx="628.4" cy="863.3" r="2.8"/>
<circle cx="649.8" cy="857.5" r="2.8"/>
<circle cx="639.7" cy="856.9" r="2.8"/>
<circle cx="623" cy="842.3" r="2.8"/>
<circle cx="643.2" cy="877.3" r="2.8"/>
<circle cx="646.3" cy="861.5" r="2.8"/>
<circle cx="629" cy="817.2" r="2.8"/>
<circle cx="632.1" cy="886.3" r="2.8"/>
<circle cx="633.9" cy="853.8" r="2.8"/>
<circle cx="620.4" cy="851.1" r="2.8"/>
<circle cx="638.7" cy="844.3" r="2.8"/>
<circle cx="630.7" cy="887.7" r="2.8"/>
<circle cx="627.3" cy="874.8" r="2.8"/>
<circle cx="641.7" cy="844.6" r="2.8"/>
<circle cx="635.5" cy="878.5" r="2.8"/>
<circle cx="636.3" cy="867.1" r="2.8"/>
<circle cx="614.5" cy="860.3" r="2.8"/>
<circle cx="642.6" cy="856.1" r="2.8"/>
<circle cx="630.7" cy="889.9" r="2.8"/>
<circle cx="631.8" cy="850.4" r="2.8"/>
<circle cx="631.8" cy="812.8" r="2.8"/>
<circle cx="620.9" cy="866.7" r="2.8"/>
<circle cx="629" cy="855.7" r="2.8"/>
<circle cx="633.6" cy="834.8" r="2.8"/>
<circle cx="630.8" cy="840.3" r="2.8"/>
<circle cx="637.2" cy="831.2" r="2.8"/>
<circle cx="629.8" cy="830.2" r="2.8"/>
<circle cx="640.4" cy="835.7" r="2.8"/>
<circle cx="641.3" cy="876.7" r="2.8"/>
<circle cx="642" cy="856.7" r="2.8"/>
<circle cx="632.6" cy="821" r="2.8"/>
<circle cx="637" cy="852.7" r="2.8"/>
<circle cx="629.2" cy="861" r="2.8"/>
<circle cx="630.4" cy="883" r="2.8"/>
<circle cx="631.2" cy="826.5" r="2.8"/>
<circle cx="642.7" cy="871.4" r="2.8"/>
<circle cx="646.6" cy="858.8" r="2.8"/>
<circle cx="621.8" cy="854.7" r="2.8"/>
<circle cx="649.2" cy="849.3" r="2.8"/>
<circle cx="642.7" cy="845.7" r="2.8"/>
<circle cx="625" cy="846.8" r="2.8"/>
<circle cx="640.2" cy="867.6" r="2.8"/>
<circle cx="626" cy="853.5" r="2.8"/>
<circle cx="634.3" cy="880.3" r="2.8"/>
<circle cx="640.9" cy="857.4" r="2.8"/>
<circle cx="632.4" cy="801.9" r="2.8"/>
<circle cx="644.9" cy="856" r="2.8"/>
<circle cx="614.8" cy="866.1" r="2.8"/>
<circle cx="632.3" cy="793.8" r="2.8"/>
<circle cx="637.4" cy="875.6" r="2.8"/>
<circle cx="620.6" cy="872.6" r="2.8"/>
<circle cx="625" cy="855" r="2.8"/>
<circle cx="631.2" cy="836.6" r="2.8"/>
<circle cx="618.5" cy="874.1" r="2.8"/>
<circle cx="613" cy="857.6" r="2.8"/>
<circle cx="630.7" cy="876.2" r="2.8"/>
<circle cx="612.2" cy="861.2" r="2.8"/>
<circle cx="637.3" cy="871.3" r="2.8"/>
<circle cx="630.5" cy="868.7" r="2.8"/>
<circle cx="641.2" cy="865.8" r="2.8"/>
<circle cx="634.2" cy="886" r="2.8"/>
<circle cx="624.4" cy="881.7" r="2.8"/>
<circle cx="639.5" cy="832.6" r="2.8"/>
<circle cx="622.1" cy="846.3" r="2.8"/>
<circle cx="626.6" cy="865.9" r="2.8"/>
<circle cx="630" cy="888.6" r="2.8"/>
<circle cx="634" cy="864.1" r="2.8"/>
<circle cx="645.2" cy="851" r="2.8"/>
<circle cx="624.4" cy="839.9" r="2.8"/>
<circle cx="632.5" cy="838.9" r="2.8"/>
<circle cx="626.9" cy="885.3" r="2.8"/>
<circle cx="628.4" cy="868.4" r="2.8"/>
<circle cx="645.4" cy="870.8" r="2.8"/>
<circle cx="629" cy="876" r="2.8"/>
<circle cx="621" cy="869.3" r="2.8"/>
<circle cx="623.9" cy="847" r="2.8"/>
<circle cx="636" cy="859.1" r="2.8"/>
<circle cx="627.8" cy="845.6" r="2.8"/>
<circle cx="640.1" cy="881.3" r="2.8"/>
<circle cx="633.8" cy="844.3" r="2.8"/>
<circle cx="628.5" cy="881.1" r="2.8"/>
<circle cx="647.3" cy="862.7" r="2.8"/>
<circle cx="643.3" cy="847.7" r="2.8"/>
<circle cx="631.5" cy="861.2" r="2.8"/>
<circle cx="627.1" cy="837.7" r="2.8"/>
<circle cx="643.2" cy="850.8" r="2.8"/>
<circle cx="629.2" cy="875.3" r="2.8"/>
<circle cx="638.7" cy="876.5" r="2.8"/>
<circle cx="623.9" cy="871.1" r="2.8"/>
<circle cx="629.8" cy="815.5" r="2.8"/>
<circle cx="631.7" cy="847.1" r="2.8"/>
<circle cx="642.6" cy="853.8" r="2.8"/>
<circle cx="631.4" cy="818.5" r="2.8"/>
<circle cx="633.5" cy="866.9" r="2.8"/>
<circle cx="641.4" cy="837.9" r="2.8"/>
<circle cx="648.8" cy="867.3" r="2.8"/>
<circle cx="644.6" cy="846.5" r="2.8"/>
<circle cx="631.9" cy="842.4" r="2.8"/>
<circle cx="633.2" cy="838.4" r="2.8"/>
<circle cx="628.7" cy="859.8" r="2.8"/>
<circle cx="641.1" cy="848.4" r="2.8"/>
<circle cx="628" cy="843.5" r="2.8"/>
<circle cx="615" cy="859.4" r="2.8"/>
<circle cx="633.1" cy="791.2" r="2.8"/>
<circle cx="625.3" cy="875.1" r="2.8"/>
<circle cx="633.6" cy="822.8" r="2.8"/>
<circle cx="648.7" cy="869.1" r="2.8"/>
<circle cx="639.3" cy="870.3" r="2.8"/>
<circle cx="637.4" cy="832.3" r="2.8"/>
<circle cx="635.4" cy="880" r="2.8"/>
<circle cx="634" cy="859.6" r="2.8"/>
<circle cx="632.1" cy="806.7" r="2.8"/>
<circle cx="630.9" cy="823" r="2.8"/>
<circle cx="630.9" cy="833" r="2.8"/>
<circle cx="640.3" cy="874" r="2.8"/>
<circle cx="634.4" cy="892.8" r="2.8"/>
<circle cx="614.5" cy="849.3" r="2.8"/>
<circle cx="633" cy="811.4" r="2.8"/>
<circle cx="627.4" cy="866.5" r="2.8"/>
<circle cx="625.4" cy="868.2" r="2.8"/>
<circle cx="641.9" cy="854.8" r="2.8"/>
<circle cx="633.2" cy="870.5" r="2.8"/>
<circle cx="617" cy="868" r="2.8"/>
<circle cx="639.2" cy="831.8" r="2.8"/>
<circle cx="627.8" cy="858.4" r="2.8"/>
<circle cx="642.6" cy="843.2" r="2.8"/>
<circle cx="623.6" cy="850" r="2.8"/>
<circle cx="633.6" cy="809" r="2.8"/>
<circle cx="631" cy="814.1" r="2.8"/>
<circle cx="624.6" cy="850.6" r="2.8"/>
<circle cx="621.6" cy="848.9" r="2.8"/>
<circle cx="628.7" cy="927.3" r="2.8"/>
<circle cx="617.4" cy="860.5" r="2.8"/>
<circle cx="639.2" cy="882.5" r="2.8"/>
<circle cx="630.8" cy="897.3" r="2.8"/>
<circle cx="645.6" cy="854.3" r="2.8"/>
<circle cx="618.7" cy="859.6" r="2.8"/>
<circle cx="634.8" cy="852.3" r="2.8"/>
<circle cx="633" cy="890.4" r="2.8"/>
<circle cx="646.8" cy="865.9" r="2.8"/>
<circle cx="647.3" cy="845.9" r="2.8"/>
<circle cx="650.8" cy="865" r="2.8"/>
<circle cx="631" cy="845.5" r="2.8"/>
<circle cx="612" cy="853.3" r="2.8"/>
<circle cx="642.1" cy="872.1" r="2.8"/>
<circle cx="632.8" cy="894.8" r="2.8"/>
<circle cx="635" cy="864.6" r="2.8"/>
<circle cx="628.1" cy="825.6" r="2.8"/>
<circle cx="623.5" cy="833.4" r="2.8"/>
<circle cx="634" cy="841.8" r="2.8"/>
<circle cx="632" cy="888.9" r="2.8"/>
<circle cx="630.1" cy="833.2" r="2.8"/>
<circle cx="635.3" cy="861.3" r="2.8"/>
<circle cx="631.4" cy="797" r="2.8"/>
<circle cx="627.1" cy="868.8" r="2.8"/>
<circle cx="630.9" cy="858.3" r="2.8"/>
<circle cx="634.5" cy="879.3" r="2.8"/>
<circle cx="633.4" cy="894.2" r="2.8"/>
<circle cx="625" cy="856.5" r="2.8"/>
<circle cx="637.3" cy="866.8" r="2.8"/>
<circle cx="628.2" cy="833.8" r="2.8"/>
<circle cx="636.1" cy="872.6" r="2.8"/>
<circle cx="628" cy="829.2" r="2.8"/>
<circle cx="635.3" cy="820.6" r="2.8"/>
<circle cx="629.7" cy="877.8" r="2.8"/>
<circle cx="639.6" cy="847.3" r="2.8"/>
<circle cx="634.1" cy="816.4" r="2.8"/>
<circle cx="626.1" cy="825.7" r="2.8"/>
<circle cx="643.8" cy="867.4" r="2.8"/>
<circle cx="640.6" cy="878.2" r="2.8"/>
<circle cx="629.2" cy="880.6" r="2.8"/>
<circle cx="638.3" cy="827.5" r="2.8"/>
<circle cx="647.7" cy="868.5" r="2.8"/>
<circle cx="629" cy="832.8" r="2.8"/>
<circle cx="619.2" cy="871.4" r="2.8"/>
<circle cx="632.2" cy="901.1" r="2.8"/>
<circle cx="645.1" cy="862.9" r="2.8"/>
<circle cx="628.1" cy="839.4" r="2.8"/>
<circle cx="633" cy="898.5" r="2.8"/>
<circle cx="631.1" cy="870.6" r="2.8"/>
<circle cx="622.5" cy="860.8" r="2.8"/>
<circle cx="638.8" cy="842.6" r="2.8"/>
</g>
<g class="eb"><line x1="607.5" y1="857.9" x2="657.0999999999999" y2="857.9"/><line x1="632.3" y1="835.4" x2="632.3" y2="880.5"/><line x1="620.5" y1="835.4" x2="644.0999999999999" y2="835.4"/><line x1="620.5" y1="880.5" x2="644.0999999999999" y2="880.5"/></g>
<text transform="translate(51.9,854.9) rotate(-90)" text-anchor="middle" class="tts">Proportion of early afternoon</text>
<text transform="translate(67.3,854.9) rotate(-90)" text-anchor="middle" class="tts">naps (standardized)</text>
<text transform="translate(463.5,858.2) rotate(-90)" text-anchor="middle" class="tts2">Proportion of early afternoon</text>
<text transform="translate(477.7,858.2) rotate(-90)" text-anchor="middle" class="tts2">naps (standardized)</text>
<text x="-0.5" y="758.2" class="lt">g</text>
<text x="409" y="758.2" class="lt">h</text>
<rect x="98.8" y="1044.0" width="237.8" height="179.0" fill="none" stroke="#828282" stroke-width="1.3"/>
<line x1="93.2" y1="1223.0" x2="98.8" y2="1223.0" stroke="#828282" stroke-width="1.3"/>
<text x="90.2" y="1227.4" text-anchor="end" class="tk">-2</text>
<line x1="93.2" y1="1193.2" x2="98.8" y2="1193.2" stroke="#828282" stroke-width="1.3"/>
<text x="90.2" y="1197.6" text-anchor="end" class="tk">-1</text>
<line x1="93.2" y1="1163.3" x2="98.8" y2="1163.3" stroke="#828282" stroke-width="1.3"/>
<text x="90.2" y="1167.7" text-anchor="end" class="tk">0</text>
<line x1="93.2" y1="1133.5" x2="98.8" y2="1133.5" stroke="#828282" stroke-width="1.3"/>
<text x="90.2" y="1137.9" text-anchor="end" class="tk">1</text>
<line x1="93.2" y1="1103.7" x2="98.8" y2="1103.7" stroke="#828282" stroke-width="1.3"/>
<text x="90.2" y="1108.1" text-anchor="end" class="tk">2</text>
<line x1="93.2" y1="1073.8" x2="98.8" y2="1073.8" stroke="#828282" stroke-width="1.3"/>
<text x="90.2" y="1078.2" text-anchor="end" class="tk">3</text>
<line x1="93.2" y1="1044.0" x2="98.8" y2="1044.0" stroke="#828282" stroke-width="1.3"/>
<text x="90.2" y="1048.4" text-anchor="end" class="tk">4</text>
<line x1="98.8" y1="1223.0" x2="98.8" y2="1228.6" stroke="#828282" stroke-width="1.3"/>
<text x="97.8" y="1241.9" text-anchor="middle" class="tk">50</text>
<line x1="146.4" y1="1223.0" x2="146.4" y2="1228.6" stroke="#828282" stroke-width="1.3"/>
<text x="145.4" y="1241.9" text-anchor="middle" class="tk">60</text>
<line x1="193.9" y1="1223.0" x2="193.9" y2="1228.6" stroke="#828282" stroke-width="1.3"/>
<text x="192.9" y="1241.9" text-anchor="middle" class="tk">70</text>
<line x1="241.5" y1="1223.0" x2="241.5" y2="1228.6" stroke="#828282" stroke-width="1.3"/>
<text x="240.5" y="1241.9" text-anchor="middle" class="tk">80</text>
<line x1="289.0" y1="1223.0" x2="289.0" y2="1228.6" stroke="#828282" stroke-width="1.3"/>
<text x="288.0" y="1241.9" text-anchor="middle" class="tk">90</text>
<line x1="336.6" y1="1223.0" x2="336.6" y2="1228.6" stroke="#828282" stroke-width="1.3"/>
<text x="332.7" y="1241.9" text-anchor="middle" class="tk">100</text>
<text x="217" y="1261.7" text-anchor="middle" class="ax">Age</text>
<polygon points="116.6,1149.9 125.8,1150.7 134.9,1151.6 144.1,1152.4 153.3,1153.2 162.4,1154.0 171.6,1154.8 180.8,1155.6 189.9,1156.3 199.1,1157.0 208.3,1157.7 217.4,1158.4 226.6,1159.0 235.8,1159.5 244.9,1160.0 254.1,1160.4 263.3,1160.8 272.4,1161.0 281.6,1161.3 290.8,1161.4 299.9,1161.6 309.1,1161.7 318.3,1161.7 327.4,1161.8 336.6,1161.8 336.6,1173.0 327.4,1172.2 318.3,1171.5 309.1,1170.7 299.9,1170.0 290.8,1169.3 281.6,1168.7 272.4,1168.1 263.3,1167.6 254.1,1167.1 244.9,1166.7 235.8,1166.4 226.6,1166.1 217.4,1165.9 208.3,1165.8 199.1,1165.7 189.9,1165.6 180.8,1165.5 171.6,1165.5 162.4,1165.4 153.3,1165.4 144.1,1165.4 134.9,1165.5 125.8,1165.5 116.6,1165.5" fill="url(#hatch)" stroke="none"/>
<polyline points="116.6,1149.9 125.8,1150.7 134.9,1151.6 144.1,1152.4 153.3,1153.2 162.4,1154.0 171.6,1154.8 180.8,1155.6 189.9,1156.3 199.1,1157.0 208.3,1157.7 217.4,1158.4 226.6,1159.0 235.8,1159.5 244.9,1160.0 254.1,1160.4 263.3,1160.8 272.4,1161.0 281.6,1161.3 290.8,1161.4 299.9,1161.6 309.1,1161.7 318.3,1161.7 327.4,1161.8 336.6,1161.8" class="be"/>
<polyline points="116.6,1165.5 125.8,1165.5 134.9,1165.5 144.1,1165.4 153.3,1165.4 162.4,1165.4 171.6,1165.5 180.8,1165.5 189.9,1165.6 199.1,1165.7 208.3,1165.8 217.4,1165.9 226.6,1166.1 235.8,1166.4 244.9,1166.7 254.1,1167.1 263.3,1167.6 272.4,1168.1 281.6,1168.7 290.8,1169.3 299.9,1170.0 309.1,1170.7 318.3,1171.5 327.4,1172.2 336.6,1173.0" class="be"/>
<line x1="116.6" y1="1157.7" x2="336.6" y2="1167.4" class="rl"/>
<g class="k">
<circle cx="278" cy="1092.4" r="2.65"/>
<circle cx="276" cy="1174.8" r="2.65"/>
<circle cx="278.1" cy="1170.8" r="2.65"/>
<circle cx="200.1" cy="1176.7" r="2.65"/>
<circle cx="261.3" cy="1206" r="2.65"/>
<circle cx="245.3" cy="1205.2" r="2.65"/>
<circle cx="274.8" cy="1173.5" r="2.65"/>
<circle cx="281.6" cy="1183.7" r="2.65"/>
<circle cx="259.4" cy="1197.9" r="2.65"/>
<circle cx="212.2" cy="1147" r="2.65"/>
<circle cx="248" cy="1193.1" r="2.65"/>
<circle cx="217.4" cy="1114" r="2.65"/>
<circle cx="275.6" cy="1128.5" r="2.65"/>
<circle cx="160.6" cy="1144" r="2.65"/>
<circle cx="251.4" cy="1202.4" r="2.65"/>
<circle cx="244.3" cy="1173.9" r="2.65"/>
<circle cx="239" cy="1129" r="2.65"/>
<circle cx="269.6" cy="1158.5" r="2.65"/>
<circle cx="297.4" cy="1089.4" r="2.65"/>
<circle cx="270.5" cy="1173.4" r="2.65"/>
<circle cx="316" cy="1173" r="2.65"/>
<circle cx="264.6" cy="1168.5" r="2.65"/>
<circle cx="198" cy="1153.4" r="2.65"/>
<circle cx="224" cy="1146" r="2.65"/>
<circle cx="219.4" cy="1079.6" r="2.65"/>
<circle cx="208.1" cy="1144.2" r="2.65"/>
<circle cx="309" cy="1164" r="2.65"/>
<circle cx="203.2" cy="1192.4" r="2.65"/>
<circle cx="280" cy="1184.6" r="2.65"/>
<circle cx="174" cy="1190" r="2.65"/>
<circle cx="183.4" cy="1152.6" r="2.65"/>
<circle cx="245.9" cy="1178.3" r="2.65"/>
<circle cx="267.7" cy="1198.1" r="2.65"/>
<circle cx="267.1" cy="1199.6" r="2.65"/>
<circle cx="238.4" cy="1139.5" r="2.65"/>
<circle cx="246.9" cy="1193.4" r="2.65"/>
<circle cx="237.3" cy="1200.4" r="2.65"/>
<circle cx="219" cy="1143" r="2.65"/>
<circle cx="173" cy="1179.4" r="2.65"/>
<circle cx="281.4" cy="1178.1" r="2.65"/>
<circle cx="236.5" cy="1199.1" r="2.65"/>
<circle cx="276.5" cy="1174.1" r="2.65"/>
<circle cx="234" cy="1101" r="2.65"/>
<circle cx="244.8" cy="1196.4" r="2.65"/>
<circle cx="245.5" cy="1167.9" r="2.65"/>
<circle cx="288.3" cy="1184.6" r="2.65"/>
<circle cx="246.5" cy="1205" r="2.65"/>
<circle cx="234.7" cy="1132.3" r="2.65"/>
<circle cx="287.5" cy="1153" r="2.65"/>
<circle cx="307" cy="1181" r="2.65"/>
<circle cx="261.4" cy="1176.6" r="2.65"/>
<circle cx="253" cy="1208" r="2.65"/>
<circle cx="229.6" cy="1203.1" r="2.65"/>
<circle cx="227" cy="1102" r="2.65"/>
<circle cx="263" cy="1155.2" r="2.65"/>
<circle cx="279.6" cy="1178.6" r="2.65"/>
<circle cx="291.1" cy="1155" r="2.65"/>
<circle cx="242.8" cy="1145.3" r="2.65"/>
<circle cx="265" cy="1107" r="2.65"/>
<circle cx="190" cy="1193" r="2.65"/>
<circle cx="278.4" cy="1148.6" r="2.65"/>
<circle cx="187.6" cy="1069.4" r="2.65"/>
<circle cx="205.6" cy="1187.2" r="2.65"/>
<circle cx="308" cy="1206.6" r="2.65"/>
<circle cx="287.8" cy="1164.4" r="2.65"/>
<circle cx="233.5" cy="1134.4" r="2.65"/>
<circle cx="285.7" cy="1192.5" r="2.65"/>
<circle cx="271.2" cy="1206.7" r="2.65"/>
<circle cx="273.9" cy="1172.7" r="2.65"/>
<circle cx="283" cy="1106" r="2.65"/>
<circle cx="256.8" cy="1175.5" r="2.65"/>
<circle cx="145.4" cy="1119.6" r="2.65"/>
<circle cx="227.1" cy="1165.9" r="2.65"/>
<circle cx="300.1" cy="1155.6" r="2.65"/>
<circle cx="278" cy="1131" r="2.65"/>
<circle cx="251.9" cy="1171.5" r="2.65"/>
<circle cx="253.7" cy="1189.8" r="2.65"/>
<circle cx="217.3" cy="1183.6" r="2.65"/>
<circle cx="267.8" cy="1181.5" r="2.65"/>
<circle cx="275.6" cy="1153.9" r="2.65"/>
<circle cx="227.5" cy="1141" r="2.65"/>
<circle cx="170" cy="1086" r="2.65"/>
<circle cx="251" cy="1131" r="2.65"/>
<circle cx="262.3" cy="1174" r="2.65"/>
<circle cx="223.7" cy="1164.2" r="2.65"/>
<circle cx="164.6" cy="1180" r="2.65"/>
<circle cx="231.4" cy="1170.5" r="2.65"/>
<circle cx="272.9" cy="1165" r="2.65"/>
<circle cx="238" cy="1123" r="2.65"/>
<circle cx="270" cy="1099" r="2.65"/>
<circle cx="295.4" cy="1179.6" r="2.65"/>
<circle cx="179" cy="1141.4" r="2.65"/>
<circle cx="172.4" cy="1152.4" r="2.65"/>
<circle cx="221.1" cy="1141.4" r="2.65"/>
<circle cx="210" cy="1122.6" r="2.65"/>
<circle cx="229.2" cy="1135.6" r="2.65"/>
<circle cx="251.9" cy="1176.1" r="2.65"/>
<circle cx="241.5" cy="1169.5" r="2.65"/>
<circle cx="207" cy="1150" r="2.65"/>
<circle cx="266.3" cy="1171.2" r="2.65"/>
<circle cx="156.6" cy="1169.6" r="2.65"/>
<circle cx="214" cy="1108" r="2.65"/>
<circle cx="257.1" cy="1206.3" r="2.65"/>
<circle cx="200.4" cy="1111.4" r="2.65"/>
<circle cx="268.7" cy="1135.6" r="2.65"/>
<circle cx="266.8" cy="1166.3" r="2.65"/>
<circle cx="269.8" cy="1197.9" r="2.65"/>
<circle cx="238.6" cy="1203.2" r="2.65"/>
<circle cx="252" cy="1085" r="2.65"/>
<circle cx="269.8" cy="1138.5" r="2.65"/>
<circle cx="204" cy="1097" r="2.65"/>
<circle cx="289.3" cy="1176.2" r="2.65"/>
<circle cx="289.7" cy="1165.4" r="2.65"/>
<circle cx="223" cy="1207.4" r="2.65"/>
<circle cx="236" cy="1131" r="2.65"/>
<circle cx="249" cy="1107" r="2.65"/>
<circle cx="202.1" cy="1187.3" r="2.65"/>
<circle cx="262.3" cy="1204.3" r="2.65"/>
<circle cx="161.6" cy="1188" r="2.65"/>
<circle cx="207.2" cy="1152" r="2.65"/>
<circle cx="276.4" cy="1183.7" r="2.65"/>
<circle cx="249.1" cy="1163.8" r="2.65"/>
<circle cx="263.2" cy="1199.9" r="2.65"/>
<circle cx="248.6" cy="1147.1" r="2.65"/>
<circle cx="242" cy="1194.7" r="2.65"/>
<circle cx="285.4" cy="1148" r="2.65"/>
<circle cx="242.1" cy="1192.2" r="2.65"/>
<circle cx="283.6" cy="1163.7" r="2.65"/>
<circle cx="278.5" cy="1163.2" r="2.65"/>
<circle cx="186" cy="1135" r="2.65"/>
<circle cx="276" cy="1175.4" r="2.65"/>
<circle cx="223.2" cy="1172.6" r="2.65"/>
<circle cx="250.7" cy="1135.1" r="2.65"/>
<circle cx="280.6" cy="1107.4" r="2.65"/>
<circle cx="243.3" cy="1192.8" r="2.65"/>
<circle cx="249.9" cy="1184.3" r="2.65"/>
<circle cx="187" cy="1197" r="2.65"/>
<circle cx="241.2" cy="1190.5" r="2.65"/>
<circle cx="231.6" cy="1099" r="2.65"/>
<circle cx="276.5" cy="1180.4" r="2.65"/>
<circle cx="261.5" cy="1184.4" r="2.65"/>
<circle cx="286.5" cy="1190.3" r="2.65"/>
<circle cx="139.6" cy="1168.6" r="2.65"/>
<circle cx="249.5" cy="1174.9" r="2.65"/>
<circle cx="244" cy="1114" r="2.65"/>
<circle cx="254.7" cy="1145.3" r="2.65"/>
<circle cx="270.3" cy="1183.9" r="2.65"/>
<circle cx="242.5" cy="1189" r="2.65"/>
<circle cx="266.2" cy="1160.1" r="2.65"/>
<circle cx="255.2" cy="1149.3" r="2.65"/>
<circle cx="219.3" cy="1193.7" r="2.65"/>
<circle cx="274.7" cy="1179.1" r="2.65"/>
<circle cx="271.8" cy="1159" r="2.65"/>
<circle cx="223" cy="1172.4" r="2.65"/>
<circle cx="221" cy="1139" r="2.65"/>
<circle cx="213.6" cy="1203.7" r="2.65"/>
<circle cx="240" cy="1074.6" r="2.65"/>
<circle cx="243.4" cy="1138.3" r="2.65"/>
<circle cx="255.8" cy="1140.2" r="2.65"/>
<circle cx="288.9" cy="1194.3" r="2.65"/>
<circle cx="234" cy="1129" r="2.65"/>
<circle cx="330" cy="1175" r="2.65"/>
<circle cx="279.1" cy="1178.5" r="2.65"/>
<circle cx="253.9" cy="1170" r="2.65"/>
<circle cx="276.9" cy="1201" r="2.65"/>
<circle cx="236" cy="1178.2" r="2.65"/>
<circle cx="258.1" cy="1198.6" r="2.65"/>
<circle cx="281.1" cy="1177.2" r="2.65"/>
<circle cx="238.7" cy="1171.8" r="2.65"/>
<circle cx="285.9" cy="1172.2" r="2.65"/>
<circle cx="267.7" cy="1174.7" r="2.65"/>
<circle cx="286" cy="1193.2" r="2.65"/>
<circle cx="252" cy="1143.3" r="2.65"/>
<circle cx="288.2" cy="1135.6" r="2.65"/>
<circle cx="237.6" cy="1147.4" r="2.65"/>
<circle cx="251.2" cy="1178.4" r="2.65"/>
<circle cx="248.1" cy="1166.5" r="2.65"/>
<circle cx="287.4" cy="1138.9" r="2.65"/>
<circle cx="214.4" cy="1181.9" r="2.65"/>
<circle cx="158" cy="1189" r="2.65"/>
<circle cx="287.7" cy="1156.8" r="2.65"/>
<circle cx="194" cy="1168" r="2.65"/>
<circle cx="283.4" cy="1145.2" r="2.65"/>
<circle cx="242.1" cy="1155.5" r="2.65"/>
<circle cx="162" cy="1116.6" r="2.65"/>
<circle cx="197" cy="1207" r="2.65"/>
<circle cx="183.4" cy="1109.4" r="2.65"/>
<circle cx="246.1" cy="1152.7" r="2.65"/>
<circle cx="236" cy="1100" r="2.65"/>
<circle cx="285" cy="1177.6" r="2.65"/>
<circle cx="270.2" cy="1135.3" r="2.65"/>
<circle cx="210.3" cy="1162.8" r="2.65"/>
<circle cx="295" cy="1101.4" r="2.65"/>
<circle cx="237.9" cy="1152.5" r="2.65"/>
<circle cx="214.1" cy="1166.4" r="2.65"/>
<circle cx="253" cy="1125" r="2.65"/>
<circle cx="220.1" cy="1173.1" r="2.65"/>
<circle cx="282.2" cy="1176.4" r="2.65"/>
<circle cx="214" cy="1146" r="2.65"/>
<circle cx="271" cy="1126" r="2.65"/>
<circle cx="243" cy="1082.6" r="2.65"/>
<circle cx="245.8" cy="1156.3" r="2.65"/>
<circle cx="250.3" cy="1160.7" r="2.65"/>
<circle cx="222" cy="1167.6" r="2.65"/>
<circle cx="254" cy="1108" r="2.65"/>
<circle cx="184.4" cy="1180" r="2.65"/>
<circle cx="316" cy="1192.6" r="2.65"/>
<circle cx="207.7" cy="1160.9" r="2.65"/>
<circle cx="296.8" cy="1166.6" r="2.65"/>
<circle cx="216" cy="1143.9" r="2.65"/>
<circle cx="249.2" cy="1193.2" r="2.65"/>
<circle cx="257.8" cy="1180" r="2.65"/>
<circle cx="285.7" cy="1182.3" r="2.65"/>
<circle cx="252.2" cy="1130.1" r="2.65"/>
<circle cx="256" cy="1091" r="2.65"/>
<circle cx="232.9" cy="1150.5" r="2.65"/>
<circle cx="262.5" cy="1164" r="2.65"/>
<circle cx="220.5" cy="1155.5" r="2.65"/>
<circle cx="181" cy="1159" r="2.65"/>
<circle cx="218" cy="1202" r="2.65"/>
<circle cx="282.6" cy="1206.1" r="2.65"/>
<circle cx="268.8" cy="1163.3" r="2.65"/>
<circle cx="209" cy="1163.8" r="2.65"/>
<circle cx="186" cy="1133" r="2.65"/>
<circle cx="182" cy="1162" r="2.65"/>
<circle cx="267" cy="1117" r="2.65"/>
<circle cx="255.6" cy="1198" r="2.65"/>
<circle cx="252.8" cy="1163.5" r="2.65"/>
<circle cx="286.8" cy="1198.7" r="2.65"/>
<circle cx="287.1" cy="1150.5" r="2.65"/>
<circle cx="201" cy="1154.6" r="2.65"/>
<circle cx="176.4" cy="1137.4" r="2.65"/>
<circle cx="209.7" cy="1161.8" r="2.65"/>
<circle cx="264.4" cy="1156.1" r="2.65"/>
<circle cx="247.5" cy="1172.4" r="2.65"/>
<circle cx="267.4" cy="1137.6" r="2.65"/>
<circle cx="291.4" cy="1196.5" r="2.65"/>
<circle cx="215" cy="1153" r="2.65"/>
<circle cx="290.3" cy="1175.7" r="2.65"/>
<circle cx="223.6" cy="1095.4" r="2.65"/>
<circle cx="226.1" cy="1172.4" r="2.65"/>
<circle cx="249.3" cy="1163.5" r="2.65"/>
<circle cx="238.7" cy="1184.7" r="2.65"/>
<circle cx="285.3" cy="1149.5" r="2.65"/>
<circle cx="222" cy="1116" r="2.65"/>
<circle cx="268.5" cy="1139.2" r="2.65"/>
<circle cx="204.9" cy="1186.1" r="2.65"/>
<circle cx="244.2" cy="1204.8" r="2.65"/>
<circle cx="280.6" cy="1139.1" r="2.65"/>
<circle cx="231.3" cy="1167.1" r="2.65"/>
<circle cx="202.4" cy="1122" r="2.65"/>
<circle cx="220.7" cy="1186.5" r="2.65"/>
<circle cx="233.9" cy="1148.4" r="2.65"/>
<circle cx="275.9" cy="1170.3" r="2.65"/>
<circle cx="226" cy="1137" r="2.65"/>
<circle cx="237.4" cy="1162.3" r="2.65"/>
<circle cx="247.1" cy="1174.6" r="2.65"/>
<circle cx="323" cy="1178" r="2.65"/>
<circle cx="263" cy="1092.6" r="2.65"/>
<circle cx="245.7" cy="1152.6" r="2.65"/>
<circle cx="259.7" cy="1141" r="2.65"/>
<circle cx="252.2" cy="1184.5" r="2.65"/>
<circle cx="281.6" cy="1121" r="2.65"/>
<circle cx="283.1" cy="1204.5" r="2.65"/>
<circle cx="226.9" cy="1203" r="2.65"/>
<circle cx="286" cy="1102" r="2.65"/>
<circle cx="275.3" cy="1151.9" r="2.65"/>
<circle cx="331" cy="1200" r="2.65"/>
<circle cx="219" cy="1139.1" r="2.65"/>
<circle cx="272.2" cy="1187.2" r="2.65"/>
<circle cx="230" cy="1143" r="2.65"/>
<circle cx="263.1" cy="1146" r="2.65"/>
<circle cx="214" cy="1215.4" r="2.65"/>
<circle cx="287.7" cy="1174.7" r="2.65"/>
<circle cx="264.9" cy="1209.2" r="2.65"/>
<circle cx="249.8" cy="1144.5" r="2.65"/>
<circle cx="249.9" cy="1204.5" r="2.65"/>
<circle cx="247.6" cy="1162.3" r="2.65"/>
<circle cx="232" cy="1202.1" r="2.65"/>
<circle cx="251.9" cy="1163.9" r="2.65"/>
<circle cx="247" cy="1114" r="2.65"/>
<circle cx="262.2" cy="1201.7" r="2.65"/>
<circle cx="261" cy="1162.8" r="2.65"/>
<circle cx="271.8" cy="1172.7" r="2.65"/>
<circle cx="241" cy="1111" r="2.65"/>
<circle cx="274.2" cy="1204.2" r="2.65"/>
<circle cx="278.8" cy="1170.1" r="2.65"/>
<circle cx="231.7" cy="1175.2" r="2.65"/>
<circle cx="212.5" cy="1151.8" r="2.65"/>
<circle cx="257.5" cy="1180.3" r="2.65"/>
<circle cx="217.7" cy="1196.3" r="2.65"/>
<circle cx="204.2" cy="1150.6" r="2.65"/>
<circle cx="272" cy="1104" r="2.65"/>
<circle cx="211.9" cy="1147.3" r="2.65"/>
<circle cx="242.3" cy="1189.4" r="2.65"/>
<circle cx="272.6" cy="1201.3" r="2.65"/>
<circle cx="310" cy="1178" r="2.65"/>
<circle cx="274.8" cy="1148.1" r="2.65"/>
<circle cx="248" cy="1130.9" r="2.65"/>
<circle cx="292" cy="1132" r="2.65"/>
<circle cx="283" cy="1173.9" r="2.65"/>
<circle cx="233.6" cy="1192.3" r="2.65"/>
<circle cx="233.5" cy="1207.2" r="2.65"/>
<circle cx="263.6" cy="1069.6" r="2.65"/>
<circle cx="268.4" cy="1167.7" r="2.65"/>
<circle cx="264.6" cy="1205.5" r="2.65"/>
<circle cx="293.4" cy="1122" r="2.65"/>
<circle cx="209" cy="1143.2" r="2.65"/>
<circle cx="286.4" cy="1164.7" r="2.65"/>
<circle cx="252" cy="1153.8" r="2.65"/>
<circle cx="287" cy="1113" r="2.65"/>
<circle cx="209.2" cy="1201.4" r="2.65"/>
<circle cx="221.3" cy="1161" r="2.65"/>
<circle cx="240" cy="1170.7" r="2.65"/>
<circle cx="260.1" cy="1160.4" r="2.65"/>
<circle cx="164.4" cy="1170" r="2.65"/>
<circle cx="216.6" cy="1117" r="2.65"/>
<circle cx="231.2" cy="1200.6" r="2.65"/>
<circle cx="268.3" cy="1182" r="2.65"/>
<circle cx="265" cy="1160.7" r="2.65"/>
<circle cx="155.4" cy="1193" r="2.65"/>
<circle cx="245.3" cy="1210.5" r="2.65"/>
<circle cx="221.9" cy="1198.3" r="2.65"/>
<circle cx="281.4" cy="1187.8" r="2.65"/>
<circle cx="270.4" cy="1208.8" r="2.65"/>
<circle cx="272" cy="1093" r="2.65"/>
<circle cx="231.6" cy="1197.4" r="2.65"/>
<circle cx="261.6" cy="1087" r="2.65"/>
<circle cx="242.6" cy="1166.6" r="2.65"/>
<circle cx="219" cy="1131" r="2.65"/>
<circle cx="280" cy="1191.6" r="2.65"/>
<circle cx="282" cy="1100.6" r="2.65"/>
<circle cx="248.8" cy="1156.4" r="2.65"/>
<circle cx="225.1" cy="1170.7" r="2.65"/>
<circle cx="186" cy="1163" r="2.65"/>
<circle cx="198" cy="1193" r="2.65"/>
<circle cx="254.9" cy="1159.9" r="2.65"/>
<circle cx="252.7" cy="1202.6" r="2.65"/>
<circle cx="241.4" cy="1149.6" r="2.65"/>
<circle cx="255" cy="1128" r="2.65"/>
<circle cx="257.6" cy="1178.6" r="2.65"/>
<circle cx="198" cy="1114" r="2.65"/>
<circle cx="270.6" cy="1174.6" r="2.65"/>
<circle cx="193" cy="1159" r="2.65"/>
<circle cx="232" cy="1125" r="2.65"/>
<circle cx="274.2" cy="1185.1" r="2.65"/>
<circle cx="271.4" cy="1175.8" r="2.65"/>
<circle cx="270.7" cy="1147.9" r="2.65"/>
<circle cx="306.6" cy="1157" r="2.65"/>
<circle cx="288.9" cy="1167.7" r="2.65"/>
<circle cx="240.9" cy="1149.4" r="2.65"/>
<circle cx="253.8" cy="1200.4" r="2.65"/>
<circle cx="257.5" cy="1127.2" r="2.65"/>
<circle cx="264.6" cy="1206.8" r="2.65"/>
<circle cx="164" cy="1166" r="2.65"/>
<circle cx="254.8" cy="1153.5" r="2.65"/>
<circle cx="202" cy="1128.6" r="2.65"/>
<circle cx="245.8" cy="1205.2" r="2.65"/>
<circle cx="201" cy="1188" r="2.65"/>
<circle cx="218" cy="1136" r="2.65"/>
<circle cx="254.6" cy="1064" r="2.65"/>
<circle cx="218" cy="1155" r="2.65"/>
<circle cx="216.8" cy="1182.2" r="2.65"/>
<circle cx="207.8" cy="1181.1" r="2.65"/>
<circle cx="235.7" cy="1194.5" r="2.65"/>
<circle cx="252.7" cy="1208" r="2.65"/>
<circle cx="264.8" cy="1163.8" r="2.65"/>
<circle cx="243.3" cy="1141.4" r="2.65"/>
<circle cx="174" cy="1137" r="2.65"/>
<circle cx="283.5" cy="1171.9" r="2.65"/>
<circle cx="273.8" cy="1186.7" r="2.65"/>
<circle cx="283.8" cy="1177" r="2.65"/>
<circle cx="261.2" cy="1204.8" r="2.65"/>
<circle cx="151" cy="1141" r="2.65"/>
<circle cx="212" cy="1144" r="2.65"/>
<circle cx="270.4" cy="1200.1" r="2.65"/>
<circle cx="223.5" cy="1183.3" r="2.65"/>
<circle cx="251.2" cy="1152.9" r="2.65"/>
<circle cx="287.3" cy="1178.3" r="2.65"/>
<circle cx="277.3" cy="1203.4" r="2.65"/>
<circle cx="217.8" cy="1196.9" r="2.65"/>
<circle cx="278.5" cy="1197" r="2.65"/>
<circle cx="259.4" cy="1183.6" r="2.65"/>
<circle cx="228" cy="1129" r="2.65"/>
<circle cx="275" cy="1128" r="2.65"/>
<circle cx="286.5" cy="1196.1" r="2.65"/>
<circle cx="189" cy="1177" r="2.65"/>
<circle cx="206.4" cy="1160.9" r="2.65"/>
<circle cx="255.9" cy="1175.1" r="2.65"/>
<circle cx="233.2" cy="1179.8" r="2.65"/>
<circle cx="254.1" cy="1174" r="2.65"/>
<circle cx="216.8" cy="1169" r="2.65"/>
<circle cx="244.1" cy="1152.6" r="2.65"/>
<circle cx="197.6" cy="1134" r="2.65"/>
<circle cx="281" cy="1215.4" r="2.65"/>
<circle cx="228.5" cy="1153.1" r="2.65"/>
<circle cx="259.3" cy="1182.3" r="2.65"/>
<circle cx="186" cy="1191" r="2.65"/>
<circle cx="228" cy="1104" r="2.65"/>
<circle cx="196" cy="1182" r="2.65"/>
<circle cx="251.7" cy="1156.8" r="2.65"/>
<circle cx="264.5" cy="1183.6" r="2.65"/>
<circle cx="224" cy="1118" r="2.65"/>
<circle cx="266.1" cy="1199.5" r="2.65"/>
<circle cx="231.2" cy="1156.1" r="2.65"/>
<circle cx="209" cy="1148" r="2.65"/>
<circle cx="277" cy="1210" r="2.65"/>
<circle cx="198.8" cy="1171.8" r="2.65"/>
<circle cx="263.5" cy="1160.5" r="2.65"/>
<circle cx="309" cy="1187" r="2.65"/>
<circle cx="212" cy="1105" r="2.65"/>
<circle cx="229.2" cy="1187.7" r="2.65"/>
<circle cx="276.6" cy="1141.8" r="2.65"/>
<circle cx="180" cy="1187" r="2.65"/>
<circle cx="218.5" cy="1172.7" r="2.65"/>
<circle cx="277" cy="1101" r="2.65"/>
<circle cx="271.9" cy="1141.2" r="2.65"/>
<circle cx="288.9" cy="1159.2" r="2.65"/>
<circle cx="175" cy="1147.4" r="2.65"/>
<circle cx="232" cy="1119" r="2.65"/>
<circle cx="289.7" cy="1175.2" r="2.65"/>
<circle cx="213" cy="1129" r="2.65"/>
<circle cx="257" cy="1102" r="2.65"/>
<circle cx="217" cy="1124" r="2.65"/>
<circle cx="211.8" cy="1159.1" r="2.65"/>
<circle cx="261.3" cy="1197.3" r="2.65"/>
<circle cx="199.8" cy="1159.8" r="2.65"/>
<circle cx="250.4" cy="1167.1" r="2.65"/>
<circle cx="184" cy="1167" r="2.65"/>
<circle cx="206" cy="1187" r="2.65"/>
<circle cx="260.6" cy="1161.1" r="2.65"/>
<circle cx="203.5" cy="1167.1" r="2.65"/>
<circle cx="233.1" cy="1165.4" r="2.65"/>
<circle cx="281" cy="1198.6" r="2.65"/>
<circle cx="236" cy="1118" r="2.65"/>
<circle cx="267.9" cy="1151.7" r="2.65"/>
<circle cx="144.6" cy="1170.4" r="2.65"/>
<circle cx="282.2" cy="1192.5" r="2.65"/>
<circle cx="207.6" cy="1085" r="2.65"/>
<circle cx="292" cy="1203" r="2.65"/>
<circle cx="230.5" cy="1149.4" r="2.65"/>
<circle cx="276.6" cy="1171.6" r="2.65"/>
<circle cx="206" cy="1197" r="2.65"/>
<circle cx="241.6" cy="1135.7" r="2.65"/>
<circle cx="254.9" cy="1134.5" r="2.65"/>
<circle cx="267.7" cy="1127.4" r="2.65"/>
<circle cx="248.6" cy="1140.9" r="2.65"/>
<circle cx="259.4" cy="1158.9" r="2.65"/>
<circle cx="269.6" cy="1172" r="2.65"/>
<circle cx="291.4" cy="1112" r="2.65"/>
<circle cx="245.5" cy="1172.8" r="2.65"/>
<circle cx="217.7" cy="1182.6" r="2.65"/>
<circle cx="233.3" cy="1188.4" r="2.65"/>
<circle cx="274.2" cy="1172.5" r="2.65"/>
<circle cx="255.4" cy="1134" r="2.65"/>
<circle cx="255.5" cy="1200.8" r="2.65"/>
<circle cx="249.1" cy="1128.4" r="2.65"/>
<circle cx="236.9" cy="1195.3" r="2.65"/>
<circle cx="312" cy="1168.6" r="2.65"/>
<circle cx="303.4" cy="1109.4" r="2.65"/>
<circle cx="171.4" cy="1124" r="2.65"/>
<circle cx="252.2" cy="1207.5" r="2.65"/>
<circle cx="243.1" cy="1162.7" r="2.65"/>
<circle cx="273" cy="1199" r="2.65"/>
<circle cx="173.6" cy="1169.4" r="2.65"/>
<circle cx="232.2" cy="1201.1" r="2.65"/>
<circle cx="212" cy="1204" r="2.65"/>
<circle cx="266.3" cy="1205.6" r="2.65"/>
<circle cx="265.8" cy="1126.7" r="2.65"/>
<circle cx="264.6" cy="1178.8" r="2.65"/>
<circle cx="295" cy="1199" r="2.65"/>
<circle cx="246.7" cy="1156.1" r="2.65"/>
<circle cx="230.5" cy="1173.2" r="2.65"/>
<circle cx="275.7" cy="1188.9" r="2.65"/>
<circle cx="288" cy="1193.1" r="2.65"/>
<circle cx="231" cy="1106.6" r="2.65"/>
<circle cx="251.2" cy="1161.5" r="2.65"/>
<circle cx="216.2" cy="1180.5" r="2.65"/>
<circle cx="228.3" cy="1161.5" r="2.65"/>
<circle cx="256.6" cy="1188.3" r="2.65"/>
<circle cx="213.6" cy="1164.4" r="2.65"/>
<circle cx="265.9" cy="1205.4" r="2.65"/>
<circle cx="233.4" cy="1156.2" r="2.65"/>
<circle cx="271" cy="1175.4" r="2.65"/>
<circle cx="234" cy="1115" r="2.65"/>
<circle cx="301" cy="1181" r="2.65"/>
<circle cx="239.3" cy="1172.5" r="2.65"/>
<circle cx="252.8" cy="1155" r="2.65"/>
<circle cx="268.4" cy="1154.6" r="2.65"/>
<circle cx="192" cy="1183" r="2.65"/>
<circle cx="218.6" cy="1099" r="2.65"/>
<circle cx="250.3" cy="1192" r="2.65"/>
<circle cx="281.3" cy="1174" r="2.65"/>
<circle cx="212.2" cy="1153.6" r="2.65"/>
<circle cx="248.6" cy="1087.4" r="2.65"/>
<circle cx="276" cy="1098" r="2.65"/>
<circle cx="214" cy="1121" r="2.65"/>
<circle cx="184" cy="1186" r="2.65"/>
<circle cx="224.6" cy="1155.2" r="2.65"/>
<circle cx="299.2" cy="1176.5" r="2.65"/>
<circle cx="258.2" cy="1175.1" r="2.65"/>
<circle cx="284.8" cy="1191.6" r="2.65"/>
<circle cx="258.1" cy="1191" r="2.65"/>
<circle cx="177" cy="1192" r="2.65"/>
<circle cx="263.5" cy="1166.4" r="2.65"/>
<circle cx="210.3" cy="1203.3" r="2.65"/>
<circle cx="261" cy="1131" r="2.65"/>
<circle cx="268.4" cy="1141.7" r="2.65"/>
<circle cx="261" cy="1105" r="2.65"/>
<circle cx="246.4" cy="1206.3" r="2.65"/>
<circle cx="249.2" cy="1168.5" r="2.65"/>
<circle cx="243.9" cy="1199.6" r="2.65"/>
<circle cx="211.8" cy="1197.1" r="2.65"/>
<circle cx="239" cy="1108" r="2.65"/>
<circle cx="268.9" cy="1129.9" r="2.65"/>
<circle cx="201.5" cy="1156.7" r="2.65"/>
<circle cx="255.3" cy="1145.7" r="2.65"/>
<circle cx="245.9" cy="1209" r="2.65"/>
<circle cx="304" cy="1184" r="2.65"/>
<circle cx="245.9" cy="1152.8" r="2.65"/>
<circle cx="248.1" cy="1149.6" r="2.65"/>
<circle cx="228" cy="1202" r="2.65"/>
<circle cx="216.3" cy="1160.2" r="2.65"/>
<circle cx="220" cy="1121" r="2.65"/>
<circle cx="258.3" cy="1186.3" r="2.65"/>
<circle cx="284.2" cy="1167.5" r="2.65"/>
<circle cx="239.2" cy="1196.1" r="2.65"/>
<circle cx="222.6" cy="1185.8" r="2.65"/>
<circle cx="266" cy="1113" r="2.65"/>
<circle cx="278.1" cy="1162.2" r="2.65"/>
<circle cx="205.7" cy="1176.2" r="2.65"/>
<circle cx="257.2" cy="1195.7" r="2.65"/>
<circle cx="240.6" cy="1179.3" r="2.65"/>
<circle cx="206" cy="1194.9" r="2.65"/>
<circle cx="268" cy="1093.4" r="2.65"/>
<circle cx="278.3" cy="1201.3" r="2.65"/>
<circle cx="250.6" cy="1199.4" r="2.65"/>
<circle cx="217" cy="1087" r="2.65"/>
<circle cx="238.1" cy="1181.2" r="2.65"/>
<circle cx="247.8" cy="1173.4" r="2.65"/>
<circle cx="270.3" cy="1129.3" r="2.65"/>
<circle cx="193" cy="1197" r="2.65"/>
<circle cx="239.4" cy="1138.4" r="2.65"/>
<circle cx="280.3" cy="1185.5" r="2.65"/>
<circle cx="318" cy="1176" r="2.65"/>
<circle cx="245" cy="1129" r="2.65"/>
<circle cx="241.2" cy="1179.6" r="2.65"/>
<circle cx="279" cy="1189.2" r="2.65"/>
<circle cx="317" cy="1188" r="2.65"/>
<circle cx="267" cy="1208.6" r="2.65"/>
<circle cx="229.9" cy="1208.4" r="2.65"/>
<circle cx="219.7" cy="1205.9" r="2.65"/>
<circle cx="261.5" cy="1154.7" r="2.65"/>
<circle cx="247.9" cy="1179.9" r="2.65"/>
<circle cx="288.5" cy="1194.8" r="2.65"/>
<circle cx="157.6" cy="1125.6" r="2.65"/>
<circle cx="262" cy="1162.9" r="2.65"/>
<circle cx="197" cy="1202" r="2.65"/>
<circle cx="285.3" cy="1200.9" r="2.65"/>
<circle cx="223.7" cy="1173.1" r="2.65"/>
<circle cx="254.6" cy="1165.7" r="2.65"/>
<circle cx="211.5" cy="1149" r="2.65"/>
<circle cx="206" cy="1126" r="2.65"/>
<circle cx="234" cy="1151.3" r="2.65"/>
<circle cx="287" cy="1159" r="2.65"/>
<circle cx="243.8" cy="1184.7" r="2.65"/>
<circle cx="222.3" cy="1185.7" r="2.65"/>
<circle cx="234.7" cy="1153.6" r="2.65"/>
<circle cx="273.4" cy="1151.4" r="2.65"/>
<circle cx="255.9" cy="1209" r="2.65"/>
<circle cx="278" cy="1152.5" r="2.65"/>
<circle cx="301" cy="1153" r="2.65"/>
<circle cx="257.4" cy="1194.4" r="2.65"/>
<circle cx="285.2" cy="1159.5" r="2.65"/>
<circle cx="295.4" cy="1191.6" r="2.65"/>
<circle cx="260.9" cy="1197.7" r="2.65"/>
<circle cx="299.4" cy="1110" r="2.65"/>
<circle cx="329" cy="1178" r="2.65"/>
<circle cx="248.5" cy="1168.6" r="2.65"/>
<circle cx="305" cy="1150" r="2.65"/>
<circle cx="223.2" cy="1151.8" r="2.65"/>
<circle cx="250" cy="1116" r="2.65"/>
<circle cx="240.5" cy="1203.6" r="2.65"/>
<circle cx="249" cy="1122" r="2.65"/>
<circle cx="315" cy="1149.4" r="2.65"/>
<circle cx="127.6" cy="1155.4" r="2.65"/>
<circle cx="242.2" cy="1199.2" r="2.65"/>
<circle cx="209.9" cy="1193.1" r="2.65"/>
<circle cx="182" cy="1178" r="2.65"/>
<circle cx="210.4" cy="1186.5" r="2.65"/>
<circle cx="258" cy="1112" r="2.65"/>
<circle cx="272" cy="1210.2" r="2.65"/>
<circle cx="259.8" cy="1149.9" r="2.65"/>
<circle cx="279.2" cy="1166.9" r="2.65"/>
<circle cx="303.4" cy="1095.4" r="2.65"/>
<circle cx="279.3" cy="1192.4" r="2.65"/>
<circle cx="166.6" cy="1095.4" r="2.65"/>
<circle cx="253" cy="1102.6" r="2.65"/>
<circle cx="264.8" cy="1189.6" r="2.65"/>
<circle cx="265" cy="1075" r="2.65"/>
<circle cx="273.4" cy="1155.4" r="2.65"/>
<circle cx="289" cy="1208.6" r="2.65"/>
<circle cx="271" cy="1112" r="2.65"/>
<circle cx="263" cy="1171.8" r="2.65"/>
<circle cx="210" cy="1199" r="2.65"/>
<circle cx="261.3" cy="1148.1" r="2.65"/>
<circle cx="274.2" cy="1157.2" r="2.65"/>
<circle cx="239.4" cy="1163.1" r="2.65"/>
<circle cx="229.8" cy="1167.5" r="2.65"/>
<circle cx="327" cy="1169.4" r="2.65"/>
<circle cx="245" cy="1131" r="2.65"/>
<circle cx="273.7" cy="1178.8" r="2.65"/>
<circle cx="202" cy="1164" r="2.65"/>
<circle cx="289.5" cy="1134.4" r="2.65"/>
<circle cx="207.8" cy="1150.3" r="2.65"/>
<circle cx="230" cy="1096" r="2.65"/>
<circle cx="284.6" cy="1180.2" r="2.65"/>
<circle cx="190" cy="1136.6" r="2.65"/>
<circle cx="329" cy="1152" r="2.65"/>
<circle cx="242.6" cy="1202.5" r="2.65"/>
<circle cx="239.7" cy="1193.9" r="2.65"/>
<circle cx="281.7" cy="1166.4" r="2.65"/>
<circle cx="228.1" cy="1149.2" r="2.65"/>
<circle cx="238.5" cy="1164.9" r="2.65"/>
<circle cx="240.8" cy="1178.5" r="2.65"/>
<circle cx="248.8" cy="1173" r="2.65"/>
<circle cx="299.4" cy="1098.6" r="2.65"/>
<circle cx="265" cy="1130" r="2.65"/>
<circle cx="266.5" cy="1209.1" r="2.65"/>
<circle cx="329" cy="1142.6" r="2.65"/>
<circle cx="231.6" cy="1205.5" r="2.65"/>
<circle cx="262.1" cy="1205.3" r="2.65"/>
<circle cx="245.7" cy="1193.3" r="2.65"/>
<circle cx="205.4" cy="1182.8" r="2.65"/>
<circle cx="236.5" cy="1171.4" r="2.65"/>
<circle cx="154.6" cy="1093.4" r="2.65"/>
<circle cx="248.6" cy="1206.4" r="2.65"/>
<circle cx="273" cy="1120" r="2.65"/>
<circle cx="238.9" cy="1149.8" r="2.65"/>
<circle cx="274.2" cy="1177.8" r="2.65"/>
<circle cx="255.6" cy="1142.1" r="2.65"/>
<circle cx="253.8" cy="1184.7" r="2.65"/>
<circle cx="235" cy="1104" r="2.65"/>
<circle cx="205.8" cy="1189.1" r="2.65"/>
<circle cx="250" cy="1103" r="2.65"/>
<circle cx="177.4" cy="1123.4" r="2.65"/>
<circle cx="226.6" cy="1153.8" r="2.65"/>
<circle cx="243" cy="1200.2" r="2.65"/>
<circle cx="283.4" cy="1186.7" r="2.65"/>
<circle cx="224.4" cy="1126" r="2.65"/>
<circle cx="209.4" cy="1080.6" r="2.65"/>
<circle cx="240.3" cy="1168.8" r="2.65"/>
<circle cx="192" cy="1152" r="2.65"/>
<circle cx="239.8" cy="1163.1" r="2.65"/>
<circle cx="276" cy="1133.5" r="2.65"/>
<circle cx="301" cy="1198" r="2.65"/>
<circle cx="155.4" cy="1123.4" r="2.65"/>
<circle cx="216" cy="1105.4" r="2.65"/>
<circle cx="252.8" cy="1169.5" r="2.65"/>
<circle cx="245" cy="1123" r="2.65"/>
<circle cx="286" cy="1213" r="2.65"/>
<circle cx="275.9" cy="1176.7" r="2.65"/>
<circle cx="198" cy="1165" r="2.65"/>
<circle cx="247.6" cy="1173.1" r="2.65"/>
<circle cx="319" cy="1145.4" r="2.65"/>
<circle cx="229" cy="1113" r="2.65"/>
<circle cx="223.1" cy="1173.1" r="2.65"/>
<circle cx="272.4" cy="1150.6" r="2.65"/>
<circle cx="264.1" cy="1184.3" r="2.65"/>
<circle cx="261.4" cy="1176" r="2.65"/>
<circle cx="202.4" cy="1093" r="2.65"/>
<circle cx="207" cy="1136.6" r="2.65"/>
<circle cx="227.3" cy="1203.3" r="2.65"/>
<circle cx="200" cy="1134.6" r="2.65"/>
<circle cx="169.6" cy="1171" r="2.65"/>
<circle cx="244.3" cy="1149.7" r="2.65"/>
<circle cx="200" cy="1132" r="2.65"/>
<circle cx="244" cy="1136.2" r="2.65"/>
<circle cx="275" cy="1199" r="2.65"/>
<circle cx="277.9" cy="1149.4" r="2.65"/>
<circle cx="273.6" cy="1175.9" r="2.65"/>
<circle cx="278.2" cy="1176.3" r="2.65"/>
<circle cx="218.8" cy="1190.7" r="2.65"/>
<circle cx="260.7" cy="1177.7" r="2.65"/>
<circle cx="268.9" cy="1168.4" r="2.65"/>
<circle cx="243.2" cy="1134.9" r="2.65"/>
<circle cx="287.4" cy="1183.4" r="2.65"/>
<circle cx="155" cy="1185.4" r="2.65"/>
<circle cx="256" cy="1116.6" r="2.65"/>
<circle cx="279.2" cy="1151.8" r="2.65"/>
<circle cx="179" cy="1179" r="2.65"/>
<circle cx="250.8" cy="1178" r="2.65"/>
<circle cx="212.1" cy="1193.9" r="2.65"/>
<circle cx="173" cy="1147" r="2.65"/>
<circle cx="251.3" cy="1205" r="2.65"/>
<circle cx="232.4" cy="1184.7" r="2.65"/>
<circle cx="269.7" cy="1177.6" r="2.65"/>
<circle cx="242.1" cy="1208.6" r="2.65"/>
<circle cx="232.1" cy="1199.6" r="2.65"/>
<circle cx="288" cy="1127.4" r="2.65"/>
</g>
<rect x="507.4" y="1044.3" width="175.0" height="178.2" fill="none" stroke="#444" stroke-width="1.2"/>
<line x1="500.4" y1="1222.5" x2="507.4" y2="1222.5" stroke="#5a5a5a" stroke-width="1.2"/>
<text x="498.7" y="1226.9" text-anchor="end" class="tk2">-2</text>
<line x1="500.4" y1="1163.1" x2="507.4" y2="1163.1" stroke="#5a5a5a" stroke-width="1.2"/>
<text x="498.7" y="1167.5" text-anchor="end" class="tk2">0</text>
<line x1="500.4" y1="1103.7" x2="507.4" y2="1103.7" stroke="#5a5a5a" stroke-width="1.2"/>
<text x="498.7" y="1108.1" text-anchor="end" class="tk2">2</text>
<line x1="500.4" y1="1044.3" x2="507.4" y2="1044.3" stroke="#5a5a5a" stroke-width="1.2"/>
<text x="498.7" y="1048.7" text-anchor="end" class="tk2">4</text>
<text x="557.1" y="1245.7" text-anchor="middle" class="ax">Male</text>
<text x="632.3" y="1245.7" text-anchor="middle" class="ax">Female</text>
<g class="m">
<circle cx="553.9" cy="1113.6" r="2.8"/>
<circle cx="565.2" cy="1179.6" r="2.8"/>
<circle cx="557.5" cy="1117.1" r="2.8"/>
<circle cx="575.6" cy="1174.2" r="2.8"/>
<circle cx="555.1" cy="1175.4" r="2.8"/>
<circle cx="545.6" cy="1189.6" r="2.8"/>
<circle cx="551.5" cy="1174.8" r="2.8"/>
<circle cx="557.1" cy="1098.1" r="2.8"/>
<circle cx="557.1" cy="1095.9" r="2.8"/>
<circle cx="555.9" cy="1127.8" r="2.8"/>
<circle cx="556.2" cy="1120.8" r="2.8"/>
<circle cx="550.7" cy="1145.8" r="2.8"/>
<circle cx="559.1" cy="1137.5" r="2.8"/>
<circle cx="557.1" cy="1082.3" r="2.8"/>
<circle cx="553.6" cy="1104.7" r="2.8"/>
<circle cx="558" cy="1207.7" r="2.8"/>
<circle cx="546.4" cy="1196.4" r="2.8"/>
<circle cx="548.5" cy="1200.1" r="2.8"/>
<circle cx="551.8" cy="1164.8" r="2.8"/>
<circle cx="557.1" cy="1087" r="2.8"/>
<circle cx="552.4" cy="1190.1" r="2.8"/>
<circle cx="541.3" cy="1178.1" r="2.8"/>
<circle cx="548.7" cy="1153.5" r="2.8"/>
<circle cx="552.7" cy="1176.3" r="2.8"/>
<circle cx="557" cy="1184.3" r="2.8"/>
<circle cx="570.4" cy="1160.3" r="2.8"/>
<circle cx="557.1" cy="1132.8" r="2.8"/>
<circle cx="545.1" cy="1161" r="2.8"/>
<circle cx="561.1" cy="1183" r="2.8"/>
<circle cx="557.8" cy="1193.7" r="2.8"/>
<circle cx="557" cy="1103.3" r="2.8"/>
<circle cx="549.7" cy="1180.8" r="2.8"/>
<circle cx="543.2" cy="1198.6" r="2.8"/>
<circle cx="539.9" cy="1186.2" r="2.8"/>
<circle cx="561.5" cy="1190.5" r="2.8"/>
<circle cx="538.5" cy="1189.9" r="2.8"/>
<circle cx="545.5" cy="1180.5" r="2.8"/>
<circle cx="552.9" cy="1168.9" r="2.8"/>
<circle cx="550.4" cy="1198.1" r="2.8"/>
<circle cx="571.9" cy="1188.5" r="2.8"/>
<circle cx="550.7" cy="1202.3" r="2.8"/>
<circle cx="565.3" cy="1191.9" r="2.8"/>
<circle cx="563.8" cy="1150.8" r="2.8"/>
<circle cx="568.5" cy="1193.9" r="2.8"/>
<circle cx="558.9" cy="1121.7" r="2.8"/>
<circle cx="563.5" cy="1164.1" r="2.8"/>
<circle cx="564.1" cy="1156.5" r="2.8"/>
<circle cx="554.7" cy="1167.6" r="2.8"/>
<circle cx="557.8" cy="1140.9" r="2.8"/>
<circle cx="554.7" cy="1135" r="2.8"/>
<circle cx="564.2" cy="1185.8" r="2.8"/>
<circle cx="553.9" cy="1111.4" r="2.8"/>
<circle cx="564.2" cy="1171.2" r="2.8"/>
<circle cx="555.2" cy="1154.7" r="2.8"/>
<circle cx="557.5" cy="1110.4" r="2.8"/>
<circle cx="555.1" cy="1177" r="2.8"/>
<circle cx="539.8" cy="1170.5" r="2.8"/>
<circle cx="552.2" cy="1155.4" r="2.8"/>
<circle cx="562.3" cy="1152.8" r="2.8"/>
<circle cx="571.5" cy="1185.2" r="2.8"/>
<circle cx="560.7" cy="1169.2" r="2.8"/>
<circle cx="549.6" cy="1149.4" r="2.8"/>
<circle cx="559.2" cy="1197.1" r="2.8"/>
<circle cx="560.3" cy="1118.1" r="2.8"/>
<circle cx="570.4" cy="1164.5" r="2.8"/>
<circle cx="555.5" cy="1139.6" r="2.8"/>
<circle cx="562.5" cy="1174.3" r="2.8"/>
<circle cx="558.3" cy="1152.4" r="2.8"/>
<circle cx="539.5" cy="1165.3" r="2.8"/>
<circle cx="557.7" cy="1092" r="2.8"/>
<circle cx="555.2" cy="1100.9" r="2.8"/>
<circle cx="565.7" cy="1183.7" r="2.8"/>
<circle cx="572.6" cy="1181.5" r="2.8"/>
<circle cx="550.6" cy="1157.7" r="2.8"/>
<circle cx="553.1" cy="1116.5" r="2.8"/>
<circle cx="561.2" cy="1184.7" r="2.8"/>
<circle cx="556.5" cy="1201.2" r="2.8"/>
<circle cx="566.3" cy="1161.3" r="2.8"/>
<circle cx="548.6" cy="1162.6" r="2.8"/>
<circle cx="577" cy="1194.4" r="2.8"/>
<circle cx="561" cy="1123.7" r="2.8"/>
<circle cx="575.6" cy="1191.4" r="2.8"/>
<circle cx="562.8" cy="1199.4" r="2.8"/>
<circle cx="550.2" cy="1184.5" r="2.8"/>
<circle cx="560" cy="1203.9" r="2.8"/>
<circle cx="564.9" cy="1155.4" r="2.8"/>
<circle cx="550" cy="1171.2" r="2.8"/>
<circle cx="560" cy="1109.7" r="2.8"/>
<circle cx="553.4" cy="1193.2" r="2.8"/>
<circle cx="560.7" cy="1192.1" r="2.8"/>
<circle cx="574.6" cy="1168.4" r="2.8"/>
<circle cx="566" cy="1203.3" r="2.8"/>
<circle cx="553.7" cy="1143.4" r="2.8"/>
<circle cx="571.5" cy="1172" r="2.8"/>
<circle cx="548.5" cy="1180" r="2.8"/>
<circle cx="553.2" cy="1120" r="2.8"/>
<circle cx="545.8" cy="1169.6" r="2.8"/>
<circle cx="568.1" cy="1190.9" r="2.8"/>
<circle cx="543.4" cy="1186.6" r="2.8"/>
<circle cx="557.7" cy="1158.4" r="2.8"/>
<circle cx="562.8" cy="1147.7" r="2.8"/>
<circle cx="541.2" cy="1188.6" r="2.8"/>
<circle cx="560.5" cy="1144.1" r="2.8"/>
<circle cx="567.5" cy="1186.7" r="2.8"/>
<circle cx="561.8" cy="1205" r="2.8"/>
<circle cx="560.2" cy="1157.2" r="2.8"/>
<circle cx="560.3" cy="1141.4" r="2.8"/>
<circle cx="578.9" cy="1170.1" r="2.8"/>
<circle cx="546.7" cy="1187.9" r="2.8"/>
<circle cx="571.8" cy="1177.5" r="2.8"/>
<circle cx="574.2" cy="1187.2" r="2.8"/>
<circle cx="557.3" cy="1107.5" r="2.8"/>
<circle cx="541.8" cy="1192.9" r="2.8"/>
<circle cx="547.1" cy="1166.9" r="2.8"/>
<circle cx="556.5" cy="1208.3" r="2.8"/>
<circle cx="559.5" cy="1172.4" r="2.8"/>
<circle cx="558.7" cy="1133.6" r="2.8"/>
<circle cx="557.1" cy="1213.6" r="2.8"/>
<circle cx="544.6" cy="1166.7" r="2.8"/>
<circle cx="553.9" cy="1181" r="2.8"/>
<circle cx="542.8" cy="1168.1" r="2.8"/>
<circle cx="561.5" cy="1126.2" r="2.8"/>
<circle cx="570.1" cy="1197.3" r="2.8"/>
<circle cx="557.8" cy="1151.8" r="2.8"/>
<circle cx="573.2" cy="1195.2" r="2.8"/>
<circle cx="554.9" cy="1196.4" r="2.8"/>
<circle cx="556.5" cy="1170.8" r="2.8"/>
<circle cx="563.3" cy="1200.4" r="2.8"/>
<circle cx="545.9" cy="1173.7" r="2.8"/>
<circle cx="558.4" cy="1166" r="2.8"/>
<circle cx="556.5" cy="1090.5" r="2.8"/>
<circle cx="537.4" cy="1195.9" r="2.8"/>
<circle cx="568.5" cy="1177.3" r="2.8"/>
<circle cx="559.6" cy="1130.6" r="2.8"/>
<circle cx="561.2" cy="1114.9" r="2.8"/>
<circle cx="553.6" cy="1201.7" r="2.8"/>
<circle cx="554.5" cy="1129" r="2.8"/>
<circle cx="561.9" cy="1178.5" r="2.8"/>
<circle cx="558.1" cy="1124.7" r="2.8"/>
<circle cx="559.3" cy="1103.9" r="2.8"/>
<circle cx="552" cy="1206.3" r="2.8"/>
<circle cx="557.1" cy="1073.2" r="2.8"/>
<circle cx="540.9" cy="1181.9" r="2.8"/>
<circle cx="545.2" cy="1192.5" r="2.8"/>
<circle cx="553.6" cy="1159.9" r="2.8"/>
<circle cx="556.9" cy="1189" r="2.8"/>
<circle cx="556.5" cy="1145.1" r="2.8"/>
<circle cx="557.2" cy="1182.5" r="2.8"/>
<circle cx="568" cy="1168.8" r="2.8"/>
<circle cx="568.2" cy="1173" r="2.8"/>
<circle cx="566.5" cy="1198.9" r="2.8"/>
<circle cx="557.9" cy="1212" r="2.8"/>
<circle cx="544.6" cy="1176.2" r="2.8"/>
<circle cx="557" cy="1163.1" r="2.8"/>
<circle cx="553.1" cy="1187.6" r="2.8"/>
<circle cx="572.2" cy="1172.8" r="2.8"/>
<circle cx="552.6" cy="1163.5" r="2.8"/>
<circle cx="543" cy="1175.7" r="2.8"/>
<circle cx="554.5" cy="1146.5" r="2.8"/>
<circle cx="567.6" cy="1159.6" r="2.8"/>
<circle cx="560.1" cy="1149.8" r="2.8"/>
<circle cx="538.2" cy="1173.6" r="2.8"/>
<circle cx="553" cy="1148.4" r="2.8"/>
<circle cx="535.6" cy="1171.7" r="2.8"/>
<circle cx="547" cy="1159.1" r="2.8"/>
<circle cx="559.4" cy="1179.1" r="2.8"/>
<circle cx="560.5" cy="1106.8" r="2.8"/>
<circle cx="550.1" cy="1191.1" r="2.8"/>
<circle cx="565.9" cy="1167.1" r="2.8"/>
<circle cx="561.6" cy="1162.2" r="2.8"/>
<circle cx="549.7" cy="1194.5" r="2.8"/>
<circle cx="564.4" cy="1195.5" r="2.8"/>
<circle cx="553.6" cy="1127.2" r="2.8"/>
<circle cx="569.4" cy="1183.4" r="2.8"/>
<circle cx="573.1" cy="1165.6" r="2.8"/>
</g>
<g class="eb"><line x1="532.3000000000001" y1="1162.8" x2="581.9" y2="1162.8"/><line x1="557.1" y1="1132.1" x2="557.1" y2="1193.5"/><line x1="545.3000000000001" y1="1132.1" x2="568.9" y2="1132.1"/><line x1="545.3000000000001" y1="1193.5" x2="568.9" y2="1193.5"/></g>
<g class="f">
<circle cx="633.9" cy="1094.8" r="2.8"/>
<circle cx="653.9" cy="1180.5" r="2.8"/>
<circle cx="634.2" cy="1174.8" r="2.8"/>
<circle cx="639.8" cy="1192.3" r="2.8"/>
<circle cx="620.1" cy="1185.8" r="2.8"/>
<circle cx="651.3" cy="1176" r="2.8"/>
<circle cx="637.1" cy="1196.3" r="2.8"/>
<circle cx="623.3" cy="1145.2" r="2.8"/>
<circle cx="623.2" cy="1163.9" r="2.8"/>
<circle cx="634" cy="1202.3" r="2.8"/>
<circle cx="629.5" cy="1203.6" r="2.8"/>
<circle cx="633.4" cy="1150.7" r="2.8"/>
<circle cx="644.4" cy="1159.8" r="2.8"/>
<circle cx="614.2" cy="1168.9" r="2.8"/>
<circle cx="630.8" cy="1187.3" r="2.8"/>
<circle cx="652.7" cy="1186.1" r="2.8"/>
<circle cx="621.3" cy="1187.5" r="2.8"/>
<circle cx="627.5" cy="1188.6" r="2.8"/>
<circle cx="636.8" cy="1169.8" r="2.8"/>
<circle cx="629.6" cy="1155.6" r="2.8"/>
<circle cx="637.2" cy="1155" r="2.8"/>
<circle cx="638.9" cy="1135.8" r="2.8"/>
<circle cx="627.2" cy="1153.1" r="2.8"/>
<circle cx="619.8" cy="1173.5" r="2.8"/>
<circle cx="637.2" cy="1207.5" r="2.8"/>
<circle cx="632" cy="1091.7" r="2.8"/>
<circle cx="640" cy="1163.3" r="2.8"/>
<circle cx="626.9" cy="1126.5" r="2.8"/>
<circle cx="630.4" cy="1206.4" r="2.8"/>
<circle cx="619.4" cy="1168.6" r="2.8"/>
<circle cx="635.7" cy="1136.1" r="2.8"/>
<circle cx="644.6" cy="1174" r="2.8"/>
<circle cx="618.1" cy="1196.2" r="2.8"/>
<circle cx="622.8" cy="1137.8" r="2.8"/>
<circle cx="619.8" cy="1167.5" r="2.8"/>
<circle cx="628.2" cy="1117.1" r="2.8"/>
<circle cx="647.1" cy="1158.6" r="2.8"/>
<circle cx="644.5" cy="1146.7" r="2.8"/>
<circle cx="616.1" cy="1189.6" r="2.8"/>
<circle cx="620.9" cy="1174.8" r="2.8"/>
<circle cx="632.7" cy="1165.2" r="2.8"/>
<circle cx="634.2" cy="1191.2" r="2.8"/>
<circle cx="626.9" cy="1141.9" r="2.8"/>
<circle cx="635.3" cy="1128.2" r="2.8"/>
<circle cx="615.2" cy="1192.4" r="2.8"/>
<circle cx="632.9" cy="1147.6" r="2.8"/>
<circle cx="648.3" cy="1190.8" r="2.8"/>
<circle cx="628.8" cy="1144.9" r="2.8"/>
<circle cx="641.3" cy="1199.1" r="2.8"/>
<circle cx="645.9" cy="1179.5" r="2.8"/>
<circle cx="633.5" cy="1208.7" r="2.8"/>
<circle cx="619.7" cy="1198.5" r="2.8"/>
<circle cx="618.1" cy="1152" r="2.8"/>
<circle cx="646.7" cy="1164.5" r="2.8"/>
<circle cx="635.8" cy="1194" r="2.8"/>
<circle cx="644.9" cy="1170.7" r="2.8"/>
<circle cx="640.3" cy="1149.7" r="2.8"/>
<circle cx="614.4" cy="1172.7" r="2.8"/>
<circle cx="644" cy="1153.9" r="2.8"/>
<circle cx="631.7" cy="1103.7" r="2.8"/>
<circle cx="639.3" cy="1178" r="2.8"/>
<circle cx="626.3" cy="1175.3" r="2.8"/>
<circle cx="613.2" cy="1176.7" r="2.8"/>
<circle cx="632.4" cy="1106.4" r="2.8"/>
<circle cx="641.9" cy="1180.7" r="2.8"/>
<circle cx="647.5" cy="1164.6" r="2.8"/>
<circle cx="627.8" cy="1180.1" r="2.8"/>
<circle cx="642.8" cy="1150.8" r="2.8"/>
<circle cx="642.2" cy="1171.2" r="2.8"/>
<circle cx="637.6" cy="1202.4" r="2.8"/>
<circle cx="620.7" cy="1171.3" r="2.8"/>
<circle cx="620.5" cy="1162.3" r="2.8"/>
<circle cx="632.3" cy="1069.1" r="2.8"/>
<circle cx="631.7" cy="1081.9" r="2.8"/>
<circle cx="633.2" cy="1096.2" r="2.8"/>
<circle cx="638" cy="1172.4" r="2.8"/>
<circle cx="634.6" cy="1205.2" r="2.8"/>
<circle cx="625.1" cy="1137.7" r="2.8"/>
<circle cx="634" cy="1110.8" r="2.8"/>
<circle cx="633.8" cy="1116.1" r="2.8"/>
<circle cx="630.6" cy="1191.8" r="2.8"/>
<circle cx="615.7" cy="1182.9" r="2.8"/>
<circle cx="622.7" cy="1141.8" r="2.8"/>
<circle cx="631.8" cy="1084.4" r="2.8"/>
<circle cx="626" cy="1194.1" r="2.8"/>
<circle cx="631.6" cy="1072.9" r="2.8"/>
<circle cx="636" cy="1114.7" r="2.8"/>
<circle cx="640.3" cy="1184.5" r="2.8"/>
<circle cx="622.7" cy="1187" r="2.8"/>
<circle cx="618.1" cy="1161.6" r="2.8"/>
<circle cx="623.7" cy="1175.3" r="2.8"/>
<circle cx="622.3" cy="1183.3" r="2.8"/>
<circle cx="634.6" cy="1169.3" r="2.8"/>
<circle cx="640.1" cy="1146.1" r="2.8"/>
<circle cx="638.4" cy="1193.9" r="2.8"/>
<circle cx="634.2" cy="1123.9" r="2.8"/>
<circle cx="630.8" cy="1154.8" r="2.8"/>
<circle cx="624.8" cy="1197.6" r="2.8"/>
<circle cx="640.6" cy="1136.9" r="2.8"/>
<circle cx="630.7" cy="1116.4" r="2.8"/>
<circle cx="641.4" cy="1151.1" r="2.8"/>
<circle cx="631.8" cy="1114.3" r="2.8"/>
<circle cx="624.2" cy="1187.7" r="2.8"/>
<circle cx="634.7" cy="1149.5" r="2.8"/>
<circle cx="633.9" cy="1134.5" r="2.8"/>
<circle cx="628.7" cy="1193.6" r="2.8"/>
<circle cx="629.4" cy="1143" r="2.8"/>
<circle cx="624" cy="1157.3" r="2.8"/>
<circle cx="646.4" cy="1198.8" r="2.8"/>
<circle cx="647.7" cy="1162.2" r="2.8"/>
<circle cx="627.3" cy="1205.5" r="2.8"/>
<circle cx="628.3" cy="1155.2" r="2.8"/>
<circle cx="628.1" cy="1133.3" r="2.8"/>
<circle cx="631.3" cy="1089.6" r="2.8"/>
<circle cx="630.7" cy="1134.3" r="2.8"/>
<circle cx="627" cy="1200.6" r="2.8"/>
<circle cx="648" cy="1192.1" r="2.8"/>
<circle cx="620.2" cy="1189.4" r="2.8"/>
<circle cx="625.4" cy="1132.5" r="2.8"/>
<circle cx="633.9" cy="1130" r="2.8"/>
<circle cx="635.8" cy="1147.3" r="2.8"/>
<circle cx="639.2" cy="1157.9" r="2.8"/>
<circle cx="643.3" cy="1157.6" r="2.8"/>
<circle cx="645.4" cy="1193.3" r="2.8"/>
<circle cx="634.7" cy="1211.7" r="2.8"/>
<circle cx="626.6" cy="1135.9" r="2.8"/>
<circle cx="623.1" cy="1201.3" r="2.8"/>
<circle cx="634.1" cy="1099.3" r="2.8"/>
<circle cx="632.4" cy="1154.3" r="2.8"/>
<circle cx="643.2" cy="1188.5" r="2.8"/>
<circle cx="633.3" cy="1215.7" r="2.8"/>
<circle cx="643.9" cy="1192.6" r="2.8"/>
<circle cx="636.2" cy="1118" r="2.8"/>
<circle cx="629" cy="1191.5" r="2.8"/>
<circle cx="630.5" cy="1136.8" r="2.8"/>
<circle cx="633.1" cy="1128.7" r="2.8"/>
<circle cx="634.3" cy="1145.9" r="2.8"/>
<circle cx="647.6" cy="1176.6" r="2.8"/>
<circle cx="631.7" cy="1201.8" r="2.8"/>
<circle cx="619.4" cy="1161.5" r="2.8"/>
<circle cx="621.7" cy="1162" r="2.8"/>
<circle cx="626.9" cy="1186.4" r="2.8"/>
<circle cx="648.5" cy="1185.5" r="2.8"/>
<circle cx="632.8" cy="1170.9" r="2.8"/>
<circle cx="636.1" cy="1151.6" r="2.8"/>
<circle cx="622.5" cy="1156.4" r="2.8"/>
<circle cx="639.5" cy="1184" r="2.8"/>
<circle cx="612.9" cy="1173.2" r="2.8"/>
<circle cx="647.1" cy="1186.9" r="2.8"/>
<circle cx="617.3" cy="1181.5" r="2.8"/>
<circle cx="638.1" cy="1190.3" r="2.8"/>
<circle cx="632.1" cy="1151.4" r="2.8"/>
<circle cx="636.4" cy="1139.6" r="2.8"/>
<circle cx="632.5" cy="1127.6" r="2.8"/>
<circle cx="640.8" cy="1181.3" r="2.8"/>
<circle cx="636" cy="1163.3" r="2.8"/>
<circle cx="629.5" cy="1117.6" r="2.8"/>
<circle cx="612.4" cy="1181" r="2.8"/>
<circle cx="641.8" cy="1191.7" r="2.8"/>
<circle cx="618.5" cy="1169.9" r="2.8"/>
<circle cx="636.5" cy="1201.2" r="2.8"/>
<circle cx="630.4" cy="1147.4" r="2.8"/>
<circle cx="633.1" cy="1113.8" r="2.8"/>
<circle cx="625.1" cy="1176.8" r="2.8"/>
<circle cx="643.5" cy="1179.4" r="2.8"/>
<circle cx="620.1" cy="1157.1" r="2.8"/>
<circle cx="641.8" cy="1141.5" r="2.8"/>
<circle cx="634.4" cy="1139.9" r="2.8"/>
<circle cx="629.7" cy="1186.7" r="2.8"/>
<circle cx="633" cy="1118.8" r="2.8"/>
<circle cx="625" cy="1174.9" r="2.8"/>
<circle cx="630.5" cy="1112.2" r="2.8"/>
<circle cx="642.7" cy="1203.3" r="2.8"/>
<circle cx="627.8" cy="1138.1" r="2.8"/>
<circle cx="624.8" cy="1169.1" r="2.8"/>
<circle cx="643.8" cy="1172.6" r="2.8"/>
<circle cx="630.6" cy="1111.9" r="2.8"/>
<circle cx="625.9" cy="1148.3" r="2.8"/>
<circle cx="627.3" cy="1199.7" r="2.8"/>
<circle cx="620.8" cy="1152.3" r="2.8"/>
<circle cx="632.2" cy="1210.9" r="2.8"/>
<circle cx="649" cy="1173.8" r="2.8"/>
<circle cx="620.6" cy="1194.6" r="2.8"/>
<circle cx="632.3" cy="1077.3" r="2.8"/>
<circle cx="634.6" cy="1101.2" r="2.8"/>
<circle cx="650.1" cy="1179.7" r="2.8"/>
<circle cx="631.8" cy="1182.7" r="2.8"/>
<circle cx="640.8" cy="1168.5" r="2.8"/>
<circle cx="621.2" cy="1182.1" r="2.8"/>
<circle cx="639.7" cy="1174.5" r="2.8"/>
<circle cx="629.4" cy="1105.1" r="2.8"/>
<circle cx="622" cy="1165.5" r="2.8"/>
<circle cx="632.6" cy="1101.9" r="2.8"/>
<circle cx="631.7" cy="1119" r="2.8"/>
<circle cx="621.3" cy="1159.3" r="2.8"/>
<circle cx="644.9" cy="1197.7" r="2.8"/>
<circle cx="633.5" cy="1152.8" r="2.8"/>
<circle cx="632.1" cy="1140.9" r="2.8"/>
<circle cx="639.6" cy="1166.9" r="2.8"/>
<circle cx="647.3" cy="1173.8" r="2.8"/>
<circle cx="630.4" cy="1159.6" r="2.8"/>
<circle cx="621.9" cy="1195.8" r="2.8"/>
<circle cx="635.2" cy="1124.5" r="2.8"/>
<circle cx="626.9" cy="1139" r="2.8"/>
<circle cx="639.6" cy="1190.5" r="2.8"/>
<circle cx="628" cy="1140.2" r="2.8"/>
<circle cx="630.9" cy="1102.4" r="2.8"/>
<circle cx="637.2" cy="1160.9" r="2.8"/>
<circle cx="635.8" cy="1188.1" r="2.8"/>
<circle cx="631.2" cy="1107.6" r="2.8"/>
<circle cx="633" cy="1156.7" r="2.8"/>
<circle cx="633.8" cy="1100.4" r="2.8"/>
<circle cx="632.8" cy="1110.6" r="2.8"/>
<circle cx="635.7" cy="1198.3" r="2.8"/>
<circle cx="626.4" cy="1189" r="2.8"/>
<circle cx="610.8" cy="1183.7" r="2.8"/>
<circle cx="630.1" cy="1192.9" r="2.8"/>
<circle cx="622.4" cy="1190.5" r="2.8"/>
<circle cx="652.5" cy="1177.3" r="2.8"/>
<circle cx="641" cy="1175.6" r="2.8"/>
<circle cx="636.5" cy="1133.7" r="2.8"/>
<circle cx="614.6" cy="1191.4" r="2.8"/>
<circle cx="640.6" cy="1159" r="2.8"/>
<circle cx="634.4" cy="1112.6" r="2.8"/>
<circle cx="624.8" cy="1144.3" r="2.8"/>
<circle cx="620.5" cy="1148" r="2.8"/>
<circle cx="637.9" cy="1128.9" r="2.8"/>
<circle cx="640.2" cy="1200.7" r="2.8"/>
<circle cx="646.1" cy="1175.7" r="2.8"/>
<circle cx="624.7" cy="1206.8" r="2.8"/>
<circle cx="623.2" cy="1153.3" r="2.8"/>
<circle cx="628.8" cy="1158.1" r="2.8"/>
<circle cx="644.5" cy="1186.5" r="2.8"/>
<circle cx="623.5" cy="1165.9" r="2.8"/>
<circle cx="630.1" cy="1196.1" r="2.8"/>
<circle cx="641.9" cy="1178.6" r="2.8"/>
<circle cx="632.9" cy="1194.8" r="2.8"/>
<circle cx="625.2" cy="1181.9" r="2.8"/>
<circle cx="621.6" cy="1147" r="2.8"/>
<circle cx="628.3" cy="1187.6" r="2.8"/>
<circle cx="629.7" cy="1148.9" r="2.8"/>
<circle cx="635.1" cy="1140.4" r="2.8"/>
<circle cx="633.6" cy="1185" r="2.8"/>
<circle cx="631.6" cy="1199.1" r="2.8"/>
<circle cx="651.5" cy="1180.2" r="2.8"/>
<circle cx="622.4" cy="1178.4" r="2.8"/>
<circle cx="624.3" cy="1202.7" r="2.8"/>
<circle cx="649.4" cy="1166.4" r="2.8"/>
<circle cx="634.9" cy="1163.5" r="2.8"/>
<circle cx="631.4" cy="1146.2" r="2.8"/>
<circle cx="629.5" cy="1108.1" r="2.8"/>
<circle cx="623.7" cy="1180.9" r="2.8"/>
<circle cx="636.7" cy="1120.7" r="2.8"/>
<circle cx="645.9" cy="1186" r="2.8"/>
<circle cx="622.1" cy="1173" r="2.8"/>
<circle cx="633" cy="1196.5" r="2.8"/>
<circle cx="617.4" cy="1190" r="2.8"/>
<circle cx="635.1" cy="1119.7" r="2.8"/>
<circle cx="631.8" cy="1129.5" r="2.8"/>
<circle cx="638.9" cy="1146.5" r="2.8"/>
<circle cx="638.2" cy="1178.6" r="2.8"/>
<circle cx="635.7" cy="1170.2" r="2.8"/>
<circle cx="645.8" cy="1188.8" r="2.8"/>
<circle cx="643.8" cy="1196.9" r="2.8"/>
<circle cx="631.7" cy="1189.3" r="2.8"/>
<circle cx="636.8" cy="1193" r="2.8"/>
<circle cx="651.2" cy="1184.9" r="2.8"/>
<circle cx="632.9" cy="1205.4" r="2.8"/>
<circle cx="632.8" cy="1182.4" r="2.8"/>
<circle cx="632.8" cy="1123.4" r="2.8"/>
<circle cx="627.6" cy="1171.7" r="2.8"/>
<circle cx="628.3" cy="1124.1" r="2.8"/>
<circle cx="615.3" cy="1164.1" r="2.8"/>
<circle cx="636.3" cy="1184.8" r="2.8"/>
<circle cx="629.5" cy="1135.2" r="2.8"/>
<circle cx="633.1" cy="1176.3" r="2.8"/>
<circle cx="635" cy="1187.9" r="2.8"/>
<circle cx="639.7" cy="1168.2" r="2.8"/>
<circle cx="618.8" cy="1189.3" r="2.8"/>
<circle cx="623.5" cy="1178.2" r="2.8"/>
<circle cx="629.2" cy="1140" r="2.8"/>
<circle cx="628.9" cy="1198.6" r="2.8"/>
<circle cx="620.9" cy="1167.9" r="2.8"/>
<circle cx="631.5" cy="1138.2" r="2.8"/>
<circle cx="646.4" cy="1194.2" r="2.8"/>
<circle cx="643.6" cy="1202.8" r="2.8"/>
<circle cx="647.3" cy="1183" r="2.8"/>
<circle cx="635.8" cy="1175.1" r="2.8"/>
<circle cx="642.4" cy="1165.7" r="2.8"/>
<circle cx="645.1" cy="1154.4" r="2.8"/>
<circle cx="628.7" cy="1209.9" r="2.8"/>
<circle cx="626.1" cy="1177.6" r="2.8"/>
<circle cx="632.8" cy="1086.3" r="2.8"/>
<circle cx="624.5" cy="1134.8" r="2.8"/>
<circle cx="633.4" cy="1126.5" r="2.8"/>
<circle cx="614.9" cy="1177.8" r="2.8"/>
<circle cx="635.7" cy="1133" r="2.8"/>
<circle cx="634.5" cy="1192.5" r="2.8"/>
<circle cx="618.9" cy="1187.4" r="2.8"/>
<circle cx="637.8" cy="1132.7" r="2.8"/>
<circle cx="615.4" cy="1171.8" r="2.8"/>
<circle cx="644.7" cy="1190.7" r="2.8"/>
<circle cx="639.2" cy="1137.3" r="2.8"/>
<circle cx="622.3" cy="1169.6" r="2.8"/>
<circle cx="636.7" cy="1178.3" r="2.8"/>
<circle cx="623.2" cy="1150.4" r="2.8"/>
<circle cx="627.3" cy="1160.5" r="2.8"/>
<circle cx="644.8" cy="1180.3" r="2.8"/>
<circle cx="631.1" cy="1143.7" r="2.8"/>
<circle cx="643.1" cy="1143.9" r="2.8"/>
<circle cx="630.5" cy="1097" r="2.8"/>
<circle cx="626.9" cy="1131.3" r="2.8"/>
<circle cx="616.8" cy="1172.8" r="2.8"/>
<circle cx="636" cy="1206.1" r="2.8"/>
<circle cx="625.9" cy="1144.5" r="2.8"/>
<circle cx="635.5" cy="1109.7" r="2.8"/>
<circle cx="629.7" cy="1161.3" r="2.8"/>
<circle cx="631.6" cy="1121.9" r="2.8"/>
<circle cx="642.5" cy="1147" r="2.8"/>
<circle cx="613.5" cy="1184.6" r="2.8"/>
<circle cx="626.7" cy="1158.5" r="2.8"/>
<circle cx="649.9" cy="1173.4" r="2.8"/>
<circle cx="638.2" cy="1197.4" r="2.8"/>
<circle cx="644.3" cy="1160.3" r="2.8"/>
<circle cx="642.6" cy="1153.5" r="2.8"/>
<circle cx="635.3" cy="1123" r="2.8"/>
<circle cx="621.6" cy="1142.2" r="2.8"/>
<circle cx="625.3" cy="1156.2" r="2.8"/>
<circle cx="634" cy="1158.7" r="2.8"/>
<circle cx="618.9" cy="1157.4" r="2.8"/>
<circle cx="628.9" cy="1204.3" r="2.8"/>
<circle cx="650.2" cy="1168.3" r="2.8"/>
<circle cx="617.2" cy="1184.3" r="2.8"/>
<circle cx="624.4" cy="1152.5" r="2.8"/>
<circle cx="616.8" cy="1171.4" r="2.8"/>
<circle cx="640.6" cy="1143.3" r="2.8"/>
<circle cx="627.8" cy="1175.9" r="2.8"/>
<circle cx="644.1" cy="1148.5" r="2.8"/>
<circle cx="648.9" cy="1171.1" r="2.8"/>
<circle cx="619.7" cy="1179.6" r="2.8"/>
<circle cx="621.9" cy="1203.1" r="2.8"/>
<circle cx="646.6" cy="1155.9" r="2.8"/>
<circle cx="629.2" cy="1168.8" r="2.8"/>
<circle cx="643.2" cy="1187.2" r="2.8"/>
<circle cx="648.8" cy="1182.8" r="2.8"/>
<circle cx="633.8" cy="1143.5" r="2.8"/>
<circle cx="619.8" cy="1183.9" r="2.8"/>
<circle cx="625.8" cy="1131.1" r="2.8"/>
<circle cx="640" cy="1198.1" r="2.8"/>
<circle cx="635.5" cy="1181.1" r="2.8"/>
<circle cx="631.2" cy="1212" r="2.8"/>
<circle cx="637.7" cy="1127.3" r="2.8"/>
<circle cx="634.7" cy="1105.7" r="2.8"/>
<circle cx="629.1" cy="1115.2" r="2.8"/>
<circle cx="635.4" cy="1179.8" r="2.8"/>
<circle cx="641.7" cy="1185.6" r="2.8"/>
<circle cx="625.1" cy="1189.8" r="2.8"/>
<circle cx="645.4" cy="1149.8" r="2.8"/>
<circle cx="621.6" cy="1151.2" r="2.8"/>
<circle cx="637.6" cy="1184.2" r="2.8"/>
<circle cx="638.5" cy="1167.8" r="2.8"/>
<circle cx="633.1" cy="1075.3" r="2.8"/>
<circle cx="633.6" cy="1106.8" r="2.8"/>
<circle cx="634.8" cy="1152.6" r="2.8"/>
<circle cx="628.2" cy="1128" r="2.8"/>
<circle cx="615.8" cy="1185.8" r="2.8"/>
<circle cx="636.6" cy="1125.7" r="2.8"/>
<circle cx="627.9" cy="1158.2" r="2.8"/>
<circle cx="630.9" cy="1162.8" r="2.8"/>
<circle cx="628.9" cy="1167.2" r="2.8"/>
<circle cx="616.6" cy="1195.5" r="2.8"/>
<circle cx="643.8" cy="1170.6" r="2.8"/>
<circle cx="621.3" cy="1191.2" r="2.8"/>
<circle cx="625" cy="1195.7" r="2.8"/>
<circle cx="628.7" cy="1160.1" r="2.8"/>
<circle cx="647.1" cy="1192" r="2.8"/>
<circle cx="641.3" cy="1193.6" r="2.8"/>
<circle cx="627.8" cy="1122.4" r="2.8"/>
<circle cx="652.3" cy="1181.3" r="2.8"/>
<circle cx="633" cy="1080.6" r="2.8"/>
<circle cx="634.1" cy="1179.9" r="2.8"/>
<circle cx="642.2" cy="1199.6" r="2.8"/>
<circle cx="631.8" cy="1098.6" r="2.8"/>
<circle cx="631.5" cy="1193.4" r="2.8"/>
<circle cx="624.4" cy="1162.6" r="2.8"/>
<circle cx="618.8" cy="1182.3" r="2.8"/>
<circle cx="628.9" cy="1183.4" r="2.8"/>
<circle cx="632.7" cy="1136.6" r="2.8"/>
<circle cx="629.5" cy="1125.7" r="2.8"/>
<circle cx="614.9" cy="1183.2" r="2.8"/>
<circle cx="614.6" cy="1186.2" r="2.8"/>
<circle cx="633.2" cy="1188" r="2.8"/>
<circle cx="612.2" cy="1186.6" r="2.8"/>
<circle cx="636.8" cy="1157" r="2.8"/>
<circle cx="633" cy="1174.2" r="2.8"/>
<circle cx="623.7" cy="1196.7" r="2.8"/>
<circle cx="626.1" cy="1170.5" r="2.8"/>
<circle cx="638.5" cy="1204.5" r="2.8"/>
<circle cx="637.9" cy="1140.8" r="2.8"/>
<circle cx="645.8" cy="1183.5" r="2.8"/>
<circle cx="634.5" cy="1164.2" r="2.8"/>
<circle cx="619.1" cy="1149.3" r="2.8"/>
<circle cx="645" cy="1166.2" r="2.8"/>
<circle cx="618.7" cy="1177" r="2.8"/>
<circle cx="630.7" cy="1130.5" r="2.8"/>
<circle cx="630.5" cy="1200.9" r="2.8"/>
<circle cx="615.5" cy="1172" r="2.8"/>
<circle cx="617.2" cy="1178.9" r="2.8"/>
<circle cx="645.9" cy="1160" r="2.8"/>
<circle cx="635.6" cy="1204" r="2.8"/>
<circle cx="637.8" cy="1151.8" r="2.8"/>
<circle cx="631.8" cy="1176.9" r="2.8"/>
<circle cx="636.7" cy="1130.6" r="2.8"/>
<circle cx="620.6" cy="1201.5" r="2.8"/>
<circle cx="632.2" cy="1163.7" r="2.8"/>
<circle cx="625.6" cy="1185.1" r="2.8"/>
<circle cx="630.1" cy="1178.1" r="2.8"/>
<circle cx="633.2" cy="1200" r="2.8"/>
<circle cx="623.6" cy="1195.5" r="2.8"/>
<circle cx="639" cy="1142.3" r="2.8"/>
<circle cx="628.2" cy="1200.3" r="2.8"/>
<circle cx="613.2" cy="1189.9" r="2.8"/>
<circle cx="641.3" cy="1163.9" r="2.8"/>
<circle cx="611.8" cy="1178.8" r="2.8"/>
<circle cx="616.7" cy="1162.8" r="2.8"/>
<circle cx="619.6" cy="1195.3" r="2.8"/>
<circle cx="638.5" cy="1161.2" r="2.8"/>
<circle cx="629.8" cy="1209.3" r="2.8"/>
<circle cx="625.5" cy="1160.8" r="2.8"/>
<circle cx="637.2" cy="1166.6" r="2.8"/>
<circle cx="618" cy="1166" r="2.8"/>
<circle cx="642.8" cy="1163.1" r="2.8"/>
<circle cx="642.3" cy="1172.2" r="2.8"/>
<circle cx="640.6" cy="1190.9" r="2.8"/>
<circle cx="619.4" cy="1154.2" r="2.8"/>
<circle cx="621.4" cy="1176.1" r="2.8"/>
<circle cx="642.3" cy="1195" r="2.8"/>
<circle cx="630" cy="1171.7" r="2.8"/>
<circle cx="627.9" cy="1167.3" r="2.8"/>
<circle cx="643.2" cy="1183.7" r="2.8"/>
<circle cx="640.2" cy="1133.9" r="2.8"/>
<circle cx="625.5" cy="1202" r="2.8"/>
<circle cx="630.1" cy="1167.6" r="2.8"/>
<circle cx="632.3" cy="1095.7" r="2.8"/>
<circle cx="631.8" cy="1159.1" r="2.8"/>
<circle cx="620.6" cy="1145.5" r="2.8"/>
<circle cx="637.1" cy="1181.6" r="2.8"/>
<circle cx="617.2" cy="1157.8" r="2.8"/>
<circle cx="618.4" cy="1194.5" r="2.8"/>
<circle cx="629.3" cy="1129.8" r="2.8"/>
<circle cx="644.5" cy="1177.5" r="2.8"/>
<circle cx="627.8" cy="1193.1" r="2.8"/>
<circle cx="649.9" cy="1185.4" r="2.8"/>
<circle cx="640.8" cy="1165.4" r="2.8"/>
<circle cx="649" cy="1195.1" r="2.8"/>
<circle cx="640.2" cy="1155.4" r="2.8"/>
<circle cx="638.8" cy="1153.7" r="2.8"/>
<circle cx="632.2" cy="1185.2" r="2.8"/>
<circle cx="633.9" cy="1161.8" r="2.8"/>
<circle cx="625.1" cy="1167" r="2.8"/>
<circle cx="620.9" cy="1197.1" r="2.8"/>
<circle cx="651.3" cy="1175.5" r="2.8"/>
<circle cx="631.9" cy="1135.3" r="2.8"/>
<circle cx="631.4" cy="1169.4" r="2.8"/>
<circle cx="642" cy="1159.5" r="2.8"/>
<circle cx="635.3" cy="1156.1" r="2.8"/>
<circle cx="632.3" cy="1067.4" r="2.8"/>
<circle cx="648.5" cy="1179.1" r="2.8"/>
<circle cx="636.1" cy="1142.6" r="2.8"/>
<circle cx="638.9" cy="1131.6" r="2.8"/>
<circle cx="637.8" cy="1138.8" r="2.8"/>
<circle cx="624.1" cy="1141.2" r="2.8"/>
<circle cx="630.2" cy="1182" r="2.8"/>
<circle cx="615.7" cy="1177.2" r="2.8"/>
<circle cx="639.8" cy="1204.9" r="2.8"/>
<circle cx="635.9" cy="1155.7" r="2.8"/>
<circle cx="618.7" cy="1173.7" r="2.8"/>
<circle cx="650" cy="1180.4" r="2.8"/>
<circle cx="631.7" cy="1206.6" r="2.8"/>
<circle cx="632.7" cy="1091.2" r="2.8"/>
<circle cx="635.8" cy="1165" r="2.8"/>
<circle cx="634.4" cy="1199.4" r="2.8"/>
<circle cx="638.4" cy="1156.5" r="2.8"/>
<circle cx="628.2" cy="1150.2" r="2.8"/>
<circle cx="630.7" cy="1148.7" r="2.8"/>
<circle cx="638.3" cy="1180.8" r="2.8"/>
<circle cx="630.8" cy="1125.2" r="2.8"/>
<circle cx="649.5" cy="1190.1" r="2.8"/>
<circle cx="641.7" cy="1144.2" r="2.8"/>
<circle cx="632.9" cy="1132" r="2.8"/>
<circle cx="616.9" cy="1165" r="2.8"/>
<circle cx="626.1" cy="1152.2" r="2.8"/>
<circle cx="646.1" cy="1170" r="2.8"/>
<circle cx="625.9" cy="1198" r="2.8"/>
<circle cx="638.9" cy="1200.2" r="2.8"/>
<circle cx="638.5" cy="1169.2" r="2.8"/>
<circle cx="630" cy="1173.1" r="2.8"/>
<circle cx="650.9" cy="1188.7" r="2.8"/>
<circle cx="621.8" cy="1152.9" r="2.8"/>
<circle cx="627.2" cy="1150" r="2.8"/>
<circle cx="629.1" cy="1121.3" r="2.8"/>
<circle cx="623.9" cy="1189.1" r="2.8"/>
<circle cx="630.6" cy="1093.3" r="2.8"/>
<circle cx="632.4" cy="1213.1" r="2.8"/>
<circle cx="640.9" cy="1176.4" r="2.8"/>
<circle cx="631.9" cy="1109.3" r="2.8"/>
<circle cx="622" cy="1197.1" r="2.8"/>
<circle cx="647.6" cy="1170.3" r="2.8"/>
<circle cx="641.5" cy="1154.7" r="2.8"/>
<circle cx="638.7" cy="1148.2" r="2.8"/>
<circle cx="631.4" cy="1208.5" r="2.8"/>
<circle cx="630.2" cy="1120.5" r="2.8"/>
<circle cx="637.2" cy="1144.9" r="2.8"/>
<circle cx="627.2" cy="1145.7" r="2.8"/>
<circle cx="624.2" cy="1149.1" r="2.8"/>
<circle cx="637" cy="1174.2" r="2.8"/>
<circle cx="631.7" cy="1174.5" r="2.8"/>
<circle cx="636.6" cy="1188.3" r="2.8"/>
<circle cx="613.3" cy="1181.8" r="2.8"/>
<circle cx="635.9" cy="1208.2" r="2.8"/>
<circle cx="646.5" cy="1162" r="2.8"/>
<circle cx="625.8" cy="1207.2" r="2.8"/>
<circle cx="626.7" cy="1182.3" r="2.8"/>
<circle cx="645.2" cy="1160.5" r="2.8"/>
<circle cx="626.1" cy="1164.7" r="2.8"/>
<circle cx="628.7" cy="1172.2" r="2.8"/>
<circle cx="641.6" cy="1138.7" r="2.8"/>
<circle cx="631.7" cy="1166.7" r="2.8"/>
<circle cx="629.8" cy="1103.5" r="2.8"/>
<circle cx="623.3" cy="1168" r="2.8"/>
<circle cx="624" cy="1139.3" r="2.8"/>
<circle cx="629.2" cy="1177.7" r="2.8"/>
<circle cx="625.8" cy="1142.8" r="2.8"/>
<circle cx="641.5" cy="1203.8" r="2.8"/>
<circle cx="627.8" cy="1179.2" r="2.8"/>
<circle cx="633.3" cy="1088.7" r="2.8"/>
<circle cx="639" cy="1184.3" r="2.8"/>
<circle cx="634" cy="1182.6" r="2.8"/>
<circle cx="632.3" cy="1085.9" r="2.8"/>
<circle cx="643.7" cy="1166.2" r="2.8"/>
</g>
<g class="eb"><line x1="607.5" y1="1163.6" x2="657.0999999999999" y2="1163.6"/><line x1="632.3" y1="1133.6" x2="632.3" y2="1192.4"/><line x1="620.5" y1="1133.6" x2="644.0999999999999" y2="1133.6"/><line x1="620.5" y1="1192.4" x2="644.0999999999999" y2="1192.4"/></g>
<text transform="translate(47.4,1132.5) rotate(-90)" text-anchor="middle" class="tt">IIV in nap duration</text>
<text transform="translate(66.9,1132.5) rotate(-90)" text-anchor="middle" class="tt">(standardized)</text>
<text transform="translate(459.1,1133.4) rotate(-90)" text-anchor="middle" class="tt2">IIV in nap duration</text>
<text transform="translate(476.9,1133.4) rotate(-90)" text-anchor="middle" class="tt2">(standardized)</text>
<text x="-0.5" y="1038.8" class="lt">i</text>
<text x="409" y="1038.8" class="lt">j</text>
</svg></body></html>
